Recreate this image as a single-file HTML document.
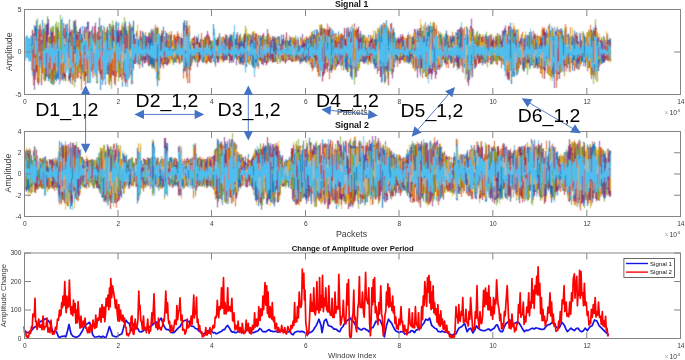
<!DOCTYPE html><html><head><meta charset="utf-8"><style>html,body{margin:0;padding:0;background:#fff;width:685px;height:360px;overflow:hidden}svg{display:block}text{font-family:"Liberation Sans",sans-serif}</style></head><body>
<svg width="685" height="360" viewBox="0 0 685 360">
<defs><filter id="bl" filterUnits="userSpaceOnUse" x="0" y="0" width="685" height="360"><feConvolveMatrix order="3 3" kernelMatrix="0.02 0.06 0.02 0.16 0.48 0.16 0.02 0.06 0.02" edgeMode="none"/></filter></defs>
<defs><clipPath id="c1"><rect x="24.5" y="9.5" width="656" height="85"/></clipPath><clipPath id="c2"><rect x="24.5" y="131.5" width="656" height="85"/></clipPath></defs>
<g fill="none" stroke-width="1" filter="url(#bl)">
<g clip-path="url(#c1)">
<path d="M30.5 51.6V59.4M44.5 34.8V45.3M57.5 51.6V65.0M61.5 28.3V70.3M64.5 43.3V58.0M72.5 40.2V78.4M83.5 37.0V67.1M84.5 32.6V47.9M89.5 46.5V61.3M100.5 32.6V49.0M101.5 25.1V67.4M110.5 36.8V56.0M114.5 48.4V84.4M128.5 26.4V47.3M136.5 54.4V56.4M156.5 32.4V47.7M164.5 42.8V57.7M172.5 45.0V52.7M192.5 46.1V60.2M197.5 37.8V50.7M210.5 43.2V61.2M213.5 24.0V57.4M222.5 49.6V60.9M225.5 38.8V56.9M231.5 49.1V55.8M233.5 32.5V51.4M251.5 45.2V51.4M266.5 44.1V56.9M269.5 40.2V54.8M275.5 52.1V58.9M285.5 38.1V61.8M287.5 44.3V54.7M288.5 42.5V59.7M292.5 43.9V52.3M293.5 39.9V58.4M315.5 49.3V59.8M319.5 54.5V71.0M332.5 30.3V60.7M333.5 57.5V61.2M344.5 47.3V62.1M352.5 53.7V60.6M356.5 30.4V62.7M357.5 30.0V58.8M366.5 40.8V51.9M367.5 54.4V57.8M368.5 34.7V62.3M371.5 44.5V56.4M376.5 54.1V63.9M382.5 27.4V64.7M391.5 46.2V65.2M398.5 57.2V61.0M401.5 50.6V60.0M413.5 54.0V61.7M414.5 49.4V50.8M422.5 46.8V61.4M432.5 25.9V52.1M447.5 49.5V62.2M464.5 40.7V67.3M465.5 47.5V64.7M472.5 32.5V53.6M481.5 38.5V52.6M482.5 58.8V60.7M490.5 44.8V57.7M493.5 48.2V49.1M502.5 39.8V55.3M503.5 43.8V64.9M508.5 27.0V57.5M517.5 29.6V53.7M521.5 43.8V48.5M525.5 46.0V60.2M528.5 55.8V59.0M532.5 47.1V59.8M537.5 40.8V50.6M545.5 36.1V61.3M556.5 35.9V61.1M557.5 45.7V64.8M558.5 52.7V74.4M566.5 41.8V53.3M575.5 41.3V59.7M586.5 47.2V56.8M594.5 44.4V62.6M598.5 58.5V63.3M608.5 47.4V60.6" stroke="#0072BD" stroke-opacity="0.85"/>
<path d="M25.5 49.1V55.9M31.5 55.0V66.6M56.5 50.0V61.2M73.5 34.8V62.6M75.5 26.7V55.2M78.5 32.7V77.6M81.5 53.6V90.0M82.5 41.0V56.1M91.5 50.4V55.5M107.5 32.4V67.1M111.5 41.5V64.3M115.5 37.4V49.9M119.5 38.6V50.8M122.5 43.0V56.7M130.5 24.1V56.4M133.5 61.4V70.6M140.5 31.6V57.8M147.5 46.1V62.1M149.5 40.6V55.9M158.5 45.6V71.0M165.5 46.3V60.9M166.5 50.1V58.2M181.5 52.9V61.8M187.5 56.7V83.2M188.5 37.4V44.9M200.5 47.0V55.8M201.5 36.8V58.1M211.5 48.8V60.0M215.5 40.3V52.2M219.5 49.9V59.1M221.5 41.0V50.8M238.5 37.3V60.1M245.5 39.2V67.9M247.5 44.6V53.4M249.5 49.7V65.0M256.5 34.9V61.9M260.5 41.0V55.0M264.5 45.3V59.3M267.5 39.2V57.5M277.5 46.6V59.7M279.5 37.1V59.2M283.5 37.1V54.4M286.5 34.7V57.6M290.5 50.6V60.3M298.5 40.5V60.6M299.5 53.4V59.9M302.5 42.9V53.8M304.5 37.6V53.7M307.5 37.7V51.1M309.5 44.0V59.6M314.5 52.1V56.5M325.5 50.5V61.9M335.5 42.5V61.3M338.5 45.0V58.5M351.5 33.9V71.6M359.5 41.9V64.1M363.5 42.3V46.8M369.5 45.8V60.8M370.5 39.9V48.5M372.5 52.5V57.2M379.5 27.2V56.2M381.5 40.6V49.4M387.5 40.2V57.1M388.5 31.3V44.1M400.5 51.0V63.2M407.5 40.2V63.1M412.5 50.6V59.4M415.5 49.8V58.9M419.5 49.2V62.3M424.5 31.9V48.8M426.5 26.7V68.0M430.5 52.0V73.6M439.5 34.1V58.8M477.5 38.0V58.7M478.5 45.1V62.6M480.5 36.9V63.2M484.5 48.6V52.7M489.5 38.4V52.7M509.5 25.7V48.3M510.5 35.2V47.5M515.5 57.4V60.7M520.5 50.6V60.8M530.5 40.3V56.1M536.5 44.5V51.8M538.5 57.6V64.7M539.5 36.2V66.8M540.5 47.8V73.4M541.5 40.8V72.6M542.5 43.5V78.0M552.5 33.0V54.0M554.5 39.0V58.5M565.5 24.0V54.1M567.5 44.4V55.2M576.5 40.6V55.0M588.5 55.4V68.3M589.5 43.0V66.0M600.5 55.4V56.2M609.5 46.6V49.5" stroke="#D95319" stroke-opacity="0.85"/>
<path d="M27.5 44.7V55.1M28.5 51.9V55.9M40.5 44.2V59.5M41.5 33.2V64.0M45.5 43.9V78.2M47.5 23.8V63.3M49.5 46.0V53.1M51.5 54.0V68.9M54.5 56.7V57.5M58.5 42.2V55.3M65.5 39.7V63.3M68.5 54.4V78.1M77.5 37.7V54.6M95.5 46.5V76.4M98.5 40.8V56.3M99.5 39.8V42.9M102.5 34.8V59.7M126.5 42.5V61.4M131.5 33.0V50.8M132.5 49.9V67.5M134.5 51.2V59.8M135.5 41.1V63.3M142.5 42.0V49.4M143.5 50.2V60.8M144.5 43.4V59.8M145.5 42.6V55.9M146.5 39.6V53.7M157.5 32.2V79.7M171.5 43.4V56.5M174.5 39.1V53.8M182.5 38.4V60.2M184.5 33.9V72.1M186.5 44.3V78.9M195.5 41.9V59.3M196.5 46.4V54.7M199.5 49.8V54.6M223.5 36.1V62.8M229.5 38.9V51.8M232.5 38.0V52.5M239.5 44.4V59.2M252.5 38.7V65.0M253.5 48.4V65.4M255.5 36.5V58.4M257.5 42.2V62.8M262.5 53.1V62.4M268.5 53.0V59.1M272.5 41.5V54.3M273.5 41.4V58.7M280.5 50.7V61.2M281.5 40.0V53.3M294.5 38.8V52.7M303.5 51.4V60.1M308.5 43.9V50.1M311.5 36.9V66.3M312.5 44.8V59.9M316.5 46.8V64.1M323.5 54.3V64.5M327.5 33.1V61.2M340.5 55.1V62.6M342.5 44.4V59.8M360.5 37.5V59.7M383.5 28.6V58.2M392.5 60.5V73.4M395.5 45.2V54.1M397.5 39.8V61.7M402.5 51.6V60.1M405.5 39.2V55.0M409.5 48.1V50.2M417.5 47.0V60.0M425.5 21.7V69.9M428.5 60.2V68.3M438.5 51.4V64.6M441.5 35.5V53.4M442.5 33.8V50.2M457.5 34.6V49.3M458.5 38.3V52.0M459.5 41.0V64.8M463.5 40.0V63.1M473.5 44.5V56.8M486.5 36.5V50.6M487.5 49.7V57.3M488.5 46.0V60.7M491.5 40.0V56.6M492.5 47.2V64.6M495.5 51.3V63.7M501.5 53.1V60.5M505.5 40.7V60.7M511.5 58.6V82.3M529.5 40.2V46.4M544.5 28.5V54.8M553.5 28.6V56.4M555.5 52.4V71.3M561.5 45.4V67.4M568.5 43.9V50.8M569.5 38.3V59.0M574.5 45.6V59.9M590.5 55.0V64.9M591.5 32.2V74.1M592.5 61.4V66.9M595.5 53.0V75.9M599.5 33.4V51.0M603.5 35.7V51.2M607.5 43.4V54.0M610.5 42.8V62.7" stroke="#EDB120" stroke-opacity="0.85"/>
<path d="M26.5 51.7V54.6M33.5 41.4V70.8M55.5 40.0V51.1M59.5 47.9V62.9M70.5 50.6V83.4M79.5 28.9V46.1M80.5 49.2V79.1M85.5 56.4V84.9M86.5 45.8V73.5M90.5 35.8V47.4M97.5 49.4V83.3M108.5 42.7V51.8M109.5 42.0V53.6M112.5 49.3V68.7M116.5 36.9V63.7M118.5 23.6V51.9M120.5 50.5V77.0M125.5 27.9V70.0M139.5 36.4V63.6M152.5 29.8V62.1M154.5 35.4V68.3M159.5 49.5V76.3M161.5 50.0V62.6M162.5 32.8V52.2M173.5 49.7V61.9M176.5 56.0V57.7M177.5 34.9V56.9M180.5 52.2V62.6M183.5 29.2V56.8M202.5 45.4V59.0M203.5 48.3V61.6M206.5 34.8V54.6M214.5 36.4V56.7M220.5 41.1V53.7M226.5 45.1V55.6M230.5 47.4V56.2M234.5 31.4V54.1M236.5 52.2V58.1M241.5 51.6V55.0M261.5 45.6V64.2M263.5 32.9V59.7M274.5 36.5V52.9M282.5 51.0V60.8M291.5 37.8V58.4M306.5 52.3V57.0M310.5 53.7V64.2M313.5 41.3V54.6M320.5 47.2V55.3M322.5 29.7V63.6M330.5 55.4V70.3M334.5 49.8V54.6M343.5 46.2V55.6M345.5 47.6V49.2M347.5 31.6V55.8M348.5 32.6V65.2M361.5 55.1V60.5M364.5 56.7V63.3M399.5 56.9V61.5M418.5 49.0V61.8M421.5 43.3V64.0M423.5 46.5V61.0M434.5 51.9V72.2M436.5 32.8V74.5M440.5 39.4V56.5M443.5 37.6V49.4M446.5 47.4V61.6M448.5 50.3V56.5M449.5 47.5V57.8M456.5 32.7V44.9M470.5 26.0V63.0M471.5 18.7V63.0M479.5 44.0V63.3M496.5 39.4V64.3M498.5 41.1V56.1M504.5 38.4V64.6M514.5 26.9V55.0M518.5 58.2V59.0M522.5 41.2V53.7M531.5 44.5V63.8M533.5 52.5V62.9M534.5 38.7V52.6M550.5 37.9V62.4M551.5 38.5V62.8M559.5 49.6V75.8M572.5 47.3V67.3M581.5 40.7V63.7M583.5 45.5V66.1M587.5 52.2V62.0M596.5 45.1V66.7" stroke="#7E2F8E" stroke-opacity="0.85"/>
<path d="M29.5 49.3V56.5M32.5 29.6V64.8M37.5 35.4V78.2M38.5 54.5V61.7M52.5 33.1V40.4M60.5 40.8V50.8M62.5 49.8V65.4M63.5 42.8V60.0M66.5 57.4V58.2M69.5 52.7V76.5M71.5 29.8V60.7M76.5 26.3V70.5M88.5 34.9V68.4M96.5 50.1V83.5M103.5 40.3V66.4M105.5 39.4V76.6M106.5 42.6V62.3M113.5 49.0V72.6M121.5 26.1V63.2M127.5 41.8V57.3M137.5 32.0V63.0M138.5 45.4V63.9M148.5 50.8V57.6M153.5 35.5V66.9M163.5 29.8V59.6M175.5 45.8V54.1M189.5 54.3V75.9M190.5 41.0V61.1M193.5 44.5V52.9M194.5 48.3V59.2M198.5 36.2V52.8M204.5 46.0V52.9M209.5 47.4V51.0M216.5 50.6V54.5M217.5 46.6V55.3M218.5 36.3V59.1M224.5 38.5V51.4M227.5 48.0V54.6M240.5 52.4V55.1M242.5 47.7V50.5M243.5 49.2V53.1M244.5 56.8V57.7M250.5 50.2V59.4M259.5 41.1V59.1M270.5 38.2V58.1M271.5 43.2V54.0M276.5 44.2V58.3M278.5 53.4V59.0M305.5 41.2V62.3M321.5 45.6V47.2M329.5 61.5V64.1M337.5 45.0V52.8M350.5 39.8V49.7M355.5 42.6V52.9M358.5 28.4V52.6M362.5 35.3V52.0M365.5 39.3V51.4M373.5 42.9V60.0M380.5 47.9V74.0M386.5 21.6V71.8M390.5 43.0V56.1M396.5 52.7V57.0M404.5 40.5V50.9M406.5 42.7V61.0M411.5 45.8V61.8M427.5 32.8V57.4M429.5 36.2V65.3M433.5 22.6V55.1M437.5 37.5V49.9M450.5 40.0V49.3M451.5 46.7V49.7M455.5 50.0V62.1M460.5 30.7V58.9M462.5 40.8V52.5M466.5 33.8V67.9M467.5 37.6V80.2M468.5 39.7V57.6M485.5 47.5V54.3M500.5 48.0V60.5M507.5 36.3V51.7M516.5 41.9V50.3M519.5 42.8V60.6M523.5 49.0V61.6M524.5 42.5V67.8M526.5 40.8V63.9M527.5 42.5V53.4M535.5 51.4V61.2M546.5 37.2V54.7M548.5 43.6V75.1M549.5 41.5V62.5M563.5 51.5V63.6M570.5 43.6V56.9M571.5 45.2V54.5M578.5 45.1V56.4M579.5 54.4V63.1M602.5 43.8V58.3M605.5 42.2V60.9M606.5 42.5V56.4" stroke="#77AC30" stroke-opacity="0.85"/>
<path d="M34.5 60.4V75.9M35.5 51.7V73.1M36.5 43.7V66.8M39.5 30.4V58.2M46.5 56.2V78.5M50.5 48.1V52.5M53.5 29.0V52.2M87.5 43.5V79.4M93.5 54.0V78.5M104.5 51.4V63.7M117.5 34.7V59.5M129.5 33.6V59.2M150.5 30.6V54.1M151.5 39.9V46.5M155.5 36.7V56.4M167.5 43.5V55.6M168.5 37.8V61.4M170.5 39.8V51.0M178.5 35.6V59.1M185.5 53.5V71.7M208.5 38.0V53.8M228.5 47.7V50.7M237.5 40.9V54.5M254.5 51.2V64.8M265.5 41.4V52.7M300.5 36.2V61.5M301.5 46.4V56.2M324.5 43.4V63.5M326.5 42.3V67.7M328.5 36.2V49.7M331.5 28.3V52.9M346.5 47.2V51.7M349.5 29.7V66.0M353.5 44.9V57.3M378.5 49.5V59.0M384.5 46.1V79.4M389.5 47.9V57.9M403.5 42.0V61.3M410.5 48.7V55.0M445.5 45.8V54.7M452.5 40.9V53.2M453.5 40.4V54.0M461.5 22.2V49.4M475.5 38.0V52.3M476.5 31.9V52.1M506.5 36.4V57.6M543.5 34.0V66.5M547.5 47.4V56.6M577.5 44.4V59.5M580.5 35.4V63.9M582.5 50.9V58.9M585.5 53.3V64.7M604.5 37.6V62.6" stroke="#4DBEEE" stroke-opacity="0.85"/>
<path d="M42.5 45.8V73.6M43.5 43.0V55.6M48.5 44.9V68.5M74.5 37.9V61.8M92.5 43.7V69.2M94.5 48.2V60.6M123.5 43.9V64.3M124.5 43.7V58.2M141.5 51.8V59.7M160.5 40.7V50.9M179.5 43.9V64.0M207.5 48.7V54.7M212.5 50.8V58.4M246.5 52.9V66.6M248.5 52.0V61.9M258.5 34.6V47.3M284.5 52.4V58.3M289.5 43.1V57.9M297.5 38.5V52.3M317.5 40.8V50.4M318.5 32.5V50.6M336.5 47.9V59.6M339.5 51.1V64.5M341.5 45.6V60.5M374.5 47.6V53.1M375.5 32.6V68.0M377.5 32.7V66.6M385.5 30.3V82.1M393.5 57.6V63.3M394.5 37.5V54.8M408.5 43.6V59.5M416.5 43.2V66.7M420.5 56.9V63.6M431.5 42.9V63.5M435.5 29.1V78.8M444.5 53.5V63.0M454.5 38.4V62.3M469.5 37.8V57.6M483.5 45.1V46.9M494.5 43.2V52.2M497.5 33.2V63.5M512.5 42.5V71.8M513.5 51.2V68.5M560.5 36.4V53.4M562.5 54.7V71.9M564.5 58.5V62.1M573.5 38.9V48.5M584.5 43.7V61.3M593.5 39.3V51.6M597.5 45.3V66.7" stroke="#A2142F" stroke-opacity="0.85"/>
<path d="M28.5 41.6V52.1M42.5 19.9V58.4M44.5 31.9V56.0M45.5 25.0V73.5M50.5 29.1V53.9M56.5 44.5V81.2M68.5 51.3V58.2M72.5 54.8V76.6M73.5 23.4V45.6M78.5 31.8V62.7M79.5 58.1V72.9M91.5 34.3V60.6M94.5 54.8V55.8M107.5 26.6V51.6M108.5 37.0V51.6M112.5 55.1V72.6M113.5 25.6V76.1M117.5 31.7V51.3M118.5 22.6V53.8M119.5 30.7V50.9M124.5 22.8V63.6M127.5 45.9V85.7M131.5 56.5V76.6M132.5 29.3V71.9M135.5 53.2V58.5M148.5 53.8V65.6M156.5 37.5V52.2M166.5 52.8V59.9M168.5 45.2V62.9M175.5 39.3V54.1M185.5 40.7V50.6M194.5 45.0V51.4M204.5 50.2V57.4M214.5 44.0V51.9M215.5 45.9V52.7M223.5 49.0V60.2M228.5 38.1V52.5M230.5 36.8V58.6M235.5 41.8V56.4M243.5 39.7V53.6M251.5 38.1V50.9M263.5 36.1V58.3M271.5 42.3V48.6M280.5 47.1V50.1M296.5 52.9V55.3M310.5 57.4V62.0M312.5 41.6V68.7M324.5 33.6V72.9M326.5 47.0V64.5M338.5 42.6V54.1M352.5 50.7V59.2M353.5 29.8V66.6M358.5 39.8V51.8M361.5 57.6V61.2M383.5 22.6V51.1M394.5 37.4V64.4M400.5 51.3V52.6M405.5 42.6V48.9M420.5 37.4V56.4M423.5 49.4V56.8M425.5 55.2V64.3M431.5 53.7V63.2M438.5 36.7V63.1M440.5 55.5V59.6M442.5 52.0V62.3M443.5 36.5V59.5M458.5 36.3V52.6M463.5 29.7V61.0M466.5 27.0V73.4M470.5 49.4V65.8M489.5 38.6V53.7M495.5 36.8V53.5M500.5 49.8V58.7M508.5 40.5V75.5M509.5 52.7V80.5M513.5 43.9V75.7M523.5 49.2V71.4M534.5 47.5V50.1M539.5 46.4V63.8M540.5 46.9V69.4M544.5 29.5V73.9M550.5 30.5V49.9M555.5 32.6V43.2M559.5 36.2V54.9M570.5 34.0V50.2M577.5 42.7V60.9M581.5 44.5V49.8M589.5 31.1V60.2M599.5 38.7V53.5M603.5 39.9V52.6M605.5 52.4V55.5" stroke="#0072BD" stroke-opacity="0.85"/>
<path d="M36.5 27.2V48.5M43.5 30.7V79.5M70.5 31.6V66.7M71.5 52.4V71.9M82.5 44.3V66.0M85.5 39.6V46.7M92.5 46.3V56.3M95.5 45.0V62.0M100.5 27.8V51.5M101.5 41.1V63.1M105.5 46.7V53.4M106.5 51.6V63.2M129.5 40.3V76.4M136.5 48.3V57.9M141.5 40.4V52.2M144.5 42.2V59.2M146.5 42.5V59.2M152.5 35.8V68.8M160.5 44.6V60.3M164.5 55.9V59.4M174.5 46.3V54.0M178.5 42.4V57.5M180.5 42.4V45.8M181.5 43.7V59.5M187.5 56.3V73.0M192.5 54.2V56.1M193.5 40.3V57.6M195.5 42.9V57.4M202.5 39.5V58.8M218.5 45.8V55.3M234.5 40.7V57.7M237.5 45.8V58.0M246.5 39.7V60.6M248.5 39.2V56.9M264.5 39.5V62.0M276.5 42.7V59.6M285.5 40.2V54.2M291.5 51.5V56.5M299.5 50.1V58.9M301.5 38.3V56.0M309.5 45.5V61.7M315.5 46.4V58.6M329.5 29.5V79.2M330.5 48.0V68.7M331.5 53.4V72.9M333.5 30.8V59.0M340.5 41.7V50.9M350.5 52.1V61.4M355.5 45.4V77.7M369.5 40.7V61.7M372.5 36.8V59.5M375.5 55.2V68.9M381.5 30.0V61.4M386.5 25.9V68.4M389.5 45.2V67.6M390.5 52.6V59.6M393.5 28.2V58.7M413.5 33.1V58.7M417.5 43.1V62.5M445.5 41.1V53.3M447.5 34.9V51.3M449.5 46.6V53.4M457.5 47.0V55.5M468.5 44.2V83.0M471.5 54.0V66.3M475.5 46.3V67.6M476.5 46.9V58.4M485.5 53.4V63.1M492.5 44.7V59.9M497.5 46.0V65.4M499.5 52.4V57.8M504.5 30.7V65.0M514.5 42.8V63.4M518.5 50.5V63.2M522.5 53.6V69.2M526.5 43.8V57.7M545.5 58.3V72.3M552.5 42.4V47.4M563.5 58.1V62.9M564.5 29.5V75.7M568.5 41.7V64.0M575.5 53.6V67.2M578.5 53.6V65.1M583.5 41.1V56.4M586.5 40.3V56.4M587.5 50.3V59.7M595.5 30.9V69.7M596.5 35.9V42.6M600.5 41.1V62.5M610.5 41.8V56.9" stroke="#D95319" stroke-opacity="0.85"/>
<path d="M27.5 38.5V57.7M30.5 45.3V52.4M31.5 45.7V58.9M35.5 32.1V60.6M46.5 39.4V52.8M48.5 39.6V58.6M53.5 44.4V65.1M57.5 48.0V70.6M66.5 57.1V63.3M69.5 34.2V60.5M77.5 44.5V71.5M88.5 42.8V63.0M90.5 36.3V62.6M102.5 37.1V53.2M109.5 37.8V62.6M114.5 38.7V41.5M120.5 29.6V56.0M121.5 24.8V51.1M125.5 36.2V66.4M138.5 50.6V54.7M139.5 51.7V57.2M153.5 28.7V54.1M154.5 44.0V45.5M161.5 42.0V55.2M165.5 31.6V55.9M176.5 42.4V50.3M184.5 20.3V55.2M186.5 31.0V54.4M198.5 37.8V59.4M200.5 40.5V52.0M212.5 40.3V52.5M213.5 35.5V61.4M219.5 38.1V55.9M221.5 46.1V59.7M224.5 41.9V61.0M225.5 54.6V56.7M226.5 39.2V51.3M239.5 37.1V53.1M241.5 37.8V54.3M242.5 42.0V50.6M257.5 35.1V63.9M259.5 49.2V59.9M260.5 50.7V56.2M267.5 44.3V57.1M273.5 50.0V58.8M277.5 45.0V51.1M278.5 54.5V56.2M282.5 54.0V58.2M287.5 40.5V51.4M288.5 46.9V51.1M297.5 49.7V53.2M304.5 50.5V60.7M307.5 43.8V63.7M313.5 40.8V57.7M318.5 34.4V68.7M320.5 39.6V61.5M321.5 55.1V70.6M322.5 46.1V54.3M323.5 48.8V49.7M325.5 29.4V72.6M341.5 35.3V70.3M347.5 39.3V64.7M351.5 41.0V56.9M359.5 42.8V66.8M365.5 39.4V49.0M367.5 49.7V64.5M370.5 41.4V56.5M382.5 47.7V63.6M385.5 26.0V55.3M388.5 43.7V46.1M398.5 47.5V51.3M401.5 52.3V57.4M403.5 49.3V53.6M411.5 36.8V53.7M416.5 37.4V56.9M429.5 39.1V49.6M432.5 22.8V56.0M450.5 52.2V61.1M454.5 38.3V64.6M472.5 32.9V57.9M482.5 34.1V61.1M483.5 42.4V51.9M493.5 46.5V51.0M496.5 42.5V63.0M502.5 32.6V64.1M503.5 39.4V56.9M506.5 50.7V71.7M516.5 37.3V62.5M524.5 35.6V72.0M547.5 56.3V70.9M560.5 33.9V73.0M562.5 31.8V62.4M569.5 51.1V69.7M572.5 27.5V68.3M579.5 43.0V50.9M584.5 40.3V61.0M585.5 42.0V60.0M591.5 59.1V70.2M598.5 45.0V64.1M602.5 39.6V57.6M606.5 31.3V52.6M607.5 54.3V59.9M608.5 40.6V57.7" stroke="#EDB120" stroke-opacity="0.85"/>
<path d="M25.5 40.5V52.8M38.5 56.8V75.7M40.5 41.4V58.5M49.5 42.8V57.0M51.5 56.4V60.5M54.5 44.1V68.6M58.5 53.6V72.6M61.5 50.2V79.1M65.5 42.4V51.7M83.5 46.6V50.8M84.5 51.9V68.1M86.5 27.0V75.6M87.5 21.7V74.6M98.5 27.1V53.5M104.5 35.8V62.5M110.5 29.6V78.4M111.5 52.9V76.7M115.5 50.7V73.5M130.5 37.9V68.2M134.5 49.7V54.6M137.5 33.9V56.8M140.5 51.3V63.4M147.5 44.7V61.2M158.5 39.4V62.2M163.5 48.9V58.7M167.5 52.0V60.6M169.5 47.2V57.9M172.5 52.3V61.5M183.5 27.2V73.3M188.5 39.6V65.7M189.5 45.6V50.6M199.5 49.9V56.2M210.5 41.2V52.1M211.5 50.3V53.4M227.5 55.3V56.5M232.5 52.7V54.1M238.5 46.2V50.8M240.5 36.1V54.2M244.5 58.4V60.4M245.5 42.7V50.4M247.5 52.9V55.4M249.5 46.2V55.0M254.5 56.3V65.6M255.5 33.3V53.9M266.5 42.8V57.5M284.5 45.7V61.1M286.5 45.8V57.5M289.5 48.4V55.1M308.5 54.1V59.5M311.5 41.5V67.0M314.5 43.9V57.5M316.5 48.7V52.9M317.5 47.6V54.9M319.5 32.2V60.2M334.5 37.7V49.2M335.5 36.1V54.0M343.5 51.5V70.4M344.5 44.1V61.8M348.5 39.4V53.7M364.5 42.8V63.6M366.5 48.0V61.0M371.5 40.7V57.6M373.5 40.9V52.6M374.5 42.7V59.1M376.5 48.7V64.4M377.5 50.5V67.4M378.5 53.0V64.2M387.5 35.9V74.3M391.5 33.7V68.9M419.5 28.2V70.5M421.5 36.4V66.4M430.5 39.4V70.2M433.5 35.8V56.9M436.5 61.7V74.4M453.5 46.8V62.7M455.5 37.0V56.3M460.5 44.0V57.3M465.5 43.7V74.3M467.5 53.2V73.2M469.5 43.4V45.0M473.5 37.0V52.6M474.5 45.5V55.0M478.5 41.6V58.2M479.5 43.5V56.2M490.5 42.0V60.9M510.5 45.8V65.8M511.5 42.2V49.1M515.5 45.6V56.0M517.5 43.3V74.6M527.5 45.2V62.5M528.5 50.7V61.1M530.5 40.4V49.4M532.5 43.1V63.4M535.5 34.3V46.2M537.5 48.2V58.3M548.5 39.8V70.5M549.5 37.6V49.1M554.5 43.0V76.2M574.5 44.6V68.5M580.5 55.1V66.2M582.5 46.2V61.0M588.5 37.5V60.8M593.5 35.4V59.7M594.5 44.7V72.5M601.5 43.7V50.0M609.5 45.5V50.7" stroke="#7E2F8E" stroke-opacity="0.85"/>
<path d="M26.5 42.4V55.4M32.5 37.8V54.9M34.5 45.7V69.9M39.5 53.2V68.7M41.5 39.0V46.8M55.5 26.7V58.7M63.5 55.1V81.1M75.5 49.3V65.6M89.5 37.7V44.7M97.5 34.0V73.7M103.5 44.1V62.2M116.5 23.8V60.2M126.5 33.6V77.8M142.5 44.7V67.2M145.5 45.1V51.9M150.5 37.6V57.0M151.5 55.4V65.3M157.5 45.8V82.5M162.5 41.3V61.8M170.5 38.2V55.7M171.5 42.7V50.2M177.5 33.3V53.3M179.5 36.6V54.3M191.5 38.9V65.8M196.5 38.4V60.2M197.5 45.0V57.7M203.5 44.6V56.6M205.5 46.5V51.0M206.5 45.6V64.3M207.5 50.8V58.9M208.5 43.1V57.0M222.5 47.7V51.9M265.5 45.6V57.9M268.5 45.0V52.0M269.5 36.8V50.1M272.5 53.3V57.7M274.5 54.7V58.2M275.5 48.0V54.2M279.5 52.9V60.6M281.5 52.4V57.5M290.5 52.1V56.3M292.5 44.6V50.3M294.5 43.5V54.3M298.5 51.6V54.3M300.5 38.2V61.8M303.5 45.4V51.5M305.5 41.8V62.3M306.5 40.4V47.5M327.5 46.5V56.0M328.5 44.9V61.4M332.5 52.5V67.8M336.5 43.5V55.0M337.5 48.5V54.1M346.5 32.2V60.9M349.5 34.9V51.0M354.5 45.6V71.3M356.5 42.5V63.7M360.5 39.3V51.8M363.5 37.1V59.8M368.5 45.4V60.2M392.5 32.3V68.9M397.5 45.7V55.1M410.5 35.7V50.2M414.5 37.5V51.9M422.5 43.9V53.2M441.5 34.0V57.9M444.5 40.2V60.5M446.5 43.0V57.4M452.5 42.9V49.9M486.5 31.7V49.6M488.5 51.2V55.0M494.5 49.2V60.5M501.5 38.8V63.7M505.5 56.3V63.1M512.5 31.9V58.6M519.5 53.3V57.1M520.5 39.5V62.8M521.5 49.2V64.1M525.5 44.4V65.1M531.5 53.8V61.0M536.5 41.5V61.4M542.5 43.9V64.6M543.5 57.6V68.6M551.5 39.3V55.2M557.5 45.9V60.5M566.5 37.7V54.1M567.5 44.9V47.8M576.5 42.8V69.3M604.5 44.1V49.8" stroke="#77AC30" stroke-opacity="0.85"/>
<path d="M29.5 53.3V57.4M52.5 25.4V72.0M59.5 37.2V60.6M64.5 44.4V45.4M74.5 21.0V60.4M80.5 27.3V57.2M123.5 30.4V79.6M128.5 34.7V72.7M133.5 32.1V58.1M143.5 41.3V62.3M190.5 48.2V66.4M216.5 49.9V58.5M217.5 40.9V58.6M231.5 38.8V59.0M233.5 42.5V61.2M252.5 52.8V60.5M258.5 41.1V50.8M283.5 35.2V49.4M293.5 44.5V57.5M339.5 47.2V53.5M345.5 48.8V64.5M357.5 40.1V68.6M402.5 47.2V58.7M406.5 52.3V61.8M409.5 35.0V60.1M415.5 41.9V60.3M418.5 35.6V62.2M428.5 60.8V83.3M434.5 48.3V68.1M435.5 33.6V53.8M459.5 30.1V56.7M462.5 37.6V50.8M464.5 42.7V67.9M481.5 40.3V62.2M487.5 44.6V57.7M529.5 48.7V63.8M541.5 39.4V69.4M546.5 30.7V54.9M553.5 38.1V75.4M556.5 28.0V63.8M558.5 35.4V55.4M561.5 36.3V59.2M565.5 40.1V50.5M573.5 42.5V58.7M592.5 44.8V50.4M597.5 55.8V63.7" stroke="#4DBEEE" stroke-opacity="0.85"/>
<path d="M33.5 33.5V65.7M37.5 33.4V60.1M47.5 29.6V76.8M60.5 37.9V54.7M76.5 36.4V64.9M96.5 56.0V74.8M99.5 60.0V72.5M122.5 45.8V69.7M149.5 54.2V57.3M155.5 41.3V48.3M159.5 39.2V66.6M173.5 38.3V57.9M182.5 50.1V60.6M201.5 44.8V60.4M209.5 45.4V56.7M229.5 50.9V63.1M236.5 54.3V57.1M253.5 51.2V57.5M256.5 50.6V63.4M295.5 37.2V52.9M302.5 45.7V54.3M342.5 41.6V65.3M362.5 37.4V57.5M379.5 31.4V60.6M396.5 43.1V55.4M399.5 44.7V52.6M404.5 55.7V56.8M407.5 36.7V54.5M412.5 39.7V64.4M424.5 27.6V53.7M426.5 27.9V51.6M427.5 27.4V62.3M437.5 40.2V70.1M439.5 45.3V66.8M448.5 44.4V51.0M456.5 44.0V51.5M461.5 47.0V58.6M480.5 44.8V60.2M484.5 47.8V61.5M491.5 38.2V55.9M498.5 48.9V56.8M507.5 43.2V51.1M538.5 41.2V56.1M571.5 36.8V60.4M590.5 35.5V60.4" stroke="#A2142F" stroke-opacity="0.85"/>
<path d="M32.5 40.7V74.7M36.5 20.3V68.0M38.5 29.1V61.6M39.5 28.6V49.5M48.5 40.6V65.3M53.5 56.2V85.1M69.5 19.3V51.0M78.5 43.8V61.1M86.5 51.2V73.1M92.5 26.6V51.1M99.5 42.6V73.2M102.5 34.9V84.9M104.5 27.3V58.9M122.5 46.9V65.8M130.5 32.3V48.1M134.5 43.3V53.3M140.5 54.4V63.5M148.5 38.4V66.2M149.5 42.5V53.8M155.5 48.0V67.0M163.5 26.6V50.3M167.5 56.6V57.6M182.5 38.5V60.6M185.5 37.3V65.0M188.5 56.1V62.9M189.5 54.3V64.0M190.5 43.4V56.6M195.5 46.8V60.9M199.5 45.8V52.6M200.5 38.9V54.8M202.5 45.2V55.6M204.5 37.8V52.1M212.5 51.8V55.3M215.5 52.9V64.3M220.5 43.2V56.6M223.5 41.1V58.9M227.5 53.1V57.7M247.5 34.1V52.7M259.5 48.0V58.2M263.5 35.6V61.5M277.5 45.6V59.5M286.5 36.4V55.5M287.5 39.4V58.1M294.5 42.4V50.4M304.5 49.2V56.5M310.5 39.6V57.8M315.5 35.4V49.0M320.5 50.5V62.8M326.5 41.6V59.4M337.5 51.5V62.5M339.5 55.9V59.5M341.5 33.1V63.0M343.5 58.6V65.9M344.5 42.8V60.8M347.5 42.5V50.5M348.5 38.9V62.0M359.5 41.2V52.0M362.5 40.8V51.6M370.5 46.7V55.0M378.5 30.4V59.3M388.5 57.5V75.7M410.5 43.6V50.6M411.5 45.3V51.7M417.5 31.5V60.2M421.5 31.6V57.6M427.5 31.5V78.2M429.5 37.4V61.4M439.5 38.7V60.1M444.5 51.8V62.2M445.5 51.8V57.8M473.5 49.3V61.9M474.5 43.4V69.1M475.5 49.0V62.8M477.5 41.2V58.6M479.5 46.2V51.5M481.5 43.0V62.8M484.5 55.0V61.2M490.5 45.1V50.7M491.5 48.1V62.9M494.5 49.4V58.0M498.5 38.0V54.4M500.5 37.5V48.8M501.5 47.9V68.3M506.5 33.4V70.2M512.5 29.3V48.7M532.5 54.4V65.9M545.5 35.0V59.8M546.5 54.3V60.8M548.5 46.2V52.5M558.5 29.0V46.8M567.5 45.5V54.6M573.5 39.7V51.1M575.5 53.8V62.9M579.5 38.7V68.9M586.5 52.1V54.0M587.5 44.7V54.0M591.5 39.9V79.2M600.5 53.2V64.5M607.5 47.2V52.5M609.5 47.2V58.3" stroke="#0072BD" stroke-opacity="0.85"/>
<path d="M26.5 48.1V54.4M27.5 47.1V57.2M35.5 26.2V58.2M46.5 43.2V71.0M54.5 35.9V83.3M55.5 34.9V74.1M58.5 58.1V59.0M62.5 52.5V75.8M63.5 39.4V63.4M64.5 43.2V52.8M68.5 41.5V71.1M73.5 37.4V49.4M100.5 29.3V43.2M101.5 42.6V79.6M103.5 45.9V71.0M107.5 53.4V74.1M118.5 35.7V65.9M126.5 40.7V62.2M139.5 41.6V55.1M158.5 33.0V65.2M159.5 56.8V80.6M160.5 36.3V50.8M168.5 50.7V63.8M169.5 47.8V55.5M179.5 41.6V55.9M201.5 33.0V55.7M207.5 39.3V52.8M209.5 36.5V56.4M228.5 39.4V54.0M239.5 38.1V56.2M240.5 35.5V55.6M241.5 43.3V53.8M244.5 42.3V52.1M249.5 41.8V59.1M251.5 38.5V56.4M253.5 50.1V63.7M258.5 52.4V68.8M261.5 38.6V60.8M265.5 39.8V55.6M275.5 51.4V57.9M284.5 40.5V54.2M291.5 36.9V56.2M303.5 45.4V61.2M312.5 30.9V71.3M313.5 51.1V68.9M333.5 43.2V65.0M335.5 48.8V70.0M349.5 46.7V49.0M351.5 27.5V49.1M357.5 28.9V66.3M360.5 51.5V61.3M371.5 41.3V60.0M375.5 51.4V62.0M376.5 54.1V62.8M390.5 23.7V70.6M391.5 24.7V45.7M402.5 49.6V53.6M404.5 45.4V59.2M405.5 49.6V58.5M416.5 53.2V68.8M431.5 26.5V70.5M432.5 43.4V51.4M434.5 44.5V63.1M436.5 42.2V70.9M438.5 49.4V59.4M440.5 37.7V54.7M457.5 41.0V52.5M458.5 38.1V66.2M459.5 56.2V57.8M461.5 32.9V61.8M464.5 27.1V44.8M466.5 37.7V45.5M472.5 27.9V68.2M487.5 41.7V56.1M493.5 39.1V59.9M505.5 38.5V60.9M511.5 62.6V69.5M513.5 34.4V71.6M516.5 45.3V60.7M520.5 45.0V64.7M521.5 39.5V58.9M535.5 40.7V52.4M543.5 43.0V64.8M549.5 43.8V63.9M551.5 58.5V64.3M561.5 33.9V65.4M564.5 58.6V69.4M580.5 43.2V63.7M585.5 47.3V58.6M593.5 48.3V72.7M601.5 41.6V57.1M602.5 52.3V54.9M603.5 49.3V57.8M605.5 40.4V59.2" stroke="#D95319" stroke-opacity="0.85"/>
<path d="M31.5 35.0V50.5M33.5 37.7V63.6M34.5 32.2V44.6M40.5 56.4V64.0M42.5 41.4V52.5M44.5 52.7V68.2M47.5 42.3V61.4M59.5 39.4V48.8M66.5 26.5V65.3M67.5 60.3V63.4M80.5 34.9V48.7M88.5 47.9V74.4M90.5 35.0V51.0M93.5 44.6V57.5M96.5 42.5V59.5M105.5 37.1V50.2M113.5 31.9V68.8M124.5 57.6V60.2M125.5 29.3V46.7M128.5 40.7V60.6M132.5 42.6V75.1M133.5 42.5V57.7M141.5 36.8V57.6M161.5 29.8V55.2M173.5 37.5V50.2M197.5 50.2V62.7M203.5 44.8V51.2M210.5 39.3V48.9M211.5 42.8V54.8M216.5 39.8V58.2M218.5 41.4V56.7M222.5 38.5V51.7M225.5 44.9V51.6M234.5 30.4V52.0M243.5 49.4V62.0M254.5 36.5V47.6M260.5 47.1V56.0M267.5 45.2V52.0M271.5 48.0V52.7M289.5 47.4V58.8M295.5 47.3V60.6M298.5 54.2V58.5M305.5 43.5V50.1M314.5 36.9V65.1M317.5 40.0V50.0M334.5 47.7V64.1M336.5 49.5V56.5M340.5 40.0V59.6M350.5 46.4V75.5M352.5 25.0V78.8M355.5 30.1V60.0M363.5 46.4V64.2M364.5 42.9V56.2M369.5 45.1V61.2M374.5 52.5V66.3M385.5 56.5V75.3M386.5 60.0V72.0M387.5 36.8V70.3M394.5 33.4V55.2M412.5 42.4V61.0M418.5 34.8V59.9M426.5 41.9V77.6M437.5 39.6V49.2M454.5 56.0V57.0M456.5 44.9V60.6M463.5 29.7V73.6M468.5 59.9V79.3M478.5 50.2V56.1M486.5 50.4V59.7M489.5 53.9V56.7M496.5 41.7V54.8M510.5 40.5V50.9M523.5 40.8V48.5M524.5 35.5V66.9M526.5 41.1V51.2M527.5 41.6V63.1M528.5 45.8V64.4M531.5 54.2V64.9M534.5 42.8V49.6M539.5 38.0V54.6M553.5 31.7V66.3M563.5 55.6V70.1M568.5 50.5V60.4M572.5 40.4V54.1M576.5 40.7V61.5M578.5 47.8V68.2M589.5 46.4V68.3M592.5 41.6V52.3M594.5 46.3V77.2M604.5 47.1V54.5" stroke="#EDB120" stroke-opacity="0.85"/>
<path d="M28.5 43.8V56.8M30.5 48.3V55.0M45.5 54.7V69.3M50.5 53.7V70.1M51.5 54.3V76.9M60.5 26.4V63.3M71.5 38.7V56.1M76.5 53.7V64.7M82.5 32.5V53.3M89.5 35.2V50.3M106.5 39.0V62.7M109.5 23.7V85.2M114.5 38.1V61.8M120.5 32.0V66.8M123.5 26.7V58.0M129.5 28.9V62.7M131.5 47.2V81.0M143.5 34.1V58.6M145.5 39.7V52.0M151.5 28.9V52.9M156.5 36.2V48.1M157.5 28.5V62.1M164.5 36.4V53.3M165.5 30.9V58.1M170.5 46.6V58.4M171.5 48.9V59.0M172.5 43.3V53.0M174.5 34.4V60.9M178.5 61.1V62.4M181.5 36.2V56.4M184.5 39.6V45.6M186.5 50.1V73.2M193.5 45.2V57.4M196.5 40.8V56.8M198.5 44.1V58.4M219.5 46.9V57.9M221.5 40.3V58.6M224.5 41.8V54.1M248.5 41.9V59.4M250.5 41.8V53.9M256.5 53.0V62.8M269.5 46.2V59.9M272.5 47.2V60.3M273.5 49.3V57.4M276.5 43.2V59.8M278.5 52.4V55.3M279.5 47.5V58.7M281.5 42.2V56.5M283.5 34.6V50.9M288.5 48.4V57.8M290.5 37.3V51.6M292.5 38.9V61.8M297.5 41.4V54.4M299.5 48.1V62.3M307.5 45.2V51.8M323.5 28.8V44.3M325.5 54.9V57.5M330.5 31.5V59.0M331.5 35.7V64.3M342.5 35.3V60.7M346.5 28.3V63.0M354.5 23.5V58.8M356.5 56.4V66.1M358.5 27.6V60.2M367.5 46.2V50.3M368.5 53.5V64.5M373.5 34.4V64.2M382.5 28.7V57.6M383.5 29.3V57.5M384.5 24.9V60.3M389.5 47.2V70.6M395.5 39.6V55.7M403.5 36.6V53.3M406.5 47.9V55.0M408.5 39.8V51.7M422.5 42.8V70.7M430.5 31.6V56.8M433.5 45.3V53.5M447.5 38.4V55.6M452.5 38.3V54.7M469.5 29.6V60.2M470.5 33.0V56.6M480.5 42.4V50.9M482.5 52.7V65.5M483.5 40.8V59.2M488.5 38.1V53.8M492.5 53.8V64.0M503.5 32.1V52.3M507.5 48.6V79.3M518.5 36.6V60.4M530.5 51.3V66.3M536.5 41.7V54.5M540.5 53.9V68.7M552.5 35.4V44.2M557.5 27.2V67.6M571.5 38.6V61.2M577.5 47.1V49.8M590.5 30.3V61.9M595.5 25.7V77.9" stroke="#7E2F8E" stroke-opacity="0.85"/>
<path d="M29.5 49.9V58.0M37.5 18.2V56.0M57.5 33.4V53.9M61.5 35.9V74.9M65.5 58.9V61.0M74.5 36.0V66.1M75.5 44.6V74.9M79.5 37.6V65.1M84.5 31.9V51.5M85.5 47.8V81.1M87.5 55.3V62.3M91.5 51.3V66.2M94.5 42.6V56.9M95.5 31.2V67.5M97.5 32.0V55.5M98.5 43.7V63.2M108.5 29.8V83.4M110.5 24.0V71.6M112.5 20.3V53.7M115.5 26.9V62.2M116.5 28.7V65.5M117.5 34.1V72.7M136.5 30.8V54.4M144.5 39.0V53.0M162.5 52.6V65.6M176.5 39.4V61.0M180.5 52.3V53.6M183.5 40.0V46.7M187.5 46.3V62.3M192.5 44.1V58.8M208.5 35.3V57.4M214.5 48.2V55.4M217.5 52.4V59.9M233.5 38.9V53.8M237.5 45.0V57.7M238.5 41.5V55.3M245.5 53.9V59.0M246.5 45.5V61.0M255.5 46.1V66.8M282.5 41.1V54.7M285.5 40.3V51.1M293.5 53.7V61.2M301.5 50.6V60.6M302.5 44.6V62.6M306.5 41.7V50.9M309.5 36.9V53.6M311.5 52.0V63.6M316.5 38.2V64.9M319.5 50.5V74.8M321.5 31.7V51.7M322.5 31.6V57.7M329.5 37.9V65.9M338.5 44.5V63.4M345.5 47.4V59.6M353.5 35.3V44.7M365.5 42.2V61.2M377.5 56.2V62.6M379.5 29.5V60.9M380.5 50.4V60.1M393.5 39.2V53.3M396.5 39.0V49.7M409.5 40.6V52.6M414.5 35.4V61.2M415.5 43.9V64.0M419.5 44.0V54.5M420.5 43.4V55.7M423.5 42.6V53.4M428.5 27.9V67.3M435.5 54.1V58.7M442.5 40.9V59.6M443.5 48.5V58.2M448.5 42.4V50.7M460.5 35.1V64.2M465.5 42.9V79.3M471.5 31.3V57.0M476.5 32.7V57.3M497.5 35.8V54.8M514.5 34.6V61.4M515.5 45.2V69.1M522.5 32.6V69.5M529.5 39.0V69.8M533.5 36.6V51.9M538.5 44.2V58.1M544.5 48.9V52.5M550.5 52.6V64.1M555.5 54.0V64.8M556.5 34.1V57.3M559.5 34.7V49.9M560.5 37.6V55.2M574.5 40.1V53.2M581.5 46.7V51.2M583.5 56.4V60.2M596.5 38.3V45.1M597.5 56.7V81.5M608.5 41.5V50.1" stroke="#77AC30" stroke-opacity="0.85"/>
<path d="M41.5 49.8V64.2M70.5 35.5V49.3M72.5 41.5V67.9M77.5 33.7V76.9M81.5 34.2V59.9M111.5 32.8V73.1M119.5 49.7V73.6M135.5 42.8V63.6M137.5 40.3V62.9M142.5 53.3V60.1M153.5 40.1V54.1M175.5 45.9V60.8M191.5 50.4V61.2M194.5 44.5V59.9M205.5 43.3V51.3M226.5 44.9V52.2M229.5 44.3V59.9M230.5 41.8V50.6M236.5 41.1V55.5M264.5 41.9V55.8M266.5 39.0V49.5M268.5 42.2V49.3M280.5 53.8V63.0M296.5 49.2V58.5M308.5 48.4V57.2M332.5 29.5V55.0M366.5 49.9V63.8M372.5 50.0V61.7M381.5 53.7V55.9M392.5 47.2V62.1M397.5 53.7V61.6M398.5 42.3V51.0M399.5 47.3V60.1M400.5 38.6V57.4M407.5 40.6V59.5M413.5 50.8V55.5M424.5 38.2V65.4M441.5 54.2V57.2M446.5 39.0V55.5M451.5 37.1V58.9M502.5 40.2V59.7M509.5 38.9V80.6M519.5 48.0V67.1M537.5 47.2V60.7M542.5 35.8V64.8M562.5 42.6V62.9M566.5 32.4V50.2M569.5 53.3V64.0M584.5 41.6V50.9M588.5 54.3V66.4" stroke="#4DBEEE" stroke-opacity="0.85"/>
<path d="M25.5 49.1V57.1M52.5 43.0V80.3M56.5 42.3V68.5M83.5 43.9V59.0M127.5 37.2V51.4M138.5 44.1V55.0M146.5 42.6V49.2M147.5 47.1V62.5M150.5 39.0V64.4M152.5 40.2V68.2M166.5 32.7V56.7M177.5 34.1V53.7M206.5 46.9V63.6M231.5 41.5V50.5M235.5 46.2V52.5M242.5 43.1V52.4M252.5 57.6V58.3M257.5 50.8V66.3M262.5 34.9V51.4M300.5 52.8V56.0M327.5 47.9V51.3M361.5 42.6V54.0M425.5 27.7V71.3M450.5 49.8V53.7M453.5 46.6V58.2M455.5 42.4V60.9M462.5 31.8V67.5M467.5 46.5V61.7M485.5 52.6V64.2M499.5 41.6V59.0M504.5 28.4V69.6M508.5 26.1V79.7M517.5 39.5V64.9M525.5 50.4V59.5M541.5 52.3V73.7M547.5 39.3V69.6M554.5 39.3V60.8M565.5 45.7V58.4M570.5 43.0V47.3M582.5 42.7V60.1M598.5 50.4V70.9M599.5 45.5V63.1M606.5 36.5V54.2M610.5 38.7V61.1" stroke="#A2142F" stroke-opacity="0.85"/>
<path d="M27.5 38.7V51.2M40.5 56.6V59.2M43.5 28.3V52.8M45.5 44.3V75.8M47.5 16.3V48.5M59.5 37.2V72.1M63.5 42.5V52.9M64.5 39.1V78.9M65.5 31.4V77.7M68.5 58.7V66.5M70.5 46.1V81.6M77.5 32.8V57.6M85.5 40.5V50.8M90.5 42.0V49.6M96.5 37.3V52.1M109.5 38.2V61.5M110.5 32.0V73.6M111.5 38.6V48.3M115.5 45.8V51.4M118.5 42.7V66.3M120.5 39.7V75.5M122.5 27.4V86.7M123.5 41.9V57.7M129.5 55.6V77.3M139.5 40.1V54.9M144.5 49.1V57.7M147.5 40.5V60.2M155.5 32.8V64.8M164.5 52.0V56.7M171.5 34.1V56.9M182.5 44.2V60.6M183.5 43.8V63.5M193.5 46.5V51.4M196.5 36.2V52.8M197.5 43.3V51.4M201.5 45.9V53.2M206.5 38.5V61.5M207.5 50.8V60.2M214.5 42.3V55.4M217.5 51.8V57.0M219.5 37.8V55.8M228.5 45.2V54.0M232.5 39.5V59.4M237.5 32.1V49.9M248.5 36.7V58.1M259.5 57.0V58.3M262.5 46.9V52.8M298.5 48.8V54.1M303.5 48.0V55.2M304.5 42.6V60.5M305.5 40.9V61.3M314.5 29.9V54.4M319.5 34.2V75.5M322.5 43.3V63.8M324.5 29.3V63.6M325.5 29.4V68.5M327.5 32.9V53.3M334.5 37.2V65.8M341.5 43.2V50.6M348.5 39.5V67.3M350.5 38.7V76.6M357.5 45.6V54.6M358.5 44.1V51.5M360.5 47.2V62.0M370.5 53.2V55.1M372.5 45.1V50.8M374.5 39.4V67.3M380.5 41.9V51.2M387.5 31.9V53.3M389.5 58.1V59.4M392.5 33.4V52.4M404.5 57.3V58.2M431.5 26.6V50.5M448.5 46.2V61.6M449.5 47.8V55.7M453.5 36.1V61.4M454.5 47.8V65.6M455.5 45.3V54.4M460.5 54.3V58.0M461.5 35.7V65.9M462.5 52.7V58.9M464.5 40.3V48.6M466.5 33.2V64.4M467.5 28.3V55.4M478.5 37.5V49.2M486.5 43.0V49.8M487.5 49.2V52.9M494.5 43.7V58.7M499.5 37.4V55.0M505.5 35.9V58.9M520.5 46.3V52.5M528.5 43.9V52.1M529.5 37.7V59.9M548.5 28.5V69.1M560.5 28.8V52.9M562.5 30.7V65.0M566.5 59.4V67.4M567.5 38.7V57.3M568.5 34.3V53.9M570.5 59.7V62.4M576.5 32.1V65.8M606.5 53.4V55.7M608.5 40.0V51.6" stroke="#0072BD" stroke-opacity="0.85"/>
<path d="M26.5 53.9V54.6M34.5 39.7V43.8M42.5 41.2V49.1M48.5 34.2V64.1M66.5 45.2V60.5M69.5 41.8V69.5M71.5 45.7V60.5M72.5 54.5V68.2M74.5 33.8V51.8M79.5 50.1V68.6M80.5 43.0V60.2M81.5 40.1V56.0M83.5 36.0V48.8M84.5 45.5V76.3M86.5 40.8V54.8M97.5 31.6V56.0M102.5 52.9V60.8M103.5 33.1V66.2M121.5 32.8V55.0M128.5 51.8V73.4M130.5 30.8V52.5M135.5 48.6V60.0M137.5 46.4V54.5M140.5 35.2V52.4M142.5 34.9V63.6M148.5 56.0V65.9M150.5 41.4V57.7M161.5 41.4V59.4M162.5 38.0V60.2M167.5 44.7V56.5M190.5 50.7V56.5M199.5 48.4V53.3M200.5 51.7V57.6M203.5 44.6V57.8M204.5 50.0V61.4M220.5 46.1V54.3M222.5 37.1V57.3M226.5 38.0V48.6M227.5 44.5V55.9M231.5 38.6V53.4M235.5 51.1V54.4M241.5 44.5V52.4M242.5 37.9V63.7M246.5 48.4V64.8M252.5 32.9V60.5M254.5 44.0V68.3M255.5 35.3V47.6M257.5 39.7V51.9M258.5 43.8V62.2M263.5 47.1V50.0M267.5 46.3V51.2M269.5 50.3V58.3M276.5 45.1V60.8M277.5 45.3V64.0M285.5 50.8V57.2M287.5 47.8V49.4M290.5 42.5V50.9M293.5 37.0V51.2M294.5 38.5V51.5M311.5 32.2V61.5M316.5 45.4V52.4M320.5 31.5V62.5M331.5 38.1V71.3M332.5 55.4V70.2M356.5 41.0V65.8M363.5 53.9V59.5M377.5 44.0V74.0M378.5 60.8V71.1M400.5 42.3V58.1M401.5 44.1V51.1M402.5 37.8V59.6M410.5 48.4V58.9M418.5 37.1V45.9M438.5 52.4V68.4M446.5 52.0V67.7M459.5 45.8V52.1M468.5 54.2V81.5M469.5 45.9V63.0M474.5 36.4V52.0M476.5 49.1V64.4M482.5 48.4V58.1M500.5 37.5V60.7M501.5 42.3V64.4M502.5 40.0V49.1M503.5 51.3V58.2M511.5 47.4V60.8M519.5 46.8V67.8M521.5 46.2V58.1M534.5 54.0V56.3M535.5 50.8V61.8M539.5 46.5V59.3M549.5 42.9V58.8M550.5 34.3V47.8M554.5 53.6V71.1M558.5 38.0V63.0M574.5 47.8V62.5M582.5 39.8V48.7M584.5 45.7V56.7M594.5 42.1V75.8M596.5 38.2V62.2M597.5 32.5V51.9M599.5 51.8V66.8M602.5 56.9V61.1M604.5 46.2V60.3" stroke="#D95319" stroke-opacity="0.85"/>
<path d="M32.5 44.5V46.9M39.5 44.2V61.8M44.5 51.9V66.2M51.5 27.7V69.5M75.5 48.7V71.3M87.5 41.5V49.0M116.5 37.0V48.9M119.5 44.5V68.8M124.5 41.6V55.4M145.5 33.8V51.8M146.5 53.8V56.1M170.5 42.6V55.6M175.5 44.9V47.5M176.5 47.8V51.7M177.5 38.1V50.9M188.5 27.0V56.2M189.5 37.2V66.7M194.5 38.1V52.3M198.5 35.7V50.7M202.5 51.5V53.9M208.5 37.0V50.5M209.5 39.0V61.6M223.5 44.8V50.2M230.5 47.1V54.0M233.5 50.5V55.6M240.5 36.6V62.2M244.5 44.4V49.1M261.5 36.2V56.3M265.5 46.6V51.2M266.5 58.5V64.3M278.5 38.0V51.3M291.5 39.5V49.8M297.5 42.6V50.7M302.5 41.4V56.1M309.5 55.5V64.6M312.5 56.6V60.2M317.5 57.4V68.3M330.5 43.9V55.4M342.5 37.0V62.1M344.5 47.7V61.2M347.5 49.7V72.1M349.5 46.3V55.7M361.5 49.4V58.8M365.5 35.9V48.9M375.5 33.4V52.3M376.5 40.5V54.8M383.5 24.3V49.4M384.5 29.4V81.4M399.5 47.3V54.1M406.5 39.0V53.5M413.5 33.4V56.0M420.5 19.2V50.4M422.5 38.2V63.2M427.5 47.8V64.5M428.5 44.9V47.7M435.5 47.5V67.0M439.5 47.7V53.4M447.5 36.8V57.9M450.5 51.9V60.7M457.5 39.4V46.4M458.5 38.9V54.2M465.5 47.2V74.6M475.5 34.7V57.2M485.5 34.8V55.5M488.5 46.7V61.0M490.5 35.3V58.2M491.5 37.6V52.6M508.5 40.6V68.6M510.5 57.7V62.0M514.5 26.2V55.6M516.5 45.3V65.2M525.5 31.4V50.5M530.5 54.2V61.0M532.5 47.4V52.0M536.5 52.6V66.1M537.5 50.1V61.4M538.5 52.8V55.4M542.5 35.4V56.1M543.5 41.2V46.8M545.5 50.8V63.9M564.5 40.2V77.0M571.5 42.9V61.4M577.5 33.3V43.6M579.5 43.5V69.3M580.5 43.2V64.9M581.5 48.4V63.8M583.5 51.3V56.6M587.5 37.3V52.6M605.5 47.0V60.5M609.5 41.2V50.2" stroke="#EDB120" stroke-opacity="0.85"/>
<path d="M29.5 52.7V54.0M31.5 47.3V67.7M36.5 29.1V72.5M37.5 42.5V58.2M41.5 57.8V60.8M55.5 42.1V79.9M60.5 41.3V67.1M88.5 44.5V82.7M93.5 46.2V54.2M94.5 53.0V60.7M98.5 38.9V44.0M100.5 32.1V72.1M101.5 34.6V60.4M105.5 46.9V84.7M106.5 45.8V74.4M108.5 47.0V69.5M114.5 43.6V78.2M136.5 37.8V52.6M138.5 56.5V60.1M141.5 39.6V57.9M143.5 52.8V59.4M149.5 47.0V66.0M151.5 47.0V53.0M154.5 33.7V59.0M158.5 37.1V44.9M165.5 37.5V48.0M169.5 52.8V62.0M179.5 36.5V64.2M187.5 26.1V64.5M191.5 47.5V53.6M192.5 49.9V53.9M195.5 57.1V59.1M212.5 45.7V49.1M213.5 38.1V56.9M218.5 53.9V61.5M239.5 34.8V59.0M245.5 52.6V70.9M260.5 35.3V60.6M264.5 56.7V58.0M280.5 44.5V59.1M281.5 47.1V58.6M286.5 50.4V61.8M296.5 51.6V60.9M300.5 45.8V56.4M326.5 38.9V49.1M328.5 44.9V54.9M333.5 47.8V58.2M335.5 33.0V61.4M336.5 60.2V67.3M353.5 31.5V53.4M355.5 54.3V68.7M359.5 49.5V59.1M379.5 35.9V48.9M388.5 61.5V72.1M391.5 22.9V59.0M393.5 30.3V59.2M394.5 51.4V67.3M396.5 41.1V59.2M397.5 53.0V58.1M405.5 54.3V59.9M414.5 29.0V55.1M415.5 31.4V58.7M416.5 41.8V63.2M425.5 33.5V76.8M429.5 46.8V73.9M442.5 51.2V65.7M445.5 52.5V63.0M471.5 52.2V70.4M472.5 35.3V59.2M484.5 39.7V54.5M495.5 52.8V56.6M496.5 45.4V53.0M497.5 45.7V51.6M498.5 52.1V55.3M513.5 59.1V59.9M526.5 40.0V55.9M527.5 44.5V56.2M531.5 43.3V52.4M544.5 56.5V74.1M553.5 36.3V63.4M555.5 40.3V63.7M563.5 35.3V65.8M565.5 33.1V59.0M575.5 36.9V57.2M578.5 41.5V70.0M585.5 36.9V54.8M589.5 47.7V60.1M591.5 29.6V44.5M598.5 55.3V65.4" stroke="#7E2F8E" stroke-opacity="0.85"/>
<path d="M33.5 40.4V79.0M35.5 36.1V48.6M46.5 36.0V71.1M49.5 40.8V59.1M50.5 26.9V47.3M52.5 27.0V84.7M53.5 26.1V50.1M56.5 53.0V64.4M82.5 29.1V56.9M104.5 35.3V76.8M107.5 41.6V44.9M113.5 31.7V50.8M117.5 37.1V56.0M125.5 36.3V72.7M132.5 25.7V41.3M133.5 26.3V59.3M134.5 43.4V47.4M163.5 43.7V63.7M168.5 49.8V58.1M173.5 45.4V59.1M174.5 35.3V53.4M178.5 46.6V54.9M181.5 37.6V55.8M184.5 34.7V55.6M185.5 30.5V61.7M186.5 43.2V66.2M205.5 46.1V56.1M215.5 39.5V54.1M216.5 54.0V56.9M224.5 49.9V59.2M225.5 39.3V48.5M229.5 44.5V51.2M236.5 45.7V59.8M249.5 41.0V61.1M250.5 42.1V60.0M253.5 32.1V68.1M256.5 55.5V66.2M272.5 39.7V62.7M275.5 46.1V61.3M283.5 53.6V60.6M284.5 43.8V59.0M288.5 46.4V59.7M289.5 50.5V56.7M299.5 47.8V56.9M301.5 51.6V57.0M307.5 44.0V59.6M310.5 36.0V56.9M318.5 59.4V75.2M339.5 52.5V61.2M340.5 37.4V46.3M345.5 50.7V69.7M346.5 50.1V70.6M351.5 36.8V79.1M352.5 28.6V72.7M366.5 50.8V57.5M367.5 43.3V59.2M371.5 40.0V59.4M381.5 32.9V58.0M382.5 26.1V69.8M385.5 23.3V57.3M386.5 21.4V47.7M398.5 48.7V56.6M403.5 54.0V61.6M407.5 37.8V52.9M408.5 46.5V63.0M409.5 44.1V63.9M412.5 43.3V53.4M419.5 28.4V53.4M421.5 24.8V68.7M424.5 34.0V70.6M426.5 51.2V76.7M430.5 48.6V60.2M432.5 41.1V66.8M436.5 41.2V57.0M452.5 52.0V58.1M456.5 49.0V66.2M470.5 30.3V63.7M473.5 39.6V60.7M477.5 30.8V54.5M479.5 47.2V55.5M480.5 43.5V58.5M481.5 38.5V60.4M483.5 46.8V57.4M506.5 33.4V54.3M507.5 41.2V69.9M509.5 39.0V62.1M515.5 32.5V56.8M517.5 56.9V72.8M522.5 49.6V63.8M524.5 54.9V67.5M540.5 35.6V69.0M541.5 49.4V58.3M547.5 33.8V68.7M569.5 35.8V49.5M572.5 39.7V61.9M573.5 45.0V58.7M590.5 38.7V66.1M593.5 63.2V72.2M595.5 27.3V44.9M601.5 55.5V56.5M607.5 42.8V53.6M610.5 49.9V59.2" stroke="#77AC30" stroke-opacity="0.85"/>
<path d="M25.5 40.6V55.1M28.5 38.7V51.7M38.5 37.3V60.9M54.5 61.2V81.0M58.5 44.5V73.0M76.5 46.1V60.3M78.5 54.8V60.2M89.5 54.5V62.9M92.5 53.4V60.2M95.5 45.9V56.5M99.5 50.9V73.4M112.5 40.2V71.5M127.5 43.2V63.2M156.5 40.5V79.1M159.5 43.3V55.3M166.5 40.1V53.6M211.5 42.0V60.7M221.5 44.5V54.0M243.5 48.6V65.7M271.5 40.8V61.2M273.5 49.7V62.4M274.5 43.1V53.2M279.5 43.6V50.1M295.5 43.7V59.5M313.5 33.8V56.8M321.5 39.4V61.7M323.5 42.6V60.6M329.5 33.1V56.5M362.5 40.6V52.7M368.5 38.6V59.6M373.5 35.5V62.2M417.5 46.8V57.7M433.5 28.6V67.2M437.5 43.1V54.1M463.5 48.7V72.7M504.5 33.4V67.0M512.5 32.1V48.2M518.5 32.0V72.7M551.5 25.8V64.5M557.5 28.8V57.3M559.5 32.0V51.4M586.5 41.2V55.9" stroke="#4DBEEE" stroke-opacity="0.85"/>
<path d="M30.5 44.5V58.3M61.5 56.1V59.6M62.5 51.3V58.6M67.5 37.2V53.4M73.5 53.0V61.1M126.5 37.1V78.1M131.5 30.4V82.7M153.5 50.0V65.3M157.5 30.3V37.3M180.5 43.6V51.6M210.5 41.4V63.0M234.5 49.6V56.7M238.5 39.5V53.6M251.5 37.3V64.3M268.5 37.9V55.2M270.5 44.2V54.8M282.5 51.1V56.1M306.5 36.2V56.8M308.5 46.3V56.5M315.5 50.1V57.8M337.5 41.1V65.7M338.5 51.5V64.3M343.5 44.1V51.7M354.5 36.2V61.9M390.5 45.9V64.0M395.5 42.5V49.4M411.5 42.9V52.7M423.5 60.5V61.9M434.5 27.6V66.8M440.5 48.2V67.7M441.5 40.1V51.9M493.5 43.1V57.3M523.5 39.4V70.2M546.5 40.9V61.4M552.5 27.6V65.7M556.5 30.4V48.8M561.5 49.1V60.5M588.5 32.6V65.8M592.5 52.4V68.7M600.5 40.0V59.6M603.5 46.4V62.1" stroke="#A2142F" stroke-opacity="0.85"/>
<path d="M26.5 51.3V56.3M29.5 46.1V55.6M37.5 50.4V71.1M41.5 32.2V46.0M43.5 41.2V71.6M49.5 37.2V78.8M54.5 46.3V57.9M55.5 37.3V56.1M56.5 45.3V67.8M67.5 40.3V65.8M70.5 55.4V77.5M75.5 25.1V61.3M76.5 34.7V77.5M82.5 26.0V65.0M88.5 32.6V51.8M96.5 42.9V49.3M98.5 32.7V65.8M100.5 48.1V90.0M103.5 33.4V66.3M117.5 33.1V40.5M119.5 49.3V66.3M121.5 34.4V44.7M132.5 27.6V83.8M144.5 36.0V56.3M150.5 33.4V56.3M151.5 43.2V57.4M157.5 54.3V86.2M161.5 33.1V55.8M165.5 37.5V64.1M170.5 36.6V56.1M171.5 37.2V59.3M181.5 37.1V54.1M184.5 52.0V66.3M198.5 46.5V60.0M206.5 38.7V56.6M210.5 42.4V53.4M212.5 48.4V56.2M219.5 39.1V52.1M221.5 47.9V54.9M222.5 40.7V56.0M226.5 51.4V57.3M238.5 47.9V58.0M242.5 44.7V50.2M245.5 54.5V61.9M246.5 38.3V51.3M248.5 42.4V58.8M253.5 48.4V63.3M261.5 37.3V60.8M268.5 54.8V59.7M275.5 46.9V52.2M279.5 42.7V54.6M282.5 43.9V52.1M283.5 42.1V50.0M284.5 47.1V55.5M295.5 51.7V61.8M296.5 46.3V55.5M302.5 41.8V61.4M308.5 46.3V57.1M309.5 40.7V52.6M313.5 50.8V66.3M314.5 34.2V46.5M316.5 29.1V63.8M322.5 34.9V53.9M330.5 34.3V69.9M334.5 40.8V55.9M336.5 53.5V65.0M355.5 43.2V59.1M359.5 54.3V60.3M364.5 50.3V62.9M366.5 46.9V50.8M368.5 37.8V61.3M381.5 24.5V68.9M389.5 40.0V55.7M395.5 46.8V49.5M396.5 52.0V60.4M409.5 51.3V62.2M410.5 48.1V61.8M414.5 34.8V51.7M415.5 36.1V51.3M430.5 39.2V66.8M437.5 35.8V61.2M441.5 37.4V50.6M449.5 38.7V53.8M450.5 35.8V62.5M462.5 51.0V63.7M471.5 47.7V63.5M473.5 32.3V49.6M474.5 38.9V54.8M480.5 44.2V62.4M489.5 50.8V53.2M499.5 45.5V54.1M506.5 33.5V58.1M507.5 36.8V65.9M513.5 33.6V62.0M515.5 31.6V50.4M516.5 38.8V75.4M531.5 50.5V65.3M538.5 45.5V62.3M556.5 29.7V52.1M559.5 34.6V50.1M565.5 43.8V53.4M577.5 48.0V60.2M592.5 39.7V58.4M593.5 32.5V78.3M595.5 24.8V59.4M600.5 43.1V51.5M610.5 39.2V52.3" stroke="#0072BD" stroke-opacity="0.85"/>
<path d="M27.5 53.6V57.5M31.5 36.2V61.9M35.5 41.5V52.2M45.5 34.0V69.3M50.5 41.5V68.7M51.5 29.8V77.3M60.5 54.9V69.5M61.5 35.7V76.3M63.5 29.1V50.5M77.5 31.9V61.9M87.5 50.2V70.2M104.5 42.5V63.5M108.5 39.5V70.9M123.5 30.5V62.0M125.5 37.0V62.4M131.5 39.3V84.7M135.5 47.5V59.8M145.5 32.2V52.9M154.5 30.0V53.8M163.5 45.2V68.5M166.5 47.6V60.0M174.5 34.3V45.9M175.5 39.2V58.0M182.5 42.0V55.7M194.5 40.7V55.0M205.5 54.7V61.0M218.5 41.5V55.5M224.5 38.0V58.6M236.5 33.6V55.0M240.5 52.6V56.7M255.5 37.9V69.1M272.5 47.4V51.0M297.5 40.0V55.6M300.5 37.7V55.3M301.5 42.4V59.7M305.5 41.8V59.8M317.5 48.3V71.1M326.5 29.4V69.0M327.5 23.5V72.2M328.5 58.2V64.8M337.5 37.1V55.4M341.5 54.4V58.7M343.5 40.2V54.2M344.5 30.1V51.1M354.5 40.3V53.5M358.5 50.9V65.3M365.5 52.9V62.7M383.5 40.7V70.1M384.5 39.5V58.1M385.5 34.2V59.8M387.5 54.5V67.2M394.5 43.3V64.8M397.5 47.1V67.0M417.5 32.0V64.7M419.5 49.9V62.4M420.5 48.5V74.4M421.5 46.5V67.2M433.5 44.3V67.0M442.5 38.7V48.8M448.5 42.9V50.6M452.5 31.7V58.1M453.5 40.1V50.6M458.5 43.4V54.1M464.5 43.0V50.6M467.5 38.9V82.4M470.5 28.3V61.4M479.5 48.2V52.5M494.5 47.6V60.4M496.5 45.1V54.5M510.5 30.9V51.5M512.5 41.3V73.3M517.5 29.6V63.5M529.5 56.0V67.3M530.5 42.2V62.2M543.5 53.7V69.7M548.5 28.9V58.3M557.5 41.7V57.2M560.5 37.1V55.4M572.5 39.8V55.3M573.5 50.1V65.3M579.5 49.4V61.2M607.5 55.0V60.5" stroke="#D95319" stroke-opacity="0.85"/>
<path d="M33.5 49.3V77.1M36.5 53.7V63.3M38.5 58.2V69.2M52.5 53.6V66.8M65.5 48.0V53.1M73.5 56.3V58.7M80.5 49.1V76.1M89.5 54.0V61.1M107.5 36.8V59.1M109.5 46.0V59.4M111.5 38.0V66.6M112.5 36.3V71.4M116.5 52.7V74.7M127.5 34.5V58.5M148.5 44.4V57.4M149.5 44.7V47.5M152.5 42.6V52.6M156.5 50.7V73.0M162.5 42.9V64.6M164.5 41.2V57.0M168.5 45.7V57.6M169.5 56.7V62.6M177.5 44.4V58.2M178.5 45.9V62.6M187.5 20.2V40.2M188.5 38.0V70.0M190.5 41.6V62.2M193.5 40.0V50.3M200.5 42.9V59.3M201.5 55.5V61.0M204.5 44.0V59.8M214.5 45.9V52.6M217.5 47.2V50.9M227.5 48.9V54.4M228.5 44.2V51.9M233.5 35.9V57.7M235.5 54.1V57.3M241.5 44.8V62.6M247.5 35.1V55.6M250.5 51.1V53.4M252.5 43.1V55.5M254.5 31.2V57.3M256.5 38.1V57.1M259.5 35.2V60.9M264.5 40.7V61.0M269.5 48.8V60.5M274.5 38.0V61.3M276.5 49.7V59.8M281.5 50.4V59.3M286.5 40.0V60.1M298.5 45.6V50.6M310.5 42.8V62.1M318.5 48.6V74.4M325.5 33.1V43.9M329.5 44.3V53.3M338.5 46.0V62.6M345.5 53.0V58.0M348.5 41.2V67.1M353.5 42.3V50.3M362.5 48.0V58.0M369.5 44.0V61.4M370.5 51.2V64.3M373.5 45.3V49.3M390.5 41.6V60.0M398.5 43.9V56.8M407.5 48.3V60.2M408.5 47.4V55.3M416.5 41.3V57.7M424.5 24.0V55.2M425.5 24.7V52.6M432.5 52.7V62.7M436.5 24.7V67.2M440.5 33.9V59.1M445.5 56.2V62.2M446.5 46.0V56.1M459.5 51.7V55.3M477.5 44.3V58.2M481.5 47.8V62.7M497.5 46.9V57.1M498.5 42.1V55.3M504.5 39.6V50.0M518.5 29.6V70.3M521.5 50.5V57.2M526.5 42.5V68.1M535.5 42.0V66.5M549.5 38.4V74.5M554.5 44.4V56.2M575.5 40.7V67.4M576.5 34.9V53.4M585.5 54.9V61.6M589.5 45.8V63.5M597.5 44.3V51.5M601.5 47.3V54.0" stroke="#EDB120" stroke-opacity="0.85"/>
<path d="M30.5 50.6V55.7M34.5 36.4V89.8M39.5 24.9V46.6M42.5 53.9V62.7M53.5 53.3V77.2M57.5 58.5V69.0M64.5 56.2V70.4M74.5 34.2V63.9M78.5 32.9V57.6M79.5 32.9V46.3M81.5 56.8V65.5M83.5 32.7V52.4M90.5 31.0V53.0M91.5 31.6V60.2M99.5 51.3V66.8M101.5 48.0V67.7M102.5 54.9V70.6M115.5 42.7V80.6M124.5 58.8V77.1M128.5 39.4V69.0M137.5 32.0V47.9M138.5 49.1V56.6M141.5 48.8V55.3M142.5 39.6V55.9M153.5 34.5V50.3M155.5 36.3V66.1M159.5 35.2V59.1M180.5 41.1V55.9M185.5 44.7V64.2M186.5 22.7V46.2M195.5 42.4V55.7M196.5 44.7V50.1M203.5 45.2V51.7M207.5 30.9V52.1M208.5 52.6V58.8M216.5 47.2V52.3M220.5 43.2V53.5M229.5 53.0V57.4M231.5 45.1V60.1M237.5 46.2V56.3M243.5 38.5V52.8M257.5 43.0V53.7M258.5 49.1V64.2M265.5 52.4V62.4M266.5 50.8V65.4M271.5 49.9V56.6M273.5 40.2V61.1M277.5 43.1V55.5M287.5 47.0V53.3M294.5 45.2V50.2M299.5 55.1V60.9M312.5 32.5V61.5M321.5 33.0V47.6M324.5 45.6V52.2M331.5 39.4V59.1M332.5 34.2V52.9M339.5 45.3V56.6M340.5 51.1V54.8M346.5 29.2V69.4M349.5 32.3V47.8M356.5 47.8V57.4M357.5 32.8V57.3M363.5 39.1V62.9M367.5 39.8V54.1M372.5 46.2V55.4M380.5 42.3V72.1M392.5 42.3V62.0M400.5 38.4V59.4M412.5 36.8V51.9M418.5 30.7V50.0M427.5 39.6V56.3M428.5 49.1V75.3M439.5 34.0V49.1M443.5 43.7V54.2M451.5 36.5V63.4M457.5 35.3V57.4M463.5 45.0V48.8M466.5 47.9V74.4M475.5 40.0V52.9M476.5 44.2V64.4M485.5 48.9V50.4M486.5 50.8V54.4M487.5 50.9V53.4M493.5 45.0V61.3M501.5 45.1V62.4M503.5 51.6V61.7M508.5 37.8V58.4M509.5 41.1V68.3M519.5 44.6V60.4M522.5 44.8V55.6M533.5 37.3V50.1M534.5 48.9V58.6M537.5 46.8V53.0M541.5 38.5V53.0M542.5 42.7V47.0M546.5 51.7V60.2M547.5 43.5V72.9M551.5 43.0V75.6M555.5 42.0V50.3M566.5 42.5V59.8M567.5 34.7V68.1M569.5 38.8V52.5M570.5 41.3V64.4M578.5 48.9V56.4M583.5 32.7V52.5M591.5 42.8V69.8M596.5 27.8V55.2M603.5 36.0V60.6" stroke="#7E2F8E" stroke-opacity="0.85"/>
<path d="M25.5 41.8V51.1M28.5 44.0V59.6M40.5 23.6V44.0M46.5 39.8V43.9M48.5 48.0V78.9M58.5 22.3V57.5M59.5 37.4V38.6M62.5 60.4V65.9M66.5 48.0V49.1M72.5 33.8V61.5M92.5 57.6V61.9M93.5 39.2V65.8M94.5 45.0V46.5M95.5 39.0V61.0M106.5 33.1V73.8M114.5 41.9V56.9M118.5 28.2V81.6M122.5 22.4V69.4M126.5 26.1V72.2M129.5 31.7V50.4M133.5 32.6V60.7M136.5 35.8V59.9M147.5 39.9V48.6M160.5 51.5V67.6M167.5 33.3V63.5M172.5 40.2V62.4M191.5 41.5V60.2M199.5 46.0V50.9M211.5 43.0V54.3M230.5 42.1V54.1M232.5 49.6V61.4M234.5 39.5V51.5M251.5 50.6V58.6M260.5 54.1V57.3M267.5 46.0V59.8M280.5 45.3V62.7M285.5 39.1V53.8M289.5 50.7V54.6M293.5 42.9V59.1M303.5 40.6V52.4M304.5 37.5V49.3M311.5 35.9V51.5M315.5 43.9V60.2M323.5 40.5V55.0M333.5 37.6V61.4M335.5 37.9V51.8M347.5 27.5V59.3M350.5 48.2V71.6M352.5 38.8V60.3M360.5 43.9V55.0M361.5 53.1V56.0M371.5 37.2V56.0M374.5 48.1V58.9M376.5 41.9V51.5M378.5 36.0V46.0M388.5 39.0V60.0M399.5 49.0V60.9M402.5 41.7V57.9M403.5 51.9V56.7M404.5 43.8V53.0M405.5 52.7V54.3M426.5 50.2V59.0M434.5 27.0V58.4M435.5 60.9V66.4M438.5 55.3V58.8M455.5 36.0V48.6M456.5 46.2V53.8M461.5 40.4V62.9M465.5 38.0V50.1M468.5 41.1V58.1M472.5 42.5V57.2M482.5 37.0V61.0M490.5 42.2V55.2M492.5 46.6V55.4M500.5 49.0V61.3M505.5 33.2V60.2M514.5 44.1V46.2M523.5 48.4V58.1M527.5 47.1V75.0M528.5 39.8V53.8M536.5 45.1V57.8M540.5 53.1V63.0M550.5 42.9V66.4M553.5 35.7V56.2M558.5 39.3V59.7M561.5 33.4V63.8M562.5 39.2V54.9M564.5 38.5V69.5M568.5 46.2V64.6M571.5 36.7V56.3M580.5 39.3V61.2M582.5 31.0V61.6M584.5 35.5V61.2M586.5 50.9V58.4M587.5 55.6V68.7M588.5 45.9V48.1M594.5 40.0V64.8M598.5 37.2V51.4M599.5 38.2V52.9M604.5 37.6V53.1M608.5 42.1V59.5" stroke="#77AC30" stroke-opacity="0.85"/>
<path d="M32.5 48.3V76.1M44.5 53.4V59.9M47.5 25.4V74.2M86.5 58.6V69.2M97.5 35.9V50.9M105.5 40.4V66.5M120.5 35.5V70.1M130.5 56.4V75.2M134.5 59.4V64.0M146.5 38.3V53.2M158.5 29.3V74.9M173.5 36.2V51.0M225.5 41.0V56.6M239.5 57.7V58.9M244.5 38.0V52.7M263.5 44.6V54.4M270.5 50.2V61.0M278.5 37.9V54.5M290.5 43.7V50.6M291.5 54.8V60.6M319.5 32.3V71.1M342.5 38.0V58.3M375.5 47.6V51.7M377.5 41.1V55.7M379.5 36.8V58.2M411.5 43.1V64.8M423.5 46.9V60.6M429.5 44.4V45.1M431.5 29.3V57.7M444.5 35.4V52.0M454.5 43.3V60.6M478.5 44.0V47.1M483.5 50.3V64.1M484.5 42.8V53.6M495.5 48.8V62.2M520.5 47.1V59.1M525.5 38.5V51.3M552.5 49.8V81.2M563.5 38.6V51.9M590.5 32.7V67.5M605.5 40.2V51.0" stroke="#4DBEEE" stroke-opacity="0.85"/>
<path d="M68.5 44.3V45.0M69.5 54.9V76.6M71.5 52.1V63.9M84.5 58.3V67.9M85.5 28.8V76.7M110.5 49.6V62.2M113.5 45.7V60.6M139.5 49.8V55.6M140.5 30.5V50.8M143.5 32.8V47.6M176.5 53.3V62.9M183.5 28.3V44.0M189.5 43.9V83.0M192.5 53.1V58.9M197.5 37.6V57.4M202.5 43.8V62.3M213.5 45.7V61.8M215.5 47.1V57.0M223.5 40.8V56.1M249.5 50.7V56.9M288.5 52.3V54.7M292.5 56.7V60.3M307.5 43.2V51.4M320.5 35.0V52.3M351.5 33.2V50.8M382.5 40.2V54.8M386.5 52.3V67.5M391.5 40.2V62.3M401.5 42.6V58.8M406.5 42.9V55.1M413.5 53.7V66.3M422.5 30.9V60.3M447.5 48.3V63.2M488.5 51.9V55.8M502.5 46.2V54.8M511.5 43.4V83.5M524.5 49.3V58.4M532.5 41.7V63.2M539.5 46.9V63.1M544.5 48.2V79.0M574.5 39.3V71.0M581.5 51.6V61.1M602.5 43.7V54.1M609.5 38.2V56.4" stroke="#A2142F" stroke-opacity="0.85"/>
<path d="M26.5 41.6V52.2M33.5 62.1V69.7M34.5 55.2V67.8M52.5 46.0V72.0M53.5 46.4V60.6M60.5 27.3V51.0M61.5 19.7V70.4M66.5 40.1V46.4M71.5 37.8V69.7M87.5 31.3V40.6M94.5 48.8V67.5M107.5 27.2V52.9M109.5 37.7V48.9M114.5 53.4V62.3M115.5 30.7V69.4M125.5 21.5V81.4M126.5 42.7V81.3M140.5 49.7V62.6M141.5 38.1V52.3M143.5 47.2V59.3M147.5 52.5V58.2M154.5 38.4V67.5M159.5 44.9V52.1M161.5 42.5V61.9M162.5 39.9V52.4M169.5 32.2V50.2M176.5 39.4V49.8M177.5 47.4V56.9M178.5 43.3V56.0M179.5 53.4V58.4M180.5 45.9V60.8M181.5 55.2V58.7M188.5 47.4V62.9M193.5 48.6V58.8M202.5 50.9V61.6M207.5 45.0V51.7M217.5 44.4V59.7M234.5 28.3V52.1M239.5 57.6V64.2M249.5 44.0V60.8M256.5 34.2V51.0M261.5 43.3V58.4M262.5 48.7V54.7M272.5 36.2V61.3M278.5 39.9V55.3M284.5 42.7V61.2M286.5 44.4V57.2M288.5 41.1V59.8M290.5 42.0V53.7M312.5 39.6V55.3M321.5 41.2V50.5M330.5 44.4V61.6M336.5 48.1V60.1M353.5 28.1V59.3M371.5 46.1V63.3M377.5 37.8V71.1M378.5 32.9V58.0M385.5 41.3V43.1M397.5 49.9V60.9M399.5 48.7V56.7M405.5 40.6V61.9M408.5 48.2V63.5M417.5 50.8V71.2M436.5 53.6V64.4M438.5 50.4V60.0M442.5 44.7V58.9M446.5 40.7V59.5M455.5 44.2V56.2M469.5 49.1V58.6M472.5 32.1V73.3M478.5 46.0V55.6M479.5 48.6V49.6M483.5 39.5V61.7M492.5 45.7V54.3M501.5 45.2V64.1M514.5 49.3V77.0M516.5 32.3V62.1M517.5 29.7V72.3M523.5 43.5V51.5M525.5 36.8V57.3M535.5 36.5V63.0M536.5 36.6V56.3M538.5 58.2V66.9M544.5 37.1V63.5M546.5 29.3V63.0M547.5 34.6V38.6M553.5 38.4V70.1M554.5 45.8V70.1M561.5 28.3V63.4M562.5 55.7V70.5M563.5 43.4V68.2M564.5 48.7V67.8M580.5 41.0V51.8M581.5 49.4V63.0M583.5 45.7V54.9M584.5 35.5V48.3M585.5 43.0V59.6M590.5 38.9V52.7M597.5 38.0V56.2M604.5 40.9V61.7" stroke="#0072BD" stroke-opacity="0.85"/>
<path d="M32.5 47.8V64.5M36.5 54.0V62.7M49.5 43.2V57.8M51.5 46.7V68.2M62.5 55.2V62.3M65.5 37.5V64.0M68.5 34.8V55.7M77.5 40.9V73.5M89.5 43.1V79.0M93.5 55.5V63.2M95.5 46.7V57.8M102.5 34.7V47.6M111.5 42.0V48.2M112.5 61.4V71.8M117.5 35.5V59.7M122.5 39.2V75.4M123.5 37.7V60.7M127.5 47.9V81.4M132.5 63.7V73.7M142.5 30.8V51.9M151.5 55.4V57.5M170.5 35.1V57.0M171.5 50.8V54.9M173.5 47.3V55.4M183.5 53.5V78.7M206.5 54.4V62.0M209.5 46.8V61.7M214.5 35.0V61.8M216.5 41.2V54.8M220.5 40.5V54.7M225.5 34.0V54.7M232.5 36.9V48.8M233.5 38.2V48.6M245.5 37.2V63.4M257.5 41.9V53.2M259.5 39.9V54.2M265.5 44.6V59.8M266.5 44.3V52.4M271.5 39.8V57.3M273.5 41.0V55.1M274.5 51.5V56.3M279.5 40.6V54.0M282.5 50.1V59.3M287.5 56.3V60.1M289.5 35.5V56.6M304.5 49.8V56.8M306.5 48.0V52.1M311.5 39.5V50.7M314.5 44.2V55.7M323.5 56.2V64.9M346.5 36.6V56.1M352.5 60.3V66.2M360.5 39.4V60.7M362.5 49.1V61.9M367.5 53.9V57.6M374.5 44.6V49.1M380.5 53.5V62.2M389.5 31.0V63.9M398.5 47.3V59.8M409.5 39.3V52.0M412.5 54.4V55.8M418.5 53.6V65.2M429.5 26.5V62.5M435.5 30.0V73.7M437.5 40.4V54.3M441.5 42.9V56.2M444.5 54.2V59.1M450.5 51.5V63.4M456.5 47.2V54.8M460.5 37.5V61.7M463.5 49.6V58.0M470.5 56.6V65.6M473.5 53.0V58.6M484.5 48.2V55.8M494.5 40.5V49.5M507.5 48.9V59.6M527.5 41.8V61.0M533.5 53.2V60.1M534.5 37.2V63.2M537.5 34.6V54.4M542.5 26.8V47.7M566.5 42.0V44.9M567.5 46.2V49.6M569.5 44.3V56.0M572.5 43.2V61.7M582.5 53.3V55.9M586.5 37.9V53.8M591.5 41.8V78.5M592.5 40.3V75.1M598.5 36.9V51.5" stroke="#D95319" stroke-opacity="0.85"/>
<path d="M29.5 44.4V57.5M30.5 52.4V57.3M35.5 36.0V47.6M38.5 40.5V59.6M43.5 34.4V52.1M46.5 29.9V61.5M54.5 38.0V52.4M64.5 35.2V52.9M67.5 45.9V70.3M69.5 47.8V78.5M76.5 34.3V47.6M78.5 33.1V52.7M82.5 41.4V65.2M83.5 33.1V70.6M86.5 32.6V61.3M97.5 45.6V71.9M104.5 58.0V69.3M108.5 45.7V55.4M110.5 40.3V72.5M113.5 45.1V54.6M119.5 45.7V64.3M120.5 41.2V73.8M121.5 43.5V70.0M133.5 20.4V58.0M136.5 43.9V51.8M137.5 40.7V47.8M148.5 40.9V60.7M149.5 37.4V59.5M155.5 31.5V57.7M156.5 27.7V50.5M157.5 33.2V52.3M160.5 47.5V57.7M167.5 54.3V63.1M192.5 39.5V51.1M211.5 42.3V61.2M212.5 45.8V52.1M221.5 43.0V51.7M224.5 50.2V53.3M231.5 41.5V55.5M242.5 39.7V57.1M244.5 48.4V64.8M250.5 48.7V58.5M270.5 50.4V57.0M275.5 39.3V52.7M303.5 43.6V50.8M305.5 45.8V53.0M310.5 35.4V55.3M315.5 36.7V53.1M324.5 33.6V56.4M327.5 34.9V42.4M328.5 43.2V60.9M339.5 52.1V61.5M344.5 40.9V51.9M354.5 49.0V60.2M355.5 52.2V56.4M358.5 30.4V55.1M366.5 44.6V57.3M375.5 32.5V56.2M381.5 43.9V64.2M388.5 48.5V66.4M395.5 47.4V57.1M396.5 52.0V55.7M400.5 47.2V58.2M403.5 47.0V55.3M411.5 37.9V57.9M413.5 40.4V55.2M415.5 43.3V52.0M419.5 49.0V63.7M433.5 49.5V67.4M434.5 59.9V70.6M440.5 57.0V62.0M443.5 42.7V49.7M445.5 37.9V55.1M461.5 34.9V62.1M468.5 55.8V75.1M471.5 56.9V71.1M474.5 35.1V47.5M477.5 55.3V59.5M493.5 35.9V59.1M497.5 40.1V57.0M528.5 39.2V54.5M529.5 36.6V52.2M539.5 50.1V67.3M541.5 29.8V67.3M549.5 23.5V50.6M552.5 47.1V56.4M557.5 39.0V45.9M559.5 35.4V51.0M575.5 34.8V50.1M577.5 59.6V62.7M587.5 44.5V46.5M600.5 48.8V50.9M601.5 52.7V55.9M610.5 47.9V53.1" stroke="#EDB120" stroke-opacity="0.85"/>
<path d="M27.5 41.6V52.0M37.5 42.9V82.2M40.5 35.6V64.2M42.5 34.9V48.9M44.5 44.0V50.5M48.5 24.0V72.2M56.5 39.2V64.3M58.5 29.9V58.0M63.5 33.7V55.9M72.5 61.0V63.3M73.5 30.0V61.6M85.5 46.2V70.4M91.5 32.5V71.5M92.5 50.4V62.5M96.5 33.8V53.5M139.5 50.9V61.8M144.5 51.5V61.7M150.5 34.7V60.2M166.5 52.9V65.2M168.5 36.2V60.2M182.5 48.3V54.2M185.5 25.7V61.4M189.5 31.8V69.7M190.5 54.6V67.2M199.5 52.6V60.5M204.5 51.8V55.9M215.5 39.6V66.5M218.5 42.5V62.5M222.5 53.2V58.3M227.5 48.4V54.0M236.5 34.9V65.2M243.5 42.1V63.2M251.5 37.9V48.4M252.5 51.5V63.6M253.5 44.8V57.6M254.5 42.3V45.2M260.5 36.9V52.8M263.5 41.9V65.4M268.5 49.3V62.1M292.5 46.1V61.5M293.5 50.1V56.7M301.5 48.0V54.7M318.5 48.9V70.1M319.5 43.9V65.7M325.5 31.6V61.4M326.5 38.5V48.4M329.5 31.2V63.1M332.5 55.8V68.9M338.5 35.4V50.9M340.5 38.5V57.9M345.5 42.5V46.1M349.5 31.8V44.6M350.5 41.4V71.3M357.5 30.9V68.2M379.5 40.5V66.8M382.5 30.7V77.6M383.5 55.5V72.2M384.5 43.0V50.9M386.5 48.4V61.3M392.5 63.1V78.4M393.5 48.4V66.9M401.5 51.3V54.4M402.5 46.6V51.3M404.5 46.2V62.3M410.5 46.6V59.2M423.5 40.0V58.4M426.5 39.0V56.0M449.5 45.3V55.1M451.5 54.7V60.2M452.5 37.6V62.7M453.5 52.8V68.0M458.5 46.1V60.1M462.5 44.2V64.1M464.5 37.1V55.1M465.5 49.8V59.1M475.5 39.8V68.0M476.5 47.3V66.3M485.5 39.0V51.8M488.5 36.2V52.9M489.5 45.0V51.6M505.5 25.5V68.2M506.5 42.1V53.0M510.5 55.2V59.9M511.5 45.2V58.2M512.5 55.0V73.8M524.5 44.3V51.2M532.5 41.7V61.0M540.5 56.7V65.9M543.5 29.5V58.8M548.5 46.0V55.0M558.5 34.5V66.1M560.5 31.7V52.0M570.5 38.6V56.1M571.5 58.6V62.2M573.5 46.4V55.0M579.5 44.4V56.9M588.5 53.5V62.8M605.5 48.3V59.0M607.5 33.5V51.7" stroke="#7E2F8E" stroke-opacity="0.85"/>
<path d="M25.5 43.0V57.1M45.5 40.8V55.3M47.5 32.3V52.4M59.5 36.5V61.5M74.5 57.8V87.1M80.5 44.6V52.7M84.5 36.1V73.5M90.5 53.6V82.7M99.5 40.6V49.6M100.5 29.8V75.4M124.5 36.6V51.2M128.5 28.1V66.0M129.5 50.4V74.6M131.5 27.0V71.1M135.5 50.6V57.6M138.5 41.6V53.9M145.5 36.5V54.0M152.5 54.9V61.0M153.5 34.2V66.0M158.5 42.5V65.6M164.5 55.2V61.9M184.5 24.3V52.3M186.5 41.6V50.5M194.5 48.6V60.8M197.5 55.7V62.4M213.5 53.0V59.9M219.5 36.6V53.9M223.5 41.7V55.7M226.5 49.7V53.9M228.5 52.0V56.7M229.5 47.0V56.0M230.5 51.0V55.9M235.5 38.5V57.8M237.5 43.2V58.2M258.5 39.4V51.3M264.5 36.2V51.6M280.5 43.7V55.6M283.5 48.7V54.4M291.5 52.9V58.2M294.5 38.1V52.3M295.5 35.5V56.9M300.5 41.1V56.0M302.5 43.9V52.9M308.5 42.6V54.5M313.5 47.1V51.1M317.5 51.1V69.6M320.5 24.7V59.0M333.5 42.7V66.5M342.5 53.5V61.3M343.5 34.8V68.8M348.5 46.8V68.2M351.5 50.8V70.7M359.5 50.7V59.5M361.5 47.7V58.9M363.5 42.4V51.2M364.5 35.2V49.0M369.5 52.4V54.2M370.5 41.4V50.4M372.5 56.4V58.4M391.5 62.3V74.6M394.5 32.0V58.6M406.5 38.2V57.0M407.5 42.4V60.0M416.5 38.0V55.3M424.5 42.3V72.5M425.5 35.1V54.3M427.5 48.4V71.3M430.5 22.2V57.9M431.5 26.4V65.0M432.5 27.6V57.3M447.5 45.1V54.8M454.5 48.6V52.0M457.5 39.9V49.4M459.5 49.5V61.0M467.5 27.8V48.6M486.5 41.6V60.4M491.5 41.7V50.9M495.5 35.6V57.9M496.5 54.5V60.2M502.5 38.0V57.6M504.5 39.3V64.0M508.5 40.6V61.3M509.5 29.1V59.6M520.5 45.7V65.0M530.5 52.1V68.2M551.5 41.1V59.1M556.5 55.3V59.5M565.5 36.6V50.1M568.5 36.5V58.2M589.5 34.9V67.2M593.5 36.6V83.8M602.5 42.1V54.3M603.5 37.3V57.0M606.5 51.8V58.6" stroke="#77AC30" stroke-opacity="0.85"/>
<path d="M55.5 37.4V72.7M57.5 33.5V56.1M75.5 42.7V65.9M103.5 25.3V65.4M106.5 47.2V73.3M165.5 31.7V60.8M172.5 47.4V59.8M196.5 48.9V62.0M200.5 39.2V58.4M201.5 41.1V60.0M203.5 52.2V63.2M210.5 41.4V55.4M238.5 42.5V62.2M246.5 39.9V64.0M247.5 37.9V52.7M248.5 43.4V54.6M255.5 36.0V62.0M267.5 41.1V48.9M276.5 45.1V57.9M281.5 46.5V52.2M297.5 36.4V55.6M298.5 37.7V56.3M316.5 50.2V68.2M322.5 55.7V67.7M335.5 40.7V64.8M341.5 34.9V52.0M376.5 38.1V60.5M387.5 52.9V56.8M390.5 27.5V49.3M414.5 42.0V62.7M420.5 40.8V76.8M422.5 42.0V59.7M439.5 41.6V54.2M480.5 54.4V58.1M482.5 52.0V55.5M490.5 44.7V56.0M498.5 38.1V54.0M499.5 43.7V50.4M513.5 43.4V49.0M521.5 36.8V55.4M522.5 55.4V66.0M531.5 51.6V63.6M545.5 52.9V59.4M576.5 44.2V62.0M578.5 54.6V66.3M595.5 47.9V62.4M596.5 37.5V51.6M599.5 47.5V51.4M609.5 52.4V53.9" stroke="#4DBEEE" stroke-opacity="0.85"/>
<path d="M31.5 44.3V65.4M41.5 53.3V85.1M50.5 54.1V60.7M70.5 31.8V76.3M79.5 38.5V62.4M81.5 48.6V64.5M88.5 41.7V79.2M98.5 33.6V49.9M101.5 31.8V73.4M105.5 43.5V57.2M116.5 27.1V46.0M118.5 40.2V63.7M134.5 35.1V51.4M163.5 44.6V64.1M174.5 38.9V61.6M175.5 39.2V55.6M187.5 40.5V48.1M191.5 40.9V46.8M195.5 44.7V62.4M198.5 46.9V56.8M205.5 37.3V59.9M208.5 35.8V56.5M240.5 34.5V64.5M241.5 45.1V57.2M277.5 44.0V51.0M285.5 50.1V63.7M299.5 52.4V57.5M309.5 59.1V60.2M334.5 44.7V55.5M347.5 41.8V56.0M356.5 50.8V68.7M373.5 36.5V56.9M466.5 29.2V48.8M481.5 41.6V59.6M487.5 40.6V55.3M500.5 46.7V59.4M515.5 29.6V46.1M518.5 48.0V64.1M519.5 41.5V52.7M526.5 47.6V52.2M550.5 39.2V53.9M555.5 49.6V70.2M594.5 38.0V71.6M608.5 53.8V55.6" stroke="#A2142F" stroke-opacity="0.85"/>
<path d="M30.5 52.6V54.8M35.5 41.0V52.6M41.5 29.6V70.0M47.5 49.6V72.9M48.5 22.7V81.4M60.5 57.1V61.3M74.5 46.1V67.8M76.5 48.8V59.3M77.5 38.4V43.8M80.5 30.5V54.9M90.5 58.0V65.0M92.5 36.8V69.7M93.5 44.6V59.0M97.5 35.3V58.6M101.5 30.2V59.3M104.5 42.8V78.2M105.5 41.4V54.5M127.5 47.2V72.9M133.5 39.1V60.8M135.5 54.9V58.6M139.5 43.1V64.0M146.5 40.4V57.4M153.5 45.0V67.2M154.5 35.9V69.3M166.5 36.8V50.5M168.5 34.6V53.7M173.5 36.7V52.0M186.5 20.7V56.6M187.5 26.3V44.5M191.5 55.3V60.9M196.5 38.5V59.5M200.5 47.7V52.0M203.5 39.7V62.9M211.5 43.2V50.6M216.5 40.2V55.5M218.5 37.5V57.0M224.5 39.9V61.1M236.5 35.9V52.1M243.5 51.6V56.5M245.5 33.3V65.3M257.5 48.1V57.7M272.5 36.9V53.8M297.5 46.7V58.1M301.5 55.3V62.1M311.5 56.9V58.7M316.5 35.9V60.1M321.5 52.4V65.0M323.5 42.7V46.3M328.5 38.2V53.1M335.5 49.9V59.5M340.5 44.2V54.3M345.5 54.3V66.1M354.5 29.7V61.0M365.5 46.8V55.8M372.5 53.1V55.3M379.5 37.2V59.3M382.5 32.2V46.9M385.5 52.6V69.3M386.5 20.2V71.0M390.5 36.7V58.2M401.5 36.8V53.3M406.5 41.0V61.7M412.5 38.3V52.1M416.5 45.7V64.1M419.5 35.6V62.1M422.5 60.8V67.4M424.5 41.9V67.9M428.5 49.1V61.2M439.5 34.2V50.4M441.5 59.4V67.3M444.5 45.6V48.3M452.5 38.2V57.4M456.5 33.3V59.6M458.5 29.5V66.3M469.5 56.8V79.8M476.5 48.5V58.1M483.5 44.3V53.5M492.5 40.2V53.8M493.5 40.2V58.5M496.5 46.1V53.2M497.5 49.3V59.5M503.5 30.4V55.3M509.5 40.9V52.7M511.5 27.4V83.9M518.5 51.5V67.8M522.5 55.4V66.1M526.5 37.1V62.0M534.5 33.1V68.1M541.5 38.1V67.5M542.5 36.3V64.4M549.5 36.7V50.5M551.5 43.1V52.2M571.5 38.5V49.4M572.5 37.7V70.9M576.5 54.0V67.4M578.5 41.9V61.1M582.5 37.4V61.4M588.5 32.3V65.0M590.5 42.1V47.7M593.5 40.4V53.1M596.5 32.5V56.6M601.5 54.2V64.2M602.5 40.9V63.5M603.5 43.7V62.6M605.5 52.1V60.5" stroke="#0072BD" stroke-opacity="0.85"/>
<path d="M28.5 50.1V52.6M29.5 50.1V57.7M37.5 28.4V37.9M49.5 53.8V77.6M52.5 45.7V81.1M56.5 28.1V64.8M59.5 47.3V59.5M70.5 45.9V67.9M75.5 52.5V57.1M85.5 44.0V52.5M88.5 40.7V75.8M94.5 45.8V57.4M108.5 33.1V50.7M109.5 43.7V71.5M112.5 32.9V44.6M114.5 54.9V70.3M115.5 32.3V61.2M116.5 33.0V66.0M120.5 48.4V68.0M125.5 56.0V62.2M132.5 32.2V70.9M149.5 42.1V59.2M152.5 40.9V61.8M156.5 42.6V60.4M157.5 28.2V56.5M159.5 39.3V80.1M167.5 41.0V65.7M169.5 41.5V62.3M177.5 31.3V55.4M192.5 37.8V59.3M205.5 47.9V62.9M208.5 51.0V59.0M214.5 45.0V49.2M215.5 45.7V60.0M223.5 36.5V57.5M227.5 43.3V57.1M234.5 31.3V52.7M242.5 53.3V62.7M250.5 49.3V59.7M251.5 42.3V63.1M260.5 57.2V61.0M263.5 52.7V61.0M278.5 39.3V55.3M283.5 48.1V62.1M293.5 47.7V61.5M296.5 39.4V52.1M300.5 42.4V60.0M302.5 54.3V59.3M303.5 39.6V57.2M308.5 37.7V61.3M313.5 55.2V60.5M322.5 27.9V48.1M324.5 38.2V62.6M342.5 34.6V48.4M348.5 36.1V54.0M352.5 28.5V75.8M356.5 27.4V58.2M361.5 45.5V61.4M366.5 37.2V57.9M371.5 55.9V57.6M373.5 41.0V62.9M377.5 32.2V55.7M378.5 50.9V65.9M383.5 49.3V74.4M395.5 39.0V48.8M403.5 36.6V60.0M408.5 44.0V52.7M410.5 42.9V53.3M411.5 45.1V52.1M414.5 47.0V63.3M421.5 34.4V67.3M425.5 59.0V76.3M427.5 55.0V79.0M430.5 35.7V71.7M436.5 26.4V59.4M461.5 31.7V55.4M465.5 35.9V54.2M466.5 41.4V57.9M481.5 46.8V55.2M485.5 43.0V55.5M495.5 55.2V56.1M498.5 39.3V59.7M504.5 52.7V54.6M519.5 44.9V48.7M528.5 41.0V62.9M529.5 41.9V49.4M531.5 44.7V54.7M532.5 46.8V63.1M536.5 36.2V57.2M538.5 36.3V67.7M540.5 40.3V68.9M546.5 45.6V46.8M555.5 56.6V64.1M559.5 30.0V67.2M570.5 27.3V56.2M584.5 43.9V62.5M591.5 34.6V44.4M592.5 55.4V72.0" stroke="#D95319" stroke-opacity="0.85"/>
<path d="M25.5 54.0V55.8M32.5 40.2V49.7M42.5 28.1V71.5M45.5 31.5V56.4M55.5 61.7V65.2M61.5 28.4V72.5M63.5 49.3V70.7M71.5 37.7V46.5M73.5 55.0V68.9M83.5 30.2V65.7M84.5 49.6V63.5M89.5 48.9V71.6M91.5 34.2V64.4M95.5 52.0V66.7M99.5 42.7V53.5M100.5 52.9V61.7M106.5 48.2V54.2M107.5 31.1V61.9M117.5 35.7V60.7M118.5 26.6V62.7M122.5 44.3V46.7M123.5 60.5V68.7M130.5 43.1V49.6M142.5 35.1V64.4M143.5 50.1V57.9M144.5 40.4V60.0M147.5 48.8V55.6M150.5 32.7V49.6M151.5 30.0V51.7M155.5 42.2V71.5M158.5 28.0V66.1M162.5 47.0V56.4M163.5 41.2V57.1M165.5 50.0V58.5M178.5 37.8V58.7M180.5 45.8V57.6M183.5 25.9V69.3M185.5 27.0V48.9M194.5 37.4V61.2M210.5 52.4V55.9M217.5 39.2V51.1M222.5 37.8V54.2M228.5 44.8V51.7M229.5 39.6V50.8M230.5 42.1V59.7M232.5 34.3V56.2M237.5 48.2V54.5M249.5 41.7V48.9M255.5 50.7V68.7M271.5 55.9V61.0M282.5 42.7V55.0M289.5 44.2V56.5M295.5 49.2V57.5M299.5 51.7V58.5M304.5 37.6V59.9M306.5 42.0V54.2M309.5 38.3V65.7M314.5 38.8V62.9M315.5 39.4V50.7M319.5 25.4V56.1M320.5 34.0V55.3M333.5 41.4V68.7M336.5 46.0V59.0M338.5 47.4V56.0M346.5 36.8V62.6M351.5 25.8V56.3M360.5 46.3V52.0M362.5 39.5V58.5M367.5 38.2V59.6M380.5 40.4V64.1M387.5 25.9V75.6M389.5 54.2V57.2M391.5 43.0V54.0M393.5 48.6V68.7M404.5 38.2V59.4M407.5 39.0V56.5M420.5 44.7V59.5M429.5 49.1V65.7M431.5 42.4V69.3M442.5 40.5V59.0M448.5 37.0V58.7M455.5 36.5V54.5M471.5 48.7V51.3M473.5 44.3V65.6M479.5 43.9V53.5M489.5 49.0V56.4M490.5 46.8V58.5M501.5 47.2V56.0M507.5 44.8V47.8M512.5 58.6V69.5M513.5 22.9V71.1M514.5 37.9V67.4M515.5 61.9V64.6M517.5 53.5V66.3M525.5 31.4V47.4M533.5 46.9V68.9M544.5 29.4V54.1M547.5 38.4V65.7M560.5 37.1V49.9M562.5 45.3V48.5M563.5 41.7V72.0M565.5 57.8V63.4M573.5 35.3V59.1M581.5 54.8V56.0M583.5 53.7V56.4M586.5 40.2V57.6M598.5 56.4V61.5M604.5 42.6V54.1M608.5 52.3V56.5" stroke="#EDB120" stroke-opacity="0.85"/>
<path d="M27.5 47.5V53.8M34.5 41.8V62.4M38.5 38.8V85.0M43.5 30.3V62.6M46.5 26.1V43.9M50.5 40.6V80.8M62.5 47.2V65.1M65.5 24.3V63.0M67.5 23.6V48.1M69.5 32.2V59.0M72.5 49.5V66.2M96.5 42.2V62.3M126.5 37.4V44.2M128.5 33.5V57.3M129.5 35.7V77.2M131.5 43.2V70.2M134.5 51.6V54.9M136.5 52.6V54.4M145.5 45.1V55.2M175.5 39.7V55.9M179.5 52.5V60.5M184.5 22.8V69.2M197.5 44.7V67.0M198.5 48.6V62.5M201.5 47.1V54.1M209.5 49.9V62.1M219.5 33.2V54.9M221.5 42.8V52.6M231.5 35.3V62.9M244.5 37.3V62.2M246.5 42.7V53.6M259.5 40.1V60.4M267.5 29.1V63.2M274.5 43.0V61.7M277.5 44.3V53.5M279.5 41.2V53.3M284.5 44.9V51.9M290.5 47.7V50.7M291.5 50.2V57.9M305.5 45.0V52.6M307.5 51.9V57.3M310.5 36.9V50.5M312.5 51.3V61.2M327.5 32.5V56.3M329.5 40.7V69.9M337.5 48.0V53.5M339.5 47.4V60.0M341.5 36.7V66.0M347.5 40.1V72.1M368.5 38.0V59.4M369.5 48.4V58.7M374.5 45.5V53.7M375.5 31.2V62.0M381.5 43.9V75.7M388.5 42.7V58.0M396.5 46.3V59.8M397.5 38.3V59.2M398.5 43.6V52.8M409.5 49.7V61.7M417.5 32.4V49.5M426.5 49.1V68.9M438.5 56.1V60.9M445.5 55.9V64.5M450.5 35.7V58.1M454.5 46.3V58.5M459.5 28.8V43.3M468.5 36.5V82.4M484.5 37.3V55.5M486.5 40.1V61.5M523.5 38.5V69.2M524.5 52.2V63.2M535.5 40.7V67.8M543.5 35.3V56.3M550.5 40.4V63.8M554.5 37.6V88.1M556.5 40.7V46.2M558.5 39.6V59.5M561.5 41.8V65.4M575.5 58.4V61.8M597.5 41.8V61.3M599.5 38.3V61.1M600.5 40.9V63.9M606.5 44.9V58.7" stroke="#7E2F8E" stroke-opacity="0.85"/>
<path d="M36.5 27.4V70.5M51.5 34.8V60.8M53.5 26.4V74.6M57.5 29.7V50.4M58.5 31.3V74.8M64.5 42.7V67.2M81.5 37.6V57.7M86.5 39.5V72.1M102.5 43.4V70.5M119.5 51.5V67.7M124.5 17.4V54.1M141.5 53.1V60.8M148.5 32.6V61.5M160.5 53.7V65.5M161.5 46.6V63.4M174.5 43.4V61.2M188.5 36.6V68.6M195.5 53.3V62.8M202.5 40.1V55.9M212.5 41.1V57.8M220.5 41.3V52.6M225.5 46.6V49.8M233.5 56.1V59.0M238.5 43.7V59.7M239.5 39.3V57.5M240.5 33.5V48.0M241.5 44.9V61.1M248.5 44.6V51.4M252.5 47.4V55.7M253.5 41.1V63.0M254.5 46.5V57.5M258.5 35.2V50.1M261.5 46.2V59.4M262.5 45.2V53.8M264.5 53.2V60.4M265.5 51.7V59.1M268.5 33.4V62.5M270.5 40.6V49.9M273.5 36.3V48.6M287.5 44.4V58.3M288.5 46.2V60.0M317.5 35.2V69.1M325.5 50.1V62.0M326.5 42.4V56.7M331.5 51.5V61.3M334.5 48.4V70.3M344.5 39.9V54.7M349.5 45.4V65.8M355.5 37.2V54.1M357.5 41.0V71.2M358.5 56.9V71.1M394.5 37.9V54.7M399.5 49.1V50.7M400.5 39.5V53.0M413.5 47.5V58.0M418.5 39.1V65.1M423.5 26.0V65.7M433.5 21.6V58.8M434.5 26.7V53.8M437.5 44.5V52.8M440.5 31.8V67.0M446.5 43.4V62.1M453.5 44.9V55.8M462.5 28.4V51.8M463.5 35.0V55.0M464.5 39.8V40.7M472.5 37.1V67.1M474.5 39.5V57.6M478.5 39.5V61.6M480.5 34.5V55.4M482.5 41.7V49.0M487.5 48.6V67.3M488.5 52.5V58.1M491.5 33.9V57.9M499.5 39.5V52.1M502.5 36.7V51.5M506.5 45.4V66.8M508.5 32.6V73.7M510.5 34.9V69.0M516.5 39.6V72.8M521.5 38.1V47.7M539.5 57.3V59.0M545.5 33.2V50.8M552.5 31.0V75.4M553.5 40.6V77.6M564.5 47.4V74.8M579.5 32.6V49.8M580.5 43.3V57.2M594.5 34.5V68.3M595.5 19.1V79.7M609.5 45.7V58.0" stroke="#77AC30" stroke-opacity="0.85"/>
<path d="M26.5 52.9V55.5M31.5 38.7V48.3M33.5 41.1V65.2M40.5 55.7V67.7M66.5 24.3V59.1M68.5 32.9V67.4M79.5 37.0V70.4M82.5 27.8V72.4M110.5 41.2V74.4M113.5 56.7V74.6M121.5 40.6V72.4M138.5 44.0V55.4M140.5 54.6V64.6M164.5 54.9V57.9M176.5 54.9V61.8M189.5 43.2V48.9M199.5 51.9V62.4M204.5 49.5V59.0M206.5 51.7V57.2M207.5 49.6V56.9M235.5 40.4V58.3M256.5 53.7V66.3M275.5 49.1V61.6M285.5 43.3V48.8M292.5 49.0V56.3M350.5 27.1V67.2M359.5 48.3V60.9M370.5 37.8V63.0M405.5 43.0V53.9M432.5 40.4V74.8M447.5 46.9V60.3M467.5 30.1V77.3M470.5 43.7V75.2M494.5 41.7V52.3M500.5 49.6V59.9M527.5 45.0V46.4M548.5 40.9V59.5M568.5 43.6V58.1M574.5 41.8V48.1M587.5 33.7V60.4M607.5 49.6V58.3M610.5 44.2V58.6" stroke="#4DBEEE" stroke-opacity="0.85"/>
<path d="M44.5 40.3V69.9M54.5 50.8V62.7M78.5 50.0V60.5M87.5 61.5V83.0M103.5 39.7V61.5M111.5 51.4V66.6M170.5 34.7V59.3M172.5 43.0V52.2M190.5 43.4V52.2M193.5 38.0V51.5M226.5 48.2V60.4M266.5 36.2V64.4M269.5 37.0V58.5M276.5 42.1V52.1M280.5 44.8V52.9M281.5 44.7V48.6M286.5 32.4V57.3M294.5 47.4V58.2M298.5 40.7V51.2M330.5 51.0V62.1M353.5 47.6V57.4M363.5 46.9V52.9M364.5 40.3V52.4M376.5 35.2V58.0M384.5 46.6V60.8M392.5 53.8V73.5M402.5 34.1V50.6M415.5 34.0V55.1M443.5 53.4V58.4M451.5 45.6V59.0M457.5 29.7V59.0M460.5 27.1V58.2M475.5 44.6V66.4M505.5 55.6V65.7M520.5 47.9V65.1M530.5 35.7V55.3M537.5 37.0V61.1M566.5 43.8V46.7M567.5 47.5V59.8M569.5 47.7V59.4M577.5 41.5V53.2M585.5 48.9V65.4M589.5 39.1V67.4" stroke="#A2142F" stroke-opacity="0.85"/>
<path d="M25.5 49.2V54.5M50.5 31.1V60.5M57.5 59.6V78.4M63.5 44.5V75.4M79.5 33.3V53.3M81.5 34.0V58.9M86.5 51.8V66.5M98.5 35.7V56.0M103.5 52.9V79.3M111.5 39.5V65.9M113.5 33.8V47.3M137.5 55.5V64.3M142.5 31.8V67.3M143.5 40.2V59.8M145.5 39.7V58.7M153.5 54.7V56.5M158.5 52.0V73.2M162.5 57.2V59.1M163.5 43.0V48.1M173.5 46.0V65.0M174.5 40.0V44.8M175.5 39.9V62.1M177.5 44.2V58.3M178.5 50.3V57.7M180.5 38.8V60.9M187.5 28.6V68.0M189.5 56.8V71.5M205.5 48.0V57.5M209.5 39.5V57.0M225.5 36.6V53.2M227.5 45.0V51.0M229.5 43.9V55.4M232.5 49.9V58.8M237.5 42.3V54.4M238.5 39.4V57.3M240.5 45.2V61.9M255.5 44.2V57.7M256.5 47.1V62.4M264.5 54.4V55.4M267.5 42.5V60.3M270.5 51.2V58.9M274.5 48.7V61.6M291.5 46.8V54.2M294.5 56.0V59.0M299.5 49.4V56.0M300.5 45.1V56.9M307.5 42.7V48.5M313.5 53.3V67.7M317.5 30.2V65.5M320.5 35.1V67.8M329.5 31.9V72.2M333.5 47.8V54.1M335.5 42.2V63.0M337.5 55.5V62.2M338.5 31.5V57.4M349.5 43.4V67.6M351.5 31.7V51.3M361.5 42.0V52.4M362.5 58.6V61.4M367.5 46.8V59.9M383.5 28.2V42.5M391.5 36.0V45.8M399.5 41.5V50.1M407.5 35.6V51.5M424.5 42.4V55.1M426.5 42.4V47.6M430.5 57.2V62.1M433.5 25.4V51.8M440.5 34.9V47.2M443.5 45.6V53.6M457.5 54.2V59.9M459.5 39.8V43.4M463.5 39.6V50.7M468.5 44.4V66.0M484.5 48.1V63.0M502.5 46.8V60.4M504.5 30.0V62.4M512.5 43.6V77.0M518.5 55.8V59.1M524.5 41.9V59.8M526.5 46.9V54.6M530.5 47.4V58.6M531.5 39.7V59.2M533.5 44.2V49.6M555.5 31.4V49.0M557.5 29.3V53.0M560.5 35.7V72.3M580.5 36.7V46.9M587.5 47.6V62.1M594.5 49.0V68.7M599.5 44.0V62.7M604.5 45.5V51.9" stroke="#0072BD" stroke-opacity="0.85"/>
<path d="M33.5 38.0V52.3M43.5 33.6V59.6M44.5 40.5V46.9M47.5 32.7V64.1M48.5 44.6V55.9M52.5 51.1V76.8M53.5 32.2V60.2M64.5 28.1V56.2M67.5 35.7V49.5M87.5 46.4V72.1M91.5 42.5V57.1M96.5 39.7V76.5M117.5 29.9V53.6M119.5 42.7V77.0M128.5 48.5V56.1M138.5 45.5V56.6M139.5 37.0V68.3M141.5 37.7V60.9M148.5 52.9V61.0M164.5 40.7V61.9M176.5 35.9V56.0M184.5 43.4V55.9M185.5 51.0V63.5M186.5 31.7V76.5M188.5 52.6V66.7M191.5 41.7V64.0M194.5 40.1V59.2M195.5 46.2V62.0M223.5 44.8V62.4M239.5 46.9V56.3M243.5 46.6V64.2M248.5 37.1V56.3M262.5 52.5V59.6M268.5 33.6V57.7M273.5 50.5V60.2M275.5 41.4V62.3M280.5 46.4V54.6M292.5 48.9V61.3M297.5 47.2V55.5M305.5 39.3V49.3M310.5 45.2V60.4M312.5 32.9V69.2M316.5 39.4V49.2M319.5 43.1V61.7M321.5 42.7V71.1M326.5 43.9V58.6M330.5 28.4V60.7M332.5 54.4V65.3M339.5 49.4V57.4M342.5 35.5V61.9M345.5 38.7V61.3M347.5 45.8V54.0M353.5 52.3V69.0M358.5 44.1V59.6M359.5 52.6V65.9M364.5 42.7V48.0M365.5 48.6V55.3M376.5 42.3V53.2M382.5 61.1V69.8M384.5 23.2V49.3M386.5 35.6V56.5M392.5 38.3V56.7M396.5 48.0V58.9M397.5 48.7V63.6M398.5 39.9V57.2M406.5 38.0V59.1M422.5 53.0V78.1M431.5 49.1V71.9M432.5 32.2V63.0M435.5 35.0V50.7M439.5 45.7V54.5M446.5 30.8V55.0M448.5 47.3V68.2M453.5 45.8V51.7M456.5 44.3V50.7M467.5 47.8V70.1M471.5 34.8V58.1M472.5 35.1V56.3M473.5 37.9V59.4M478.5 43.2V49.4M483.5 43.3V49.4M492.5 51.1V58.5M497.5 47.1V58.7M505.5 48.4V62.8M506.5 38.0V76.0M507.5 43.7V52.3M508.5 40.1V47.9M514.5 36.3V47.2M522.5 31.9V58.3M537.5 41.9V69.0M541.5 39.6V45.0M546.5 38.5V59.7M548.5 53.5V61.3M553.5 40.7V60.2M556.5 42.6V74.0M565.5 53.6V66.0M569.5 49.7V51.3M574.5 51.0V67.5M577.5 53.8V65.5M581.5 45.0V52.0M598.5 51.8V65.0M606.5 43.7V48.2M608.5 53.2V55.4" stroke="#D95319" stroke-opacity="0.85"/>
<path d="M26.5 49.5V53.9M37.5 53.8V71.0M55.5 43.1V49.6M56.5 51.2V71.4M58.5 54.3V70.7M60.5 31.5V54.3M61.5 29.8V50.3M76.5 33.3V60.0M82.5 55.8V75.3M84.5 43.9V69.9M85.5 43.8V71.4M92.5 42.7V50.3M94.5 57.0V75.1M101.5 54.1V68.4M110.5 37.6V65.4M115.5 30.3V79.1M118.5 54.6V70.0M129.5 40.6V60.7M131.5 32.8V42.0M151.5 39.8V52.3M159.5 34.1V44.8M160.5 39.9V64.5M166.5 42.1V54.2M171.5 39.2V60.2M172.5 40.6V60.6M181.5 33.0V60.6M183.5 37.0V55.6M190.5 44.8V51.8M203.5 43.8V53.3M206.5 56.3V60.4M208.5 38.7V61.0M215.5 42.5V56.5M220.5 47.1V57.2M236.5 49.8V59.1M245.5 54.5V70.3M247.5 41.1V62.2M253.5 31.0V62.1M258.5 38.2V56.2M261.5 55.1V59.8M263.5 39.3V50.5M266.5 43.7V61.3M269.5 34.7V54.6M272.5 53.5V62.8M283.5 45.0V59.9M285.5 45.8V58.4M286.5 39.0V53.3M287.5 54.5V59.9M288.5 45.7V50.8M296.5 47.2V61.5M308.5 51.7V54.9M322.5 45.4V74.3M328.5 47.6V65.1M331.5 51.4V64.2M341.5 40.1V62.9M343.5 55.4V58.4M346.5 41.1V60.2M350.5 38.0V70.9M357.5 29.9V63.9M372.5 35.0V55.9M373.5 29.9V52.9M379.5 32.0V61.2M412.5 46.4V67.9M415.5 41.9V68.5M418.5 35.2V57.2M421.5 43.5V61.5M423.5 46.8V60.5M436.5 54.6V71.2M447.5 41.8V56.5M449.5 37.0V52.8M452.5 42.7V57.7M460.5 55.2V67.3M461.5 43.1V64.6M462.5 51.4V61.3M464.5 35.3V59.9M469.5 51.5V65.5M474.5 53.1V54.1M476.5 43.9V64.7M480.5 38.3V53.2M500.5 35.9V54.9M509.5 47.1V48.3M513.5 46.4V61.3M519.5 44.7V66.5M527.5 53.0V57.2M532.5 45.9V57.8M551.5 32.7V75.1M558.5 49.4V61.9M561.5 48.5V72.1M566.5 31.0V54.8M570.5 43.0V56.0M582.5 54.2V56.2M588.5 39.3V66.8M593.5 29.7V70.8M600.5 54.2V64.3M605.5 52.7V57.9M609.5 41.1V49.8" stroke="#EDB120" stroke-opacity="0.85"/>
<path d="M31.5 44.3V62.8M36.5 48.6V56.5M62.5 50.9V77.9M66.5 38.8V46.2M74.5 21.3V67.1M75.5 19.8V75.3M77.5 37.3V72.8M78.5 51.6V66.7M80.5 27.2V68.7M97.5 35.3V48.4M99.5 39.0V67.7M122.5 34.0V59.8M127.5 52.9V68.8M132.5 62.0V66.6M133.5 22.4V63.0M146.5 51.0V55.0M147.5 42.7V59.9M152.5 31.6V60.7M155.5 41.6V60.2M167.5 41.8V47.9M170.5 47.3V55.5M182.5 38.0V59.7M192.5 41.6V61.2M202.5 52.3V53.4M207.5 43.6V62.2M214.5 32.1V60.9M217.5 44.7V62.4M224.5 50.9V59.6M226.5 35.0V59.0M230.5 49.1V60.7M235.5 39.1V56.8M249.5 45.0V57.7M257.5 42.3V53.8M278.5 36.6V56.2M293.5 41.5V60.7M301.5 44.5V54.7M304.5 43.3V50.2M306.5 42.4V57.7M314.5 45.6V66.5M318.5 53.7V70.6M336.5 48.6V59.4M352.5 37.5V64.0M360.5 48.3V57.0M363.5 34.5V49.6M377.5 35.3V58.8M385.5 47.0V61.2M389.5 36.6V67.4M395.5 42.9V61.8M409.5 50.4V59.4M411.5 42.7V60.7M414.5 41.2V49.0M420.5 28.0V74.6M425.5 54.2V62.2M427.5 40.2V77.4M434.5 30.4V53.7M437.5 40.0V62.2M441.5 55.0V59.2M442.5 41.7V59.5M444.5 38.1V61.7M450.5 46.5V49.4M455.5 38.5V59.8M482.5 48.3V58.5M489.5 58.0V59.3M490.5 49.2V64.6M491.5 43.5V57.8M516.5 49.2V63.5M520.5 38.1V63.6M521.5 44.0V60.9M523.5 48.8V66.3M525.5 53.1V66.8M528.5 36.5V62.8M529.5 37.7V54.1M536.5 54.1V65.7M547.5 44.8V73.6M552.5 57.9V70.6M562.5 46.4V58.1M563.5 37.2V64.5M564.5 29.6V61.9M584.5 48.4V60.6M586.5 49.7V59.1M589.5 37.0V65.4M590.5 59.7V73.9M592.5 56.3V64.6M595.5 33.0V75.0M597.5 39.5V64.2M610.5 41.2V53.2" stroke="#7E2F8E" stroke-opacity="0.85"/>
<path d="M27.5 48.3V52.6M28.5 49.6V57.6M35.5 25.7V61.0M41.5 42.2V61.3M45.5 31.5V57.9M54.5 55.3V68.1M68.5 51.8V81.6M71.5 48.1V77.3M73.5 29.9V74.6M83.5 42.5V81.1M88.5 39.3V81.7M90.5 59.6V69.1M102.5 31.4V71.4M105.5 38.1V59.2M109.5 36.6V79.5M112.5 50.8V74.0M121.5 57.8V60.1M123.5 30.2V70.1M125.5 51.9V64.7M130.5 35.0V62.1M134.5 38.8V52.2M135.5 42.3V54.4M140.5 55.7V65.1M149.5 42.8V49.6M150.5 54.6V58.0M154.5 45.7V49.1M156.5 41.3V51.9M161.5 35.3V64.2M165.5 42.9V58.5M169.5 45.1V51.3M179.5 38.4V53.4M193.5 52.1V57.6M196.5 53.8V60.0M198.5 38.3V57.0M199.5 43.7V51.0M200.5 42.0V52.7M210.5 53.1V61.9M213.5 47.0V59.3M221.5 46.8V53.0M222.5 49.9V60.6M231.5 40.9V55.8M241.5 51.6V62.6M242.5 49.5V64.9M244.5 46.3V59.8M246.5 29.9V45.3M252.5 31.8V64.3M254.5 37.1V58.0M260.5 50.4V61.6M276.5 43.6V61.3M277.5 42.4V57.0M281.5 42.9V51.8M282.5 50.2V54.1M284.5 48.9V54.7M295.5 35.5V55.7M298.5 50.0V54.1M315.5 52.9V62.9M323.5 45.6V65.2M325.5 30.8V44.1M327.5 46.6V53.7M340.5 53.3V62.0M348.5 45.9V71.8M354.5 51.0V84.5M366.5 40.6V50.2M369.5 56.3V61.9M374.5 53.9V61.8M375.5 31.6V50.4M378.5 28.7V54.5M381.5 46.4V82.2M387.5 50.9V79.2M390.5 42.8V71.5M401.5 37.2V55.1M410.5 45.3V54.2M413.5 43.3V44.7M416.5 49.3V60.4M417.5 45.1V64.8M428.5 34.7V65.2M429.5 31.5V55.0M451.5 49.0V60.8M454.5 35.8V58.3M458.5 46.0V58.2M475.5 46.2V60.8M477.5 37.4V57.1M481.5 43.6V58.2M485.5 57.1V58.6M487.5 52.6V60.8M493.5 46.4V58.6M494.5 47.1V55.5M498.5 55.9V59.7M499.5 33.8V60.0M503.5 34.4V55.4M511.5 39.8V79.8M534.5 34.6V51.0M535.5 52.6V66.1M539.5 43.3V67.9M542.5 53.5V68.0M543.5 43.5V47.1M545.5 35.1V54.4M554.5 29.0V42.5M576.5 43.9V55.6M578.5 48.4V63.1M585.5 47.1V58.9M591.5 36.2V67.0M603.5 57.2V60.5" stroke="#77AC30" stroke-opacity="0.85"/>
<path d="M30.5 49.1V59.0M42.5 31.9V46.7M49.5 38.9V73.6M65.5 37.3V62.5M69.5 56.1V72.2M100.5 45.2V72.8M116.5 23.1V51.3M124.5 25.5V62.6M126.5 45.7V59.7M157.5 38.9V54.7M197.5 42.8V60.4M212.5 46.4V56.9M218.5 45.8V51.4M219.5 47.3V59.5M250.5 40.1V49.5M251.5 35.3V51.3M259.5 37.6V51.2M289.5 44.4V52.5M302.5 54.3V59.0M311.5 55.4V67.4M334.5 53.3V56.1M344.5 51.2V66.7M356.5 38.7V60.5M371.5 53.6V57.5M393.5 36.6V57.3M404.5 39.3V52.0M408.5 32.1V58.5M419.5 32.8V53.4M465.5 53.9V68.7M466.5 39.6V63.5M479.5 38.8V49.9M488.5 43.4V54.1M496.5 42.5V49.7M501.5 44.3V53.9M515.5 57.8V61.1M517.5 37.7V48.1M538.5 48.3V63.3M540.5 44.2V62.3M544.5 52.9V65.7M549.5 30.4V68.1M550.5 57.6V65.0M567.5 49.7V63.2M572.5 49.8V57.6M601.5 44.8V54.3" stroke="#4DBEEE" stroke-opacity="0.85"/>
<path d="M29.5 48.9V55.4M32.5 30.2V60.8M34.5 46.7V67.2M38.5 31.4V64.6M39.5 52.6V73.3M40.5 38.0V59.4M46.5 40.3V50.8M51.5 32.3V53.3M59.5 41.8V59.1M89.5 31.8V73.9M93.5 47.0V62.8M95.5 34.8V55.8M104.5 31.8V60.8M106.5 42.0V51.3M107.5 36.2V66.2M108.5 33.4V73.5M114.5 56.5V69.6M120.5 30.4V46.5M144.5 56.0V60.8M168.5 57.1V59.9M211.5 40.5V62.2M216.5 40.1V48.8M228.5 46.8V53.7M265.5 51.4V57.7M271.5 45.4V58.1M279.5 49.4V56.7M290.5 49.2V53.7M324.5 33.3V43.6M355.5 30.4V65.9M368.5 50.5V59.3M370.5 35.0V59.9M380.5 48.8V77.0M388.5 28.3V85.3M400.5 38.0V56.8M405.5 41.7V52.9M438.5 31.3V51.7M445.5 33.4V60.7M470.5 38.7V50.1M486.5 42.6V55.7M495.5 48.0V54.1M510.5 40.9V49.0M559.5 40.2V63.3M568.5 46.9V56.1M575.5 47.3V58.3M579.5 46.5V64.0M596.5 53.1V72.5M607.5 39.5V56.5" stroke="#A2142F" stroke-opacity="0.85"/>
<path d="M25.5 54.1V55.9M31.5 47.5V57.2M37.5 37.2V54.8M51.5 52.7V84.1M55.5 39.6V79.1M58.5 49.2V79.7M62.5 31.2V80.2M80.5 36.3V53.6M83.5 56.1V62.2M84.5 47.5V79.0M88.5 61.1V75.7M97.5 32.1V55.2M99.5 17.7V52.0M106.5 37.0V59.7M120.5 33.6V67.5M138.5 40.0V64.2M159.5 40.5V62.0M160.5 35.7V66.8M167.5 49.6V55.0M201.5 46.1V55.5M208.5 37.0V50.1M209.5 54.2V56.8M216.5 40.5V58.7M221.5 44.5V51.9M229.5 38.0V52.7M230.5 33.7V54.4M234.5 39.6V54.9M241.5 51.9V63.1M244.5 33.1V49.0M252.5 49.0V66.7M265.5 49.3V56.3M266.5 35.7V54.3M267.5 52.5V59.4M273.5 52.5V56.9M276.5 38.3V49.6M277.5 36.3V54.5M280.5 48.5V60.6M289.5 40.4V59.2M303.5 43.7V50.1M305.5 44.7V61.0M318.5 43.5V48.5M329.5 36.4V72.3M342.5 36.8V54.0M345.5 53.4V68.7M346.5 51.4V62.5M347.5 32.1V60.6M349.5 45.3V60.2M354.5 62.4V64.4M355.5 54.3V59.6M363.5 52.6V55.2M373.5 53.2V54.5M375.5 57.5V65.9M393.5 27.8V72.2M404.5 58.0V59.2M408.5 51.4V62.7M416.5 56.6V68.6M421.5 49.3V66.9M429.5 26.2V70.7M433.5 35.6V59.6M435.5 31.5V63.0M448.5 35.6V61.5M485.5 47.5V55.9M486.5 36.0V55.0M488.5 36.0V53.8M496.5 40.7V46.2M497.5 53.4V57.7M507.5 45.8V53.8M510.5 37.3V70.4M514.5 36.4V54.4M520.5 46.1V54.2M521.5 52.3V55.4M522.5 43.2V55.6M527.5 34.9V52.7M530.5 37.0V47.8M541.5 54.3V67.5M543.5 57.3V60.0M550.5 37.6V75.8M551.5 36.9V53.0M552.5 49.8V65.1M554.5 48.4V67.7M563.5 41.7V59.4M569.5 48.3V54.4M578.5 51.2V63.4M585.5 50.9V56.3M588.5 38.2V50.2M591.5 35.0V64.6M595.5 29.7V69.5M598.5 40.6V70.9" stroke="#0072BD" stroke-opacity="0.85"/>
<path d="M32.5 53.5V71.4M38.5 51.4V73.8M39.5 29.0V48.3M40.5 34.3V58.2M41.5 52.8V71.7M44.5 32.8V50.9M46.5 26.5V48.7M59.5 34.1V46.3M74.5 44.2V63.9M76.5 34.7V54.9M90.5 50.9V71.5M96.5 55.6V64.4M98.5 29.3V62.6M105.5 52.5V69.1M110.5 54.2V69.1M113.5 46.4V53.6M118.5 52.5V67.8M143.5 37.8V50.5M144.5 48.2V63.3M145.5 55.4V62.3M155.5 45.3V56.0M156.5 43.1V62.6M161.5 44.1V62.5M162.5 46.7V65.6M165.5 55.6V61.3M170.5 51.5V55.9M172.5 43.8V60.0M184.5 23.3V51.0M189.5 45.2V81.1M197.5 51.3V62.5M198.5 44.1V60.4M206.5 37.3V50.2M211.5 45.0V54.5M212.5 48.9V55.0M231.5 34.8V53.5M250.5 45.4V49.3M254.5 36.9V76.9M259.5 45.3V57.8M269.5 41.5V57.8M270.5 36.8V49.7M271.5 47.2V53.9M272.5 49.0V52.5M278.5 41.2V54.7M281.5 47.6V52.4M284.5 50.6V56.8M286.5 48.1V51.3M288.5 48.7V53.0M295.5 39.6V52.5M306.5 48.5V54.3M319.5 33.3V70.5M324.5 27.9V56.4M327.5 28.4V56.0M334.5 49.2V63.9M340.5 34.0V51.9M344.5 34.7V43.9M350.5 41.6V53.1M361.5 44.9V51.8M364.5 51.0V57.8M366.5 51.5V57.0M367.5 47.1V54.2M370.5 43.9V61.9M374.5 41.8V50.6M388.5 47.2V49.2M391.5 48.6V69.7M395.5 40.1V62.9M399.5 47.0V54.6M405.5 53.9V62.1M406.5 43.9V55.8M409.5 42.8V51.8M411.5 46.7V59.7M420.5 37.1V52.6M423.5 39.7V70.5M425.5 41.6V52.8M427.5 34.8V43.9M447.5 47.0V58.9M450.5 47.6V50.0M460.5 42.0V55.3M463.5 42.9V57.4M481.5 40.3V55.2M489.5 45.7V52.1M491.5 57.0V63.6M493.5 50.6V61.1M498.5 46.1V50.6M503.5 44.0V52.5M508.5 33.5V65.9M513.5 28.3V57.3M515.5 44.2V51.6M524.5 54.1V67.6M525.5 35.1V57.3M544.5 42.8V68.1M547.5 32.7V73.0M562.5 49.7V67.7M587.5 49.9V57.7M603.5 51.9V56.6" stroke="#D95319" stroke-opacity="0.85"/>
<path d="M28.5 44.4V53.7M29.5 41.1V50.9M49.5 51.3V67.7M50.5 62.5V73.0M52.5 42.8V55.4M56.5 52.4V69.8M60.5 53.0V71.7M70.5 39.8V57.7M71.5 51.7V66.5M72.5 35.3V78.7M79.5 61.1V64.5M85.5 33.5V53.5M86.5 37.0V74.2M91.5 49.8V64.8M92.5 51.3V73.8M108.5 32.5V80.5M112.5 34.8V45.2M117.5 45.8V70.3M123.5 40.5V48.5M126.5 34.5V59.9M127.5 36.1V59.1M134.5 42.4V61.8M135.5 38.0V50.7M139.5 40.5V49.5M140.5 44.8V50.2M141.5 49.5V55.3M158.5 53.0V70.9M164.5 43.7V53.3M179.5 59.4V62.8M193.5 39.9V51.7M199.5 54.6V62.4M205.5 52.6V59.1M207.5 44.6V63.1M214.5 45.2V58.5M236.5 49.2V53.3M238.5 45.2V62.6M243.5 35.8V60.3M246.5 42.1V58.1M248.5 32.9V48.2M251.5 53.1V61.1M275.5 38.7V51.4M279.5 40.9V56.1M290.5 50.6V58.0M292.5 44.9V56.7M293.5 51.6V53.5M296.5 46.9V55.2M301.5 37.3V50.0M307.5 41.4V53.1M332.5 39.5V60.9M333.5 54.2V67.7M339.5 34.9V53.2M343.5 43.3V65.2M352.5 24.1V54.6M356.5 42.8V58.9M358.5 58.9V69.7M359.5 52.4V63.7M376.5 33.3V57.6M377.5 27.7V62.4M379.5 42.1V50.0M384.5 31.3V68.5M386.5 33.9V65.8M390.5 56.1V67.6M392.5 52.9V69.2M394.5 59.3V60.2M397.5 42.3V61.6M402.5 47.0V51.5M414.5 39.8V54.7M419.5 41.5V72.3M422.5 34.3V46.0M426.5 31.2V52.1M434.5 45.2V66.1M443.5 52.8V55.4M444.5 49.7V53.9M446.5 51.1V54.7M451.5 37.5V54.5M452.5 53.1V56.1M462.5 46.3V59.6M465.5 34.3V43.2M467.5 30.7V56.4M470.5 46.0V75.8M472.5 51.1V58.0M475.5 43.2V62.8M484.5 42.7V58.8M487.5 51.4V55.7M495.5 55.3V61.2M505.5 50.3V64.6M509.5 36.9V68.9M511.5 43.8V51.1M517.5 31.5V62.2M519.5 52.7V56.1M533.5 46.2V62.6M540.5 41.0V66.4M545.5 46.2V73.6M546.5 37.7V61.6M556.5 37.2V64.1M559.5 32.8V78.7M571.5 46.1V47.8M584.5 50.7V55.7M593.5 54.1V69.2M597.5 49.1V57.7M602.5 45.3V54.0" stroke="#EDB120" stroke-opacity="0.85"/>
<path d="M26.5 46.9V54.0M33.5 54.0V67.8M35.5 27.2V43.9M53.5 50.9V72.5M66.5 53.3V66.2M67.5 29.3V67.1M68.5 50.3V68.2M75.5 26.4V51.7M93.5 36.3V66.9M94.5 26.2V62.4M95.5 22.6V58.3M102.5 31.5V50.4M103.5 40.1V75.4M104.5 27.3V67.6M111.5 26.7V61.7M116.5 44.4V62.4M119.5 47.7V71.2M121.5 30.3V61.8M122.5 53.4V81.0M124.5 24.1V72.1M130.5 59.7V60.8M132.5 32.8V80.1M149.5 32.7V63.5M150.5 41.2V51.9M153.5 39.1V50.3M163.5 48.0V56.5M168.5 39.4V61.2M174.5 54.4V57.8M176.5 53.4V60.2M187.5 28.5V51.3M190.5 49.3V70.2M191.5 46.3V58.4M194.5 42.1V55.0M210.5 40.9V53.5M213.5 33.6V54.0M215.5 50.7V60.2M223.5 48.8V59.2M233.5 53.8V62.9M235.5 52.9V55.1M242.5 40.7V64.7M253.5 50.8V66.1M256.5 46.5V60.0M258.5 39.8V66.4M262.5 51.8V64.1M283.5 35.6V55.4M285.5 49.1V55.3M297.5 46.2V51.8M298.5 45.6V59.4M300.5 41.2V64.1M302.5 33.9V54.2M311.5 35.6V60.3M313.5 37.7V56.2M315.5 42.0V50.9M317.5 41.8V69.8M322.5 52.0V70.3M323.5 34.5V65.9M351.5 57.6V61.6M362.5 38.2V57.9M369.5 41.5V51.3M371.5 47.5V55.9M380.5 47.5V73.9M381.5 31.6V82.6M387.5 44.2V68.1M398.5 37.0V55.0M400.5 34.4V58.3M403.5 54.2V54.9M407.5 51.9V61.5M413.5 36.1V68.6M415.5 42.7V55.0M424.5 45.3V62.6M431.5 30.3V65.8M437.5 56.5V58.3M439.5 42.6V70.1M440.5 53.8V64.7M441.5 44.2V56.3M454.5 55.2V61.3M459.5 47.8V48.6M461.5 46.6V53.5M478.5 35.6V54.1M492.5 41.8V61.1M494.5 44.0V56.5M499.5 51.3V57.2M500.5 36.6V53.2M502.5 30.5V53.0M506.5 42.3V46.6M512.5 42.5V66.1M529.5 35.0V67.0M538.5 39.3V54.0M539.5 46.1V50.8M553.5 51.1V74.7M557.5 37.4V64.3M560.5 59.6V66.9M566.5 29.1V58.6M567.5 44.5V49.0M568.5 44.3V49.4M579.5 44.2V48.9M604.5 40.3V62.5M606.5 38.5V53.1M607.5 47.9V49.0M608.5 53.7V55.2M609.5 41.9V50.5M610.5 50.3V56.1" stroke="#7E2F8E" stroke-opacity="0.85"/>
<path d="M30.5 49.6V54.3M34.5 32.9V54.7M42.5 43.0V60.7M47.5 16.2V72.5M54.5 40.2V78.7M64.5 41.2V79.1M65.5 26.2V56.4M69.5 22.1V50.0M73.5 20.5V68.3M77.5 31.3V74.4M78.5 59.2V72.6M81.5 49.8V80.4M82.5 42.0V69.4M87.5 61.1V82.8M89.5 38.0V79.0M101.5 38.1V54.2M114.5 38.6V53.3M128.5 46.4V60.1M131.5 35.3V80.1M142.5 50.5V63.1M146.5 42.4V52.1M152.5 46.2V68.9M157.5 39.7V62.7M166.5 39.5V58.2M171.5 45.3V53.8M173.5 54.7V64.5M175.5 57.2V59.8M177.5 55.9V56.7M178.5 53.0V58.1M182.5 46.7V54.7M183.5 34.0V51.2M185.5 53.0V69.8M202.5 40.4V53.3M203.5 42.9V56.4M220.5 51.9V58.0M228.5 51.8V56.0M232.5 35.3V55.4M239.5 47.0V60.0M245.5 25.7V60.6M255.5 60.8V67.2M257.5 48.7V59.8M299.5 46.2V61.8M308.5 48.1V49.0M310.5 44.3V54.5M312.5 31.5V50.7M314.5 45.6V52.2M316.5 35.5V58.8M320.5 28.6V56.0M335.5 48.0V55.6M338.5 37.0V55.7M341.5 54.6V56.3M353.5 33.9V62.9M357.5 30.0V57.2M368.5 43.9V52.3M372.5 41.3V54.9M385.5 40.3V71.6M389.5 48.1V57.5M418.5 54.3V58.7M438.5 44.3V49.6M442.5 44.9V64.6M445.5 53.0V56.5M453.5 35.2V58.3M457.5 45.2V70.2M466.5 25.8V71.8M469.5 39.7V69.3M483.5 45.3V58.7M504.5 40.9V69.7M518.5 34.8V57.9M531.5 42.1V61.4M532.5 44.2V62.1M537.5 48.6V63.3M558.5 37.1V49.9M561.5 32.5V45.3M565.5 37.2V51.5M570.5 46.1V49.8M572.5 53.1V60.6M575.5 33.9V65.0M577.5 45.0V46.9M581.5 45.0V54.7M582.5 44.0V50.7M586.5 50.1V57.1M590.5 47.3V69.9M592.5 33.6V75.0M596.5 29.7V68.7M599.5 54.0V59.0M601.5 44.0V56.3M605.5 48.7V61.0" stroke="#77AC30" stroke-opacity="0.85"/>
<path d="M43.5 43.9V54.9M45.5 25.2V60.6M48.5 40.6V66.6M61.5 25.4V78.1M107.5 33.6V68.8M115.5 45.7V64.5M125.5 26.3V53.6M147.5 36.3V59.1M169.5 40.9V47.7M186.5 34.1V63.0M192.5 45.2V58.0M195.5 39.2V57.9M227.5 47.1V52.9M240.5 46.0V52.6M249.5 45.2V59.8M261.5 40.8V51.0M287.5 48.5V59.7M294.5 53.1V60.1M304.5 44.1V51.5M309.5 53.1V54.9M325.5 33.6V66.1M330.5 31.5V62.8M336.5 44.5V54.8M337.5 51.9V57.4M348.5 39.8V68.3M365.5 51.0V55.0M382.5 53.6V75.2M383.5 25.6V47.3M401.5 49.6V54.2M412.5 45.2V51.7M430.5 24.2V70.8M455.5 32.0V59.5M456.5 34.9V61.2M468.5 34.1V67.5M471.5 52.0V78.0M473.5 50.9V59.8M474.5 46.4V65.3M477.5 43.0V59.9M526.5 34.6V59.0M528.5 39.2V50.5M535.5 53.6V62.1M555.5 34.0V56.8M564.5 45.4V72.7M589.5 42.6V50.7M594.5 35.9V59.2M600.5 42.7V60.9" stroke="#4DBEEE" stroke-opacity="0.85"/>
<path d="M27.5 46.6V53.9M36.5 52.2V70.1M57.5 34.3V49.7M100.5 42.5V61.2M109.5 46.7V83.0M129.5 43.6V70.7M133.5 35.6V60.0M136.5 32.9V48.1M137.5 57.1V61.5M151.5 36.3V60.5M154.5 33.5V54.5M181.5 52.9V54.0M188.5 42.1V54.1M196.5 37.9V48.2M200.5 39.7V59.6M204.5 50.0V58.7M217.5 41.1V62.7M219.5 44.2V54.9M222.5 46.1V58.9M224.5 40.8V56.7M237.5 49.6V59.8M247.5 35.9V53.9M260.5 39.1V59.2M263.5 35.3V62.2M274.5 40.5V56.9M291.5 40.7V61.7M321.5 24.3V66.4M326.5 48.4V58.5M331.5 48.3V71.6M360.5 40.7V53.1M378.5 39.9V57.2M410.5 39.0V59.1M417.5 39.1V50.2M428.5 43.1V48.7M432.5 41.4V55.6M436.5 30.3V57.0M449.5 45.8V56.0M458.5 51.5V68.3M464.5 38.1V46.6M476.5 57.0V64.5M479.5 33.4V61.4M482.5 39.7V52.3M490.5 53.1V62.1M501.5 41.2V59.1M516.5 55.9V66.1M534.5 35.4V56.1M536.5 44.4V61.2M542.5 45.9V68.9M548.5 26.1V60.2M549.5 25.6V70.2M576.5 43.1V47.2M580.5 43.5V49.7M583.5 48.6V58.5" stroke="#A2142F" stroke-opacity="0.85"/>
<path d="M29.5 42.4V54.8M31.5 54.0V65.6M34.5 25.1V46.4M46.5 28.2V63.5M51.5 60.1V61.7M54.5 39.9V40.7M65.5 24.8V79.6M66.5 32.0V64.3M81.5 50.0V63.9M85.5 40.3V55.8M93.5 33.8V48.7M95.5 36.9V65.9M105.5 32.1V73.1M116.5 30.7V62.5M123.5 35.9V46.3M124.5 33.6V49.4M126.5 29.9V56.4M131.5 49.6V74.6M134.5 34.0V63.5M142.5 39.2V57.0M145.5 35.8V53.6M174.5 49.6V62.7M176.5 48.9V60.3M179.5 45.4V63.7M184.5 20.2V57.4M198.5 52.3V55.8M218.5 46.0V59.8M231.5 35.3V50.2M235.5 41.7V52.9M240.5 42.5V51.7M241.5 40.7V53.9M244.5 50.9V61.6M247.5 46.4V60.8M254.5 43.4V65.1M258.5 43.6V58.7M260.5 42.5V53.4M273.5 42.6V51.9M279.5 36.3V61.3M281.5 34.5V56.9M283.5 47.4V54.4M300.5 44.6V52.1M306.5 52.7V62.9M307.5 47.0V49.8M323.5 36.2V63.4M327.5 42.5V54.8M331.5 40.4V65.4M343.5 42.0V62.5M350.5 46.5V69.7M364.5 48.8V54.4M369.5 49.1V58.2M376.5 39.0V59.2M386.5 41.2V57.2M387.5 46.7V56.1M390.5 32.8V51.7M392.5 38.5V47.4M395.5 37.3V56.3M400.5 49.3V56.1M406.5 55.6V56.9M411.5 43.0V53.3M418.5 49.9V55.4M423.5 36.4V73.0M432.5 30.1V69.0M434.5 36.5V61.0M436.5 53.2V71.1M445.5 46.5V60.9M450.5 54.8V61.5M451.5 38.9V56.8M452.5 45.6V49.6M453.5 35.7V65.2M457.5 42.2V65.2M470.5 57.9V67.7M475.5 52.4V56.2M476.5 43.6V49.0M477.5 43.6V57.8M485.5 34.4V61.1M488.5 36.2V52.6M495.5 50.6V57.7M504.5 56.9V63.9M511.5 59.4V76.2M519.5 41.2V62.7M533.5 40.7V63.3M564.5 45.6V66.0M569.5 43.0V55.3M574.5 36.3V53.8M592.5 33.3V72.1M596.5 30.9V59.0M606.5 44.7V54.6M610.5 50.7V55.7" stroke="#0072BD" stroke-opacity="0.85"/>
<path d="M25.5 39.9V51.9M28.5 48.3V58.4M30.5 51.2V59.0M42.5 29.1V51.0M47.5 50.1V59.7M50.5 55.6V56.8M53.5 40.1V47.5M55.5 35.3V74.7M57.5 50.3V71.3M60.5 48.1V57.2M61.5 36.6V48.8M69.5 41.7V78.6M80.5 45.2V60.3M84.5 27.7V76.9M90.5 33.6V59.8M92.5 40.6V53.5M99.5 37.5V48.9M104.5 28.8V58.8M106.5 29.1V63.4M113.5 38.3V72.3M129.5 42.8V77.6M136.5 36.9V48.7M137.5 30.4V50.1M150.5 34.1V52.7M151.5 50.8V64.6M157.5 35.1V60.7M172.5 41.5V54.6M177.5 47.0V54.2M185.5 25.7V56.3M186.5 37.4V64.9M189.5 25.0V71.6M190.5 54.6V69.6M197.5 53.8V55.4M199.5 49.7V57.4M202.5 40.9V57.2M204.5 36.6V58.7M217.5 38.0V52.1M219.5 41.0V48.6M224.5 52.0V54.4M225.5 43.1V51.8M229.5 48.2V55.0M232.5 49.2V60.2M233.5 33.9V58.6M237.5 39.6V52.3M243.5 40.4V61.6M252.5 46.2V62.2M253.5 32.9V58.1M274.5 44.4V50.2M280.5 45.7V49.1M294.5 50.2V57.1M298.5 43.4V55.4M308.5 46.7V50.2M321.5 39.9V50.5M322.5 41.3V65.0M325.5 50.0V69.7M328.5 50.6V66.3M336.5 37.0V55.1M338.5 34.9V54.9M347.5 43.5V50.1M348.5 53.7V64.9M354.5 32.4V41.0M362.5 37.4V56.6M379.5 46.3V54.5M394.5 42.7V60.8M396.5 45.2V52.8M404.5 53.2V61.1M415.5 29.4V71.4M422.5 35.7V52.4M424.5 41.2V48.5M428.5 40.7V62.6M454.5 44.1V66.1M455.5 42.4V53.8M465.5 53.7V62.0M480.5 50.2V61.5M482.5 36.8V55.8M483.5 35.3V46.8M486.5 49.1V62.2M490.5 51.4V61.9M499.5 58.8V61.1M500.5 50.6V59.3M509.5 53.4V79.3M527.5 48.2V58.1M544.5 27.3V61.6M547.5 58.9V69.9M550.5 57.6V73.4M551.5 46.0V77.9M553.5 45.8V59.7M560.5 31.0V55.5M561.5 48.7V70.7M562.5 44.2V45.7M568.5 46.9V55.6M571.5 50.7V63.0M575.5 33.6V64.2M579.5 43.4V49.0M580.5 40.3V58.0M589.5 51.8V61.7M590.5 24.8V57.0M595.5 32.6V58.9M597.5 36.2V67.8M601.5 45.7V53.9M604.5 40.3V57.1M605.5 46.5V57.1M607.5 44.3V51.5" stroke="#D95319" stroke-opacity="0.85"/>
<path d="M26.5 43.4V51.2M36.5 49.3V65.1M37.5 31.5V51.6M39.5 45.8V55.7M62.5 51.2V62.1M70.5 50.4V68.1M72.5 46.3V75.6M74.5 62.5V73.4M78.5 46.3V66.4M79.5 51.4V71.6M96.5 33.4V46.9M97.5 40.7V49.1M101.5 48.6V55.8M103.5 29.6V69.3M114.5 42.5V60.4M115.5 50.2V56.3M138.5 48.0V58.7M140.5 45.4V56.7M153.5 31.7V48.4M163.5 49.1V63.2M167.5 52.2V59.8M168.5 38.9V59.1M169.5 31.6V49.9M170.5 41.9V64.5M181.5 38.5V53.1M191.5 39.8V63.2M196.5 44.3V58.4M213.5 35.6V48.8M220.5 50.0V62.5M238.5 36.6V58.0M245.5 48.3V62.0M246.5 28.6V56.9M256.5 40.0V54.2M263.5 51.0V59.2M268.5 36.9V53.1M270.5 41.5V48.9M276.5 38.4V59.5M290.5 38.6V50.2M292.5 37.5V55.2M326.5 49.6V63.1M334.5 47.5V49.6M335.5 48.7V64.2M337.5 37.2V52.0M345.5 53.2V55.6M356.5 44.8V49.6M357.5 48.2V55.4M361.5 43.7V52.3M363.5 49.1V55.9M366.5 41.2V48.1M368.5 37.6V59.8M371.5 51.7V61.8M374.5 49.3V55.8M377.5 29.3V47.6M381.5 46.8V60.2M382.5 30.1V48.3M391.5 30.0V68.4M408.5 43.9V55.7M414.5 32.6V70.5M427.5 24.8V78.2M430.5 43.1V61.0M435.5 30.0V56.7M437.5 37.6V64.9M448.5 35.1V63.2M449.5 47.4V55.8M466.5 51.1V61.1M479.5 51.6V56.9M498.5 44.7V56.4M507.5 55.7V65.5M512.5 37.3V52.1M520.5 51.7V60.9M521.5 48.9V63.3M531.5 36.4V55.0M536.5 36.1V56.5M537.5 40.0V55.4M540.5 45.1V65.0M541.5 53.6V72.7M546.5 50.4V65.7M552.5 43.7V69.5M555.5 45.2V66.9M556.5 35.5V44.0M557.5 25.8V48.5M558.5 31.7V58.2M578.5 44.2V58.9M603.5 48.2V50.9" stroke="#EDB120" stroke-opacity="0.85"/>
<path d="M32.5 32.3V55.0M35.5 38.6V75.6M41.5 39.7V65.2M48.5 19.0V51.3M52.5 50.7V70.1M59.5 43.6V63.6M63.5 36.9V76.8M71.5 45.4V65.9M87.5 40.1V64.7M89.5 46.8V58.6M107.5 32.8V73.6M110.5 36.1V53.7M133.5 35.2V57.9M135.5 41.8V60.6M148.5 36.1V59.0M156.5 59.1V61.6M160.5 55.1V68.3M161.5 58.4V60.8M162.5 44.6V57.4M173.5 35.4V50.0M175.5 38.2V59.4M194.5 35.7V53.8M205.5 54.7V57.9M206.5 48.4V54.6M208.5 38.9V60.1M209.5 37.3V55.6M216.5 45.3V56.4M222.5 42.3V58.6M228.5 41.3V53.7M239.5 39.4V52.5M242.5 46.8V59.1M248.5 43.3V56.0M250.5 34.3V57.0M255.5 34.0V54.2M259.5 45.1V50.7M262.5 47.5V54.4M265.5 39.4V60.3M269.5 43.7V56.6M271.5 42.1V58.9M282.5 39.1V49.3M285.5 40.6V53.9M289.5 40.2V60.0M295.5 52.3V56.5M302.5 43.4V55.4M303.5 51.3V61.0M304.5 56.8V59.6M309.5 44.0V49.2M316.5 37.8V67.9M333.5 49.1V52.8M342.5 37.4V58.0M353.5 35.3V49.3M355.5 37.5V73.2M370.5 48.8V54.9M375.5 34.2V63.5M378.5 43.7V48.6M385.5 28.1V68.2M399.5 38.6V64.0M401.5 52.3V55.4M407.5 47.4V55.9M410.5 36.5V50.4M412.5 41.6V57.4M413.5 36.4V55.4M416.5 42.0V46.9M446.5 41.5V53.0M447.5 46.0V64.2M456.5 38.4V62.6M458.5 46.4V62.9M460.5 37.2V52.5M461.5 31.5V54.1M462.5 39.6V58.7M463.5 37.4V59.8M464.5 47.3V65.5M467.5 28.5V61.4M472.5 29.3V45.3M481.5 36.7V59.3M487.5 39.7V51.3M494.5 42.3V56.2M501.5 47.5V56.0M502.5 35.5V55.6M505.5 29.7V58.5M508.5 39.4V76.1M514.5 54.1V58.2M515.5 51.0V63.1M517.5 52.7V65.1M542.5 41.3V57.0M545.5 38.6V70.5M549.5 24.0V48.4M565.5 38.7V60.0M576.5 53.0V67.5M582.5 53.2V59.6M584.5 45.8V50.1M587.5 32.2V59.4M594.5 28.6V58.6M599.5 45.1V56.0M600.5 48.5V59.5M602.5 45.4V60.1M608.5 49.7V57.8" stroke="#7E2F8E" stroke-opacity="0.85"/>
<path d="M33.5 40.9V63.6M38.5 33.7V68.2M40.5 52.4V58.3M43.5 55.1V73.8M44.5 23.0V80.4M67.5 33.8V65.7M68.5 44.1V52.9M76.5 37.5V74.8M83.5 60.0V71.9M86.5 49.3V61.2M91.5 30.3V66.5M100.5 26.1V60.6M108.5 31.0V47.5M109.5 27.5V85.3M111.5 26.1V88.8M120.5 35.8V70.5M127.5 30.6V68.9M130.5 25.7V58.5M132.5 46.5V68.3M139.5 48.8V56.8M141.5 51.4V56.5M143.5 32.6V55.5M146.5 44.8V53.0M147.5 38.0V52.4M149.5 52.7V61.3M154.5 39.2V58.1M155.5 39.4V53.9M159.5 37.7V77.9M165.5 47.4V56.7M166.5 53.4V62.5M187.5 42.8V54.7M192.5 50.5V62.9M200.5 44.5V50.8M201.5 49.5V56.3M207.5 38.3V59.1M210.5 43.8V62.5M211.5 41.1V63.1M212.5 45.3V52.5M215.5 37.7V59.4M223.5 42.7V49.7M226.5 47.3V56.8M236.5 45.4V57.2M249.5 34.3V57.6M251.5 35.9V64.7M257.5 40.0V52.3M261.5 40.0V50.9M266.5 46.3V57.0M277.5 45.1V61.0M278.5 37.9V55.4M291.5 36.9V59.7M297.5 45.8V60.9M313.5 46.1V61.8M318.5 34.6V72.3M319.5 34.5V56.6M324.5 35.4V59.8M330.5 42.6V66.2M339.5 36.4V50.8M341.5 43.9V50.0M344.5 52.5V56.6M359.5 33.7V68.6M373.5 38.3V58.1M383.5 50.9V66.1M384.5 35.4V84.0M388.5 51.4V71.5M393.5 41.7V52.5M398.5 45.5V60.1M402.5 47.6V58.4M417.5 56.2V63.3M420.5 50.9V56.8M431.5 59.9V62.8M439.5 39.7V54.6M440.5 37.3V58.4M441.5 45.5V50.0M444.5 47.8V59.6M459.5 31.5V48.2M469.5 47.0V71.0M471.5 39.5V47.2M474.5 54.6V59.9M478.5 40.5V61.0M484.5 38.5V61.4M496.5 53.8V62.2M513.5 33.4V54.7M518.5 55.0V60.3M525.5 40.6V68.3M529.5 40.5V61.2M530.5 55.5V64.0M538.5 45.8V48.4M548.5 33.9V64.5M554.5 42.4V54.8M559.5 37.2V46.7M566.5 41.0V48.0M567.5 51.1V65.9M573.5 39.3V62.2M577.5 55.3V68.5M583.5 36.7V56.4M585.5 43.0V53.7M588.5 29.3V60.0M598.5 41.8V60.3M609.5 37.8V60.6" stroke="#77AC30" stroke-opacity="0.85"/>
<path d="M27.5 43.6V52.5M56.5 48.4V61.9M73.5 50.4V60.1M88.5 56.3V61.2M94.5 46.3V66.2M98.5 40.8V48.8M102.5 56.1V61.3M118.5 26.1V57.4M122.5 35.2V49.1M144.5 34.8V53.7M152.5 33.9V51.9M171.5 47.3V52.3M180.5 47.1V60.6M182.5 53.2V61.5M183.5 26.9V67.9M188.5 33.2V67.8M193.5 51.8V55.6M214.5 28.9V63.5M284.5 42.7V53.9M286.5 49.5V55.0M288.5 54.7V58.3M299.5 47.3V50.5M314.5 48.7V66.6M315.5 36.3V67.4M317.5 46.0V67.3M320.5 43.3V77.2M351.5 42.1V52.5M360.5 45.2V57.9M367.5 44.2V60.6M380.5 25.3V66.7M421.5 40.2V62.3M425.5 45.8V73.0M426.5 29.6V68.9M438.5 53.9V57.0M443.5 42.3V53.6M491.5 39.9V61.1M493.5 42.9V50.0M497.5 55.6V59.0M510.5 44.8V48.8M516.5 30.1V65.8M523.5 41.5V58.6M524.5 60.1V71.2M534.5 46.6V58.9M539.5 47.7V48.8M570.5 41.6V69.1M581.5 40.9V55.7M593.5 27.1V59.8" stroke="#4DBEEE" stroke-opacity="0.85"/>
<path d="M45.5 48.7V80.9M49.5 36.8V55.7M58.5 41.1V51.7M64.5 35.9V76.7M75.5 53.7V69.0M77.5 47.6V69.9M82.5 54.1V66.3M112.5 28.4V66.5M119.5 35.9V52.5M121.5 38.1V69.4M125.5 38.0V51.9M128.5 36.9V73.3M158.5 39.5V50.2M164.5 44.2V64.2M178.5 48.6V55.4M203.5 39.9V52.3M221.5 42.7V50.3M227.5 43.1V59.4M230.5 43.6V50.3M267.5 40.9V57.1M272.5 36.7V62.6M275.5 49.2V54.8M287.5 49.5V55.6M293.5 44.0V53.9M296.5 49.0V59.0M301.5 45.5V51.8M305.5 39.9V52.6M311.5 55.4V67.5M312.5 48.2V60.3M329.5 26.6V58.4M332.5 54.1V62.9M346.5 45.1V57.8M352.5 52.1V76.5M358.5 36.0V52.6M365.5 40.6V50.1M389.5 48.4V64.8M397.5 56.9V60.1M403.5 43.0V60.1M409.5 42.5V50.5M419.5 44.3V60.6M433.5 36.5V70.2M442.5 52.7V59.9M468.5 48.5V57.6M473.5 39.8V53.4M492.5 39.5V64.0M503.5 40.9V51.9M506.5 30.9V53.7M522.5 44.6V57.6M535.5 43.8V52.9M543.5 28.8V44.2M563.5 51.6V59.3M572.5 35.0V64.8M586.5 40.6V57.7M591.5 35.5V54.8" stroke="#A2142F" stroke-opacity="0.85"/>
<path d="M27.5 45.4V57.1M33.5 57.9V79.4M35.5 28.3V50.3M36.5 25.4V58.1M38.5 43.3V74.9M39.5 39.5V75.3M46.5 34.3V53.2M58.5 38.3V55.4M59.5 38.6V59.8M73.5 37.2V61.4M82.5 50.9V73.0M87.5 21.9V82.0M95.5 47.4V66.7M102.5 30.2V58.7M112.5 39.8V62.6M128.5 28.1V52.2M133.5 20.8V68.2M146.5 56.7V60.0M186.5 31.9V67.5M192.5 54.9V61.6M194.5 45.0V60.3M199.5 42.6V58.5M203.5 53.2V57.4M205.5 44.3V54.6M239.5 48.3V61.3M246.5 59.7V67.1M249.5 43.2V59.6M254.5 45.3V49.2M258.5 36.4V54.4M265.5 51.7V60.2M274.5 38.5V57.6M278.5 44.5V50.9M285.5 43.4V53.8M289.5 51.7V58.2M293.5 50.9V58.4M297.5 45.7V51.6M298.5 48.0V53.9M302.5 50.1V55.1M311.5 51.3V65.8M339.5 45.3V61.9M346.5 33.0V66.8M360.5 34.1V49.4M363.5 44.6V50.2M375.5 34.0V61.2M377.5 40.2V56.3M388.5 33.9V72.5M393.5 49.8V67.6M394.5 32.8V51.3M396.5 48.4V59.7M409.5 37.2V59.8M412.5 48.8V57.9M413.5 53.8V61.3M420.5 49.4V71.5M426.5 39.3V57.2M427.5 32.2V55.2M428.5 24.8V58.0M435.5 55.7V58.7M437.5 49.1V60.6M447.5 34.9V59.9M451.5 47.8V63.7M456.5 41.0V49.5M459.5 43.0V68.9M487.5 54.8V61.6M491.5 35.1V63.5M515.5 35.4V53.8M519.5 56.2V61.7M535.5 49.9V65.0M540.5 45.3V54.3M542.5 48.6V67.4M543.5 38.0V69.3M547.5 46.5V63.0M565.5 28.9V64.5M572.5 35.8V66.2M573.5 54.0V59.9M579.5 44.6V57.7M589.5 52.4V55.3M601.5 49.9V57.7" stroke="#0072BD" stroke-opacity="0.85"/>
<path d="M34.5 31.1V68.7M37.5 37.4V79.7M54.5 35.9V57.6M66.5 36.4V64.5M78.5 34.5V47.3M83.5 48.6V61.6M86.5 48.0V69.4M89.5 55.9V69.4M94.5 27.2V68.1M110.5 35.2V56.0M116.5 49.3V76.8M124.5 43.7V51.0M127.5 53.2V58.1M131.5 29.1V49.6M134.5 46.6V57.2M138.5 45.7V62.5M153.5 32.8V55.6M155.5 24.7V53.7M173.5 46.2V52.4M176.5 42.4V58.2M178.5 33.7V61.0M179.5 52.7V64.3M183.5 26.1V45.6M193.5 44.5V49.8M196.5 47.3V57.5M208.5 34.1V60.4M210.5 53.2V58.2M212.5 47.4V53.1M216.5 46.2V58.1M217.5 48.1V52.7M228.5 44.5V51.3M229.5 54.3V57.1M236.5 51.6V59.6M238.5 53.5V57.3M281.5 53.9V55.0M292.5 52.4V54.2M295.5 43.0V61.8M317.5 34.5V71.9M318.5 46.7V77.1M320.5 51.6V66.4M323.5 30.7V61.3M334.5 33.9V55.1M373.5 43.7V50.0M382.5 24.9V76.4M385.5 30.9V48.9M392.5 30.0V57.3M401.5 36.6V60.4M403.5 36.7V49.8M407.5 35.2V61.7M414.5 39.4V52.9M434.5 22.8V65.4M443.5 54.0V55.8M444.5 50.8V57.0M445.5 50.4V59.7M452.5 49.8V62.6M454.5 39.5V65.1M455.5 43.0V61.7M462.5 40.0V72.2M469.5 48.3V53.5M474.5 53.0V55.5M488.5 50.5V57.0M496.5 44.5V56.5M501.5 47.0V66.2M502.5 52.2V56.8M506.5 44.2V46.5M512.5 39.2V54.5M516.5 39.8V64.9M517.5 49.9V63.3M523.5 52.4V61.4M524.5 47.0V63.3M528.5 46.1V56.2M531.5 41.1V60.3M533.5 30.6V53.5M558.5 40.1V69.2M570.5 49.5V68.9M576.5 43.2V48.6M588.5 42.3V49.5M590.5 44.2V69.7M593.5 39.4V44.1M594.5 30.3V60.6M609.5 53.1V55.0M610.5 46.4V52.1" stroke="#D95319" stroke-opacity="0.85"/>
<path d="M25.5 44.8V53.5M41.5 44.7V74.1M48.5 34.8V51.2M50.5 55.6V71.4M57.5 26.3V63.0M64.5 38.4V72.5M74.5 47.0V57.3M75.5 46.7V47.8M81.5 42.6V72.1M98.5 46.5V60.7M100.5 32.2V58.7M104.5 40.0V55.3M105.5 34.3V50.6M106.5 43.4V70.7M111.5 42.2V65.1M129.5 28.2V62.5M130.5 26.7V57.6M147.5 51.4V57.0M150.5 45.8V47.8M152.5 47.5V63.3M159.5 47.0V79.4M166.5 52.0V60.9M172.5 45.5V58.1M175.5 51.4V56.7M180.5 43.9V62.3M187.5 38.0V53.9M191.5 40.3V51.7M206.5 57.0V59.1M207.5 40.1V57.9M215.5 54.1V55.7M219.5 37.1V51.0M226.5 51.8V56.2M231.5 55.4V56.1M235.5 45.5V54.1M237.5 48.0V53.0M240.5 50.0V56.9M251.5 39.6V61.0M279.5 50.6V63.7M280.5 48.5V60.3M283.5 50.3V59.5M284.5 49.4V55.7M291.5 42.3V55.3M294.5 43.6V60.7M299.5 45.4V51.9M300.5 40.7V57.3M301.5 47.3V57.8M313.5 57.3V65.3M316.5 53.4V67.7M319.5 24.5V74.2M321.5 35.3V64.6M329.5 37.4V66.8M330.5 35.4V49.4M331.5 46.9V54.8M332.5 36.1V56.8M335.5 34.6V58.9M348.5 45.8V62.9M353.5 48.9V66.2M368.5 48.9V64.3M372.5 43.9V56.6M378.5 53.1V68.4M380.5 33.1V49.6M389.5 42.0V69.9M399.5 44.6V57.9M400.5 42.3V51.5M405.5 37.1V61.7M410.5 34.3V53.5M423.5 52.7V72.2M433.5 30.8V69.3M441.5 45.8V66.9M453.5 44.7V65.0M460.5 36.4V63.3M467.5 45.6V53.2M478.5 45.8V56.5M480.5 48.8V57.6M482.5 42.5V55.3M483.5 42.1V49.7M484.5 38.3V53.3M485.5 54.7V56.9M494.5 45.7V58.6M508.5 41.6V72.3M518.5 45.7V61.7M522.5 49.8V54.4M530.5 35.1V53.7M538.5 36.8V55.4M548.5 28.8V74.3M550.5 41.2V80.7M551.5 42.0V68.6M564.5 27.8V53.4M566.5 26.5V59.2M567.5 37.4V47.1M574.5 47.8V64.7M582.5 35.5V51.7M596.5 36.7V82.1M599.5 37.6V59.0M606.5 36.4V55.2" stroke="#EDB120" stroke-opacity="0.85"/>
<path d="M29.5 42.2V53.0M32.5 36.6V54.5M45.5 55.1V79.9M47.5 23.1V75.3M49.5 49.2V61.0M52.5 32.0V63.6M68.5 39.3V78.3M69.5 27.4V80.5M76.5 34.5V60.3M77.5 31.6V58.5M84.5 26.6V77.5M88.5 21.8V54.6M113.5 24.9V50.6M117.5 31.5V64.6M121.5 50.7V69.8M125.5 45.4V63.3M126.5 51.6V62.7M140.5 49.5V61.0M157.5 26.8V54.3M160.5 50.8V59.4M177.5 53.6V59.4M188.5 35.5V50.3M197.5 38.5V51.8M204.5 44.6V50.7M211.5 46.9V57.7M223.5 45.3V52.7M225.5 48.4V56.5M241.5 46.1V50.9M252.5 38.3V58.4M261.5 50.5V61.1M264.5 47.4V62.7M267.5 40.2V56.4M268.5 41.0V53.2M270.5 40.5V61.4M272.5 38.9V49.7M275.5 54.0V60.1M276.5 48.3V53.8M287.5 47.3V55.4M288.5 50.3V57.9M308.5 43.2V61.3M315.5 54.7V64.4M337.5 42.3V61.3M338.5 47.5V63.8M341.5 48.4V57.6M351.5 45.9V77.1M359.5 38.7V48.5M365.5 50.5V56.3M376.5 48.9V68.0M386.5 29.8V60.1M390.5 36.7V48.4M402.5 40.0V59.6M404.5 46.3V60.4M406.5 54.5V56.7M408.5 43.8V46.0M417.5 28.8V77.7M419.5 33.9V43.7M422.5 37.7V48.6M424.5 35.8V71.0M431.5 40.7V79.4M432.5 47.3V74.2M438.5 33.1V58.8M457.5 50.0V67.1M466.5 56.7V58.7M468.5 49.0V85.8M477.5 46.0V57.1M481.5 48.3V52.2M497.5 40.2V51.8M499.5 55.3V56.4M500.5 35.2V58.6M509.5 39.5V45.7M520.5 42.4V57.3M525.5 37.9V58.8M539.5 44.9V63.4M544.5 31.4V72.5M556.5 31.1V57.4M559.5 48.1V79.0M561.5 53.5V66.5M562.5 50.2V60.2M568.5 52.3V63.4M569.5 45.5V71.9M577.5 36.0V63.4M581.5 40.5V57.9M585.5 52.4V66.8M586.5 49.4V61.7M592.5 44.5V59.5M603.5 41.7V61.1" stroke="#7E2F8E" stroke-opacity="0.85"/>
<path d="M26.5 45.6V51.2M30.5 47.5V56.8M31.5 46.0V52.9M42.5 44.3V60.5M43.5 43.1V56.5M56.5 21.5V43.8M61.5 24.5V66.6M67.5 46.9V62.8M70.5 35.7V59.3M72.5 57.2V70.1M79.5 60.8V66.2M92.5 34.6V45.3M93.5 33.7V49.2M96.5 40.6V44.3M99.5 40.6V54.2M101.5 46.2V59.9M107.5 47.9V72.7M118.5 33.3V69.4M119.5 45.7V59.6M120.5 56.2V67.6M122.5 49.0V66.2M123.5 55.1V59.3M137.5 49.6V56.7M139.5 42.3V58.7M143.5 41.4V52.4M144.5 41.2V48.5M151.5 43.7V67.7M158.5 48.5V80.2M164.5 46.2V51.2M168.5 46.0V51.6M169.5 38.3V62.0M170.5 39.3V49.8M181.5 46.4V62.8M182.5 44.7V49.8M189.5 36.4V66.5M190.5 41.5V60.2M195.5 42.3V62.5M221.5 37.1V50.3M227.5 35.0V60.1M243.5 35.4V53.9M248.5 34.1V63.4M256.5 42.3V49.8M263.5 37.1V57.7M266.5 36.7V49.9M271.5 57.4V58.1M273.5 52.7V55.1M286.5 40.1V60.1M290.5 44.8V51.4M296.5 43.1V56.5M304.5 47.1V49.2M307.5 44.5V53.9M309.5 35.3V50.0M314.5 56.1V59.6M322.5 27.2V72.8M324.5 51.2V62.6M326.5 37.1V58.6M336.5 33.7V64.0M342.5 44.6V51.4M343.5 35.0V56.9M347.5 38.6V46.1M356.5 54.2V68.6M362.5 35.1V51.5M370.5 46.4V53.0M379.5 46.8V70.5M383.5 56.5V66.3M384.5 42.9V72.0M387.5 25.7V68.8M391.5 31.5V59.7M395.5 43.9V53.1M397.5 51.9V59.5M411.5 36.7V63.2M415.5 36.6V48.2M425.5 26.2V60.2M436.5 51.1V67.5M439.5 36.8V62.6M450.5 44.1V49.3M458.5 45.6V56.4M461.5 40.2V44.7M463.5 48.5V67.8M464.5 60.1V63.8M470.5 31.1V58.7M473.5 29.0V52.9M475.5 38.5V54.3M476.5 45.9V48.4M479.5 52.7V56.4M490.5 55.8V56.8M493.5 46.6V52.0M495.5 54.7V61.2M498.5 35.6V53.4M510.5 54.7V67.6M511.5 33.8V74.6M513.5 37.0V56.3M526.5 48.4V64.0M534.5 42.2V65.7M537.5 37.3V53.6M541.5 54.6V69.1M546.5 40.7V65.9M549.5 24.4V76.0M552.5 47.9V76.1M555.5 56.1V65.7M560.5 40.7V72.8M584.5 52.7V63.1M597.5 44.7V48.5M600.5 55.7V61.2M607.5 43.9V54.4" stroke="#77AC30" stroke-opacity="0.85"/>
<path d="M51.5 45.6V61.8M60.5 47.8V60.9M62.5 17.4V62.0M71.5 35.1V42.8M85.5 26.3V64.3M90.5 35.2V69.0M91.5 29.4V55.0M108.5 32.6V43.2M109.5 41.7V64.1M114.5 61.6V77.8M136.5 51.9V61.4M141.5 40.2V58.5M145.5 53.7V60.2M149.5 49.0V61.5M154.5 27.8V46.0M163.5 34.0V50.1M174.5 52.6V55.6M198.5 33.8V51.7M202.5 46.4V59.8M209.5 45.3V49.0M213.5 51.4V54.7M220.5 36.2V53.9M222.5 42.8V57.0M224.5 43.4V57.4M232.5 48.5V55.8M234.5 42.7V49.0M242.5 38.8V61.9M245.5 40.3V66.0M253.5 46.4V65.8M257.5 52.4V65.8M260.5 47.7V56.5M262.5 44.1V50.2M269.5 39.5V49.8M277.5 52.5V60.4M305.5 41.6V53.4M306.5 40.1V51.0M310.5 43.7V53.8M312.5 37.9V52.2M327.5 60.9V66.5M333.5 31.2V55.7M340.5 54.9V66.6M352.5 43.5V80.1M354.5 52.8V65.4M355.5 44.8V65.4M358.5 54.0V64.3M361.5 33.5V59.7M364.5 44.2V55.7M374.5 52.8V69.3M416.5 31.4V69.8M440.5 45.2V64.8M442.5 46.2V65.6M448.5 55.5V56.8M449.5 54.6V60.0M486.5 45.1V60.3M492.5 50.3V62.6M503.5 47.5V51.0M507.5 42.1V59.4M532.5 35.9V64.1M536.5 39.8V54.4M554.5 45.5V75.8M571.5 38.7V60.9M575.5 51.0V64.6M583.5 39.1V64.4M591.5 47.5V66.8M598.5 45.0V49.3M608.5 51.0V54.1" stroke="#4DBEEE" stroke-opacity="0.85"/>
<path d="M28.5 44.2V49.6M53.5 45.0V67.2M55.5 48.5V70.3M63.5 23.2V68.0M65.5 45.0V81.1M80.5 37.7V50.9M97.5 41.8V56.0M115.5 53.5V70.6M132.5 54.1V59.9M135.5 48.6V57.8M142.5 41.8V56.8M148.5 37.5V58.2M156.5 28.2V50.9M161.5 35.1V54.2M162.5 30.8V55.7M165.5 48.7V52.1M167.5 40.7V64.2M171.5 46.1V48.0M184.5 40.7V71.1M185.5 32.2V65.2M214.5 43.7V55.7M218.5 39.2V51.5M233.5 44.4V54.6M244.5 34.3V54.0M250.5 46.4V55.6M255.5 38.2V61.5M259.5 41.2V59.3M303.5 47.7V54.1M325.5 57.5V62.5M328.5 29.6V60.5M344.5 27.8V52.9M345.5 39.8V53.7M349.5 32.2V49.1M350.5 38.1V57.7M357.5 29.7V55.5M366.5 49.9V59.6M367.5 45.0V57.9M369.5 54.7V60.4M371.5 39.4V54.6M381.5 28.7V60.8M398.5 41.0V49.6M418.5 41.4V67.9M429.5 41.4V59.8M430.5 64.2V73.1M446.5 40.0V50.9M465.5 37.1V48.5M471.5 38.1V46.4M472.5 60.2V77.2M489.5 39.3V51.0M514.5 33.6V53.5M521.5 34.5V53.4M527.5 44.8V62.7M529.5 51.7V65.5M545.5 32.2V58.5M553.5 44.4V68.3M557.5 50.0V63.5M578.5 53.2V60.4M587.5 42.0V71.2M595.5 25.1V64.9M604.5 45.3V55.6M605.5 53.9V58.3" stroke="#A2142F" stroke-opacity="0.85"/>
<path d="M28.5 52.8V55.6M32.5 33.4V53.6M42.5 40.2V50.8M52.5 45.1V64.8M69.5 54.1V71.7M71.5 29.5V61.4M74.5 24.1V81.4M75.5 30.0V81.9M91.5 48.0V62.4M106.5 33.9V58.6M108.5 54.5V75.0M116.5 21.1V62.5M125.5 28.0V86.4M129.5 21.8V55.0M130.5 26.9V49.1M138.5 38.9V52.0M141.5 50.6V58.7M149.5 39.9V61.4M150.5 38.4V64.1M151.5 31.6V65.8M152.5 33.6V64.4M157.5 47.9V73.0M158.5 43.0V74.6M165.5 41.8V63.6M169.5 46.5V55.9M170.5 38.8V54.8M172.5 49.3V58.9M183.5 22.6V72.4M190.5 44.3V66.8M208.5 45.0V51.9M211.5 50.6V61.4M213.5 50.1V57.9M224.5 52.5V60.0M226.5 44.3V57.2M236.5 54.2V58.0M242.5 42.8V64.0M250.5 55.5V61.0M252.5 33.8V61.7M253.5 42.7V67.7M255.5 36.3V62.7M257.5 41.5V59.1M260.5 36.9V56.9M264.5 41.5V50.2M270.5 45.7V51.0M271.5 51.4V57.5M276.5 43.6V51.3M281.5 43.7V60.6M290.5 38.8V56.2M291.5 45.6V52.7M299.5 45.4V56.5M301.5 46.8V57.3M306.5 39.5V61.7M308.5 38.0V50.1M309.5 46.0V59.5M317.5 47.1V56.7M325.5 30.4V51.3M331.5 36.5V59.8M332.5 39.0V63.3M340.5 38.4V60.7M342.5 40.2V55.7M351.5 37.2V58.3M356.5 44.6V77.0M365.5 54.1V61.8M369.5 41.7V55.8M373.5 52.6V62.6M374.5 50.4V66.9M379.5 31.8V66.7M380.5 45.5V64.2M381.5 37.0V50.0M384.5 58.6V82.0M397.5 52.6V59.6M398.5 45.4V50.9M402.5 41.3V59.1M403.5 39.9V49.8M407.5 40.3V57.0M415.5 49.0V67.5M418.5 37.4V66.0M419.5 46.2V64.5M425.5 38.1V62.8M434.5 47.7V67.8M446.5 30.7V53.0M454.5 36.6V64.3M460.5 32.9V54.2M461.5 26.9V63.9M465.5 41.4V57.5M467.5 37.9V62.6M468.5 45.9V63.1M471.5 50.0V64.9M480.5 47.3V57.7M482.5 45.8V50.9M498.5 54.2V56.6M510.5 22.8V68.1M524.5 39.3V69.2M527.5 42.2V51.8M529.5 32.0V64.8M536.5 42.6V64.1M537.5 52.3V68.4M539.5 54.5V63.3M549.5 49.5V67.8M552.5 49.1V73.5M553.5 59.8V61.6M561.5 52.7V65.4M568.5 33.3V54.8M571.5 41.3V55.2M574.5 30.7V60.5M582.5 48.9V61.1M584.5 43.2V62.3M597.5 38.8V57.2M607.5 46.4V60.4M609.5 40.1V49.3" stroke="#0072BD" stroke-opacity="0.85"/>
<path d="M29.5 43.4V51.0M30.5 47.4V54.9M33.5 49.2V85.1M38.5 30.5V82.6M40.5 26.6V59.9M41.5 41.8V72.8M45.5 31.2V65.4M58.5 40.6V51.3M65.5 53.6V67.2M72.5 29.9V54.0M76.5 39.3V73.7M79.5 40.3V59.3M88.5 39.3V62.3M93.5 43.5V55.1M97.5 44.7V55.2M99.5 45.1V61.8M109.5 48.0V50.4M114.5 30.7V41.3M120.5 43.1V60.4M121.5 44.8V57.3M124.5 35.0V54.5M126.5 34.7V49.9M133.5 46.4V60.1M134.5 39.2V64.0M143.5 50.7V59.7M147.5 37.2V57.7M153.5 41.4V59.3M163.5 41.9V55.8M168.5 41.0V51.0M171.5 31.1V58.4M175.5 36.3V61.4M180.5 37.7V50.2M182.5 49.0V59.3M191.5 55.2V65.9M196.5 51.3V56.3M198.5 41.7V50.1M203.5 43.2V51.1M207.5 49.1V62.0M210.5 49.5V61.5M221.5 41.3V54.5M222.5 49.3V60.9M230.5 41.5V59.1M235.5 46.4V51.4M244.5 53.7V60.8M247.5 50.5V63.0M256.5 33.3V53.1M261.5 40.7V63.3M262.5 42.0V50.9M266.5 54.9V56.8M268.5 37.9V56.1M282.5 46.1V53.4M288.5 46.8V60.4M289.5 47.1V52.4M315.5 35.1V55.5M329.5 37.1V61.2M336.5 37.1V56.5M337.5 50.6V59.1M339.5 40.7V64.7M341.5 33.0V66.1M345.5 51.4V58.2M346.5 36.3V56.8M353.5 30.5V61.8M355.5 35.0V74.9M357.5 32.0V62.9M368.5 43.8V61.1M393.5 44.9V53.5M399.5 46.2V54.1M408.5 34.2V52.8M413.5 45.8V56.6M416.5 40.2V67.1M423.5 59.4V67.1M426.5 52.6V62.8M429.5 36.5V57.9M433.5 47.0V67.6M440.5 44.3V58.9M441.5 44.5V58.6M442.5 41.6V61.3M443.5 47.6V52.1M449.5 55.2V57.7M451.5 46.1V50.8M462.5 28.6V64.2M475.5 37.2V65.8M479.5 38.8V58.9M486.5 40.0V47.9M487.5 36.5V59.3M488.5 58.5V62.5M490.5 34.6V50.2M495.5 38.3V50.1M518.5 36.2V70.0M523.5 38.4V62.5M525.5 40.6V67.1M526.5 51.4V58.6M555.5 38.6V41.1M556.5 46.5V87.9M557.5 42.1V80.4M559.5 45.2V72.5M563.5 55.8V65.7M566.5 55.1V71.5M573.5 38.0V51.5M577.5 43.2V55.1M578.5 53.3V59.2M581.5 44.1V45.3M585.5 46.9V59.7M599.5 52.1V57.0M606.5 42.0V60.1M608.5 42.1V61.4" stroke="#D95319" stroke-opacity="0.85"/>
<path d="M34.5 57.6V67.7M43.5 54.9V78.6M53.5 41.8V52.7M59.5 31.5V56.7M62.5 40.5V73.6M68.5 57.8V70.3M87.5 29.0V68.0M94.5 42.4V55.6M103.5 42.1V71.2M122.5 48.9V72.3M128.5 25.2V75.0M136.5 56.3V60.6M137.5 24.4V65.1M154.5 51.6V56.2M173.5 36.1V58.0M174.5 50.7V58.0M185.5 26.9V50.2M189.5 36.3V51.2M192.5 45.9V55.8M197.5 52.1V59.8M202.5 39.5V51.9M205.5 51.7V60.6M216.5 45.4V50.5M227.5 46.4V55.2M248.5 40.6V60.4M249.5 52.4V60.8M258.5 38.8V63.1M265.5 40.9V54.9M277.5 39.9V47.9M284.5 44.3V61.1M285.5 48.8V49.9M293.5 43.5V59.7M300.5 44.8V54.3M302.5 49.8V55.3M311.5 52.9V62.9M326.5 35.1V47.7M349.5 49.8V56.1M354.5 27.0V65.9M364.5 39.1V51.9M371.5 42.9V54.3M378.5 40.3V64.1M401.5 53.7V56.4M404.5 56.8V63.3M406.5 49.3V50.7M409.5 37.7V50.9M410.5 37.5V49.1M417.5 37.9V66.9M424.5 53.6V64.4M430.5 56.7V67.8M431.5 32.5V67.3M438.5 33.5V61.7M439.5 54.5V64.7M453.5 41.4V50.0M455.5 35.4V58.6M456.5 38.7V50.8M464.5 46.2V63.6M466.5 29.6V69.0M469.5 32.5V69.1M470.5 29.0V65.2M476.5 43.7V48.9M481.5 41.7V48.3M494.5 42.6V52.8M499.5 50.9V54.9M500.5 45.6V57.8M502.5 46.9V58.8M504.5 43.7V50.6M506.5 31.6V68.8M515.5 48.2V70.5M520.5 43.3V50.8M522.5 34.6V58.5M534.5 38.7V64.0M535.5 49.7V56.3M542.5 45.7V73.8M543.5 49.2V61.3M548.5 48.9V66.6M550.5 49.1V68.3M554.5 43.3V47.9M565.5 49.2V64.0M567.5 36.7V52.8M570.5 33.3V72.5M586.5 32.7V62.0M588.5 30.3V44.1M590.5 31.8V74.9M594.5 40.6V64.3M595.5 46.9V77.0M596.5 29.2V75.0" stroke="#EDB120" stroke-opacity="0.85"/>
<path d="M25.5 48.4V56.2M46.5 23.9V76.1M47.5 25.4V41.3M54.5 59.1V67.8M56.5 46.5V64.7M57.5 27.7V51.9M61.5 56.0V61.2M64.5 44.5V47.1M73.5 52.4V69.5M81.5 56.8V59.2M82.5 38.2V59.0M92.5 26.6V48.2M95.5 53.7V65.4M100.5 36.3V75.3M105.5 42.0V70.8M107.5 31.0V71.0M112.5 58.3V74.1M113.5 30.4V75.1M118.5 27.1V61.6M119.5 35.0V71.4M123.5 51.3V75.7M127.5 33.9V63.9M135.5 39.1V63.8M142.5 47.9V65.8M144.5 53.1V63.5M146.5 36.0V53.7M148.5 36.8V56.6M164.5 47.5V56.9M166.5 33.0V59.4M178.5 37.0V54.0M181.5 37.8V61.3M193.5 43.1V51.8M200.5 43.4V56.8M212.5 47.3V58.4M217.5 37.5V54.8M228.5 48.6V56.0M229.5 36.0V60.5M233.5 56.3V60.4M234.5 54.2V55.0M238.5 42.8V51.2M240.5 44.9V56.1M246.5 39.6V63.9M251.5 39.6V50.9M275.5 37.4V62.0M280.5 48.2V52.1M294.5 42.3V50.5M295.5 46.3V57.8M296.5 54.1V60.3M298.5 40.1V55.4M303.5 44.0V56.2M305.5 43.6V51.9M320.5 28.2V52.7M321.5 40.5V62.8M324.5 42.6V73.8M327.5 51.5V70.6M328.5 40.5V53.6M344.5 33.7V54.1M350.5 41.6V46.6M352.5 39.0V46.7M358.5 26.5V61.6M360.5 30.9V54.6M361.5 37.6V51.8M366.5 48.3V52.2M370.5 44.0V50.2M372.5 38.6V56.8M390.5 44.8V54.0M411.5 49.7V55.8M420.5 46.9V69.1M428.5 45.0V64.3M432.5 39.7V61.5M435.5 43.1V62.1M444.5 40.6V53.7M448.5 41.3V59.6M473.5 36.8V42.2M483.5 45.9V53.3M491.5 42.0V57.7M493.5 37.8V61.5M507.5 33.7V44.8M513.5 29.8V73.8M516.5 41.7V70.6M519.5 49.2V59.3M521.5 40.6V49.8M538.5 49.0V52.4M541.5 43.0V68.6M545.5 52.9V55.0M546.5 45.2V58.9M564.5 55.3V71.2M572.5 45.2V59.5M576.5 35.6V68.3M580.5 33.3V51.5M593.5 31.0V66.1M598.5 37.7V55.5M602.5 44.2V58.3M604.5 44.6V53.6M605.5 50.5V54.9" stroke="#7E2F8E" stroke-opacity="0.85"/>
<path d="M27.5 48.9V52.5M31.5 46.4V51.4M36.5 47.3V58.1M39.5 60.1V82.6M44.5 49.3V81.6M48.5 51.9V69.2M49.5 43.3V50.4M50.5 38.1V83.1M51.5 44.6V82.4M55.5 23.7V57.4M60.5 15.0V76.2M70.5 38.1V52.8M77.5 40.0V73.6M78.5 55.7V67.5M80.5 37.2V70.1M85.5 52.1V61.0M98.5 44.1V53.8M104.5 27.0V53.6M110.5 37.9V81.0M111.5 37.9V81.2M115.5 22.6V50.8M140.5 41.9V60.1M155.5 29.1V60.0M156.5 28.4V53.2M159.5 33.6V65.8M167.5 42.1V58.7M176.5 47.0V61.7M188.5 34.6V52.1M201.5 46.2V54.6M204.5 38.4V61.1M206.5 44.3V50.5M209.5 45.3V56.3M214.5 42.9V54.1M218.5 52.8V56.0M219.5 47.5V59.5M231.5 46.5V55.4M259.5 55.1V58.1M263.5 36.5V63.4M267.5 43.7V50.5M269.5 41.4V56.3M274.5 51.6V61.6M279.5 49.3V53.6M286.5 43.3V48.5M287.5 42.9V52.0M292.5 49.3V57.2M297.5 43.3V50.6M312.5 41.5V59.3M330.5 33.4V68.9M334.5 44.8V56.7M367.5 42.4V51.7M375.5 51.2V63.4M376.5 50.3V62.6M377.5 33.4V62.2M382.5 28.3V68.0M389.5 34.8V52.8M392.5 38.2V56.1M395.5 36.5V48.9M400.5 50.6V56.5M405.5 46.5V62.7M412.5 44.1V55.1M422.5 31.6V74.7M445.5 33.6V55.6M447.5 39.8V62.3M484.5 42.7V61.5M489.5 34.8V54.7M492.5 48.2V64.3M497.5 36.8V60.7M501.5 47.7V52.6M503.5 49.9V54.7M512.5 32.3V54.6M517.5 48.6V73.6M528.5 34.8V60.0M532.5 39.4V62.1M544.5 50.1V59.6M547.5 45.4V53.8M562.5 37.5V57.2M569.5 39.8V62.8M575.5 38.1V55.2M587.5 32.1V70.0M589.5 30.8V50.8M591.5 47.0V61.8M592.5 30.4V58.5M600.5 58.4V61.3M610.5 47.7V58.5" stroke="#77AC30" stroke-opacity="0.85"/>
<path d="M37.5 41.2V52.6M63.5 35.9V40.8M67.5 31.8V48.0M83.5 41.1V56.0M84.5 56.0V58.6M96.5 53.5V64.7M101.5 30.1V46.7M131.5 51.3V70.2M132.5 51.4V65.7M139.5 37.2V64.9M160.5 52.2V55.1M161.5 49.8V53.4M162.5 47.7V51.8M177.5 41.6V54.1M179.5 38.4V56.8M184.5 30.4V51.2M187.5 38.8V73.6M215.5 43.9V54.9M223.5 40.3V53.4M241.5 49.0V55.7M272.5 41.0V51.0M307.5 39.9V58.8M318.5 50.0V64.0M338.5 53.4V61.1M343.5 39.5V62.7M347.5 27.3V48.3M363.5 42.8V49.8M385.5 28.3V66.6M386.5 22.5V44.2M388.5 46.2V48.1M394.5 35.3V64.9M396.5 53.7V54.4M427.5 43.5V64.1M436.5 42.6V71.3M450.5 46.4V55.7M457.5 45.4V55.8M458.5 39.5V51.4M472.5 44.8V47.1M485.5 44.6V61.7M505.5 32.8V76.6M508.5 52.6V61.8M511.5 28.3V46.7M514.5 41.2V60.7M530.5 28.7V67.5M533.5 56.1V59.8M560.5 35.0V64.1M579.5 33.5V54.8M603.5 40.4V52.0" stroke="#4DBEEE" stroke-opacity="0.85"/>
<path d="M26.5 46.2V52.0M35.5 41.7V50.7M66.5 38.3V56.7M86.5 46.4V54.8M90.5 52.4V72.8M102.5 41.8V55.2M117.5 37.6V57.4M145.5 49.2V62.9M186.5 29.6V56.6M194.5 36.8V59.4M199.5 42.5V61.1M220.5 50.3V52.9M225.5 53.0V59.8M232.5 41.5V60.1M239.5 46.2V58.3M243.5 41.1V59.0M245.5 34.9V63.7M254.5 41.0V73.5M273.5 38.8V62.0M278.5 48.1V55.9M283.5 48.4V61.2M304.5 42.2V52.0M310.5 45.6V55.4M313.5 34.1V46.1M314.5 53.9V57.5M316.5 49.6V60.5M319.5 36.9V47.1M322.5 47.3V81.5M323.5 36.1V76.1M333.5 45.9V49.6M335.5 40.2V57.9M348.5 27.4V48.4M359.5 46.7V56.9M383.5 49.5V68.6M387.5 39.2V69.8M414.5 47.9V52.7M421.5 58.9V67.5M452.5 46.5V51.9M459.5 42.6V52.2M463.5 54.8V64.3M474.5 42.4V64.5M477.5 41.2V57.0M478.5 47.8V63.9M496.5 36.0V54.7M509.5 45.4V58.0M531.5 31.5V50.0M540.5 37.0V50.7M551.5 47.5V64.0M558.5 34.6V73.9M601.5 37.5V55.2" stroke="#A2142F" stroke-opacity="0.85"/>
<path d="M32.5 54.1V66.1M33.5 52.8V72.0M35.5 49.2V79.9M37.5 50.7V83.1M42.5 53.5V73.4M44.5 53.0V69.4M45.5 53.9V73.4M47.5 53.4V74.6M48.5 46.6V75.0M49.5 52.2V69.1M50.5 49.0V68.2M51.5 53.6V73.4M53.5 52.1V80.4M54.5 50.2V69.3M55.5 50.2V69.2M57.5 52.6V65.0M60.5 51.1V81.9M61.5 52.4V73.7M63.5 48.8V77.8M72.5 50.4V84.8M73.5 47.3V80.4M77.5 54.2V78.5M79.5 53.8V67.6M80.5 49.9V68.5M81.5 54.7V79.1M84.5 54.3V81.2M87.5 55.1V73.4M89.5 54.0V70.8M90.5 47.1V74.2M91.5 50.6V70.7M92.5 47.2V76.9M93.5 53.1V69.0M96.5 48.4V71.6M97.5 52.1V71.6M98.5 51.7V70.8M99.5 52.4V73.5M100.5 47.6V71.6M101.5 54.6V74.7M102.5 51.0V79.7M106.5 49.9V70.0M107.5 54.7V65.4M109.5 55.1V84.8M110.5 49.2V77.2M111.5 49.3V83.3M112.5 47.7V75.4M114.5 51.8V82.2M115.5 50.4V85.5M119.5 49.2V77.7M121.5 49.3V79.7M124.5 53.9V81.8M126.5 54.3V83.3M127.5 50.1V86.2" stroke="#D95319" stroke-opacity="0.85"/>
<path d="M38.5 52.6V78.0M52.5 52.1V68.7M67.5 50.4V70.4M69.5 54.7V73.0M74.5 54.0V80.9M76.5 52.4V78.8M88.5 54.9V81.5M105.5 52.9V81.4M113.5 53.5V70.7M116.5 48.8V67.7M117.5 50.2V69.1M122.5 52.2V81.9M125.5 53.2V69.6" stroke="#EDB120" stroke-opacity="0.85"/>
<path d="M25.5 36.9V60.6M26.5 35.5V57.7M27.5 35.6V58.0M28.5 38.1V60.8M29.5 38.3V61.5M30.5 36.2V61.2M31.5 49.6V70.5M32.5 44.7V49.3M33.5 36.0V45.4M34.5 57.5V69.3M35.5 36.0V55.4M36.5 40.4V53.3M37.5 28.5V39.2M38.5 53.3V65.4M39.5 51.6V56.1M40.5 67.2V68.1M41.5 36.5V40.4M42.5 29.5V34.6M43.5 51.7V64.5M44.5 49.8V68.0M45.5 48.9V68.8M46.5 47.9V53.0M47.5 42.2V75.5M48.5 49.0V62.6M49.5 43.1V53.8M50.5 47.0V56.7M51.5 43.9V70.0M52.5 47.9V66.3M53.5 44.1V62.7M54.5 50.1V63.4M55.5 44.6V54.9M56.5 42.3V67.3M57.5 49.0V72.9M58.5 39.0V50.8M59.5 46.5V84.9M60.5 49.9V62.3M61.5 59.2V64.1M62.5 40.1V54.7M63.5 39.4V62.2M64.5 46.3V64.0M65.5 38.6V74.0M66.5 41.6V72.5M67.5 35.9V52.7M68.5 66.5V76.3M69.5 42.5V73.6M70.5 49.5V65.8M71.5 45.9V66.1M72.5 62.7V74.0M73.5 67.3V71.2M74.5 33.6V46.3M75.5 52.5V63.0M76.5 47.0V65.0M77.5 51.1V65.8M78.5 51.3V63.4M79.5 55.9V58.9M80.5 34.0V39.5M81.5 43.3V50.7M82.5 41.5V64.3M83.5 48.3V58.5M84.5 38.4V45.4M85.5 54.6V71.2M86.5 40.5V59.4M87.5 42.5V49.4M88.5 50.4V61.3M89.5 46.8V83.2M90.5 46.2V82.8M91.5 64.5V66.7M92.5 39.0V64.3M93.5 42.1V53.0M94.5 53.0V72.3M95.5 45.1V74.6M96.5 44.2V74.3M97.5 40.1V81.3M98.5 48.9V59.9M99.5 49.4V57.3M100.5 39.0V50.1M101.5 45.7V69.4M102.5 56.5V61.7M103.5 48.5V81.0M104.5 42.5V79.3M105.5 40.6V81.5M106.5 40.7V70.8M107.5 51.7V65.3M108.5 41.6V62.4M109.5 28.5V41.6M110.5 50.0V63.4M111.5 42.7V60.0M112.5 48.0V58.7M113.5 41.2V53.5M114.5 30.0V36.1M115.5 30.9V45.0M116.5 45.0V71.3M117.5 42.9V59.4M118.5 42.2V59.8M119.5 46.6V62.6M120.5 40.4V54.3M121.5 50.8V68.7M122.5 37.9V49.3M123.5 44.0V61.3M124.5 52.2V72.4M125.5 59.4V74.2M126.5 48.0V79.6M127.5 48.9V87.2M128.5 52.5V79.7M129.5 50.7V63.1M131.5 44.9V64.6M132.5 31.1V81.7M133.5 44.0V60.0M134.5 47.6V56.9M135.5 43.8V53.9M136.5 36.3V62.9M137.5 39.7V62.6M138.5 46.4V55.0M139.5 50.7V55.7M140.5 47.8V54.0M141.5 49.5V54.4M142.5 49.5V56.4M143.5 43.8V54.4M144.5 44.8V56.6M145.5 49.1V56.0M146.5 46.4V53.1M147.5 49.5V54.2M148.5 43.1V54.4M149.5 49.3V56.0M150.5 45.4V55.7M151.5 42.8V58.2M152.5 45.8V57.0M153.5 44.3V58.2M154.5 45.2V58.9M155.5 42.0V59.2M156.5 42.2V57.7M157.5 33.9V44.1M158.5 33.3V71.1M159.5 36.9V66.2M160.5 51.3V56.0M161.5 49.5V58.2M162.5 41.7V57.2M163.5 48.7V53.1M164.5 43.0V50.8M165.5 47.0V57.0M166.5 47.3V57.7M167.5 47.8V55.0M168.5 48.2V55.9M169.5 50.6V56.5M170.5 48.2V56.1M171.5 47.0V56.1M172.5 51.1V55.4M173.5 47.6V53.9M174.5 51.0V52.2M175.5 49.2V56.3M176.5 50.9V53.8M177.5 48.3V53.6M178.5 44.1V55.8M179.5 46.0V56.5M180.5 47.5V54.8M181.5 47.8V55.1M182.5 49.0V55.4M183.5 37.2V68.7M184.5 32.8V65.8M185.5 53.9V57.7M186.5 36.1V62.8M187.5 34.1V60.2M188.5 39.8V63.3M189.5 36.4V57.8M190.5 48.7V54.2M191.5 47.5V55.1M192.5 49.9V55.0M193.5 48.1V53.7M194.5 48.6V55.7M195.5 45.4V55.3M196.5 47.1V52.8M197.5 44.6V52.7M198.5 49.5V52.1M199.5 47.3V52.3M200.5 47.5V54.9M201.5 47.8V55.5M202.5 46.8V55.3M203.5 51.5V56.8M204.5 48.0V54.9M205.5 47.3V54.8M206.5 44.5V53.9M207.5 48.7V55.5M208.5 47.6V54.0M209.5 45.2V55.0M210.5 48.9V56.5M211.5 51.1V55.1M212.5 48.0V52.4M213.5 35.2V59.7M214.5 34.3V60.4M215.5 49.6V52.7M216.5 51.4V52.7M217.5 46.8V56.1M218.5 45.1V53.6M219.5 44.8V56.3M220.5 49.8V53.9M221.5 45.5V56.0M222.5 51.0V52.9M223.5 48.6V52.9M224.5 51.3V55.7M225.5 49.1V54.1M226.5 46.2V54.9M227.5 46.9V56.2M228.5 49.0V52.4M229.5 51.2V53.6M230.5 50.3V54.0M231.5 48.3V55.2M232.5 46.6V55.1M233.5 32.2V60.3M234.5 24.8V59.8M235.5 48.4V54.3M236.5 48.3V55.2M237.5 44.8V56.8M238.5 50.7V55.1M239.5 48.7V55.9M240.5 47.0V52.8M241.5 45.8V53.5M242.5 46.5V54.5M243.5 47.5V54.6M244.5 48.6V52.5M245.5 42.0V72.6M246.5 36.8V64.0M247.5 45.9V51.4M248.5 51.8V56.4M249.5 44.6V56.1M250.5 46.7V54.8M251.5 43.7V55.6M252.5 43.1V54.5M253.5 48.4V55.9M254.5 40.6V75.6M255.5 48.9V59.1M256.5 55.5V59.7M257.5 45.4V56.6M258.5 49.5V58.4M259.5 39.6V45.7M260.5 45.9V57.6M261.5 46.3V53.2M262.5 50.6V58.2M263.5 45.8V55.0M264.5 44.6V54.5M265.5 50.9V56.2M266.5 47.7V54.3M267.5 44.3V52.8M268.5 48.1V52.4M269.5 46.7V53.7M270.5 57.6V58.4M271.5 48.3V53.8M272.5 49.4V54.1M274.5 51.6V57.7M276.5 50.3V52.1M277.5 51.5V56.8M278.5 44.5V54.6M279.5 45.4V55.0M280.5 51.0V56.6M281.5 49.6V55.6M282.5 49.8V52.6M283.5 44.8V54.9M284.5 48.7V53.6M285.5 48.0V53.5M286.5 46.3V54.3M287.5 50.7V55.5M288.5 47.1V53.9M289.5 45.7V55.1M290.5 46.3V54.7M291.5 45.3V55.4M292.5 44.9V54.7M293.5 55.0V58.9M294.5 48.4V56.3M295.5 45.4V55.9M296.5 48.4V54.5M297.5 43.9V50.2M298.5 50.2V55.4M299.5 50.8V55.9M300.5 45.4V54.1M301.5 47.8V54.3M302.5 47.4V54.7M303.5 47.4V52.4M304.5 50.6V55.2M305.5 46.1V56.1M306.5 49.4V54.0M307.5 47.6V56.7M308.5 43.8V48.3M309.5 47.9V56.2M310.5 46.1V56.6M311.5 46.4V58.6M312.5 47.3V59.0M313.5 48.7V54.1M314.5 43.9V55.6M315.5 43.2V52.5M316.5 49.5V55.4M317.5 36.3V56.6M318.5 46.7V58.5M319.5 41.1V69.0M320.5 35.9V71.5M321.5 39.4V67.4M322.5 61.6V71.8M323.5 33.6V64.7M325.5 41.9V56.3M326.5 36.2V54.3M327.5 49.4V62.8M328.5 36.1V58.9M329.5 36.6V68.7M330.5 44.7V54.7M331.5 55.5V64.3M332.5 43.1V57.8M333.5 55.7V65.1M334.5 46.6V55.8M335.5 47.6V53.4M336.5 48.2V56.7M337.5 47.3V54.4M338.5 43.9V53.7M339.5 51.1V53.6M340.5 48.3V54.4M341.5 48.9V56.2M342.5 48.4V54.7M343.5 51.1V55.8M344.5 45.3V56.0M345.5 46.1V52.9M346.5 46.1V53.2M347.5 48.5V54.5M348.5 37.0V58.8M349.5 37.1V65.2M350.5 43.0V57.9M351.5 41.9V65.3M352.5 26.3V46.1M354.5 59.7V68.1M355.5 37.2V48.2M356.5 40.8V67.2M357.5 41.2V62.4M358.5 50.9V60.8M359.5 48.4V60.0M360.5 42.4V56.0M361.5 49.5V55.3M362.5 47.7V54.9M363.5 44.5V54.3M364.5 44.5V56.9M365.5 51.3V55.7M366.5 48.8V56.6M367.5 42.8V49.0M368.5 47.6V56.1M369.5 46.7V54.1M370.5 49.9V51.7M371.5 46.8V53.5M372.5 49.1V54.0M373.5 48.4V58.3M374.5 49.6V58.9M375.5 50.6V55.4M376.5 45.7V54.7M377.5 42.2V67.1M378.5 32.2V42.3M379.5 49.7V70.7M380.5 34.8V60.5M381.5 42.5V65.9M382.5 33.5V81.6M383.5 29.6V62.3M384.5 27.9V66.5M385.5 33.3V43.7M386.5 36.2V66.4M387.5 39.6V62.3M388.5 50.0V59.2M389.5 39.1V54.1M390.5 42.4V70.8M391.5 37.8V50.2M392.5 47.2V55.9M393.5 42.9V58.0M394.5 47.5V52.9M395.5 49.3V54.8M396.5 49.0V54.7M397.5 49.6V56.1M398.5 49.5V56.2M399.5 48.9V52.3M400.5 49.4V52.7M401.5 49.4V54.2M402.5 47.0V55.5M403.5 46.1V53.5M404.5 50.9V55.2M405.5 49.4V56.3M406.5 46.5V56.1M407.5 48.7V55.1M408.5 49.6V56.6M409.5 38.6V49.4M410.5 48.7V52.6M411.5 50.7V54.0M412.5 49.3V52.8M413.5 44.4V56.3M414.5 50.9V54.3M415.5 49.6V57.5M416.5 41.9V56.5M417.5 47.5V58.7M418.5 41.9V58.7M419.5 35.9V66.1M420.5 37.3V55.0M421.5 45.0V55.0M422.5 37.5V58.7M423.5 42.7V68.5M424.5 41.9V70.0M425.5 22.0V61.8M426.5 46.7V52.6M427.5 41.1V66.8M428.5 35.7V68.2M429.5 48.4V65.3M430.5 65.3V66.9M431.5 42.9V69.4M432.5 49.9V63.1M433.5 43.7V61.2M434.5 38.1V46.2M435.5 36.0V65.2M436.5 34.8V58.1M437.5 37.7V58.8M438.5 48.7V55.7M439.5 48.8V57.0M440.5 44.8V58.8M441.5 49.1V57.4M442.5 51.0V55.6M443.5 37.4V48.9M444.5 46.4V57.8M445.5 47.1V53.1M446.5 45.0V56.0M447.5 52.3V57.6M448.5 47.7V54.8M449.5 50.4V54.5M450.5 48.5V52.7M451.5 47.3V56.1M452.5 47.4V56.5M453.5 47.9V57.3M454.5 44.9V57.5M455.5 46.3V56.0M456.5 45.6V55.1M457.5 45.8V53.1M458.5 51.2V57.6M459.5 48.3V55.1M460.5 47.6V58.9M461.5 47.2V58.4M462.5 50.9V57.4M463.5 36.2V68.9M464.5 39.5V58.6M465.5 34.9V60.7M466.5 29.2V45.1M467.5 45.0V55.0M468.5 42.0V70.4M469.5 46.1V66.6M470.5 44.1V70.3M471.5 41.0V54.8M472.5 36.3V64.1M473.5 40.7V45.7M474.5 43.5V55.7M475.5 45.4V59.2M476.5 45.6V54.8M477.5 47.1V53.2M478.5 46.1V55.6M479.5 45.4V55.8M480.5 47.0V55.5M481.5 47.1V54.4M482.5 45.8V55.1M483.5 44.7V57.2M484.5 48.9V54.2M485.5 43.8V57.0M486.5 50.0V56.0M487.5 48.5V52.4M488.5 51.0V56.0M489.5 46.8V55.5M490.5 47.7V56.0M491.5 46.1V55.8M492.5 46.9V51.1M493.5 48.3V54.9M494.5 49.3V53.1M495.5 47.4V55.4M496.5 46.6V56.3M497.5 44.6V53.2M498.5 50.5V56.0M499.5 47.5V55.5M500.5 44.2V56.3M501.5 47.6V57.7M502.5 47.7V56.1M503.5 41.1V60.5M504.5 35.8V71.0M505.5 48.8V57.3M506.5 43.8V60.2M507.5 44.3V65.2M508.5 35.2V58.5M509.5 43.2V61.8M510.5 58.4V69.5M511.5 49.5V54.0M512.5 42.6V76.0M513.5 42.9V68.8M514.5 36.2V71.9M515.5 44.6V51.7M516.5 48.2V62.8M517.5 43.2V55.3M518.5 43.2V57.9M519.5 47.4V57.4M520.5 50.9V58.6M521.5 45.8V56.6M522.5 37.7V42.7M523.5 54.6V57.5M524.5 50.3V57.1M525.5 47.1V55.0M526.5 48.4V59.1M527.5 46.1V54.9M528.5 46.1V54.1M529.5 49.2V58.2M530.5 46.8V54.6M531.5 44.2V54.3M532.5 48.2V57.2M533.5 50.8V58.6M534.5 46.8V53.6M535.5 53.7V55.9M536.5 49.2V57.7M537.5 48.5V58.5M538.5 45.7V57.0M539.5 48.9V56.1M540.5 45.5V54.8M541.5 48.4V58.3M542.5 45.8V51.5M543.5 35.6V66.6M544.5 46.8V60.9M545.5 44.9V67.4M546.5 45.0V56.6M547.5 37.3V65.6M548.5 44.3V58.6M549.5 61.7V66.2M550.5 36.4V41.1M551.5 36.2V69.8M552.5 37.4V66.7M553.5 56.9V62.7M554.5 26.7V64.1M555.5 35.5V74.1M556.5 35.9V70.1M557.5 37.4V48.8M558.5 61.5V72.4M559.5 40.9V65.5M560.5 37.9V54.7M561.5 39.1V69.3M562.5 43.8V72.2M563.5 55.7V60.2M564.5 43.2V59.5M565.5 44.7V58.4M566.5 44.9V56.1M567.5 46.9V54.6M568.5 44.4V53.7M569.5 49.7V57.4M570.5 51.0V56.1M571.5 44.8V54.7M572.5 45.4V58.1M573.5 43.4V55.1M574.5 49.1V55.4M575.5 46.2V56.0M576.5 43.6V58.9M577.5 46.3V54.7M578.5 47.1V57.1M579.5 47.0V54.8M580.5 49.4V53.0M581.5 46.7V56.4M582.5 45.9V53.3M583.5 45.3V52.6M584.5 56.6V61.2M585.5 42.5V57.6M586.5 45.5V56.6M587.5 45.0V53.1M588.5 46.6V60.7M589.5 37.0V61.2M590.5 39.1V58.8M591.5 46.5V54.2M592.5 41.1V67.4M593.5 62.3V67.7M594.5 35.6V40.4M595.5 36.9V79.0M596.5 37.4V72.0M597.5 45.9V66.1M598.5 41.7V47.0M599.5 45.0V54.6M600.5 46.6V57.5M601.5 48.5V53.0M602.5 50.3V55.2M603.5 48.4V53.6M604.5 48.9V53.5M605.5 50.0V56.0M606.5 51.0V53.9M607.5 51.1V55.1M608.5 45.3V53.7M609.5 46.1V56.3M610.5 55.3V56.6" stroke="#4DBEEE"/>
</g><g clip-path="url(#c2)">
<path d="M27.5 152.0V188.1M32.5 167.5V185.2M33.5 155.9V184.7M35.5 160.6V173.3M52.5 165.0V187.4M64.5 169.1V194.4M65.5 158.5V199.5M72.5 173.8V195.3M73.5 153.0V177.4M74.5 173.8V191.7M75.5 170.0V192.8M78.5 177.1V188.1M84.5 161.2V186.5M85.5 164.5V187.7M89.5 176.3V182.9M101.5 169.7V191.0M112.5 150.9V182.2M114.5 155.0V197.7M117.5 162.7V187.9M122.5 176.5V188.7M127.5 163.9V183.0M128.5 165.8V172.9M135.5 171.6V186.3M138.5 155.4V171.3M147.5 159.8V181.1M149.5 170.0V185.0M150.5 163.7V185.5M154.5 146.5V174.2M157.5 173.9V185.6M162.5 169.8V184.3M167.5 143.1V196.3M173.5 172.3V178.4M178.5 176.2V189.1M179.5 177.0V191.2M194.5 149.1V188.2M199.5 156.7V185.6M203.5 159.6V183.6M204.5 162.8V168.4M207.5 161.9V178.6M212.5 175.4V182.3M215.5 173.0V194.9M216.5 169.7V194.6M219.5 151.3V198.7M236.5 152.6V194.6M240.5 159.2V188.7M244.5 164.8V171.1M246.5 169.0V179.1M247.5 170.6V178.3M251.5 159.3V178.2M254.5 159.8V174.0M257.5 150.3V186.9M259.5 154.0V174.3M268.5 149.6V188.2M270.5 148.9V182.7M271.5 162.5V179.3M273.5 160.1V201.6M276.5 158.9V183.9M287.5 160.4V178.2M298.5 146.2V186.6M299.5 173.4V194.3M304.5 164.1V195.5M305.5 152.5V192.6M311.5 150.0V179.5M316.5 149.6V198.4M328.5 147.8V183.0M329.5 168.9V204.5M333.5 180.6V191.1M341.5 151.9V174.5M354.5 160.9V201.3M374.5 152.8V184.3M376.5 144.5V196.4M387.5 154.6V200.1M388.5 183.6V189.2M389.5 179.2V190.3M396.5 154.0V191.0M412.5 157.8V163.2M418.5 181.7V194.8M419.5 179.2V187.0M428.5 151.4V160.8M430.5 140.6V175.8M443.5 180.4V182.5M450.5 165.9V178.2M463.5 163.7V169.7M474.5 150.7V193.7M476.5 151.6V188.7M478.5 166.5V180.7M485.5 157.8V179.2M496.5 158.7V183.0M503.5 171.3V187.4M514.5 151.7V190.0M516.5 153.2V200.4M517.5 173.4V189.3M518.5 178.4V193.5M527.5 176.3V197.4M528.5 149.8V174.1M531.5 165.9V192.8M547.5 157.1V185.7M559.5 169.4V185.4M568.5 154.8V188.7M571.5 156.2V189.7M577.5 182.2V184.8M580.5 144.8V181.1M597.5 160.9V182.7" stroke="#0072BD" stroke-opacity="0.85"/>
<path d="M34.5 157.6V170.6M37.5 169.5V187.3M38.5 161.3V188.9M44.5 177.6V191.1M45.5 168.5V188.6M46.5 172.7V185.8M47.5 173.0V186.9M67.5 155.1V199.3M80.5 176.7V186.2M93.5 172.8V184.8M95.5 167.5V184.2M99.5 156.9V186.2M103.5 158.5V174.1M107.5 148.8V177.6M109.5 150.6V193.8M113.5 144.1V173.7M119.5 154.4V176.3M126.5 160.7V167.5M132.5 162.9V185.4M134.5 174.4V179.0M137.5 154.0V185.4M139.5 163.0V184.2M160.5 168.7V182.2M161.5 174.2V185.1M166.5 153.8V189.9M176.5 159.4V170.1M177.5 164.2V175.7M180.5 154.4V167.1M181.5 173.7V190.8M183.5 163.4V187.1M185.5 164.8V182.6M188.5 169.4V179.8M193.5 153.9V189.1M205.5 168.1V174.9M211.5 161.2V184.8M222.5 152.9V173.2M223.5 147.6V189.4M227.5 174.9V187.3M234.5 156.0V169.7M237.5 180.3V188.3M241.5 177.2V186.7M242.5 157.4V185.4M253.5 156.3V176.1M258.5 154.5V201.3M261.5 155.4V182.6M264.5 171.8V194.4M265.5 154.6V186.8M272.5 171.9V202.9M274.5 152.5V169.9M282.5 172.8V183.5M284.5 169.3V174.3M290.5 172.0V184.3M303.5 168.2V185.4M306.5 143.4V200.9M313.5 148.2V194.6M314.5 162.5V194.7M318.5 147.7V200.4M322.5 154.1V187.3M325.5 170.0V189.4M331.5 147.0V170.9M332.5 141.1V184.3M339.5 148.7V180.0M342.5 152.1V175.5M346.5 175.3V196.1M356.5 147.9V194.5M358.5 173.8V192.7M365.5 163.6V191.3M373.5 148.1V163.5M375.5 170.0V195.4M379.5 154.2V199.7M383.5 148.1V168.4M397.5 172.4V185.6M401.5 161.1V192.8M405.5 159.7V175.9M408.5 177.1V183.8M429.5 173.9V205.0M437.5 152.5V179.0M440.5 162.0V195.5M444.5 151.1V185.2M453.5 159.2V183.9M454.5 163.1V186.8M457.5 140.1V164.4M459.5 163.0V176.7M465.5 163.2V176.9M472.5 177.0V184.8M475.5 163.4V190.1M482.5 167.9V189.6M483.5 158.2V195.2M499.5 150.6V171.2M500.5 164.4V190.3M530.5 174.1V185.2M535.5 158.3V168.9M536.5 152.8V184.9M537.5 149.4V192.3M538.5 147.8V180.2M541.5 145.4V187.3M546.5 140.5V192.9M548.5 150.7V188.4M555.5 147.0V195.6M556.5 153.4V190.0M560.5 161.9V183.7M565.5 162.2V172.0M570.5 151.4V166.3M586.5 157.4V191.4M589.5 162.7V172.1M591.5 169.8V201.1M596.5 158.3V198.3M599.5 148.7V189.7M603.5 157.5V195.6M605.5 153.1V187.5M608.5 177.2V191.5" stroke="#D95319" stroke-opacity="0.85"/>
<path d="M25.5 172.3V183.5M36.5 159.0V173.0M42.5 177.9V186.9M57.5 157.0V176.1M59.5 174.9V194.3M61.5 171.4V204.7M68.5 146.7V197.0M76.5 178.9V192.8M82.5 159.5V173.0M88.5 162.2V172.6M91.5 159.4V181.7M96.5 168.3V176.8M97.5 159.9V180.6M108.5 153.1V193.0M111.5 178.9V194.0M130.5 161.5V183.8M144.5 163.2V185.8M146.5 173.6V185.9M151.5 163.4V182.0M159.5 165.3V190.5M169.5 157.2V178.4M170.5 180.8V187.4M172.5 167.2V180.5M186.5 159.6V175.5M192.5 165.4V185.2M198.5 158.6V186.9M200.5 156.2V180.3M208.5 157.9V172.4M214.5 149.7V189.7M224.5 148.0V172.6M226.5 148.0V184.2M250.5 161.0V179.4M252.5 165.5V170.8M260.5 162.5V192.6M262.5 145.7V182.2M281.5 176.4V179.6M288.5 170.5V176.9M292.5 182.8V184.4M296.5 168.5V187.5M301.5 154.9V183.6M307.5 153.1V178.7M310.5 142.5V176.0M330.5 146.5V169.6M340.5 158.6V179.7M362.5 187.7V201.4M370.5 154.4V205.4M371.5 176.4V199.5M380.5 148.2V199.3M384.5 146.7V186.8M395.5 162.1V191.5M399.5 166.6V189.5M411.5 165.9V185.9M420.5 146.8V170.6M423.5 151.4V201.9M438.5 154.4V195.6M439.5 159.6V183.0M445.5 173.6V191.6M456.5 145.1V194.4M462.5 164.5V169.5M466.5 160.5V187.0M471.5 148.5V184.2M488.5 161.0V179.0M489.5 158.5V179.0M492.5 177.6V199.3M507.5 156.6V165.8M512.5 169.9V188.2M520.5 150.8V167.6M523.5 151.5V195.6M543.5 159.9V186.2M544.5 168.2V195.4M569.5 159.8V194.4M572.5 149.8V176.8M573.5 178.8V195.3M584.5 176.3V196.2M588.5 161.5V174.3M590.5 161.5V167.8M592.5 178.8V194.9M594.5 152.9V169.4M601.5 150.2V166.1M609.5 172.2V192.7M610.5 159.9V170.5" stroke="#EDB120" stroke-opacity="0.85"/>
<path d="M26.5 151.9V182.3M28.5 176.5V189.2M30.5 157.4V192.7M49.5 164.1V183.4M50.5 175.9V183.9M55.5 168.1V183.7M63.5 169.7V199.6M77.5 149.5V183.5M81.5 177.7V184.2M87.5 163.1V184.5M94.5 166.7V184.7M100.5 162.9V193.9M105.5 180.0V200.5M106.5 166.0V202.7M118.5 169.4V194.4M123.5 161.4V187.3M131.5 163.9V177.8M140.5 152.1V178.0M143.5 158.0V173.9M148.5 173.0V182.4M153.5 164.7V191.2M155.5 156.9V183.4M171.5 160.1V185.3M184.5 169.4V179.1M187.5 176.9V183.2M191.5 164.2V182.8M195.5 154.3V191.5M202.5 162.3V185.0M206.5 166.4V173.5M210.5 179.3V183.1M220.5 153.2V187.8M225.5 148.5V200.2M230.5 155.4V183.5M231.5 154.8V191.2M266.5 166.0V185.2M269.5 158.6V168.0M277.5 163.6V200.2M279.5 163.0V176.6M285.5 161.1V180.4M291.5 156.6V183.7M295.5 151.9V177.5M315.5 154.5V185.8M320.5 150.5V175.7M326.5 160.6V177.1M337.5 165.7V203.7M348.5 143.2V160.1M366.5 152.1V183.0M369.5 174.5V192.1M381.5 159.0V169.3M382.5 149.8V207.1M390.5 154.9V177.7M392.5 160.6V196.1M393.5 160.7V190.4M400.5 165.1V191.2M404.5 161.5V174.4M406.5 165.1V191.7M407.5 149.4V172.7M409.5 163.4V197.9M422.5 153.4V185.9M425.5 153.9V196.4M426.5 142.7V190.7M434.5 166.0V195.6M436.5 150.4V199.8M441.5 175.0V188.9M447.5 164.7V178.2M449.5 164.1V175.1M458.5 168.0V192.2M460.5 162.5V175.7M464.5 167.6V184.2M473.5 148.8V179.7M479.5 172.6V194.9M481.5 161.3V178.9M487.5 155.4V182.5M491.5 152.8V178.4M494.5 149.2V195.9M504.5 148.8V175.1M510.5 167.0V201.7M513.5 152.8V193.4M515.5 174.2V193.3M521.5 148.9V178.9M540.5 172.1V186.0M545.5 154.7V187.3M551.5 174.9V196.0M552.5 170.7V196.7M557.5 174.8V187.2M561.5 156.1V173.8M576.5 150.7V188.7M587.5 158.1V199.4M593.5 160.0V198.5M595.5 157.8V165.3M602.5 158.1V180.4" stroke="#7E2F8E" stroke-opacity="0.85"/>
<path d="M41.5 160.7V178.6M51.5 173.0V183.1M54.5 166.6V176.1M58.5 151.5V189.6M66.5 155.3V202.6M69.5 162.2V194.7M70.5 180.4V200.3M71.5 148.1V189.2M102.5 157.8V195.1M104.5 162.4V195.0M120.5 156.6V172.2M124.5 164.5V189.5M129.5 162.0V172.3M136.5 161.8V185.8M141.5 159.6V170.4M142.5 163.6V182.8M156.5 163.0V176.9M163.5 175.9V186.1M164.5 140.4V199.4M165.5 163.1V194.6M189.5 174.0V184.7M197.5 158.7V182.4M209.5 160.8V178.1M221.5 162.5V186.9M232.5 168.4V203.5M233.5 179.1V194.9M243.5 156.8V179.5M245.5 160.8V176.7M248.5 170.6V178.0M249.5 176.6V179.5M255.5 148.5V180.8M263.5 184.5V199.5M283.5 169.4V186.5M297.5 159.7V195.4M309.5 150.6V173.1M317.5 149.2V170.5M319.5 176.7V188.8M323.5 143.2V190.7M336.5 179.4V198.5M343.5 140.9V201.3M344.5 176.0V200.9M345.5 145.1V199.5M347.5 164.1V201.0M349.5 144.6V203.0M352.5 143.4V165.9M357.5 152.6V192.9M359.5 149.7V185.7M360.5 141.1V191.0M363.5 145.9V192.1M367.5 145.3V170.2M372.5 146.7V193.7M378.5 143.4V204.4M385.5 140.8V197.2M394.5 167.8V191.1M403.5 171.1V181.9M410.5 168.6V199.3M415.5 169.2V184.0M416.5 151.9V188.4M424.5 147.8V188.9M431.5 158.6V167.1M435.5 156.4V174.0M446.5 156.1V177.9M448.5 161.6V191.2M451.5 167.2V175.3M455.5 165.0V186.9M467.5 164.2V188.7M468.5 162.4V179.3M469.5 182.5V187.9M470.5 176.5V180.8M480.5 153.1V198.6M484.5 161.8V176.8M490.5 177.7V195.7M493.5 146.5V191.4M498.5 149.0V192.5M501.5 157.0V170.6M505.5 159.3V191.2M506.5 159.3V196.6M522.5 177.2V198.3M529.5 162.5V168.7M533.5 163.7V184.1M539.5 152.9V168.3M542.5 177.0V185.1M550.5 148.3V178.9M553.5 168.4V200.2M558.5 156.5V185.8M566.5 171.2V183.2M574.5 140.1V173.1M598.5 174.5V191.1M600.5 151.5V195.5M604.5 176.2V192.9M607.5 176.7V192.2" stroke="#77AC30" stroke-opacity="0.85"/>
<path d="M29.5 177.0V189.9M43.5 162.6V174.5M53.5 173.0V187.8M62.5 150.1V199.3M86.5 164.0V172.2M98.5 153.0V189.7M110.5 154.1V171.6M115.5 159.6V174.0M116.5 176.4V195.3M133.5 170.5V182.2M158.5 158.4V191.2M168.5 168.5V178.6M174.5 161.7V175.3M182.5 175.5V186.1M213.5 161.6V182.1M229.5 156.0V172.3M239.5 173.7V186.4M275.5 146.0V169.9M293.5 154.4V195.1M294.5 148.5V170.4M302.5 154.5V195.5M312.5 178.2V179.2M321.5 165.4V196.5M334.5 183.9V193.1M335.5 153.2V195.2M338.5 165.2V207.0M350.5 142.0V160.4M351.5 149.1V192.0M353.5 140.2V182.5M355.5 148.5V168.0M361.5 142.4V167.4M364.5 156.9V172.8M368.5 147.0V174.6M386.5 150.0V177.6M402.5 160.5V191.6M417.5 165.3V175.1M421.5 151.1V180.5M433.5 149.6V177.9M442.5 152.0V177.6M486.5 149.3V198.2M495.5 147.9V182.7M497.5 164.2V184.2M508.5 152.3V194.8M509.5 149.9V175.8M511.5 155.8V185.6M524.5 157.4V190.9M532.5 172.5V198.7M534.5 177.4V193.2M549.5 154.3V182.8M563.5 166.7V184.9M567.5 175.3V192.0M578.5 150.1V191.3M579.5 170.2V183.2M581.5 151.8V178.1" stroke="#4DBEEE" stroke-opacity="0.85"/>
<path d="M31.5 165.9V174.3M39.5 174.6V181.2M40.5 158.0V183.3M48.5 170.9V187.2M56.5 165.8V177.5M60.5 158.0V182.6M79.5 161.1V195.1M83.5 159.2V171.8M92.5 162.5V181.2M121.5 159.0V171.8M125.5 161.4V187.5M145.5 173.7V187.4M152.5 150.1V171.3M175.5 170.8V181.1M190.5 163.3V182.1M196.5 155.6V190.5M201.5 159.5V185.5M217.5 154.6V202.3M218.5 179.9V201.2M228.5 176.8V187.4M235.5 154.0V179.9M238.5 171.2V188.6M256.5 171.8V193.7M267.5 137.2V197.3M278.5 174.3V187.9M286.5 170.6V178.8M289.5 173.0V184.4M300.5 145.5V201.8M308.5 154.2V186.8M324.5 143.8V193.2M327.5 159.6V190.2M377.5 158.7V172.1M391.5 163.7V199.4M398.5 159.9V168.6M413.5 150.3V164.5M414.5 146.7V174.0M427.5 149.8V199.8M452.5 164.6V177.5M461.5 171.6V190.0M477.5 161.5V186.0M502.5 154.1V194.8M519.5 153.4V190.3M526.5 155.1V166.9M554.5 181.5V193.5M562.5 160.5V186.3M564.5 166.8V194.9M575.5 148.1V195.3M582.5 172.8V193.7M583.5 160.2V165.5M585.5 176.1V197.3M606.5 160.5V177.1" stroke="#A2142F" stroke-opacity="0.85"/>
<path d="M32.5 160.1V189.4M34.5 147.9V184.3M36.5 160.7V181.5M42.5 160.0V175.8M49.5 159.1V189.2M51.5 159.8V175.9M60.5 150.1V198.6M62.5 145.2V193.8M66.5 161.4V181.6M92.5 164.4V173.8M94.5 161.6V175.6M98.5 164.7V182.3M99.5 175.1V191.0M102.5 177.0V194.0M108.5 154.9V201.9M115.5 156.3V203.4M117.5 184.3V201.8M119.5 176.2V195.7M124.5 162.3V184.5M131.5 173.1V186.3M134.5 171.6V176.8M136.5 171.1V181.4M142.5 169.2V173.8M164.5 167.4V190.8M173.5 162.4V187.0M185.5 162.5V184.3M189.5 165.7V181.0M190.5 161.6V179.6M196.5 162.6V178.0M198.5 167.0V185.6M200.5 170.9V182.4M202.5 158.9V175.5M205.5 162.7V174.1M210.5 163.2V173.4M215.5 151.3V179.6M226.5 147.7V203.8M233.5 147.7V169.8M237.5 171.2V190.3M242.5 169.5V183.4M243.5 164.7V179.5M248.5 154.0V171.9M251.5 161.1V172.4M260.5 144.4V189.0M262.5 153.0V192.9M271.5 156.4V202.7M276.5 155.6V177.4M281.5 177.0V183.5M290.5 171.3V180.7M295.5 164.8V193.4M299.5 162.6V178.1M309.5 137.7V166.6M310.5 155.4V166.3M314.5 170.8V187.4M315.5 148.1V183.1M319.5 144.8V185.9M320.5 144.1V199.7M322.5 139.3V187.3M338.5 157.3V162.7M340.5 153.9V185.2M345.5 145.2V188.1M357.5 151.6V180.7M360.5 144.6V196.6M372.5 150.8V195.0M376.5 176.5V194.6M385.5 156.7V169.4M386.5 153.3V195.7M404.5 161.3V185.0M413.5 143.1V197.4M417.5 141.4V172.8M421.5 170.0V181.0M425.5 151.5V182.9M429.5 169.5V189.9M430.5 141.1V168.7M431.5 143.4V167.7M465.5 157.3V173.1M475.5 177.1V186.2M477.5 157.5V188.9M483.5 159.2V195.1M484.5 160.2V169.5M494.5 155.5V192.6M511.5 159.0V183.6M515.5 152.5V168.7M517.5 150.5V174.8M520.5 176.9V186.5M535.5 162.4V186.4M539.5 152.2V193.5M541.5 150.0V165.1M551.5 151.8V178.9M553.5 155.0V165.9M560.5 156.8V181.0M564.5 151.9V187.6M566.5 149.5V170.7M570.5 144.2V189.7M572.5 178.0V187.4M576.5 154.0V182.6M581.5 149.5V195.2M585.5 155.7V183.8M594.5 143.8V177.5M595.5 146.3V176.0M603.5 157.3V190.0M605.5 152.4V193.7M608.5 148.8V177.3" stroke="#0072BD" stroke-opacity="0.85"/>
<path d="M28.5 165.1V180.2M37.5 170.7V181.3M43.5 162.6V172.2M53.5 159.0V176.6M54.5 165.3V169.8M57.5 168.3V185.3M64.5 147.9V164.4M69.5 163.5V182.0M80.5 178.3V185.9M83.5 164.1V186.4M86.5 160.6V188.9M96.5 175.2V179.4M100.5 157.5V169.7M101.5 162.6V182.3M104.5 153.9V200.9M111.5 159.0V180.9M113.5 162.8V198.7M118.5 145.6V198.3M132.5 175.8V181.5M133.5 172.2V180.1M139.5 159.2V178.0M140.5 153.3V184.2M143.5 166.5V178.8M144.5 161.2V176.3M155.5 159.6V186.1M156.5 158.8V174.2M160.5 161.6V182.8M169.5 159.3V181.9M177.5 171.2V183.8M179.5 176.8V192.5M180.5 176.7V186.7M182.5 166.5V172.7M218.5 148.6V163.4M219.5 161.0V188.3M225.5 165.1V197.9M236.5 176.2V179.0M250.5 172.2V179.4M257.5 150.4V187.8M277.5 156.4V182.0M283.5 173.6V184.5M286.5 170.1V185.7M288.5 160.1V174.1M293.5 154.9V195.1M294.5 177.1V181.8M296.5 162.7V188.0M298.5 176.7V184.9M308.5 155.8V201.3M321.5 154.5V202.4M327.5 145.6V193.5M329.5 143.6V190.3M331.5 170.3V192.6M332.5 150.1V172.5M337.5 171.9V186.5M342.5 153.8V190.7M350.5 138.5V201.8M351.5 145.5V202.8M364.5 157.8V168.1M368.5 151.5V179.3M369.5 149.3V184.6M375.5 150.6V170.8M382.5 152.7V192.7M383.5 144.5V190.7M384.5 153.6V201.5M387.5 151.1V178.9M392.5 176.7V192.6M400.5 157.5V189.3M408.5 154.1V166.0M422.5 151.3V196.3M424.5 158.9V188.0M426.5 154.0V176.1M433.5 157.3V181.3M439.5 148.6V198.1M440.5 145.1V164.8M441.5 176.1V184.1M446.5 163.7V180.2M458.5 162.5V184.4M461.5 154.9V184.3M463.5 158.3V193.0M466.5 181.3V190.5M470.5 152.5V165.8M472.5 175.5V187.6M473.5 148.2V178.0M488.5 171.1V194.1M490.5 172.2V198.3M495.5 154.6V182.1M497.5 154.0V199.1M499.5 163.8V182.3M501.5 153.3V187.8M503.5 171.5V186.7M514.5 152.6V185.1M518.5 146.9V173.2M522.5 148.0V200.3M523.5 146.0V175.8M525.5 157.6V196.2M550.5 168.3V193.2M557.5 165.4V190.4M567.5 153.2V188.4M575.5 142.6V185.9M577.5 157.2V186.8M578.5 159.6V181.4M580.5 141.7V201.9M584.5 143.4V184.6M597.5 170.9V199.9M604.5 159.2V196.1" stroke="#D95319" stroke-opacity="0.85"/>
<path d="M26.5 155.4V184.9M29.5 166.5V167.8M31.5 156.9V174.2M39.5 163.3V178.3M45.5 176.3V182.4M48.5 175.6V188.7M55.5 161.0V188.0M70.5 170.8V199.9M72.5 151.0V182.7M77.5 153.2V194.5M84.5 159.5V188.7M87.5 157.8V180.2M88.5 159.9V183.6M93.5 165.1V185.8M112.5 160.1V194.2M123.5 160.0V190.1M135.5 157.9V171.3M141.5 160.8V183.7M145.5 162.9V176.7M147.5 176.7V186.7M151.5 163.0V185.9M152.5 145.1V184.1M153.5 140.6V191.1M168.5 163.5V182.6M171.5 170.6V185.1M229.5 172.2V193.3M231.5 158.1V196.9M234.5 164.0V183.0M240.5 164.7V185.9M241.5 170.0V171.2M244.5 172.5V181.4M245.5 165.3V184.4M247.5 159.4V183.6M253.5 153.1V194.8M254.5 179.1V194.9M255.5 153.1V199.4M256.5 156.3V204.9M258.5 160.4V176.8M270.5 174.4V206.0M272.5 161.3V201.6M274.5 143.4V186.4M275.5 151.2V198.9M278.5 164.1V202.2M279.5 162.6V200.0M280.5 171.2V192.7M284.5 176.0V182.2M289.5 167.8V172.8M292.5 151.7V188.7M300.5 167.9V190.1M302.5 148.5V181.6M311.5 147.1V190.4M313.5 158.9V175.0M325.5 175.4V192.1M343.5 146.2V193.4M347.5 173.5V187.6M348.5 143.4V201.8M353.5 149.2V188.3M363.5 176.8V196.1M381.5 163.0V170.2M389.5 160.6V188.9M390.5 154.7V173.6M394.5 154.5V185.3M397.5 178.0V184.4M398.5 177.6V184.5M407.5 164.4V172.7M416.5 185.4V186.4M419.5 149.8V205.9M423.5 173.6V200.7M442.5 178.2V192.7M447.5 170.3V188.8M449.5 156.2V188.1M459.5 158.1V183.9M460.5 156.7V190.0M469.5 149.9V188.1M481.5 151.2V188.8M486.5 155.2V168.6M492.5 163.3V181.1M502.5 176.7V183.9M513.5 154.4V170.1M527.5 153.5V193.5M529.5 144.9V171.3M533.5 151.8V163.0M537.5 155.1V165.9M540.5 147.8V190.2M542.5 153.4V194.1M545.5 162.4V196.9M556.5 156.0V166.3M568.5 153.6V169.9M571.5 183.0V195.4M582.5 145.8V173.1M583.5 156.0V197.2M588.5 181.4V196.0M599.5 154.1V178.5M609.5 179.9V194.5" stroke="#EDB120" stroke-opacity="0.85"/>
<path d="M25.5 151.4V178.4M27.5 171.3V189.4M30.5 161.6V191.7M40.5 171.1V182.0M44.5 164.7V172.6M56.5 161.1V174.3M63.5 144.5V187.5M65.5 172.9V184.5M71.5 157.1V197.2M73.5 152.7V177.8M76.5 146.3V173.7M82.5 160.2V169.4M89.5 164.8V181.1M90.5 161.5V178.6M95.5 160.8V170.6M107.5 172.9V199.1M110.5 176.4V199.6M127.5 163.9V174.5M146.5 161.5V175.1M150.5 164.3V188.6M158.5 161.5V182.6M159.5 168.9V183.8M162.5 162.0V180.9M163.5 158.8V183.0M172.5 164.7V188.0M174.5 175.5V184.5M175.5 171.9V185.9M178.5 152.9V184.8M181.5 175.4V186.0M183.5 164.0V175.9M186.5 159.0V175.2M188.5 159.3V173.0M192.5 158.5V182.3M193.5 151.2V181.6M194.5 166.0V182.6M197.5 163.8V174.0M206.5 168.4V185.7M208.5 165.8V172.6M209.5 164.5V174.0M217.5 143.8V207.3M222.5 155.9V172.7M232.5 149.0V181.3M238.5 162.6V186.6M264.5 164.1V187.7M265.5 146.2V178.6M268.5 185.8V194.4M285.5 162.2V185.0M287.5 160.5V182.3M307.5 164.8V180.1M312.5 160.5V190.8M330.5 140.9V193.9M335.5 154.4V203.9M339.5 143.7V197.0M344.5 183.3V190.7M346.5 150.5V186.0M352.5 142.2V203.7M354.5 167.2V198.0M355.5 159.4V173.6M356.5 149.5V183.4M365.5 171.7V185.5M367.5 161.3V170.7M374.5 158.3V184.9M377.5 160.9V192.2M399.5 159.9V182.9M401.5 159.0V175.8M411.5 146.2V193.5M414.5 176.1V200.8M418.5 143.8V189.5M432.5 163.5V206.3M435.5 166.7V185.7M438.5 166.5V191.3M443.5 153.6V175.8M455.5 164.8V177.1M456.5 157.0V177.9M464.5 158.0V190.6M471.5 180.8V188.7M476.5 152.7V196.9M480.5 150.3V191.1M482.5 152.0V168.6M505.5 154.6V181.3M506.5 162.6V193.2M519.5 159.5V185.1M524.5 181.6V201.6M532.5 141.3V192.3M536.5 152.1V193.2M538.5 149.6V176.2M544.5 166.1V192.2M547.5 179.5V188.4M558.5 158.8V175.3M559.5 159.4V174.2M562.5 159.5V174.2M569.5 150.4V180.9M587.5 156.5V164.0M589.5 155.7V190.6M596.5 174.0V197.5M598.5 157.0V164.0M600.5 150.7V179.1M607.5 175.3V187.0M610.5 179.2V194.7" stroke="#7E2F8E" stroke-opacity="0.85"/>
<path d="M33.5 151.4V173.9M35.5 179.9V184.3M38.5 165.8V184.7M41.5 175.6V180.8M50.5 166.8V182.4M58.5 162.0V170.7M59.5 163.2V184.7M67.5 164.4V204.9M74.5 150.8V197.8M78.5 148.3V180.5M79.5 154.4V185.1M97.5 161.2V184.7M103.5 175.4V201.4M109.5 164.1V200.6M116.5 167.4V203.4M120.5 145.4V184.3M121.5 163.8V183.9M122.5 161.5V174.5M125.5 177.4V187.7M130.5 160.5V172.9M138.5 161.4V192.9M154.5 153.8V180.3M167.5 178.5V182.4M176.5 176.6V181.8M184.5 162.8V180.1M191.5 157.9V180.7M199.5 170.3V178.5M201.5 161.5V183.5M207.5 156.9V188.2M211.5 178.2V184.6M212.5 173.7V184.8M213.5 180.7V189.8M214.5 149.9V193.1M216.5 175.8V190.9M223.5 157.2V167.8M228.5 178.3V194.5M235.5 150.7V189.4M246.5 175.1V186.1M259.5 170.0V199.9M261.5 165.5V189.4M266.5 155.4V192.1M269.5 173.0V199.1M273.5 147.1V200.9M282.5 170.7V186.7M303.5 154.7V165.9M305.5 148.7V164.6M306.5 151.6V173.6M328.5 139.1V190.9M333.5 157.3V175.9M334.5 174.5V203.1M341.5 174.5V197.5M358.5 150.7V208.8M366.5 151.4V181.8M371.5 175.1V193.8M373.5 165.9V198.1M379.5 169.2V194.1M380.5 177.4V186.9M388.5 164.0V186.3M406.5 172.4V193.7M409.5 169.0V196.7M412.5 141.1V161.2M415.5 161.4V184.7M420.5 154.4V194.5M427.5 157.4V184.9M436.5 153.6V194.5M444.5 162.1V188.2M451.5 165.5V175.4M452.5 167.0V186.5M457.5 174.3V181.9M478.5 172.8V182.8M487.5 157.2V187.3M496.5 182.9V205.7M498.5 155.6V189.2M504.5 161.4V188.8M507.5 164.5V198.1M508.5 159.4V190.8M509.5 157.2V188.9M512.5 164.9V171.8M516.5 176.5V193.4M531.5 145.4V178.4M534.5 148.7V192.4M543.5 160.2V192.4M549.5 160.5V189.1M555.5 171.2V186.0M563.5 155.7V179.1M565.5 152.1V192.1M573.5 169.2V198.4M574.5 144.3V174.7M579.5 176.6V200.0M586.5 150.0V178.8M590.5 173.6V201.8M591.5 170.5V205.8M593.5 152.3V193.6M602.5 157.6V172.5M606.5 158.5V191.5" stroke="#77AC30" stroke-opacity="0.85"/>
<path d="M46.5 161.4V185.0M47.5 159.6V167.9M52.5 164.3V178.3M91.5 159.5V182.6M114.5 156.6V196.1M126.5 175.1V184.9M128.5 163.1V171.8M129.5 168.7V186.3M149.5 161.7V185.6M157.5 160.6V177.2M161.5 178.5V181.0M165.5 181.2V185.9M195.5 160.3V188.8M220.5 167.1V185.3M221.5 159.3V178.0M252.5 164.7V175.1M263.5 149.2V185.8M267.5 152.1V194.3M291.5 154.5V172.4M297.5 176.2V183.1M304.5 149.7V196.9M316.5 145.2V197.1M317.5 146.1V195.6M323.5 171.6V189.9M324.5 160.6V171.6M349.5 144.2V197.3M359.5 149.2V176.5M378.5 157.6V172.3M391.5 155.4V190.7M393.5 180.8V196.2M395.5 172.2V191.9M396.5 165.7V192.0M403.5 156.9V173.6M405.5 161.2V186.6M410.5 151.1V182.1M448.5 159.9V173.1M453.5 161.3V182.0M467.5 171.4V184.0M468.5 164.6V183.6M479.5 150.8V203.2M521.5 146.7V167.4M554.5 159.9V202.4M561.5 156.6V182.9M592.5 160.8V171.2" stroke="#4DBEEE" stroke-opacity="0.85"/>
<path d="M61.5 155.0V187.4M68.5 160.0V184.7M75.5 144.8V198.5M81.5 156.9V175.1M85.5 165.9V173.0M106.5 156.6V180.0M137.5 162.3V197.1M148.5 164.5V186.2M166.5 166.4V188.3M170.5 174.5V184.2M187.5 157.4V177.9M203.5 166.9V178.2M204.5 170.0V184.8M224.5 182.8V200.5M227.5 173.4V195.9M230.5 157.9V171.7M239.5 175.4V181.7M249.5 163.4V176.7M301.5 158.6V195.2M318.5 180.0V194.3M326.5 161.3V196.6M336.5 157.6V190.8M361.5 177.6V198.1M362.5 145.8V183.6M370.5 144.4V199.0M402.5 178.0V187.8M428.5 154.6V167.8M434.5 161.6V195.6M437.5 147.1V189.5M445.5 158.0V189.9M450.5 165.3V181.5M454.5 159.0V172.1M462.5 163.1V187.5M485.5 159.4V187.7M489.5 149.2V194.8M491.5 178.9V186.4M493.5 159.6V168.1M500.5 163.1V172.2M528.5 156.4V172.5M530.5 148.5V169.1M546.5 173.6V193.4M548.5 157.8V189.9M552.5 155.0V181.8M601.5 163.4V180.7" stroke="#A2142F" stroke-opacity="0.85"/>
<path d="M31.5 161.3V189.3M38.5 176.8V188.5M45.5 158.5V188.6M47.5 174.0V186.4M50.5 160.9V176.7M53.5 163.1V169.0M59.5 140.9V169.8M71.5 187.8V203.3M84.5 173.0V187.0M87.5 166.1V171.5M95.5 160.3V174.1M116.5 143.2V177.0M125.5 163.5V172.0M132.5 159.8V186.2M143.5 161.6V181.6M156.5 161.3V182.1M161.5 174.0V179.8M168.5 162.7V179.6M174.5 170.5V178.0M178.5 161.3V187.3M180.5 150.5V191.7M181.5 151.8V182.4M187.5 159.8V180.4M191.5 163.8V184.8M193.5 149.1V166.4M203.5 163.6V185.1M205.5 174.4V180.3M214.5 165.2V192.1M228.5 181.0V190.7M235.5 150.0V171.4M247.5 171.1V183.6M253.5 166.5V186.9M257.5 158.0V165.8M266.5 167.8V203.9M280.5 155.0V183.4M282.5 155.6V186.4M292.5 160.0V169.8M293.5 151.2V176.0M309.5 140.9V187.6M331.5 176.2V197.3M332.5 149.3V195.6M337.5 169.1V176.8M341.5 172.2V199.1M351.5 148.1V180.5M353.5 141.0V195.5M355.5 174.7V200.7M358.5 150.4V202.1M359.5 143.6V195.7M366.5 147.9V174.9M371.5 180.2V183.8M372.5 144.0V199.0M373.5 141.6V189.1M378.5 157.2V181.1M391.5 160.3V193.3M397.5 162.6V181.8M398.5 169.7V180.6M402.5 161.2V180.3M405.5 157.1V181.5M414.5 168.0V195.0M415.5 151.1V175.4M419.5 175.6V198.1M422.5 151.0V175.2M423.5 174.3V200.9M426.5 171.6V201.5M437.5 173.3V193.1M441.5 172.8V189.5M442.5 164.5V192.0M445.5 158.3V188.8M447.5 158.5V187.5M455.5 157.8V171.7M456.5 171.8V200.1M457.5 186.5V200.4M464.5 154.5V184.8M473.5 159.4V183.2M474.5 153.4V166.3M481.5 184.3V196.5M488.5 152.5V178.9M492.5 157.2V183.8M500.5 149.0V191.6M502.5 156.3V192.8M507.5 151.1V180.4M508.5 151.3V184.0M520.5 147.4V185.3M521.5 146.1V185.0M522.5 149.9V171.6M530.5 176.3V191.1M534.5 159.2V187.8M538.5 169.9V186.5M543.5 158.7V191.8M562.5 163.9V191.0M564.5 161.5V175.7M576.5 179.5V195.8M582.5 153.1V187.6M589.5 154.7V174.6M596.5 162.0V170.5M599.5 159.6V183.2" stroke="#0072BD" stroke-opacity="0.85"/>
<path d="M26.5 179.1V187.0M52.5 161.0V184.8M58.5 154.9V192.7M66.5 159.1V162.4M67.5 151.2V203.7M69.5 165.7V199.0M74.5 153.9V193.0M81.5 157.0V185.0M98.5 164.1V174.3M101.5 151.1V177.0M103.5 161.3V179.9M106.5 155.8V195.1M108.5 169.6V190.2M117.5 147.8V197.1M124.5 171.3V182.9M134.5 176.8V182.0M136.5 162.3V186.4M138.5 143.5V198.6M148.5 172.5V184.6M150.5 158.4V175.2M158.5 172.8V180.8M162.5 167.5V170.0M171.5 157.4V180.7M172.5 163.4V184.6M179.5 173.8V196.4M182.5 159.5V178.9M188.5 161.1V184.4M195.5 152.1V173.4M197.5 166.1V179.7M199.5 158.5V175.7M226.5 183.1V202.3M232.5 146.5V186.9M239.5 180.4V186.9M251.5 164.4V185.0M252.5 162.8V189.5M255.5 152.5V188.2M263.5 152.9V188.9M267.5 144.8V204.9M274.5 149.0V200.0M275.5 145.1V200.8M279.5 175.3V181.2M297.5 162.5V164.6M303.5 155.3V174.7M313.5 153.4V183.3M314.5 160.9V200.9M316.5 160.7V206.6M318.5 177.7V190.7M321.5 173.5V186.8M328.5 182.6V197.1M330.5 178.5V203.9M345.5 180.5V191.8M346.5 141.7V164.3M347.5 155.2V197.8M348.5 149.0V193.4M357.5 176.3V199.8M370.5 153.1V171.9M384.5 164.9V200.8M390.5 155.4V182.2M393.5 163.9V196.6M394.5 156.5V171.5M395.5 157.5V194.2M396.5 165.2V175.7M399.5 162.9V176.2M401.5 168.0V192.2M403.5 163.1V178.3M404.5 160.8V190.1M406.5 161.0V174.2M427.5 146.3V198.0M428.5 154.6V169.1M430.5 148.4V182.2M443.5 159.6V189.4M446.5 168.5V186.7M452.5 167.0V179.0M459.5 158.9V173.0M460.5 154.2V192.4M477.5 145.3V192.8M485.5 180.3V199.5M493.5 146.0V185.8M505.5 172.3V197.4M509.5 150.7V185.2M510.5 148.7V164.7M523.5 179.3V187.2M524.5 147.9V175.0M525.5 144.1V194.7M526.5 163.2V175.7M527.5 149.8V199.8M528.5 169.4V200.1M531.5 182.8V190.3M542.5 152.0V178.7M548.5 176.2V190.1M551.5 158.2V199.6M552.5 143.6V188.7M553.5 146.0V180.2M563.5 170.8V190.8M569.5 155.3V174.3M572.5 173.9V191.2M573.5 149.7V166.9M581.5 149.8V198.2M591.5 182.8V196.5M592.5 141.3V167.8M602.5 152.5V190.3M606.5 160.8V194.8M610.5 150.2V177.8" stroke="#D95319" stroke-opacity="0.85"/>
<path d="M32.5 159.9V182.4M35.5 147.0V176.3M36.5 151.4V178.3M49.5 175.9V185.9M51.5 159.8V185.2M55.5 163.8V187.6M56.5 163.7V174.0M65.5 150.1V201.9M76.5 148.6V171.7M78.5 154.4V182.9M79.5 164.8V185.8M80.5 165.8V187.5M83.5 158.7V186.1M93.5 176.0V187.5M94.5 170.1V183.9M99.5 152.2V178.6M104.5 149.8V171.9M105.5 150.6V193.8M111.5 156.5V179.7M115.5 151.7V168.1M118.5 176.0V190.1M119.5 148.3V174.8M120.5 148.2V167.6M154.5 187.8V192.6M155.5 159.8V182.4M163.5 166.5V175.6M165.5 150.8V171.4M166.5 157.5V175.0M167.5 169.3V195.5M177.5 176.7V185.5M190.5 163.3V185.3M206.5 164.8V181.9M210.5 158.1V168.8M213.5 166.6V186.6M218.5 150.8V170.4M220.5 155.0V188.5M230.5 155.9V164.0M233.5 161.7V173.2M240.5 162.1V186.6M241.5 163.7V180.2M258.5 149.6V182.5M259.5 152.8V178.6M273.5 181.3V190.6M285.5 158.7V184.0M290.5 163.2V182.7M291.5 156.7V169.9M301.5 171.3V196.2M304.5 179.7V188.3M305.5 170.9V194.7M320.5 174.0V200.2M323.5 162.6V198.7M327.5 144.6V180.9M339.5 150.9V195.0M350.5 149.8V196.9M352.5 142.0V200.1M364.5 160.4V198.2M367.5 182.5V193.6M368.5 147.3V183.4M369.5 151.2V170.0M374.5 140.2V198.9M377.5 172.1V183.2M385.5 146.2V193.7M386.5 154.5V189.9M400.5 177.2V181.9M416.5 148.2V181.3M421.5 161.8V180.5M429.5 149.2V165.4M432.5 152.1V171.6M439.5 148.2V193.4M458.5 153.6V189.0M470.5 161.1V191.2M478.5 145.5V188.3M479.5 171.5V201.6M482.5 175.4V191.2M487.5 171.8V189.2M489.5 180.2V182.7M490.5 160.3V180.6M496.5 154.4V195.4M497.5 170.3V198.2M499.5 163.1V203.9M503.5 157.5V171.1M504.5 180.6V185.1M506.5 170.3V184.6M511.5 155.8V188.8M514.5 162.1V173.2M517.5 155.7V174.4M533.5 153.4V182.8M536.5 164.9V183.8M545.5 155.6V177.5M547.5 173.4V181.3M549.5 178.1V189.2M550.5 172.5V197.8M555.5 156.7V186.2M561.5 157.3V177.4M567.5 175.4V193.1M570.5 175.7V189.9M577.5 159.2V203.6M584.5 150.1V189.3M585.5 153.5V168.3M595.5 179.3V193.4" stroke="#EDB120" stroke-opacity="0.85"/>
<path d="M29.5 177.6V180.4M37.5 155.9V177.9M41.5 174.2V185.6M44.5 162.8V179.7M61.5 159.2V199.9M62.5 152.4V165.9M68.5 144.0V195.4M70.5 142.2V190.7M73.5 185.0V186.4M75.5 151.4V183.6M77.5 149.6V170.8M85.5 162.4V176.5M92.5 172.2V185.6M109.5 148.9V170.0M113.5 146.5V197.7M114.5 167.7V189.1M121.5 166.8V181.0M126.5 169.7V180.9M129.5 177.0V182.1M131.5 157.8V182.3M133.5 174.6V181.6M137.5 148.5V182.9M144.5 164.8V178.1M147.5 158.4V183.5M149.5 158.7V172.3M152.5 175.5V192.1M170.5 160.0V171.4M186.5 171.0V179.5M194.5 160.9V182.4M198.5 161.3V184.1M201.5 161.1V173.6M204.5 174.8V186.8M208.5 177.8V182.4M209.5 160.8V171.6M219.5 158.8V166.2M223.5 188.4V192.0M224.5 137.1V166.9M234.5 170.5V190.9M243.5 177.0V179.1M245.5 160.3V177.5M246.5 165.8V173.6M249.5 162.9V174.4M250.5 173.4V181.7M260.5 156.7V173.3M271.5 179.3V197.3M276.5 147.0V176.9M283.5 165.9V173.7M289.5 173.3V184.2M294.5 161.5V197.0M295.5 165.0V168.3M296.5 175.1V205.3M317.5 155.7V169.0M319.5 162.2V164.6M333.5 157.2V192.6M338.5 140.9V165.3M340.5 151.7V177.5M343.5 155.1V181.5M344.5 147.0V194.0M349.5 163.1V191.8M360.5 146.1V175.0M362.5 174.2V194.0M375.5 156.1V175.3M379.5 172.3V195.7M388.5 178.1V184.8M407.5 161.1V187.6M410.5 154.7V163.7M424.5 163.5V171.0M433.5 148.4V183.6M436.5 141.7V171.6M450.5 162.2V185.1M451.5 174.7V181.9M462.5 166.7V185.8M468.5 179.9V188.6M469.5 172.5V183.9M476.5 168.1V199.2M480.5 149.5V170.1M483.5 158.9V188.1M491.5 169.8V184.9M495.5 154.1V175.1M498.5 159.4V197.4M512.5 162.1V173.4M518.5 183.4V185.3M540.5 160.2V196.2M541.5 143.0V165.2M546.5 151.4V194.2M558.5 160.3V181.4M565.5 161.8V173.9M574.5 161.5V187.7M580.5 150.7V172.6M583.5 150.2V167.7M586.5 167.9V194.4M590.5 161.1V200.9M604.5 168.6V191.3" stroke="#7E2F8E" stroke-opacity="0.85"/>
<path d="M25.5 163.7V177.6M28.5 157.1V180.6M39.5 158.3V186.1M40.5 178.3V180.6M42.5 157.9V174.6M43.5 157.5V186.0M46.5 159.8V174.0M57.5 160.6V181.9M60.5 150.1V176.1M86.5 167.4V178.4M89.5 168.9V185.0M90.5 162.7V181.3M91.5 169.2V170.7M96.5 157.3V186.2M97.5 161.8V172.0M100.5 152.2V184.8M110.5 173.7V196.7M127.5 165.5V179.6M128.5 169.0V181.3M130.5 160.5V174.5M139.5 157.1V168.8M141.5 169.9V171.4M142.5 173.3V178.9M145.5 161.2V176.0M146.5 160.7V176.7M151.5 177.6V185.7M153.5 185.1V190.1M157.5 157.9V171.9M159.5 170.3V185.1M175.5 176.6V182.0M200.5 166.6V178.1M215.5 148.6V199.7M222.5 144.1V202.4M227.5 151.0V186.1M237.5 172.4V187.2M244.5 166.6V177.1M248.5 174.3V180.3M254.5 168.3V194.5M256.5 151.7V163.6M261.5 177.1V198.6M264.5 179.2V198.8M268.5 158.6V176.5M270.5 153.9V171.7M272.5 154.2V177.2M277.5 145.8V178.7M278.5 144.4V178.0M284.5 163.2V182.6M288.5 160.0V177.5M299.5 157.4V195.0M300.5 174.5V190.3M302.5 149.4V173.1M307.5 155.7V181.2M310.5 143.2V199.3M311.5 142.3V175.2M312.5 148.7V187.1M315.5 176.7V207.3M322.5 167.0V202.3M324.5 163.9V195.8M325.5 153.0V166.3M326.5 148.4V168.4M329.5 167.4V198.6M334.5 152.4V192.0M335.5 161.1V198.8M354.5 155.5V201.4M356.5 178.5V194.9M361.5 177.7V202.7M365.5 150.6V194.7M376.5 156.8V188.1M380.5 152.7V188.0M382.5 166.1V180.5M383.5 170.2V198.8M409.5 153.9V196.9M413.5 180.5V202.6M418.5 167.1V197.0M420.5 145.7V200.5M438.5 147.2V182.6M440.5 155.7V181.3M448.5 156.8V187.2M449.5 156.3V188.7M453.5 156.5V169.0M466.5 157.1V176.7M467.5 172.1V182.3M475.5 171.8V196.1M486.5 157.9V181.8M501.5 176.8V187.6M519.5 154.7V179.7M535.5 171.7V191.2M554.5 178.7V185.2M556.5 157.3V186.4M557.5 162.4V183.0M560.5 159.6V186.6M568.5 155.4V192.7M571.5 148.4V197.4M575.5 185.4V187.7M578.5 181.5V193.9M579.5 161.6V193.2M588.5 159.1V202.4M603.5 171.2V198.3M607.5 174.6V187.4M608.5 151.4V181.8" stroke="#77AC30" stroke-opacity="0.85"/>
<path d="M30.5 158.4V178.6M48.5 168.1V182.4M63.5 157.3V186.5M64.5 150.5V201.3M72.5 180.5V209.8M107.5 156.8V206.1M123.5 153.4V188.9M160.5 161.8V175.7M164.5 159.4V187.4M169.5 159.0V182.2M176.5 162.8V181.1M183.5 163.2V179.4M185.5 167.4V185.0M192.5 170.8V185.2M202.5 163.3V187.0M216.5 150.3V192.3M217.5 172.8V190.7M236.5 176.6V194.7M238.5 154.1V185.8M242.5 161.6V183.9M281.5 157.7V173.7M286.5 159.4V169.5M298.5 147.0V203.4M308.5 160.1V196.3M336.5 166.5V182.9M342.5 151.3V179.7M363.5 136.0V191.7M387.5 171.8V182.3M389.5 153.0V172.1M392.5 162.1V196.4M408.5 152.1V188.9M411.5 167.7V183.0M434.5 148.1V199.4M444.5 181.4V188.2M454.5 155.5V166.1M461.5 154.1V187.2M463.5 154.1V185.3M472.5 164.6V184.1M494.5 153.9V181.9M515.5 150.1V185.1M539.5 145.0V193.8M544.5 158.4V195.3M601.5 148.0V173.7M609.5 151.1V194.2" stroke="#4DBEEE" stroke-opacity="0.85"/>
<path d="M27.5 152.7V173.3M34.5 147.2V172.7M54.5 173.4V185.1M82.5 156.8V179.8M88.5 163.8V184.4M102.5 152.0V185.4M112.5 149.5V166.3M122.5 153.4V181.5M135.5 159.4V168.4M140.5 153.1V175.4M184.5 159.2V181.6M189.5 176.2V183.8M207.5 159.6V185.1M211.5 156.6V187.8M212.5 156.8V168.9M221.5 141.4V194.6M225.5 149.6V163.6M229.5 149.0V173.8M231.5 140.3V191.4M262.5 169.8V195.7M265.5 153.5V191.3M269.5 168.0V187.3M287.5 170.1V178.9M306.5 161.4V180.5M381.5 154.4V184.7M412.5 167.8V196.4M417.5 162.4V188.0M425.5 154.9V172.8M431.5 145.0V197.4M435.5 177.5V190.3M465.5 155.8V171.8M471.5 164.4V189.2M484.5 155.8V190.1M513.5 179.8V196.7M516.5 179.5V182.9M529.5 147.5V179.0M537.5 150.2V192.5M559.5 155.7V185.2M566.5 159.1V185.2M587.5 145.5V201.8M593.5 160.7V177.4M594.5 169.1V188.2M597.5 154.6V195.4M598.5 180.9V183.3M600.5 152.1V189.4M605.5 160.1V191.7" stroke="#A2142F" stroke-opacity="0.85"/>
<path d="M26.5 178.4V192.1M34.5 146.1V191.7M36.5 157.4V177.4M38.5 179.4V185.8M41.5 161.1V172.8M46.5 171.1V187.6M50.5 162.6V185.7M52.5 159.5V184.4M57.5 168.4V170.5M61.5 150.0V202.2M69.5 172.5V193.7M77.5 177.1V192.7M79.5 160.4V171.9M88.5 173.1V185.4M90.5 165.1V174.1M105.5 154.1V174.1M106.5 153.8V199.0M111.5 175.1V192.8M112.5 152.6V184.6M116.5 162.4V169.5M124.5 169.2V189.4M125.5 158.4V184.9M145.5 173.8V179.6M151.5 162.4V183.4M155.5 171.0V182.0M161.5 173.7V184.0M166.5 148.0V190.6M169.5 157.7V168.7M170.5 158.8V171.7M171.5 156.9V182.1M185.5 161.1V179.5M196.5 155.5V187.2M214.5 155.3V179.0M227.5 156.8V189.4M230.5 172.1V198.0M236.5 149.5V197.8M244.5 164.6V171.9M246.5 162.7V185.8M249.5 164.7V169.4M256.5 156.2V186.2M258.5 177.4V206.3M262.5 154.3V177.2M279.5 158.8V176.8M285.5 164.9V179.7M292.5 153.3V190.0M294.5 165.5V202.1M303.5 173.8V192.5M312.5 169.7V187.9M315.5 156.4V202.0M316.5 151.8V194.7M320.5 178.6V185.2M321.5 166.3V168.7M323.5 144.7V190.7M327.5 179.8V186.1M329.5 150.7V173.0M333.5 154.6V169.7M337.5 180.1V194.2M339.5 156.6V196.3M342.5 165.1V191.2M343.5 145.8V180.4M348.5 156.4V198.4M349.5 156.1V204.9M351.5 148.4V204.5M352.5 167.9V207.3M353.5 142.6V203.5M358.5 176.5V203.9M367.5 149.0V202.0M377.5 159.6V178.9M383.5 155.4V194.9M393.5 152.6V166.6M406.5 153.8V190.7M434.5 146.0V181.9M435.5 180.4V185.8M445.5 157.9V183.8M449.5 160.2V174.6M451.5 167.7V188.1M452.5 162.7V188.9M459.5 161.0V189.5M471.5 145.1V179.8M472.5 148.6V193.3M482.5 147.1V191.1M493.5 165.9V167.4M507.5 174.9V188.9M508.5 161.0V195.6M509.5 160.0V171.1M512.5 153.0V170.8M519.5 161.6V199.2M521.5 148.1V183.1M525.5 172.8V189.8M529.5 164.0V194.8M532.5 180.0V201.2M540.5 163.7V196.1M554.5 147.5V181.6M562.5 166.5V182.4M563.5 166.0V188.4M565.5 157.9V174.0M602.5 176.6V187.8" stroke="#0072BD" stroke-opacity="0.85"/>
<path d="M28.5 154.2V190.6M31.5 158.5V167.6M33.5 150.3V183.4M42.5 159.4V176.3M54.5 179.7V190.9M71.5 165.0V192.7M75.5 154.2V175.5M76.5 160.5V186.0M83.5 159.0V186.5M89.5 166.9V187.0M93.5 160.1V180.9M94.5 168.5V182.3M121.5 163.6V191.9M122.5 168.2V176.8M126.5 158.3V185.3M128.5 163.0V188.5M130.5 170.0V183.0M135.5 171.3V182.9M136.5 158.2V186.3M138.5 161.0V197.8M144.5 179.5V184.0M146.5 170.3V180.0M149.5 161.8V183.0M152.5 173.8V184.4M164.5 145.6V191.2M168.5 167.1V182.3M181.5 157.6V192.2M194.5 147.9V186.0M209.5 175.7V183.8M210.5 179.6V185.5M212.5 158.1V175.9M216.5 174.7V183.3M220.5 172.5V198.9M224.5 181.5V197.8M232.5 177.4V202.1M235.5 152.7V166.7M238.5 154.2V180.8M255.5 174.0V191.9M260.5 152.3V201.1M266.5 174.5V193.6M276.5 151.4V189.9M284.5 161.2V184.1M289.5 160.8V182.9M291.5 152.0V167.2M297.5 145.7V204.1M298.5 153.8V204.7M300.5 151.3V202.1M301.5 163.4V191.1M305.5 149.7V189.7M306.5 142.8V194.7M317.5 163.2V176.9M328.5 152.4V172.0M341.5 148.5V202.5M344.5 183.1V198.3M345.5 183.2V204.3M354.5 136.9V192.2M356.5 152.3V166.0M357.5 149.1V178.2M366.5 155.8V169.2M370.5 175.4V194.1M372.5 141.8V171.2M373.5 177.2V182.9M379.5 183.2V196.7M382.5 174.7V193.2M385.5 157.6V179.4M387.5 149.4V160.9M402.5 182.7V185.0M413.5 164.3V167.4M417.5 154.6V199.4M436.5 145.1V171.9M442.5 163.4V191.0M467.5 152.0V182.8M469.5 151.6V173.2M474.5 150.5V194.6M480.5 180.6V186.7M485.5 150.2V169.6M488.5 146.5V186.8M496.5 157.2V173.9M511.5 154.6V187.6M518.5 190.2V191.2M533.5 148.8V199.8M534.5 148.6V181.0M536.5 168.4V192.9M538.5 172.1V187.9M539.5 153.1V190.2M541.5 175.5V192.1M543.5 155.7V183.0M549.5 149.2V181.5M550.5 152.1V173.6M552.5 165.9V188.2M556.5 173.4V185.5M557.5 168.8V179.6M559.5 172.1V185.5M561.5 160.9V182.3M568.5 170.6V194.6M575.5 155.6V176.5M578.5 141.0V189.8M579.5 152.8V195.0M581.5 170.5V202.9M582.5 173.4V188.1M590.5 159.8V189.2M593.5 164.6V193.0M595.5 162.3V167.3M601.5 149.8V178.4M607.5 148.6V186.1M609.5 177.7V193.7" stroke="#D95319" stroke-opacity="0.85"/>
<path d="M40.5 174.6V187.8M44.5 167.0V174.3M47.5 159.5V185.8M53.5 164.6V169.2M58.5 162.7V187.4M62.5 149.0V197.2M66.5 175.7V204.0M74.5 166.3V208.6M81.5 159.4V181.2M91.5 165.9V178.5M92.5 165.6V170.6M97.5 158.3V174.8M98.5 175.6V186.8M103.5 179.5V196.0M107.5 145.9V165.2M109.5 164.2V198.1M118.5 144.9V186.3M127.5 164.8V167.4M140.5 143.4V185.2M141.5 159.7V174.0M142.5 166.1V184.5M148.5 161.2V184.2M150.5 177.3V182.9M156.5 165.9V176.8M163.5 163.5V183.5M167.5 166.5V191.2M173.5 162.9V185.7M174.5 167.1V184.4M176.5 161.7V184.7M193.5 184.5V194.3M199.5 164.3V184.0M202.5 175.0V181.2M213.5 162.9V173.7M217.5 175.3V195.7M218.5 174.8V196.4M221.5 178.9V196.2M222.5 145.7V200.2M257.5 155.1V199.4M272.5 153.1V168.9M273.5 172.5V201.2M282.5 161.9V182.3M295.5 180.1V204.0M299.5 174.4V205.6M307.5 144.9V186.6M308.5 151.3V191.7M310.5 157.7V165.3M324.5 178.1V191.3M334.5 160.8V189.6M336.5 178.0V193.8M355.5 136.0V174.0M360.5 168.7V185.3M361.5 143.4V175.7M363.5 185.8V191.5M375.5 180.9V186.1M376.5 153.7V180.4M378.5 148.3V185.2M390.5 154.1V191.8M395.5 158.8V186.8M396.5 161.5V187.1M398.5 154.0V192.3M400.5 162.1V188.0M409.5 144.4V164.8M415.5 160.2V188.5M427.5 177.5V206.5M433.5 144.0V183.2M437.5 180.9V188.6M446.5 165.2V187.4M448.5 156.8V167.8M453.5 178.1V190.7M454.5 156.9V188.7M455.5 168.2V187.2M464.5 159.0V189.4M465.5 160.3V185.3M468.5 181.3V186.3M473.5 153.4V185.7M475.5 149.5V184.4M476.5 156.9V194.0M477.5 172.1V192.1M483.5 162.5V196.1M494.5 155.4V173.4M495.5 148.1V193.7M498.5 170.0V179.3M502.5 146.7V199.9M506.5 156.5V193.6M513.5 170.0V193.6M516.5 157.7V199.5M520.5 165.4V181.2M531.5 171.9V192.2M555.5 147.7V192.9M558.5 169.1V179.9M560.5 159.9V172.8M569.5 149.7V189.5M580.5 156.8V182.3M598.5 157.1V192.0M599.5 153.1V168.7M606.5 160.1V165.7" stroke="#EDB120" stroke-opacity="0.85"/>
<path d="M32.5 174.0V180.7M35.5 161.0V187.7M43.5 163.6V177.2M48.5 176.1V183.1M51.5 177.3V182.0M55.5 169.0V186.3M56.5 165.6V171.5M64.5 173.2V197.6M72.5 143.5V203.2M95.5 174.4V182.2M100.5 158.2V185.0M101.5 153.2V196.0M104.5 161.7V173.1M108.5 162.7V173.9M110.5 162.2V193.4M117.5 170.2V188.1M119.5 154.0V171.9M129.5 172.9V186.0M154.5 176.4V189.6M157.5 175.7V186.7M160.5 162.7V186.9M165.5 169.3V183.9M189.5 173.8V185.0M198.5 159.6V177.4M204.5 162.9V174.6M211.5 169.0V185.0M223.5 150.9V180.4M228.5 160.1V196.7M229.5 138.9V191.0M231.5 177.5V196.6M234.5 141.7V171.8M243.5 158.4V185.3M254.5 160.7V194.1M259.5 152.0V202.4M265.5 151.2V184.8M267.5 152.9V184.8M269.5 149.2V168.0M270.5 146.3V170.1M271.5 148.0V183.4M278.5 158.2V202.1M280.5 156.9V176.2M281.5 157.5V182.5M288.5 178.7V186.6M290.5 159.4V184.3M293.5 150.4V194.5M302.5 176.7V196.7M318.5 173.3V196.4M319.5 157.0V172.3M326.5 150.6V197.7M335.5 152.5V188.5M350.5 160.6V201.4M359.5 140.4V196.9M364.5 164.4V196.5M371.5 166.3V196.6M381.5 168.2V187.4M386.5 161.2V201.4M392.5 180.1V188.4M394.5 154.6V180.9M405.5 159.1V188.4M410.5 166.2V202.3M419.5 161.2V194.1M420.5 147.2V207.7M426.5 146.9V189.6M431.5 176.3V184.1M441.5 146.4V195.9M447.5 171.0V184.0M456.5 156.8V166.2M458.5 174.3V186.8M461.5 156.2V187.5M463.5 157.8V190.2M484.5 164.9V187.7M486.5 166.2V197.0M500.5 163.5V173.6M501.5 177.2V196.8M505.5 147.3V168.1M526.5 163.9V189.2M530.5 171.4V182.1M535.5 146.7V184.4M542.5 166.4V184.1M548.5 151.4V176.7M553.5 168.3V190.2M567.5 154.1V174.5M574.5 148.5V201.8M586.5 151.8V177.9M588.5 150.4V170.1M597.5 150.3V170.0" stroke="#7E2F8E" stroke-opacity="0.85"/>
<path d="M27.5 154.6V173.2M30.5 151.5V182.2M49.5 165.8V180.1M59.5 151.7V170.7M60.5 147.5V194.5M63.5 149.3V169.6M65.5 156.8V198.5M68.5 157.8V206.9M70.5 181.7V190.1M82.5 160.7V187.5M84.5 160.4V180.7M86.5 162.2V185.2M87.5 163.2V179.5M102.5 152.6V197.7M113.5 149.0V189.6M115.5 176.5V199.7M134.5 172.7V180.5M139.5 152.7V195.2M147.5 167.3V183.5M162.5 173.4V181.0M172.5 158.2V175.4M175.5 161.9V181.5M177.5 176.6V183.3M178.5 149.4V186.5M180.5 162.7V195.0M184.5 164.9V174.7M188.5 168.1V174.1M190.5 166.5V186.1M191.5 166.2V180.2M197.5 166.4V185.9M201.5 171.8V183.7M203.5 160.3V169.4M205.5 175.5V180.3M206.5 166.7V176.9M225.5 168.6V202.8M226.5 186.7V201.9M233.5 142.3V188.1M237.5 156.0V195.7M240.5 154.2V177.1M245.5 158.1V173.2M247.5 160.2V167.9M250.5 164.9V175.0M251.5 160.3V187.1M252.5 156.4V183.4M253.5 158.8V187.3M274.5 152.6V204.1M275.5 151.3V176.9M277.5 161.2V199.6M286.5 165.8V184.2M287.5 165.6V181.3M296.5 151.4V205.2M304.5 154.3V195.9M314.5 162.8V193.3M322.5 148.5V165.0M330.5 152.6V171.6M332.5 152.4V178.5M338.5 160.5V188.1M340.5 136.2V172.2M362.5 147.9V174.6M368.5 163.5V196.4M369.5 170.7V195.5M374.5 180.9V183.1M384.5 155.5V181.1M389.5 178.5V182.2M391.5 150.4V181.7M397.5 162.6V183.3M404.5 159.9V174.8M408.5 164.6V193.1M421.5 148.3V197.3M429.5 142.3V169.8M439.5 154.8V180.9M440.5 146.8V187.0M450.5 173.6V193.0M479.5 163.1V181.5M481.5 147.5V170.1M491.5 158.1V179.9M492.5 156.8V174.4M497.5 146.1V173.7M499.5 173.0V190.3M503.5 149.2V178.4M510.5 167.2V195.2M515.5 158.4V171.0M517.5 159.5V179.4M524.5 151.2V197.2M527.5 142.2V186.4M544.5 166.4V173.1M545.5 173.5V193.2M564.5 172.6V190.7M570.5 173.7V200.3M576.5 156.0V200.2M577.5 180.4V191.4M583.5 160.8V195.4M584.5 151.2V177.0M585.5 155.9V193.7M587.5 181.1V192.6M592.5 163.4V194.2M594.5 156.0V180.9M596.5 156.5V191.5M600.5 176.2V190.1M603.5 172.8V189.8M605.5 151.1V168.2M610.5 155.2V190.8" stroke="#77AC30" stroke-opacity="0.85"/>
<path d="M25.5 150.6V181.5M39.5 167.7V187.1M73.5 156.1V184.2M85.5 172.7V178.0M96.5 163.7V176.2M120.5 176.1V191.9M131.5 158.6V186.1M132.5 157.9V169.0M137.5 176.8V192.7M153.5 158.3V172.1M186.5 165.5V170.0M187.5 179.2V186.3M207.5 170.0V177.1M208.5 168.2V186.6M219.5 150.0V164.9M248.5 160.5V181.4M309.5 145.2V164.0M311.5 148.1V170.2M325.5 178.3V185.6M365.5 158.3V205.0M380.5 147.4V180.4M401.5 158.1V168.0M407.5 157.0V194.3M412.5 163.0V183.1M414.5 155.2V184.1M416.5 151.1V187.1M423.5 139.1V168.5M425.5 150.7V197.5M428.5 154.6V193.0M430.5 145.6V185.7M432.5 144.4V196.6M443.5 172.4V194.5M457.5 147.3V191.0M462.5 164.0V186.4M478.5 145.4V173.6M489.5 147.1V191.6M490.5 151.8V195.6M522.5 145.7V164.9M528.5 168.1V187.0M537.5 149.1V182.6M546.5 158.8V190.3M566.5 172.2V188.9M572.5 151.9V177.9M573.5 160.6V166.9M589.5 149.9V200.0M604.5 179.0V191.0" stroke="#4DBEEE" stroke-opacity="0.85"/>
<path d="M29.5 150.9V176.5M37.5 180.8V187.3M45.5 160.3V189.8M67.5 155.3V205.9M78.5 150.9V175.1M80.5 167.1V174.6M99.5 157.3V191.1M114.5 159.0V202.9M123.5 158.3V193.9M133.5 163.5V176.2M143.5 159.4V188.2M158.5 181.0V186.3M159.5 179.8V186.2M179.5 153.6V170.5M182.5 169.6V185.7M183.5 163.5V188.1M192.5 164.9V182.2M195.5 143.3V179.1M200.5 163.6V183.2M215.5 157.9V179.0M241.5 156.8V170.5M242.5 159.9V179.2M261.5 168.9V198.7M263.5 175.9V196.6M264.5 181.4V195.8M268.5 147.4V172.1M283.5 165.6V180.6M313.5 152.4V201.4M331.5 182.2V192.5M346.5 159.6V188.8M388.5 154.1V181.8M399.5 154.6V187.3M403.5 162.0V188.3M411.5 145.5V196.6M418.5 162.6V202.6M422.5 172.4V194.4M424.5 146.3V181.8M438.5 155.8V199.9M444.5 156.3V185.5M460.5 172.8V186.0M466.5 161.8V186.8M470.5 149.4V179.5M487.5 155.9V177.2M504.5 165.5V195.4M514.5 146.5V184.1M523.5 155.0V191.0M547.5 159.8V167.6M551.5 149.4V179.8M571.5 170.6V199.5M591.5 178.0V196.5M608.5 158.1V168.1" stroke="#A2142F" stroke-opacity="0.85"/>
<path d="M30.5 171.3V192.7M45.5 163.3V195.2M49.5 161.9V182.0M51.5 161.9V180.7M58.5 171.1V196.2M60.5 172.6V199.2M62.5 149.7V191.7M67.5 151.2V192.0M68.5 157.5V179.9M70.5 148.8V176.8M97.5 173.2V183.6M104.5 155.5V170.4M118.5 162.1V188.8M119.5 167.0V197.6M133.5 166.9V170.5M142.5 175.8V185.4M148.5 169.0V169.8M152.5 148.2V194.4M153.5 148.2V167.9M165.5 146.6V180.1M168.5 164.2V173.3M179.5 156.3V181.2M180.5 164.8V188.8M187.5 170.7V179.0M192.5 169.3V178.7M195.5 155.3V187.0M198.5 160.5V185.5M202.5 161.2V171.7M208.5 172.1V185.6M222.5 152.4V182.0M228.5 182.5V197.2M231.5 139.3V192.5M235.5 172.1V197.8M241.5 166.5V175.1M252.5 157.9V179.5M254.5 154.2V191.3M255.5 149.4V177.9M274.5 175.4V201.1M277.5 182.8V201.4M280.5 161.8V185.3M282.5 176.8V180.2M284.5 176.9V185.3M285.5 174.4V179.2M298.5 147.6V168.1M300.5 179.6V188.0M301.5 150.9V181.4M310.5 176.2V194.4M314.5 149.9V181.7M317.5 171.8V191.7M322.5 153.8V191.8M332.5 163.9V201.6M345.5 145.2V179.5M349.5 158.3V206.4M363.5 147.2V175.1M365.5 146.9V192.8M369.5 154.9V183.3M391.5 152.8V194.7M394.5 168.0V189.5M399.5 159.9V171.2M401.5 163.2V171.9M405.5 177.7V191.2M407.5 161.4V165.5M408.5 154.0V172.0M433.5 143.2V180.9M448.5 176.8V182.0M455.5 174.4V183.8M456.5 144.0V179.7M469.5 174.5V195.3M473.5 169.4V188.8M486.5 154.6V201.7M494.5 181.3V185.2M495.5 170.9V191.0M497.5 171.1V202.7M503.5 175.0V189.4M504.5 143.9V189.7M522.5 150.0V198.7M526.5 165.7V189.1M527.5 177.5V195.6M538.5 145.5V170.1M544.5 157.4V183.7M550.5 164.3V167.4M553.5 146.7V181.8M574.5 157.9V202.6M578.5 149.5V182.1M586.5 175.9V198.8M588.5 155.9V180.2M600.5 158.8V190.1M601.5 151.2V169.3" stroke="#0072BD" stroke-opacity="0.85"/>
<path d="M26.5 157.9V183.7M31.5 179.4V193.4M33.5 171.6V183.5M41.5 164.8V172.6M47.5 162.3V192.0M48.5 167.4V180.2M55.5 157.5V184.3M61.5 153.6V184.1M64.5 164.7V194.9M78.5 156.3V200.7M84.5 161.0V173.6M85.5 172.6V185.7M89.5 177.1V178.8M98.5 167.2V188.3M120.5 163.9V185.4M122.5 176.9V181.1M123.5 160.6V189.7M124.5 160.5V188.8M141.5 160.3V187.8M149.5 178.1V179.0M150.5 163.5V180.0M151.5 164.2V171.4M154.5 163.1V169.2M155.5 162.4V175.1M162.5 158.7V170.2M163.5 160.0V183.4M167.5 146.8V175.3M172.5 176.3V182.4M174.5 157.4V169.0M175.5 165.2V171.4M184.5 165.3V188.1M185.5 167.3V182.6M186.5 166.8V180.8M200.5 161.1V175.3M201.5 166.6V177.7M204.5 165.7V181.5M210.5 162.9V174.0M213.5 179.9V187.5M214.5 158.4V190.6M217.5 147.0V188.3M227.5 145.2V175.8M230.5 152.8V175.0M240.5 162.3V179.7M259.5 154.2V187.4M263.5 146.1V191.2M264.5 146.5V167.8M276.5 149.2V187.6M281.5 172.3V185.1M294.5 161.2V169.3M307.5 156.5V172.2M309.5 160.8V191.6M319.5 148.6V199.0M323.5 177.6V195.5M325.5 177.5V203.8M333.5 155.2V200.6M334.5 161.5V189.1M338.5 146.7V195.3M340.5 163.5V198.6M343.5 153.8V190.4M352.5 166.6V205.9M353.5 154.2V161.1M359.5 155.9V172.0M367.5 142.0V201.3M371.5 141.8V182.8M380.5 142.7V184.1M402.5 158.0V186.4M411.5 152.3V187.1M415.5 170.5V186.0M418.5 173.6V185.4M421.5 147.9V195.2M431.5 178.9V200.6M432.5 149.7V176.9M442.5 160.4V171.5M445.5 156.2V190.0M460.5 155.0V179.8M467.5 158.8V194.8M477.5 154.0V188.8M508.5 158.6V186.3M510.5 154.2V197.1M511.5 173.6V198.3M521.5 149.6V196.7M524.5 148.4V174.9M532.5 142.6V188.6M540.5 174.8V200.5M554.5 149.5V199.3M567.5 181.2V194.0M569.5 161.3V201.9M587.5 144.9V196.5M594.5 155.8V173.8M598.5 154.3V180.3M610.5 178.7V192.3" stroke="#D95319" stroke-opacity="0.85"/>
<path d="M25.5 161.9V191.1M27.5 160.3V170.3M28.5 177.0V184.3M29.5 171.5V191.0M34.5 180.4V183.9M46.5 170.2V186.3M52.5 177.3V185.3M59.5 173.9V195.8M63.5 161.5V190.6M71.5 184.9V187.9M73.5 167.4V195.5M83.5 170.9V183.6M87.5 169.3V182.5M90.5 171.9V179.4M92.5 162.3V187.0M102.5 178.8V195.0M110.5 145.8V176.3M113.5 158.3V200.2M114.5 160.8V185.6M128.5 160.1V169.0M129.5 172.6V183.3M140.5 144.1V170.9M143.5 163.1V173.5M161.5 174.1V189.2M178.5 177.7V192.4M182.5 159.2V187.7M188.5 165.9V182.5M194.5 150.5V179.7M207.5 168.3V174.4M209.5 163.3V182.5M211.5 161.3V171.6M224.5 155.9V181.6M225.5 158.6V190.9M226.5 178.5V198.1M237.5 164.2V169.3M249.5 161.7V186.0M251.5 162.3V175.1M267.5 146.7V193.1M269.5 154.3V182.4M278.5 141.0V190.6M279.5 170.3V193.4M286.5 162.3V178.8M303.5 153.3V173.9M306.5 177.6V192.2M308.5 176.7V195.5M315.5 178.5V205.1M316.5 149.5V197.0M326.5 152.7V201.6M328.5 143.1V205.9M331.5 174.3V200.0M337.5 171.9V182.5M342.5 155.1V182.7M344.5 163.1V172.6M350.5 143.9V195.9M354.5 142.9V191.6M355.5 151.3V175.4M377.5 166.0V182.4M381.5 159.3V183.4M384.5 168.8V192.9M406.5 165.9V166.7M414.5 146.4V196.1M420.5 152.9V191.0M426.5 153.8V172.4M427.5 182.6V198.9M438.5 154.4V194.0M440.5 148.3V198.0M441.5 154.3V191.9M443.5 166.0V198.4M444.5 158.7V186.0M449.5 164.6V168.5M452.5 167.1V196.5M472.5 166.2V189.7M487.5 172.1V188.7M490.5 153.8V188.9M491.5 159.3V188.0M493.5 177.9V191.9M501.5 174.2V192.7M509.5 155.6V168.5M514.5 144.7V173.6M546.5 157.8V174.7M547.5 171.8V184.5M548.5 148.7V188.3M552.5 184.9V186.2M557.5 156.4V169.3M562.5 155.6V181.1M564.5 163.1V189.3M575.5 152.1V200.2M576.5 146.6V206.1M579.5 187.6V207.4M581.5 148.2V200.3M590.5 149.0V208.1M591.5 153.1V177.1M593.5 180.3V184.1M605.5 169.4V189.5" stroke="#EDB120" stroke-opacity="0.85"/>
<path d="M32.5 163.5V174.5M35.5 155.9V183.4M36.5 162.4V175.7M39.5 178.3V182.6M42.5 163.8V176.8M54.5 161.2V186.3M57.5 157.8V169.1M72.5 149.6V160.4M76.5 162.3V198.1M79.5 150.1V193.6M91.5 160.4V181.0M93.5 176.3V188.5M96.5 163.8V188.1M99.5 176.8V189.9M105.5 181.4V188.0M126.5 159.1V179.8M132.5 165.7V175.6M134.5 163.0V175.4M135.5 167.0V180.2M138.5 152.3V189.0M139.5 158.8V194.2M156.5 163.5V181.9M158.5 166.9V184.9M160.5 162.1V188.4M166.5 154.1V194.4M169.5 163.9V183.8M170.5 176.7V180.3M173.5 159.2V181.7M176.5 173.1V183.6M177.5 171.4V185.5M181.5 175.5V192.2M189.5 159.7V174.0M190.5 175.3V176.6M191.5 175.5V181.5M199.5 169.5V184.0M203.5 160.5V183.4M205.5 162.3V177.9M212.5 176.5V184.9M216.5 148.2V170.9M218.5 180.0V194.0M219.5 177.6V183.6M220.5 151.2V190.9M221.5 155.3V188.0M233.5 155.6V192.9M236.5 151.1V198.8M248.5 160.8V179.3M257.5 168.7V199.7M258.5 148.5V203.4M261.5 162.4V201.0M275.5 165.7V186.6M289.5 168.7V185.3M292.5 161.0V180.5M293.5 159.8V195.4M296.5 152.9V204.0M297.5 160.6V202.8M302.5 161.5V190.6M304.5 149.1V192.5M305.5 154.2V189.9M312.5 174.0V189.7M318.5 173.0V185.6M321.5 158.6V187.4M327.5 153.9V201.7M341.5 149.6V195.3M347.5 160.9V191.1M361.5 157.7V185.7M362.5 150.6V169.2M364.5 154.6V195.8M370.5 166.2V196.8M372.5 136.0V200.2M373.5 144.1V185.0M374.5 145.8V170.8M378.5 142.4V166.1M383.5 159.8V185.0M388.5 158.8V191.1M390.5 151.5V171.5M395.5 167.8V193.4M396.5 163.5V186.6M397.5 169.9V184.7M412.5 152.1V175.7M413.5 154.9V201.2M417.5 160.3V179.4M423.5 181.0V187.2M424.5 155.0V191.3M429.5 162.1V201.5M434.5 141.7V171.3M437.5 161.9V186.5M446.5 154.9V187.8M450.5 176.7V189.0M457.5 158.9V197.4M459.5 157.8V177.9M461.5 165.7V183.1M465.5 168.6V184.0M470.5 178.5V195.6M474.5 152.4V185.5M489.5 174.5V180.3M492.5 147.8V190.8M496.5 158.0V181.4M500.5 155.3V173.5M502.5 172.9V192.2M516.5 151.6V186.5M517.5 149.2V182.7M520.5 171.6V195.0M529.5 180.6V196.1M530.5 147.5V185.4M531.5 139.1V195.3M534.5 168.5V195.7M536.5 147.2V172.9M555.5 171.5V187.9M563.5 161.7V172.2M568.5 145.8V196.4M571.5 149.7V192.6M572.5 171.9V189.7M573.5 172.9V201.4M582.5 168.5V195.6M585.5 154.9V194.0M599.5 150.1V192.5M603.5 165.2V183.4M606.5 157.8V191.5" stroke="#7E2F8E" stroke-opacity="0.85"/>
<path d="M37.5 159.3V172.6M40.5 163.6V173.9M44.5 161.6V169.6M53.5 158.2V172.9M65.5 149.5V169.9M66.5 188.1V197.5M69.5 158.0V201.1M77.5 178.7V201.4M80.5 176.1V187.2M82.5 172.0V185.3M88.5 165.5V184.3M94.5 173.6V188.5M101.5 154.4V190.9M106.5 153.1V182.7M111.5 147.0V177.3M112.5 160.4V176.0M115.5 178.2V190.8M117.5 151.3V190.2M125.5 175.0V186.1M127.5 161.1V167.8M137.5 161.7V175.8M159.5 167.6V187.1M171.5 170.5V180.2M183.5 171.6V189.3M196.5 167.0V187.6M215.5 148.8V188.9M223.5 175.2V180.5M229.5 156.6V195.2M238.5 175.2V187.3M239.5 164.6V187.2M242.5 170.6V181.5M244.5 166.7V177.4M247.5 163.3V178.6M253.5 155.7V185.8M262.5 151.6V186.0M265.5 178.1V191.3M268.5 172.6V192.3M271.5 151.5V161.9M283.5 169.6V180.3M287.5 159.9V179.9M291.5 166.7V182.6M295.5 163.5V195.9M313.5 170.9V200.3M320.5 160.6V203.1M324.5 160.5V199.8M329.5 153.4V205.0M336.5 175.6V188.1M346.5 160.1V167.6M348.5 173.4V200.8M375.5 151.3V190.2M386.5 149.1V168.0M387.5 177.9V199.6M392.5 156.5V190.2M393.5 158.7V173.5M400.5 165.9V180.2M403.5 173.1V184.2M410.5 184.7V193.8M419.5 161.3V180.8M425.5 158.1V168.8M428.5 177.5V194.9M430.5 149.2V202.4M447.5 156.8V180.2M453.5 174.9V189.5M454.5 178.6V189.7M458.5 167.4V190.7M462.5 161.5V177.0M463.5 155.8V180.7M466.5 176.2V193.9M468.5 156.5V196.4M471.5 166.6V187.0M476.5 155.0V170.7M478.5 150.8V185.1M480.5 150.9V176.0M482.5 163.6V178.2M483.5 170.2V193.6M488.5 146.2V176.7M499.5 172.0V200.1M505.5 149.5V183.2M506.5 156.6V186.9M513.5 155.6V179.9M518.5 169.0V199.7M519.5 147.7V171.3M525.5 165.6V199.7M528.5 180.2V193.7M537.5 147.3V176.6M549.5 153.7V187.1M559.5 161.7V168.0M565.5 155.9V168.6M566.5 149.7V190.2M584.5 170.4V208.1M592.5 184.8V190.0M595.5 147.6V170.4M597.5 175.5V189.1M604.5 176.2V201.6M608.5 157.9V177.5M609.5 153.9V185.5" stroke="#77AC30" stroke-opacity="0.85"/>
<path d="M38.5 172.1V187.8M56.5 176.2V189.7M74.5 176.2V202.2M75.5 166.6V197.7M81.5 158.3V178.7M95.5 166.6V184.7M103.5 161.7V168.9M109.5 151.7V170.5M121.5 160.1V179.2M136.5 163.5V176.3M144.5 159.9V186.2M145.5 166.3V176.2M146.5 163.0V170.4M197.5 162.5V185.8M206.5 166.0V172.7M232.5 143.7V169.4M234.5 175.5V194.5M243.5 166.8V173.5M256.5 158.5V194.6M270.5 142.5V190.9M272.5 166.9V203.3M330.5 162.9V183.8M339.5 155.6V176.6M379.5 140.7V171.1M382.5 169.2V199.8M398.5 162.3V173.8M422.5 156.9V195.5M435.5 144.7V191.0M451.5 161.7V182.1M464.5 175.2V184.8M475.5 152.0V183.4M484.5 182.5V197.7M485.5 162.6V202.3M498.5 152.5V197.0M512.5 166.8V186.5M523.5 152.6V198.9M541.5 150.7V193.4M545.5 159.9V189.1M551.5 151.6V193.8M556.5 178.7V179.5M558.5 165.9V184.5M580.5 143.4V193.1M583.5 162.1V176.6M596.5 152.8V194.7M607.5 162.1V196.1" stroke="#4DBEEE" stroke-opacity="0.85"/>
<path d="M43.5 166.3V183.6M50.5 160.3V176.8M86.5 166.8V183.1M100.5 155.9V185.5M107.5 157.8V188.5M108.5 172.8V185.0M116.5 154.8V189.1M130.5 164.3V181.7M131.5 165.2V183.0M147.5 166.2V175.6M157.5 169.1V186.1M164.5 145.2V196.8M193.5 157.5V184.9M245.5 158.4V186.4M246.5 164.7V187.5M250.5 164.2V176.3M260.5 144.2V201.5M266.5 167.4V199.2M273.5 155.6V180.1M288.5 167.2V186.6M290.5 174.9V183.4M299.5 164.6V188.4M311.5 168.8V197.0M335.5 150.6V200.7M356.5 169.2V187.1M357.5 146.7V189.3M358.5 161.5V185.4M360.5 172.8V193.2M366.5 145.1V176.2M368.5 160.2V162.7M376.5 143.0V194.3M385.5 145.6V191.0M389.5 166.0V192.5M404.5 163.4V166.6M409.5 173.2V188.9M416.5 163.9V201.7M436.5 155.4V195.4M439.5 143.7V190.7M479.5 172.2V198.7M481.5 145.1V182.3M507.5 150.5V191.5M533.5 150.2V165.9M535.5 159.0V182.0M539.5 176.5V196.7M542.5 166.9V197.9M543.5 148.3V168.2M560.5 160.2V187.4M561.5 157.6V186.8M570.5 144.5V180.2M577.5 144.0V184.0M589.5 153.1V200.1M602.5 174.2V191.1" stroke="#A2142F" stroke-opacity="0.85"/>
<path d="M26.5 155.7V190.9M42.5 161.0V178.9M47.5 161.0V172.0M55.5 159.3V172.0M76.5 146.4V198.1M86.5 159.3V173.1M96.5 161.4V186.0M102.5 161.4V197.7M107.5 158.5V191.8M113.5 151.9V180.5M120.5 179.0V195.2M121.5 165.8V186.2M122.5 153.7V186.0M123.5 161.4V178.8M131.5 159.6V177.1M132.5 157.9V170.9M134.5 166.0V177.4M136.5 160.7V183.4M137.5 162.4V197.6M139.5 161.5V176.5M163.5 163.0V183.8M169.5 160.6V175.3M172.5 172.9V182.7M175.5 168.5V186.3M182.5 172.2V179.1M184.5 170.0V183.6M188.5 165.1V184.4M200.5 164.6V174.9M209.5 176.2V181.4M213.5 164.2V186.3M220.5 142.2V169.6M223.5 177.0V190.0M227.5 186.8V188.9M231.5 166.7V203.6M237.5 151.6V182.1M241.5 169.8V185.7M261.5 174.6V195.4M266.5 145.8V180.5M274.5 150.5V206.6M281.5 161.8V177.7M289.5 156.6V183.8M296.5 144.3V197.3M307.5 143.0V176.0M308.5 158.1V193.0M330.5 145.8V178.5M334.5 149.4V183.1M357.5 183.0V191.0M359.5 150.3V181.4M370.5 164.8V193.8M373.5 169.5V197.2M374.5 145.3V167.2M382.5 148.9V208.1M388.5 176.2V181.8M390.5 164.9V198.6M392.5 154.9V181.7M400.5 171.1V188.8M403.5 175.6V182.3M411.5 145.6V191.4M427.5 143.6V199.9M431.5 148.9V199.0M433.5 178.2V196.0M434.5 142.8V167.8M436.5 179.0V192.6M438.5 173.9V183.0M439.5 146.2V170.2M443.5 157.9V190.2M446.5 159.7V187.7M452.5 169.6V189.4M453.5 158.2V187.7M458.5 177.2V193.8M461.5 157.0V172.1M470.5 154.1V192.2M471.5 174.7V187.5M485.5 179.9V201.0M496.5 153.5V193.0M497.5 176.7V185.0M498.5 166.0V194.5M499.5 164.5V173.0M502.5 151.1V198.7M510.5 164.0V200.5M529.5 177.8V191.7M536.5 160.3V180.1M540.5 145.5V199.1M545.5 160.7V163.6M546.5 156.3V172.0M552.5 156.1V160.6M555.5 165.5V173.3M557.5 167.2V185.1M571.5 147.9V175.5M572.5 154.5V186.8M573.5 153.4V175.4M577.5 151.2V170.7M583.5 150.7V175.6M585.5 184.0V195.2M587.5 144.7V197.3M595.5 153.0V174.6M609.5 160.0V181.4" stroke="#0072BD" stroke-opacity="0.85"/>
<path d="M25.5 160.0V169.7M27.5 149.5V180.6M35.5 160.8V185.2M40.5 159.1V173.9M51.5 165.7V170.3M56.5 176.3V188.2M59.5 181.1V204.6M60.5 154.2V202.5M62.5 152.1V190.3M63.5 161.3V200.6M70.5 176.0V189.6M72.5 143.0V186.4M87.5 159.0V181.7M88.5 166.9V172.7M90.5 163.3V182.7M94.5 174.8V176.9M111.5 171.9V192.4M115.5 151.9V166.7M143.5 167.5V191.7M148.5 175.5V181.5M153.5 141.2V184.5M154.5 168.7V192.4M159.5 162.1V169.2M170.5 161.5V173.2M189.5 174.0V183.6M199.5 158.5V174.2M203.5 163.9V177.8M205.5 159.0V172.4M207.5 159.4V183.1M214.5 160.4V174.8M217.5 173.0V196.7M226.5 146.0V165.3M234.5 149.1V182.9M235.5 143.4V206.5M243.5 163.0V184.8M247.5 158.4V186.1M249.5 178.4V184.9M253.5 159.5V187.3M254.5 154.8V191.1M267.5 146.0V169.4M275.5 184.5V198.0M277.5 151.6V197.6M282.5 165.9V184.6M285.5 161.4V175.4M286.5 160.9V180.0M287.5 164.6V182.4M292.5 151.6V189.1M309.5 144.5V195.8M312.5 150.7V194.0M315.5 162.2V203.2M320.5 170.8V190.4M326.5 146.4V198.3M327.5 144.0V209.0M336.5 181.4V198.7M340.5 161.0V164.7M352.5 150.8V201.8M355.5 169.9V196.9M360.5 155.1V196.2M377.5 141.1V167.7M378.5 189.6V193.4M381.5 147.9V191.5M386.5 153.4V193.0M393.5 161.8V174.3M394.5 156.4V173.6M397.5 159.0V181.3M409.5 165.9V180.8M413.5 148.5V195.1M418.5 172.2V203.0M420.5 147.5V173.3M424.5 147.3V166.9M428.5 152.4V204.4M445.5 160.0V181.1M450.5 166.5V173.5M457.5 153.5V196.1M478.5 144.9V178.7M479.5 149.3V195.3M486.5 175.2V192.4M489.5 144.8V191.2M490.5 175.3V193.2M491.5 168.8V191.2M492.5 177.4V192.4M504.5 153.2V167.1M505.5 148.8V195.6M506.5 173.2V195.0M507.5 168.3V196.7M509.5 151.5V196.7M519.5 153.3V173.7M530.5 152.5V178.2M531.5 180.3V183.7M537.5 151.1V194.4M558.5 173.9V186.8M560.5 161.0V192.2M561.5 165.9V185.8M582.5 181.1V199.1M586.5 171.3V200.2M607.5 150.8V167.5" stroke="#D95319" stroke-opacity="0.85"/>
<path d="M30.5 166.5V188.2M33.5 162.7V174.5M43.5 162.9V188.0M48.5 169.3V182.7M74.5 167.2V180.2M77.5 147.8V187.0M82.5 158.5V176.4M101.5 149.4V191.6M105.5 173.0V182.9M106.5 160.1V177.6M116.5 149.4V188.8M119.5 156.9V176.0M124.5 159.0V193.2M129.5 168.8V181.5M130.5 160.9V176.3M133.5 166.7V171.9M138.5 143.9V174.6M142.5 166.1V189.1M144.5 159.0V187.6M146.5 160.1V183.1M149.5 172.1V180.8M157.5 166.3V180.0M160.5 177.5V187.5M186.5 165.8V186.1M191.5 175.8V183.6M194.5 150.5V174.4M195.5 161.6V186.2M196.5 176.9V188.0M197.5 161.4V180.1M201.5 162.5V171.3M202.5 157.6V182.6M204.5 161.1V179.1M211.5 158.6V187.1M216.5 170.6V185.4M221.5 147.9V203.4M225.5 174.1V189.0M228.5 151.0V174.0M232.5 151.5V203.3M238.5 166.8V177.6M239.5 175.6V183.4M245.5 157.0V185.0M248.5 157.7V180.7M251.5 165.8V182.1M263.5 171.1V190.8M265.5 152.1V189.7M268.5 143.5V183.6M293.5 144.1V175.4M294.5 177.1V191.7M297.5 149.9V199.7M298.5 181.4V199.0M299.5 159.2V193.4M302.5 145.2V180.8M311.5 145.5V201.1M316.5 173.4V196.3M318.5 165.8V192.2M319.5 176.5V197.3M322.5 146.1V174.9M333.5 160.3V176.7M337.5 144.1V168.7M341.5 158.4V209.0M343.5 166.2V194.8M353.5 148.1V194.2M356.5 168.2V193.5M358.5 144.2V183.0M365.5 141.3V166.1M369.5 156.2V172.6M372.5 153.6V163.3M389.5 159.0V192.0M391.5 170.0V200.2M396.5 175.9V183.9M402.5 157.7V179.7M404.5 159.7V180.7M405.5 159.1V182.0M408.5 173.5V187.4M410.5 174.7V192.5M412.5 152.9V195.3M419.5 180.5V195.0M425.5 155.3V185.2M426.5 148.2V191.0M429.5 166.7V190.3M430.5 181.3V196.4M435.5 157.1V178.7M440.5 143.3V191.9M462.5 173.0V180.0M469.5 156.0V195.8M474.5 165.0V170.8M476.5 141.6V183.5M480.5 141.3V175.3M482.5 169.1V188.6M484.5 156.9V197.8M508.5 177.1V193.4M522.5 155.4V185.7M525.5 160.4V174.9M538.5 178.3V187.4M541.5 178.5V197.6M543.5 153.5V192.0M549.5 145.0V185.2M550.5 151.5V195.9M554.5 150.4V179.8M559.5 168.6V190.6M563.5 161.4V173.8M565.5 154.0V191.0M567.5 173.0V197.6M581.5 149.3V198.0M589.5 144.1V168.1M596.5 183.6V199.7M597.5 151.0V179.5M604.5 158.3V171.0M608.5 163.4V191.6" stroke="#EDB120" stroke-opacity="0.85"/>
<path d="M28.5 154.3V189.7M34.5 154.3V173.1M36.5 149.5V186.4M39.5 176.5V186.0M41.5 174.8V187.2M45.5 168.1V186.2M49.5 162.3V172.8M50.5 167.4V186.3M53.5 161.8V174.2M54.5 163.9V183.4M64.5 162.5V203.1M66.5 155.2V172.0M67.5 151.0V168.0M68.5 150.8V194.2M71.5 148.7V179.2M79.5 157.0V170.7M80.5 164.5V186.4M81.5 158.9V183.4M97.5 158.2V185.4M103.5 152.8V183.6M104.5 158.5V194.6M109.5 153.9V183.3M112.5 153.8V199.7M125.5 174.8V184.0M127.5 165.4V179.1M141.5 164.5V187.7M145.5 165.4V183.1M167.5 175.4V188.0M168.5 177.7V184.5M176.5 177.5V184.1M177.5 164.6V175.3M185.5 178.8V182.8M187.5 169.1V186.4M215.5 150.3V193.9M229.5 148.0V182.5M230.5 160.5V196.6M236.5 144.6V195.4M240.5 160.6V178.4M244.5 162.5V180.0M255.5 163.4V199.8M256.5 184.0V201.8M272.5 160.3V198.7M273.5 156.9V202.3M278.5 166.7V200.9M280.5 166.2V187.2M283.5 167.2V181.5M284.5 165.0V184.8M288.5 168.6V186.8M303.5 169.4V189.2M310.5 142.1V193.5M314.5 154.8V164.0M324.5 155.4V203.5M346.5 157.7V203.8M347.5 165.2V197.1M349.5 148.2V174.0M361.5 159.3V181.7M363.5 174.4V194.2M368.5 176.9V192.4M375.5 136.0V176.5M376.5 146.8V175.5M385.5 142.5V202.4M387.5 164.1V170.8M398.5 167.1V188.6M399.5 165.8V172.8M406.5 170.1V181.6M416.5 182.1V190.6M417.5 161.7V200.8M421.5 141.7V193.3M422.5 157.2V195.4M423.5 156.9V193.2M432.5 170.9V195.3M444.5 153.2V193.0M451.5 157.7V173.9M454.5 156.8V183.5M463.5 170.4V188.3M472.5 151.5V187.2M475.5 157.5V165.2M477.5 145.3V185.2M493.5 171.3V188.0M501.5 156.3V188.2M513.5 166.1V194.4M516.5 157.9V174.2M523.5 155.4V196.2M524.5 166.9V193.5M528.5 164.4V172.1M532.5 145.2V181.2M535.5 175.9V191.9M547.5 156.9V175.3M556.5 166.2V183.7M564.5 158.8V187.7M566.5 160.6V176.3M570.5 160.7V193.4M575.5 166.2V202.1M576.5 146.1V173.8M579.5 161.1V184.3M584.5 147.2V184.6M588.5 147.5V184.1M591.5 155.0V195.1M592.5 169.6V190.2M593.5 153.1V191.5M594.5 184.5V193.2M598.5 147.5V169.5M601.5 172.5V192.7M602.5 155.6V192.3M605.5 156.5V164.5" stroke="#7E2F8E" stroke-opacity="0.85"/>
<path d="M29.5 178.7V190.6M31.5 175.1V187.6M37.5 170.6V187.2M52.5 162.8V179.2M73.5 162.1V183.8M75.5 148.6V184.7M78.5 161.2V192.3M83.5 159.4V184.0M85.5 161.2V184.0M91.5 176.3V181.9M93.5 169.2V180.4M98.5 169.4V188.7M99.5 180.5V192.6M108.5 183.7V197.2M110.5 146.1V194.9M114.5 174.8V198.6M117.5 145.0V198.1M126.5 166.7V184.1M135.5 168.5V179.6M140.5 151.4V170.6M147.5 159.0V172.4M151.5 156.7V184.2M152.5 139.6V196.2M158.5 161.5V188.4M164.5 143.5V195.5M166.5 153.1V193.9M171.5 171.3V182.9M179.5 161.4V175.6M181.5 150.2V180.0M183.5 162.1V184.2M192.5 162.1V174.4M193.5 143.8V179.8M206.5 165.6V185.8M208.5 162.1V181.4M210.5 162.2V182.7M218.5 163.5V201.5M219.5 143.9V186.8M224.5 152.5V202.1M242.5 158.6V180.7M257.5 153.0V173.4M258.5 148.8V194.4M259.5 149.1V167.2M260.5 143.3V182.0M291.5 155.2V185.6M300.5 151.7V193.5M301.5 157.0V186.9M304.5 156.0V167.7M305.5 182.1V196.8M321.5 177.0V180.9M328.5 161.0V207.2M332.5 149.5V202.1M335.5 143.8V184.3M339.5 154.2V176.2M345.5 158.2V199.9M350.5 159.2V165.2M351.5 153.6V170.5M354.5 139.3V197.9M362.5 170.9V190.7M366.5 181.7V198.6M367.5 142.0V200.8M379.5 171.0V187.9M383.5 147.5V188.0M395.5 160.7V183.5M407.5 150.7V178.2M414.5 144.7V194.1M437.5 172.0V194.5M442.5 167.5V197.0M449.5 165.2V173.6M455.5 177.3V185.0M459.5 162.7V175.6M460.5 178.1V186.6M465.5 176.1V183.5M473.5 155.3V182.7M481.5 155.8V177.9M494.5 147.3V188.2M495.5 147.4V181.5M500.5 154.0V173.8M514.5 160.0V178.9M515.5 163.1V193.2M517.5 167.0V195.5M521.5 165.0V190.4M526.5 158.5V173.6M539.5 166.6V189.9M548.5 169.6V185.7M551.5 159.0V200.0M562.5 163.9V180.5M569.5 158.9V168.7M578.5 148.4V191.9M590.5 144.4V171.9M610.5 155.9V195.7" stroke="#77AC30" stroke-opacity="0.85"/>
<path d="M57.5 157.7V175.0M61.5 155.5V201.1M65.5 141.2V204.8M92.5 160.3V172.0M100.5 151.2V174.8M150.5 159.1V186.1M155.5 157.3V170.1M178.5 165.3V181.3M180.5 182.1V185.6M212.5 157.7V187.6M233.5 157.6V160.7M246.5 164.7V185.2M250.5 170.2V185.4M262.5 174.5V182.9M264.5 147.8V189.5M269.5 156.2V195.7M276.5 181.7V190.1M279.5 169.0V195.5M290.5 157.0V180.3M306.5 169.2V183.9M313.5 154.2V196.4M329.5 146.7V175.7M331.5 147.9V180.0M348.5 143.0V193.9M371.5 179.3V196.2M384.5 179.5V197.5M415.5 143.5V185.7M447.5 161.6V177.5M466.5 158.7V184.0M487.5 153.9V175.1M527.5 165.5V191.8M533.5 160.7V180.9M542.5 164.4V194.2M553.5 151.2V178.9M574.5 144.1V180.8M599.5 170.1V182.5M600.5 178.8V186.0M603.5 164.4V191.7M606.5 161.0V162.7" stroke="#4DBEEE" stroke-opacity="0.85"/>
<path d="M32.5 166.3V179.5M38.5 165.1V172.2M44.5 164.9V172.6M46.5 162.7V172.0M58.5 167.1V190.3M69.5 164.7V188.8M84.5 166.2V175.0M89.5 159.8V181.9M95.5 175.2V179.1M118.5 169.7V198.8M128.5 160.0V185.4M156.5 178.7V187.6M161.5 166.2V177.5M162.5 174.6V188.4M165.5 138.0V189.1M173.5 161.2V170.3M174.5 174.2V183.3M222.5 157.7V196.7M252.5 164.7V188.4M270.5 162.0V189.9M271.5 159.2V195.5M295.5 173.4V189.4M317.5 150.6V166.2M323.5 155.0V177.0M325.5 170.4V190.2M338.5 152.3V199.5M342.5 156.8V167.7M344.5 175.2V202.0M364.5 180.0V183.7M380.5 146.9V166.5M401.5 170.5V185.3M441.5 154.7V196.9M448.5 160.7V187.0M456.5 138.8V187.9M464.5 164.8V185.8M467.5 154.4V188.5M468.5 158.2V167.3M483.5 171.3V194.6M488.5 144.5V186.7M503.5 143.1V179.5M512.5 167.7V174.7M518.5 165.1V177.5M520.5 147.7V179.3M534.5 163.6V193.2M544.5 173.3V203.9M568.5 153.6V201.0M580.5 162.1V199.9" stroke="#A2142F" stroke-opacity="0.85"/>
<path d="M30.5 150.0V179.9M33.5 153.4V169.4M41.5 174.7V184.9M43.5 161.5V179.5M63.5 157.1V174.6M65.5 145.8V181.0M67.5 150.9V180.2M68.5 151.1V172.6M79.5 166.2V181.0M80.5 149.4V175.7M81.5 162.6V172.0M82.5 159.2V175.2M85.5 162.6V171.9M86.5 160.3V187.0M87.5 167.2V183.5M89.5 176.4V182.9M93.5 161.5V176.4M100.5 148.9V191.8M108.5 149.6V174.0M109.5 149.4V177.6M110.5 156.9V170.1M120.5 181.5V193.2M129.5 175.4V184.1M141.5 163.2V184.5M144.5 178.7V180.3M163.5 162.1V187.0M165.5 151.7V180.9M170.5 157.5V181.8M183.5 161.1V175.2M184.5 170.4V185.0M191.5 162.6V170.1M194.5 145.0V183.4M201.5 164.7V170.8M209.5 160.9V173.6M216.5 153.1V174.0M218.5 140.2V175.0M220.5 158.6V170.5M223.5 168.5V177.3M226.5 144.0V173.5M239.5 174.0V185.1M250.5 161.5V168.4M264.5 179.9V184.8M279.5 150.6V168.4M283.5 173.8V186.5M295.5 188.0V196.5M303.5 140.6V197.8M308.5 156.1V166.3M331.5 177.9V196.5M335.5 151.7V183.0M336.5 161.2V209.0M346.5 168.1V192.6M355.5 147.3V197.6M361.5 154.0V186.9M363.5 170.0V185.9M377.5 151.2V196.9M379.5 152.5V194.9M381.5 148.1V189.2M384.5 164.1V177.0M385.5 159.7V174.1M386.5 172.8V189.4M397.5 161.8V183.9M400.5 156.7V185.8M402.5 162.7V168.5M410.5 176.4V195.6M413.5 158.4V180.7M420.5 146.2V183.9M442.5 165.4V171.1M448.5 182.1V184.8M459.5 167.1V184.4M461.5 154.6V189.4M479.5 147.2V191.5M482.5 155.7V194.8M483.5 165.2V166.9M486.5 150.5V196.5M487.5 180.0V181.1M488.5 174.6V194.3M489.5 175.8V194.2M490.5 157.3V176.1M505.5 164.0V197.9M506.5 158.8V198.5M509.5 180.6V186.4M523.5 163.0V191.7M525.5 165.4V196.6M549.5 157.7V186.8M555.5 166.9V193.3M556.5 180.2V187.1M561.5 158.2V177.8M575.5 159.3V181.8M582.5 147.9V186.0M583.5 141.8V173.7M589.5 163.5V199.6M590.5 150.6V187.3M591.5 156.3V189.2M593.5 152.1V194.5M598.5 157.8V177.2M603.5 167.3V179.1M606.5 162.1V183.8M607.5 161.2V175.5M610.5 151.1V189.1" stroke="#0072BD" stroke-opacity="0.85"/>
<path d="M35.5 175.2V187.8M39.5 174.3V185.3M42.5 167.4V183.7M44.5 174.5V195.3M46.5 162.6V181.5M50.5 161.5V185.3M61.5 180.8V203.6M75.5 149.0V192.7M77.5 155.4V176.9M78.5 148.3V170.8M84.5 161.6V182.2M90.5 172.6V181.7M105.5 159.2V193.4M112.5 160.3V192.5M114.5 158.3V180.0M116.5 168.5V207.7M119.5 151.6V191.1M127.5 171.2V182.0M128.5 165.8V182.6M140.5 147.5V189.3M142.5 170.4V179.6M146.5 173.0V181.2M166.5 146.0V185.7M167.5 160.2V176.7M176.5 164.8V183.1M178.5 148.4V190.4M193.5 159.7V198.4M198.5 166.1V168.8M202.5 162.3V177.3M203.5 173.3V182.9M208.5 166.0V174.2M211.5 159.6V185.4M221.5 174.4V198.4M229.5 153.2V197.5M245.5 164.8V183.6M262.5 147.4V189.7M265.5 186.2V189.6M269.5 176.9V187.2M285.5 173.6V184.4M288.5 159.4V175.8M291.5 152.7V189.1M300.5 151.4V196.2M301.5 155.4V196.1M302.5 184.8V191.5M311.5 149.9V177.7M317.5 156.2V190.7M324.5 174.0V197.9M333.5 170.2V191.5M337.5 154.1V192.0M339.5 159.2V168.3M347.5 162.2V163.9M348.5 150.0V172.0M354.5 177.3V202.3M360.5 160.2V180.2M362.5 164.0V190.0M368.5 156.3V186.8M374.5 173.4V181.7M376.5 145.5V184.0M391.5 172.6V195.4M396.5 158.0V165.1M398.5 159.5V186.6M404.5 171.5V185.7M407.5 165.9V179.8M412.5 183.1V203.1M419.5 143.5V185.3M421.5 141.8V194.6M439.5 164.0V193.6M444.5 170.0V184.4M456.5 179.9V197.3M458.5 160.9V187.5M465.5 163.9V184.6M466.5 161.4V173.6M468.5 161.6V182.1M471.5 151.4V177.4M473.5 154.7V175.2M476.5 149.3V173.9M481.5 165.6V191.3M494.5 154.1V189.8M496.5 153.2V192.7M500.5 150.5V167.7M529.5 166.1V185.0M535.5 152.9V181.9M540.5 154.2V171.3M544.5 163.1V173.3M545.5 155.3V190.0M546.5 147.4V173.1M564.5 164.3V184.0M566.5 165.4V179.1M571.5 146.7V171.8M576.5 173.1V191.4M597.5 156.9V199.6M604.5 178.3V193.4" stroke="#D95319" stroke-opacity="0.85"/>
<path d="M28.5 155.4V196.4M69.5 165.6V182.7M70.5 165.8V198.9M71.5 184.6V196.4M106.5 171.8V187.7M117.5 157.6V176.8M124.5 152.3V186.2M125.5 169.1V185.5M131.5 168.4V169.5M132.5 162.3V186.5M136.5 168.2V174.5M138.5 148.1V199.5M139.5 158.7V177.1M145.5 167.1V177.6M152.5 149.2V173.7M171.5 160.1V182.0M174.5 162.3V171.9M179.5 151.7V173.0M189.5 164.8V185.6M206.5 159.6V182.6M212.5 159.3V175.6M215.5 153.8V181.9M219.5 172.0V195.2M232.5 144.9V170.0M237.5 178.0V190.2M243.5 160.3V173.1M252.5 167.5V171.7M255.5 153.8V172.6M256.5 158.5V173.9M261.5 168.9V204.3M263.5 152.7V178.0M266.5 158.7V190.6M268.5 156.0V195.4M270.5 150.4V198.3M271.5 175.0V200.3M274.5 173.0V196.7M276.5 152.0V171.4M277.5 179.7V202.8M286.5 166.5V174.4M287.5 169.7V181.7M293.5 141.7V201.0M304.5 165.1V193.0M312.5 166.7V187.4M314.5 183.9V200.7M315.5 173.5V187.5M338.5 151.2V194.2M352.5 142.8V194.4M366.5 172.2V196.0M380.5 152.0V190.8M383.5 158.4V173.9M394.5 160.4V177.8M403.5 160.7V174.6M408.5 169.9V172.3M411.5 153.9V194.1M414.5 150.0V180.0M418.5 150.2V188.2M425.5 144.9V178.5M432.5 145.1V200.6M434.5 146.4V183.1M441.5 157.1V197.4M446.5 160.9V177.6M450.5 163.1V174.5M457.5 139.8V198.9M460.5 166.8V193.9M463.5 177.8V187.3M464.5 176.0V190.5M484.5 153.8V192.1M485.5 147.4V175.9M497.5 151.7V198.5M501.5 167.7V198.0M507.5 177.6V186.8M515.5 149.7V186.0M518.5 158.6V191.5M521.5 176.3V195.2M528.5 167.1V188.2M531.5 143.4V176.5M532.5 156.8V173.1M534.5 171.5V189.9M554.5 153.5V181.7M574.5 177.8V190.5M586.5 152.4V174.1M592.5 180.7V197.1M595.5 186.5V196.8M608.5 166.7V177.5" stroke="#EDB120" stroke-opacity="0.85"/>
<path d="M29.5 153.5V184.7M37.5 163.4V189.6M38.5 165.8V173.5M40.5 177.2V182.3M53.5 177.7V188.3M57.5 172.8V188.0M60.5 155.2V170.1M74.5 145.4V187.9M83.5 159.8V179.8M88.5 172.1V185.3M97.5 158.7V169.4M102.5 149.8V184.8M103.5 169.6V195.7M107.5 144.2V179.9M111.5 157.3V189.7M121.5 166.1V167.6M123.5 162.0V192.0M135.5 165.0V172.7M137.5 153.0V193.9M147.5 174.6V183.5M148.5 158.1V170.6M149.5 160.4V175.1M151.5 168.6V185.6M154.5 161.7V192.7M155.5 165.9V184.5M156.5 162.5V173.4M157.5 176.9V184.5M161.5 162.6V184.5M164.5 145.3V187.7M172.5 163.7V178.1M180.5 157.6V188.2M182.5 173.8V185.7M190.5 165.3V175.7M195.5 158.3V195.6M196.5 170.3V188.9M197.5 173.0V187.2M199.5 170.0V185.8M205.5 174.6V181.7M207.5 159.0V181.5M213.5 155.4V167.8M222.5 169.4V205.1M227.5 141.0V174.2M228.5 148.3V184.1M238.5 175.1V191.4M242.5 164.3V181.2M246.5 166.6V176.5M248.5 164.7V181.5M251.5 161.1V186.2M254.5 167.9V186.9M259.5 164.0V196.0M272.5 144.1V197.3M273.5 155.4V191.0M284.5 161.6V173.0M290.5 160.0V179.8M294.5 181.4V195.5M299.5 149.4V185.5M306.5 158.0V203.8M310.5 163.6V193.6M313.5 166.0V194.5M316.5 145.3V181.6M322.5 146.3V178.2M323.5 179.6V180.4M325.5 159.1V186.2M328.5 161.8V208.8M329.5 146.0V204.6M334.5 168.2V199.9M342.5 176.6V199.5M357.5 149.9V192.5M367.5 143.1V185.3M372.5 159.4V169.0M389.5 147.8V187.2M395.5 169.4V185.6M401.5 159.1V186.1M409.5 169.5V189.4M415.5 153.0V169.4M416.5 152.5V194.4M428.5 182.2V197.9M430.5 154.0V202.4M431.5 153.9V192.4M435.5 156.1V192.2M440.5 180.3V197.9M443.5 174.4V199.7M453.5 174.3V180.1M454.5 173.5V187.4M462.5 165.4V169.4M467.5 162.5V189.4M469.5 171.7V195.1M472.5 170.1V184.7M475.5 160.2V198.6M477.5 141.5V163.8M478.5 145.9V185.2M498.5 163.7V197.9M502.5 162.5V186.5M511.5 157.0V189.3M520.5 179.1V181.6M522.5 157.6V202.1M526.5 167.2V188.0M537.5 152.6V173.0M539.5 165.2V184.4M541.5 146.6V183.6M542.5 148.8V191.2M550.5 154.4V170.4M552.5 168.0V189.8M553.5 165.2V171.0M557.5 160.4V189.6M562.5 174.7V181.3M563.5 159.4V176.9M565.5 161.7V177.1M567.5 167.2V185.9M572.5 143.8V181.5M578.5 158.5V171.8M580.5 174.3V193.4M581.5 157.7V204.1M585.5 166.7V196.2M594.5 146.8V170.7M600.5 151.1V186.3" stroke="#7E2F8E" stroke-opacity="0.85"/>
<path d="M27.5 156.8V186.0M34.5 155.7V184.4M36.5 156.8V188.5M47.5 167.6V170.4M48.5 165.9V172.9M51.5 170.3V186.1M54.5 163.0V177.8M56.5 159.8V190.5M62.5 154.3V188.7M64.5 146.2V186.7M72.5 153.7V184.3M73.5 144.6V183.9M76.5 141.7V184.0M92.5 163.1V181.7M95.5 163.4V184.2M96.5 159.9V168.0M99.5 153.1V186.3M113.5 179.2V190.4M118.5 152.3V197.2M122.5 166.2V185.1M133.5 161.9V170.4M143.5 159.4V185.5M158.5 160.8V186.6M162.5 163.4V187.8M168.5 160.7V175.2M169.5 167.9V179.6M173.5 164.7V172.9M185.5 161.9V186.6M187.5 164.9V175.5M188.5 161.2V173.2M192.5 169.7V185.2M210.5 173.4V184.7M217.5 144.5V171.7M224.5 166.1V192.3M231.5 149.6V195.8M234.5 142.7V192.2M235.5 145.9V184.8M240.5 163.0V187.5M241.5 163.9V180.2M249.5 169.9V180.0M258.5 173.1V203.5M260.5 173.4V205.1M267.5 144.8V164.7M275.5 148.3V202.2M278.5 164.4V199.8M280.5 157.3V168.7M289.5 170.2V186.1M296.5 140.9V182.6M298.5 138.9V184.2M318.5 145.4V164.6M320.5 167.1V182.7M327.5 160.9V171.5M330.5 156.8V169.2M341.5 186.0V201.8M344.5 172.5V202.2M350.5 141.3V175.4M351.5 183.8V201.9M356.5 153.4V184.2M358.5 147.2V175.1M364.5 170.7V181.7M370.5 149.5V171.4M371.5 164.8V194.7M373.5 171.2V186.4M378.5 141.4V191.2M382.5 145.3V192.5M390.5 150.6V173.5M399.5 178.7V180.8M405.5 166.1V185.8M422.5 145.3V178.1M429.5 155.7V185.9M433.5 148.0V180.0M436.5 171.8V200.9M437.5 183.3V191.7M445.5 159.0V175.9M474.5 152.3V182.6M492.5 155.9V192.7M493.5 168.4V194.1M503.5 170.2V186.1M504.5 177.6V190.6M510.5 151.9V176.4M512.5 155.5V173.9M513.5 156.9V191.5M514.5 170.2V184.5M524.5 163.6V192.8M530.5 156.9V181.3M533.5 170.9V189.5M538.5 168.9V186.7M543.5 148.1V165.2M547.5 156.4V181.0M548.5 160.7V172.3M551.5 155.6V197.6M559.5 164.2V169.3M560.5 158.4V174.7M577.5 164.5V183.5M588.5 162.4V168.2M596.5 154.5V199.1M601.5 180.8V195.6M609.5 156.0V186.0" stroke="#77AC30" stroke-opacity="0.85"/>
<path d="M31.5 166.5V172.4M32.5 161.3V178.0M45.5 175.2V188.9M58.5 158.2V202.0M59.5 177.0V192.9M66.5 149.1V194.2M101.5 161.9V170.2M130.5 173.0V183.8M159.5 174.4V182.2M175.5 169.6V172.0M177.5 162.1V172.2M200.5 162.8V169.1M204.5 179.4V184.4M225.5 142.9V200.6M247.5 158.2V182.5M282.5 172.4V181.2M292.5 170.2V198.1M307.5 180.8V201.2M319.5 164.8V183.0M326.5 177.9V182.9M332.5 149.9V179.7M343.5 152.9V191.7M345.5 158.5V197.6M369.5 147.7V187.7M388.5 156.5V189.4M424.5 181.4V191.8M427.5 142.8V194.8M438.5 154.6V177.0M452.5 168.5V182.0M470.5 159.1V195.6M491.5 146.7V171.6M516.5 165.1V194.5M517.5 165.9V170.7M519.5 152.8V191.1M568.5 175.1V197.4M569.5 148.3V200.9M570.5 182.5V199.7M584.5 148.7V204.9M587.5 164.1V166.5M602.5 177.7V191.2M605.5 165.1V185.3" stroke="#4DBEEE" stroke-opacity="0.85"/>
<path d="M25.5 155.3V177.8M26.5 154.7V178.3M49.5 159.0V184.0M52.5 163.1V184.7M55.5 162.1V167.8M91.5 168.5V180.3M94.5 160.6V182.0M98.5 160.0V178.3M104.5 150.9V202.2M115.5 177.8V194.6M126.5 161.4V175.6M134.5 171.5V180.3M150.5 177.3V182.2M153.5 156.0V176.8M181.5 151.3V196.5M186.5 165.2V183.8M214.5 155.3V181.1M233.5 147.1V177.6M236.5 182.2V196.2M244.5 165.5V180.2M253.5 155.7V189.5M257.5 152.4V186.0M281.5 158.8V183.6M297.5 188.1V192.7M305.5 158.9V197.9M309.5 168.6V188.9M321.5 155.8V176.4M340.5 162.2V187.0M349.5 164.7V197.6M353.5 161.0V167.2M359.5 151.1V175.3M365.5 158.1V192.4M375.5 141.1V191.4M387.5 178.2V199.9M392.5 174.3V196.3M393.5 163.9V170.3M406.5 171.4V180.4M426.5 146.8V195.7M447.5 157.0V190.8M449.5 156.7V179.1M451.5 157.8V189.7M455.5 176.6V187.9M480.5 184.1V198.3M495.5 154.5V195.7M499.5 161.4V196.0M508.5 153.5V194.5M527.5 174.9V195.3M536.5 145.6V180.3M558.5 165.1V182.9M573.5 175.0V180.8M579.5 181.9V199.6M599.5 149.8V172.7" stroke="#A2142F" stroke-opacity="0.85"/>
<path d="M25.5 174.1V186.6M40.5 169.2V180.4M55.5 167.2V187.0M56.5 178.1V185.2M66.5 146.0V187.7M76.5 148.8V189.0M81.5 173.0V178.4M82.5 157.6V171.1M96.5 173.8V187.6M103.5 149.4V170.9M104.5 146.0V201.0M106.5 181.7V191.5M107.5 155.0V178.2M113.5 174.0V191.5M133.5 168.4V175.4M157.5 157.6V181.7M158.5 157.7V184.9M159.5 169.6V182.4M167.5 146.6V185.1M172.5 180.1V184.3M174.5 175.0V184.5M182.5 168.8V186.1M183.5 172.6V188.0M195.5 181.5V186.7M197.5 165.3V179.0M210.5 175.1V178.9M211.5 162.4V182.6M212.5 174.6V178.0M218.5 147.3V198.3M221.5 150.0V183.0M222.5 151.2V200.9M224.5 169.2V186.1M225.5 182.3V192.6M232.5 172.4V185.3M234.5 153.4V165.6M256.5 151.8V200.1M258.5 162.2V205.4M263.5 177.2V198.9M269.5 147.7V198.7M277.5 168.4V202.5M278.5 151.5V184.3M287.5 170.5V177.0M290.5 161.4V188.8M296.5 174.0V202.7M301.5 156.3V173.1M304.5 172.2V197.0M313.5 175.6V196.4M318.5 156.7V168.4M323.5 158.6V175.9M324.5 178.1V196.1M325.5 161.6V189.9M330.5 148.3V184.7M336.5 153.3V196.9M338.5 149.7V171.0M339.5 160.5V192.9M350.5 156.9V201.6M352.5 146.4V168.1M378.5 149.9V197.2M380.5 163.9V165.9M381.5 156.5V185.4M387.5 164.1V190.7M393.5 158.8V169.6M410.5 146.9V174.9M411.5 144.3V188.8M416.5 158.8V172.9M423.5 158.4V186.4M424.5 146.0V192.3M425.5 145.4V168.2M432.5 152.6V177.9M444.5 180.1V192.7M446.5 179.0V184.8M451.5 175.2V188.0M453.5 157.3V170.3M462.5 154.3V175.9M467.5 150.0V182.4M477.5 153.0V183.9M478.5 145.0V174.8M479.5 149.6V173.4M480.5 177.9V186.7M490.5 153.9V199.1M495.5 149.2V199.6M505.5 151.9V181.3M506.5 154.0V197.5M519.5 152.4V199.0M530.5 176.9V185.2M536.5 152.2V175.0M541.5 157.9V198.1M542.5 153.0V174.1M544.5 166.9V181.9M545.5 168.5V191.7M552.5 157.8V197.5M557.5 151.3V195.5M568.5 175.2V187.0M569.5 156.1V174.9M573.5 166.6V198.2M575.5 182.4V197.2M584.5 142.6V174.4M596.5 179.2V194.3M600.5 163.5V196.8M607.5 160.1V172.8M608.5 163.4V186.3" stroke="#0072BD" stroke-opacity="0.85"/>
<path d="M29.5 155.0V174.5M30.5 151.6V187.3M51.5 170.9V188.0M53.5 162.7V187.6M58.5 166.7V188.8M65.5 150.5V186.7M68.5 177.4V181.2M72.5 159.8V187.7M85.5 177.5V178.3M102.5 165.5V194.8M105.5 173.0V187.0M108.5 158.9V178.0M110.5 176.9V201.3M112.5 153.7V168.7M118.5 171.6V200.9M123.5 154.4V187.8M131.5 163.1V182.3M137.5 166.3V197.1M145.5 176.5V178.9M147.5 169.2V183.7M151.5 164.2V182.1M152.5 163.1V193.8M156.5 160.5V187.6M164.5 149.7V194.2M165.5 148.5V168.5M187.5 162.8V171.9M191.5 169.1V180.1M196.5 159.9V171.5M206.5 174.9V187.9M207.5 162.2V184.1M208.5 166.3V182.1M216.5 175.0V180.0M228.5 161.7V177.2M237.5 171.7V182.2M239.5 153.9V180.1M244.5 161.2V177.3M245.5 156.0V170.8M248.5 166.9V178.6M250.5 160.6V170.7M251.5 158.9V175.2M261.5 148.9V199.5M268.5 142.8V171.5M270.5 163.4V174.3M281.5 158.1V176.4M283.5 172.3V185.1M289.5 161.9V172.2M292.5 159.1V192.8M308.5 176.1V197.5M315.5 170.2V192.8M322.5 173.0V185.2M329.5 170.7V190.9M335.5 166.6V182.2M349.5 140.5V172.1M359.5 158.7V190.3M361.5 177.1V197.6M363.5 150.9V176.2M365.5 156.0V198.8M374.5 148.4V189.5M377.5 150.3V174.9M388.5 175.7V185.9M389.5 157.1V193.4M390.5 155.5V174.6M399.5 160.0V191.7M403.5 163.0V182.0M407.5 159.1V172.5M412.5 154.7V175.7M415.5 148.9V176.2M417.5 152.4V194.5M419.5 156.5V200.1M427.5 181.1V202.6M430.5 179.2V186.2M433.5 161.7V199.0M434.5 137.2V195.2M436.5 154.5V197.3M438.5 164.3V205.1M448.5 164.3V180.9M449.5 161.4V174.8M454.5 155.7V182.7M455.5 161.8V189.7M456.5 152.6V171.3M471.5 148.6V199.2M482.5 167.2V185.3M483.5 158.3V193.3M489.5 173.1V197.4M501.5 162.0V187.6M507.5 150.2V188.6M508.5 155.5V196.4M513.5 166.1V184.5M521.5 170.4V183.3M527.5 146.4V199.5M532.5 167.3V198.6M534.5 149.3V165.5M539.5 144.6V170.0M549.5 174.2V188.7M562.5 158.3V187.5M579.5 151.1V181.8M580.5 161.9V210.6M585.5 185.3V196.2M587.5 180.8V200.7M588.5 170.5V203.9M589.5 147.6V164.5M590.5 152.5V202.6M592.5 156.2V200.1M598.5 162.8V200.2M602.5 161.0V192.1" stroke="#D95319" stroke-opacity="0.85"/>
<path d="M26.5 147.5V173.6M27.5 172.6V190.2M31.5 168.4V190.8M32.5 166.1V190.6M37.5 166.5V169.4M38.5 164.0V181.8M39.5 160.7V184.5M41.5 177.0V178.8M43.5 160.5V181.5M45.5 169.0V185.9M54.5 174.2V185.7M63.5 162.4V200.7M64.5 158.3V165.7M67.5 167.7V186.4M75.5 177.0V178.4M78.5 151.9V189.2M79.5 161.8V179.4M86.5 155.3V184.0M89.5 162.6V181.9M90.5 159.4V179.7M94.5 159.9V174.6M98.5 161.7V170.0M99.5 155.5V187.5M100.5 181.7V184.4M114.5 160.4V171.6M115.5 150.2V185.1M120.5 150.9V195.5M121.5 160.4V197.1M125.5 157.3V178.9M126.5 155.4V173.3M134.5 169.8V178.4M136.5 175.7V181.0M148.5 164.8V177.8M153.5 174.0V192.9M155.5 164.2V177.0M160.5 172.5V183.0M161.5 180.5V185.8M162.5 165.9V177.2M168.5 166.0V182.7M169.5 164.7V172.9M175.5 174.8V183.4M179.5 145.5V189.0M185.5 164.9V182.0M188.5 162.8V175.2M201.5 163.3V179.0M204.5 173.8V183.4M217.5 173.5V185.0M219.5 151.6V177.8M230.5 163.7V192.0M236.5 149.0V167.4M238.5 152.1V177.1M242.5 160.4V185.9M253.5 170.1V183.7M254.5 150.4V181.1M260.5 160.3V193.9M264.5 173.1V194.5M267.5 171.5V193.3M271.5 162.7V186.2M275.5 174.8V197.9M280.5 175.6V186.8M284.5 162.3V185.1M291.5 154.8V171.7M305.5 181.4V191.9M306.5 139.5V172.8M312.5 169.4V190.8M319.5 187.5V197.8M321.5 162.5V204.5M326.5 147.2V200.7M328.5 168.9V197.7M332.5 150.5V197.6M334.5 154.3V174.5M340.5 148.6V195.5M344.5 182.3V186.0M346.5 154.5V203.6M347.5 158.8V201.3M351.5 149.1V177.9M360.5 180.4V194.3M362.5 148.3V189.3M370.5 167.1V191.0M371.5 145.2V192.5M373.5 152.1V172.9M376.5 179.5V198.4M379.5 157.1V193.2M382.5 180.7V194.4M391.5 150.8V187.9M392.5 158.6V171.7M428.5 162.7V197.8M431.5 142.1V165.6M461.5 154.4V169.9M466.5 155.3V193.5M491.5 150.6V185.1M498.5 176.3V194.5M504.5 157.0V183.2M512.5 164.8V189.1M515.5 174.1V191.2M517.5 148.9V166.5M522.5 154.6V192.5M523.5 152.6V166.3M525.5 166.5V195.6M538.5 170.1V188.8M553.5 158.9V175.2M556.5 164.5V191.0M559.5 165.9V190.6M570.5 147.1V195.2M571.5 141.1V196.8M574.5 140.8V205.1M576.5 144.8V196.3M583.5 143.3V204.1M593.5 182.1V190.6M594.5 148.1V185.1M603.5 155.0V167.8M606.5 174.4V192.5" stroke="#EDB120" stroke-opacity="0.85"/>
<path d="M42.5 165.9V174.8M46.5 167.4V182.5M48.5 168.3V179.4M52.5 159.9V188.7M60.5 160.8V189.7M69.5 179.7V183.4M70.5 162.3V163.1M74.5 155.9V181.6M83.5 165.6V183.0M88.5 162.7V183.6M91.5 162.8V178.6M116.5 147.8V161.0M119.5 171.9V200.3M122.5 181.3V188.1M130.5 159.2V184.3M138.5 157.1V200.7M142.5 165.5V178.2M146.5 171.3V179.5M171.5 161.5V178.3M173.5 173.3V185.8M180.5 147.2V177.4M184.5 159.7V184.1M192.5 158.9V174.5M193.5 168.2V186.7M227.5 152.9V200.2M235.5 172.9V190.0M240.5 160.5V179.4M262.5 153.1V189.8M266.5 153.3V188.0M274.5 147.3V176.6M282.5 155.4V178.5M286.5 162.2V172.2M297.5 149.8V192.3M298.5 149.5V167.2M299.5 154.4V195.3M303.5 149.1V189.7M311.5 178.3V204.2M314.5 146.1V200.4M331.5 170.4V186.8M333.5 181.6V197.6M341.5 144.5V200.2M345.5 177.2V201.8M353.5 155.0V187.4M354.5 154.6V190.9M356.5 146.5V178.8M357.5 147.7V173.8M368.5 165.0V179.7M369.5 162.0V166.7M384.5 150.0V200.7M385.5 164.5V194.4M396.5 162.1V187.7M400.5 163.3V172.3M404.5 159.0V186.0M408.5 160.2V185.0M429.5 154.5V163.3M439.5 162.5V185.0M442.5 157.5V190.9M445.5 159.0V178.7M452.5 174.0V191.0M460.5 170.9V190.1M468.5 160.2V186.9M470.5 152.9V175.5M484.5 156.5V181.5M485.5 183.3V192.7M487.5 156.7V184.8M493.5 147.6V198.8M497.5 149.7V186.5M499.5 158.0V189.2M514.5 154.5V184.3M528.5 166.3V199.9M533.5 171.5V197.5M537.5 159.1V168.0M543.5 154.0V176.0M551.5 160.7V202.7M554.5 158.0V171.9M560.5 166.3V188.9M561.5 168.1V175.2M566.5 159.9V184.4M577.5 169.5V202.4M597.5 164.5V195.4M601.5 162.2V167.4M605.5 161.3V162.4M610.5 177.8V181.1" stroke="#7E2F8E" stroke-opacity="0.85"/>
<path d="M33.5 175.3V184.7M34.5 174.6V192.6M44.5 163.0V177.2M50.5 167.5V187.2M57.5 165.8V187.8M61.5 177.8V187.7M62.5 152.2V184.5M71.5 147.9V170.3M77.5 158.6V179.8M84.5 163.0V173.6M92.5 165.3V185.5M128.5 159.4V173.3M132.5 166.3V177.7M135.5 158.6V186.2M140.5 147.6V194.4M150.5 160.6V181.9M166.5 178.8V187.2M170.5 167.8V184.7M176.5 178.4V183.9M181.5 177.0V190.6M186.5 164.1V173.5M189.5 161.6V177.7M190.5 158.9V173.6M200.5 165.6V186.1M202.5 161.8V169.6M203.5 160.7V173.3M205.5 161.2V183.7M209.5 168.5V184.9M213.5 161.0V181.5M214.5 172.1V192.3M220.5 158.3V185.8M226.5 171.9V189.7M229.5 149.6V177.8M241.5 157.5V184.3M243.5 170.9V181.6M246.5 177.7V185.5M252.5 164.9V170.8M255.5 175.9V187.1M257.5 184.1V197.4M265.5 175.0V193.0M272.5 164.7V200.5M276.5 176.3V189.1M279.5 162.7V175.0M293.5 180.8V185.4M309.5 143.3V166.3M316.5 141.0V204.0M317.5 151.0V173.0M337.5 151.3V177.7M342.5 157.5V187.5M343.5 148.4V189.3M355.5 172.7V188.4M364.5 161.2V205.6M375.5 151.0V198.9M386.5 154.0V180.6M397.5 177.2V181.4M398.5 178.6V187.6M401.5 165.8V180.5M402.5 177.1V186.0M405.5 180.0V188.9M414.5 147.7V191.6M418.5 157.0V200.9M421.5 151.2V171.0M422.5 174.1V199.0M426.5 169.7V203.7M435.5 145.1V172.3M441.5 148.3V184.1M447.5 161.7V168.0M457.5 180.5V188.6M458.5 178.1V184.6M464.5 162.1V186.3M475.5 150.2V177.1M476.5 152.5V195.4M488.5 157.2V182.9M500.5 176.1V186.0M502.5 159.5V175.0M509.5 178.7V195.2M511.5 152.3V171.9M516.5 152.9V163.1M518.5 155.8V184.2M520.5 164.1V169.8M526.5 151.1V195.5M529.5 150.1V198.1M535.5 166.8V182.3M546.5 157.8V170.0M555.5 152.7V186.9M558.5 180.8V187.9M564.5 156.8V186.2M572.5 142.0V166.9M581.5 163.7V194.5M582.5 169.1V192.6M591.5 169.4V200.1M599.5 169.3V170.6" stroke="#77AC30" stroke-opacity="0.85"/>
<path d="M28.5 157.2V189.4M35.5 179.1V186.1M36.5 162.3V180.6M49.5 166.4V183.1M80.5 159.4V178.0M97.5 157.5V171.2M111.5 163.0V190.3M117.5 147.4V163.1M124.5 155.3V173.1M139.5 165.6V197.1M143.5 161.7V170.5M163.5 161.7V178.1M194.5 167.8V187.7M198.5 167.0V172.6M215.5 170.7V190.1M231.5 179.1V183.4M249.5 166.0V180.8M273.5 156.0V191.9M288.5 173.9V185.2M295.5 148.3V193.6M300.5 148.0V188.6M310.5 163.1V201.6M320.5 187.8V199.3M327.5 177.9V200.8M358.5 145.9V169.1M366.5 170.6V202.4M367.5 158.8V199.0M383.5 156.6V199.2M394.5 154.4V182.6M406.5 165.0V174.2M413.5 148.8V189.2M420.5 163.7V196.9M437.5 164.1V201.9M450.5 165.4V176.9M465.5 161.3V174.0M469.5 179.9V195.3M473.5 148.4V188.4M474.5 158.9V198.1M492.5 151.2V177.8M496.5 167.8V185.4M503.5 150.8V169.6M531.5 180.2V195.0M540.5 160.9V173.6M547.5 178.6V185.7M548.5 147.9V169.9" stroke="#4DBEEE" stroke-opacity="0.85"/>
<path d="M47.5 164.2V179.2M59.5 167.8V197.7M73.5 180.6V181.8M87.5 161.5V179.0M93.5 161.4V176.7M101.5 150.0V167.6M109.5 165.2V198.2M127.5 171.2V182.0M129.5 158.5V176.7M141.5 165.1V180.3M144.5 162.0V184.6M149.5 161.6V170.1M154.5 154.2V184.8M177.5 161.7V174.0M178.5 147.0V191.6M199.5 161.7V176.1M223.5 153.9V173.7M247.5 177.5V187.1M259.5 153.7V179.7M285.5 167.2V175.6M294.5 172.4V188.3M302.5 159.8V191.1M307.5 166.8V188.9M348.5 179.1V209.0M372.5 148.3V204.9M395.5 169.5V193.6M440.5 150.2V191.2M443.5 173.5V193.0M459.5 157.3V175.2M463.5 157.5V183.7M472.5 153.7V199.0M486.5 144.7V180.4M494.5 160.2V203.7M510.5 175.4V186.6M524.5 146.3V188.8M550.5 156.3V193.0M563.5 170.6V183.4M565.5 160.5V168.7M567.5 159.8V180.0M578.5 175.8V188.5M586.5 173.1V186.4M595.5 153.2V183.1M604.5 162.8V198.2M609.5 159.0V186.4" stroke="#A2142F" stroke-opacity="0.85"/>
<path d="M25.5 150.7V180.7M28.5 165.0V186.6M37.5 165.5V186.0M44.5 157.1V172.1M48.5 168.1V173.3M57.5 171.0V187.2M59.5 148.2V167.2M61.5 142.5V196.4M64.5 147.0V199.5M69.5 157.9V199.0M73.5 182.1V191.5M74.5 167.1V188.2M78.5 155.6V197.2M83.5 166.4V183.3M88.5 160.5V169.7M90.5 167.2V176.2M91.5 169.8V173.8M97.5 162.2V181.6M101.5 161.0V168.5M114.5 167.1V194.7M115.5 177.1V184.7M127.5 165.9V170.1M135.5 163.5V186.2M138.5 171.6V198.3M139.5 173.4V196.4M144.5 162.0V183.1M146.5 165.1V182.6M147.5 162.9V172.0M148.5 160.1V169.9M153.5 142.6V185.4M154.5 152.0V192.3M176.5 161.6V177.5M189.5 160.3V176.8M193.5 183.3V191.5M206.5 164.5V186.6M207.5 178.0V185.8M224.5 150.4V183.2M238.5 158.3V190.5M243.5 163.5V184.3M248.5 160.8V174.5M260.5 158.3V176.3M265.5 156.0V168.7M267.5 150.8V197.6M275.5 156.4V185.0M278.5 165.3V174.8M284.5 161.9V178.0M291.5 152.8V184.9M297.5 149.8V181.3M313.5 144.4V184.1M318.5 171.5V196.1M334.5 152.6V191.6M344.5 157.3V181.3M361.5 161.8V177.8M362.5 155.4V202.9M367.5 173.0V193.2M368.5 180.6V193.5M369.5 151.2V187.3M370.5 144.0V168.8M395.5 168.9V195.8M398.5 162.1V193.3M401.5 159.8V173.6M417.5 147.2V165.8M418.5 143.6V194.9M422.5 179.3V196.6M432.5 146.7V173.5M439.5 152.7V201.4M447.5 165.9V171.1M454.5 152.4V194.2M457.5 146.2V184.9M460.5 179.9V185.2M463.5 161.8V166.3M468.5 167.1V195.6M489.5 149.4V176.1M504.5 174.6V187.8M510.5 159.7V169.9M511.5 159.9V190.4M515.5 155.5V185.8M524.5 175.6V198.4M526.5 170.3V189.1M531.5 164.3V195.4M532.5 152.1V183.2M535.5 185.2V191.2M547.5 162.4V170.1M550.5 182.2V194.2M551.5 180.0V191.4M554.5 166.3V187.9M558.5 172.4V190.4M581.5 167.1V183.4M586.5 152.4V168.1M591.5 176.7V198.5M593.5 143.8V167.4M594.5 141.9V187.6M599.5 169.6V189.0M604.5 153.2V199.6M609.5 161.3V191.8" stroke="#0072BD" stroke-opacity="0.85"/>
<path d="M27.5 156.0V188.3M29.5 148.1V185.6M30.5 159.4V179.5M32.5 162.2V188.9M41.5 159.3V188.6M49.5 169.8V182.6M52.5 164.9V170.3M62.5 174.0V192.7M63.5 152.2V199.7M70.5 177.0V194.3M71.5 159.7V204.5M79.5 155.3V195.8M92.5 167.4V177.1M96.5 179.0V186.4M100.5 149.4V176.1M104.5 176.9V197.6M110.5 171.8V189.3M120.5 180.4V187.7M121.5 160.0V185.3M125.5 172.8V179.7M129.5 162.4V186.2M130.5 172.9V185.3M141.5 162.8V186.0M157.5 168.2V183.4M158.5 158.7V173.6M163.5 160.5V182.5M168.5 167.4V181.3M169.5 162.1V180.0M173.5 160.9V182.2M175.5 158.0V173.8M178.5 148.3V195.2M190.5 159.1V172.1M191.5 175.1V185.3M192.5 156.9V174.3M196.5 157.4V185.6M198.5 171.9V184.5M200.5 171.9V185.5M201.5 159.4V175.2M202.5 164.9V177.9M213.5 167.9V186.4M218.5 146.0V173.3M219.5 153.3V193.1M225.5 151.0V192.5M246.5 169.9V185.6M249.5 167.3V183.1M252.5 165.6V188.7M254.5 162.6V184.3M256.5 174.6V185.7M257.5 174.8V190.8M259.5 163.2V189.6M268.5 149.1V200.7M270.5 162.8V178.2M271.5 176.0V198.7M280.5 157.8V185.5M287.5 171.1V182.8M299.5 146.1V195.6M302.5 166.0V195.8M304.5 151.0V193.0M305.5 169.8V189.1M307.5 148.8V188.5M326.5 144.4V181.0M343.5 173.5V192.8M358.5 174.2V191.7M363.5 155.4V179.6M364.5 166.8V191.2M371.5 142.7V193.8M372.5 175.2V193.4M391.5 150.7V191.2M392.5 178.7V189.7M409.5 158.5V196.1M411.5 153.0V174.3M416.5 174.9V194.8M425.5 147.4V188.1M449.5 175.5V181.5M462.5 165.9V181.0M464.5 162.6V190.6M475.5 159.1V192.3M476.5 153.9V174.6M479.5 147.8V169.9M481.5 145.6V182.4M484.5 154.3V194.1M487.5 176.2V183.1M491.5 146.8V178.9M492.5 179.9V194.8M493.5 165.4V174.3M494.5 140.8V192.2M497.5 152.3V197.9M498.5 154.5V172.9M503.5 150.4V177.6M506.5 166.4V190.5M512.5 155.3V177.5M513.5 178.6V183.6M516.5 156.6V179.8M542.5 157.9V187.7M543.5 148.7V172.9M559.5 172.5V188.0M563.5 178.8V189.0M565.5 172.3V189.0M568.5 170.6V200.5M574.5 140.9V204.9M583.5 147.3V200.6M588.5 183.3V197.2M600.5 177.4V195.0M603.5 150.5V192.7" stroke="#D95319" stroke-opacity="0.85"/>
<path d="M35.5 155.5V185.8M38.5 171.0V188.7M42.5 176.4V183.3M50.5 173.9V185.2M53.5 172.5V183.4M54.5 159.4V173.6M56.5 163.8V187.1M66.5 165.0V185.2M75.5 178.4V186.1M107.5 159.3V180.5M108.5 163.9V187.2M123.5 154.5V186.0M126.5 164.2V179.7M133.5 169.1V186.4M134.5 162.1V171.6M164.5 164.0V187.9M177.5 162.2V179.0M181.5 152.4V199.0M182.5 168.1V175.5M183.5 171.6V179.1M184.5 177.2V185.2M187.5 160.1V171.6M195.5 167.2V187.2M197.5 160.9V185.8M203.5 163.9V174.0M222.5 150.9V198.8M228.5 180.2V200.3M229.5 163.6V184.4M235.5 152.6V187.1M239.5 156.8V186.5M247.5 163.8V179.1M261.5 164.1V201.9M262.5 159.4V193.8M266.5 182.5V198.3M269.5 176.7V184.4M276.5 160.6V171.4M277.5 154.9V180.1M281.5 164.0V168.6M283.5 165.6V181.4M296.5 168.6V192.0M303.5 157.9V190.3M309.5 154.4V189.3M314.5 154.9V186.4M320.5 144.6V202.9M323.5 149.4V200.2M329.5 143.7V185.8M335.5 151.6V187.6M336.5 148.6V205.4M338.5 146.4V204.5M339.5 181.1V205.0M348.5 167.9V202.2M357.5 169.0V190.8M366.5 153.4V196.7M375.5 141.4V182.5M382.5 150.6V166.9M385.5 144.8V193.7M386.5 145.5V190.4M387.5 146.7V170.7M388.5 150.2V182.1M393.5 169.6V175.0M402.5 161.2V184.6M403.5 171.3V184.3M404.5 158.0V175.5M405.5 160.1V186.5M406.5 176.6V186.9M407.5 158.5V187.8M413.5 167.8V196.1M415.5 146.7V188.0M421.5 156.2V198.4M424.5 157.3V174.3M428.5 150.5V169.4M435.5 158.9V174.6M436.5 145.2V197.6M450.5 172.0V186.6M451.5 176.1V191.6M452.5 174.2V194.2M453.5 178.8V194.4M467.5 178.5V188.5M470.5 151.3V175.5M473.5 146.6V187.8M478.5 148.2V180.1M480.5 150.8V184.3M496.5 152.6V192.8M499.5 170.9V196.2M500.5 148.0V185.1M519.5 177.3V199.3M527.5 157.8V174.3M528.5 148.0V196.4M530.5 160.1V184.9M536.5 149.4V195.7M539.5 146.3V186.5M541.5 183.4V190.5M548.5 175.6V186.1M553.5 155.7V193.1M560.5 153.6V180.6M566.5 157.5V186.3M573.5 143.9V195.8M575.5 169.4V205.7M578.5 161.9V199.0M579.5 144.9V192.8M582.5 181.9V190.5M587.5 150.9V194.3M597.5 150.1V174.5M602.5 159.4V185.7" stroke="#EDB120" stroke-opacity="0.85"/>
<path d="M31.5 159.2V186.8M34.5 181.8V183.4M45.5 156.3V182.0M58.5 158.6V194.6M65.5 154.2V203.9M67.5 155.7V194.2M85.5 163.6V186.7M86.5 173.3V181.9M87.5 164.4V182.5M89.5 164.8V180.0M93.5 161.8V183.7M94.5 173.4V184.0M98.5 160.1V188.1M99.5 157.5V185.8M102.5 177.2V188.1M112.5 171.8V186.2M116.5 169.6V199.4M117.5 171.0V201.9M118.5 149.6V168.8M122.5 158.1V187.8M124.5 180.9V185.2M128.5 160.0V185.8M136.5 174.7V186.7M145.5 167.8V186.8M159.5 164.6V174.3M166.5 151.9V187.6M179.5 153.1V168.6M188.5 174.0V179.6M212.5 174.4V178.6M214.5 157.1V166.6M215.5 173.0V192.2M216.5 171.4V186.1M217.5 138.7V166.3M226.5 170.2V195.6M232.5 141.6V177.9M233.5 163.3V190.0M237.5 158.3V186.4M241.5 166.8V181.3M242.5 161.5V169.7M245.5 175.5V179.8M250.5 167.2V174.9M253.5 163.5V170.4M258.5 184.3V197.6M263.5 165.8V174.6M282.5 167.5V182.4M286.5 160.7V185.4M300.5 172.4V193.5M308.5 154.5V184.7M311.5 165.8V194.5M317.5 160.7V190.9M324.5 182.4V204.6M332.5 173.2V198.0M342.5 155.3V178.4M350.5 153.4V206.9M351.5 145.3V194.5M376.5 158.5V181.7M378.5 156.3V199.3M380.5 159.7V195.8M384.5 163.6V194.5M414.5 175.0V193.2M420.5 152.2V172.9M430.5 163.6V178.0M437.5 140.0V195.0M438.5 156.2V183.0M440.5 156.2V176.8M444.5 152.2V192.6M446.5 157.8V170.9M448.5 164.9V181.8M455.5 159.9V187.9M466.5 165.7V192.1M474.5 145.0V193.6M482.5 146.7V165.3M485.5 153.1V178.3M488.5 158.6V193.7M490.5 177.1V199.2M507.5 169.8V191.2M508.5 175.6V196.4M509.5 156.0V195.0M522.5 162.1V182.1M525.5 164.1V197.9M533.5 160.5V196.8M534.5 151.4V190.0M544.5 178.5V194.5M545.5 177.8V184.9M564.5 160.9V169.0M571.5 147.8V178.0M577.5 143.6V196.3M592.5 145.6V202.8M595.5 184.9V198.9M607.5 161.7V173.3M608.5 153.4V194.2" stroke="#7E2F8E" stroke-opacity="0.85"/>
<path d="M26.5 152.6V178.0M36.5 159.4V188.2M39.5 158.4V187.1M43.5 160.2V175.4M46.5 164.7V174.9M47.5 177.7V184.0M76.5 149.4V197.3M80.5 155.1V192.3M81.5 158.7V184.3M95.5 160.9V175.4M103.5 145.2V180.7M105.5 154.5V195.2M106.5 150.0V192.5M109.5 163.6V179.7M111.5 180.4V189.5M131.5 174.2V178.4M137.5 150.9V199.5M143.5 174.5V184.9M149.5 161.1V171.7M150.5 158.7V177.2M155.5 165.0V181.7M161.5 157.2V172.9M165.5 174.9V187.1M170.5 164.4V183.9M174.5 159.6V183.0M186.5 163.6V175.6M199.5 173.7V183.8M204.5 172.0V186.1M208.5 170.3V185.7M221.5 147.8V173.4M230.5 179.2V193.3M234.5 170.2V180.6M236.5 161.1V190.8M264.5 159.9V169.6M273.5 171.1V189.6M274.5 163.5V197.2M279.5 160.1V177.7M285.5 173.8V188.2M288.5 167.2V186.6M290.5 173.5V186.2M294.5 165.3V195.0M295.5 155.7V201.6M298.5 152.0V192.9M301.5 170.6V201.3M306.5 152.7V197.5M310.5 154.0V175.8M315.5 162.5V194.9M319.5 158.5V200.7M321.5 160.0V179.5M325.5 175.4V199.9M327.5 150.5V191.6M331.5 153.1V185.9M349.5 141.1V205.2M353.5 178.6V203.2M355.5 145.0V180.1M359.5 145.7V177.9M365.5 166.0V186.7M381.5 167.9V188.2M389.5 153.4V169.6M396.5 160.5V193.0M408.5 169.6V189.2M412.5 150.4V190.1M423.5 159.4V193.4M427.5 156.7V191.6M431.5 153.8V184.9M434.5 178.8V191.2M442.5 152.4V190.8M443.5 153.5V195.0M461.5 158.6V190.9M465.5 165.2V172.0M471.5 152.6V165.8M472.5 149.2V177.2M483.5 169.0V190.0M486.5 160.0V167.0M495.5 152.2V187.1M520.5 155.5V191.0M537.5 170.7V182.9M540.5 148.1V176.2M546.5 161.7V175.8M552.5 161.2V186.2M561.5 169.1V179.7M562.5 172.6V187.5M567.5 163.1V193.3M569.5 175.0V189.4M570.5 154.7V181.0M572.5 170.0V184.3M580.5 161.0V192.8M589.5 148.1V162.8M601.5 163.5V164.8M605.5 151.0V192.6M606.5 170.3V193.1" stroke="#77AC30" stroke-opacity="0.85"/>
<path d="M40.5 161.7V171.2M51.5 161.6V186.8M55.5 158.4V176.7M60.5 149.8V201.3M68.5 161.4V199.0M82.5 160.5V171.2M84.5 169.4V183.9M140.5 152.1V169.3M142.5 169.2V182.6M152.5 169.0V190.2M156.5 178.6V187.0M171.5 158.9V184.6M205.5 162.2V185.3M209.5 163.2V185.5M211.5 167.7V171.4M223.5 145.3V194.8M227.5 171.5V189.9M240.5 162.3V185.0M244.5 163.5V179.2M251.5 168.1V183.0M289.5 162.8V174.8M322.5 164.9V202.3M340.5 149.3V167.0M341.5 180.5V198.6M346.5 154.2V162.4M354.5 156.5V178.2M356.5 151.7V191.5M360.5 145.0V194.0M377.5 152.7V170.2M397.5 173.2V186.0M399.5 159.6V193.1M426.5 176.5V196.5M441.5 161.1V171.4M445.5 170.9V190.1M456.5 146.5V198.1M459.5 156.0V169.6M477.5 162.3V194.4M501.5 170.4V186.1M502.5 165.8V188.1M505.5 149.5V166.3M514.5 145.3V168.9M518.5 172.1V199.5M529.5 148.5V166.5M538.5 140.1V183.5M585.5 157.6V164.2M598.5 148.5V199.6" stroke="#4DBEEE" stroke-opacity="0.85"/>
<path d="M33.5 159.0V181.2M72.5 160.3V176.5M77.5 181.9V192.2M113.5 155.6V194.7M119.5 154.0V166.3M132.5 166.1V175.0M151.5 162.8V177.7M160.5 161.2V181.7M167.5 161.3V181.8M172.5 178.0V180.7M180.5 155.3V194.9M185.5 163.6V171.1M194.5 161.9V184.9M210.5 169.2V173.7M220.5 143.7V174.9M255.5 154.5V190.1M272.5 150.4V165.8M292.5 148.4V170.6M293.5 144.9V201.3M312.5 150.9V180.3M316.5 156.8V160.6M328.5 184.3V196.6M330.5 139.7V164.0M333.5 158.3V183.7M337.5 140.3V180.6M345.5 173.8V199.1M352.5 161.5V173.8M373.5 168.6V189.4M374.5 144.9V188.7M379.5 160.4V192.7M383.5 178.9V190.2M390.5 169.3V195.8M394.5 161.6V188.7M400.5 175.8V195.8M410.5 155.6V197.0M419.5 154.2V176.5M429.5 161.6V186.3M433.5 151.7V199.7M458.5 163.7V190.3M469.5 167.4V191.9M517.5 160.5V191.8M521.5 172.2V198.2M549.5 153.5V188.2M555.5 163.0V191.9M556.5 172.5V192.4M557.5 170.7V190.5M576.5 180.1V201.2M584.5 145.1V174.1M596.5 155.5V169.1M610.5 158.2V196.4" stroke="#A2142F" stroke-opacity="0.85"/>
<path d="M29.5 160.9V190.4M35.5 158.4V188.6M39.5 160.6V187.2M44.5 161.1V174.2M48.5 168.3V179.1M53.5 177.6V188.7M54.5 163.5V183.4M63.5 150.9V197.0M70.5 167.8V209.2M71.5 148.7V206.0M75.5 157.2V164.1M100.5 163.1V182.3M121.5 168.2V197.9M130.5 160.5V184.0M141.5 160.7V179.0M145.5 159.6V172.1M149.5 158.0V179.8M151.5 166.8V176.3M156.5 162.5V183.8M158.5 158.9V188.2M164.5 167.0V194.8M176.5 172.7V184.5M177.5 161.7V186.7M186.5 166.1V168.8M190.5 158.6V183.0M201.5 160.2V177.9M211.5 165.1V184.3M219.5 177.8V184.9M225.5 141.8V184.0M229.5 150.9V169.9M234.5 152.7V172.7M238.5 162.0V171.2M240.5 173.2V186.1M249.5 173.8V179.8M261.5 163.2V181.5M267.5 165.5V198.5M269.5 183.6V199.3M272.5 162.3V170.6M286.5 167.4V179.5M288.5 178.8V184.3M289.5 165.0V178.9M291.5 163.3V173.6M293.5 164.8V200.9M305.5 157.3V169.7M317.5 156.6V198.4M326.5 145.5V192.9M327.5 174.2V191.8M342.5 155.3V177.2M344.5 189.8V197.7M348.5 160.0V175.2M350.5 144.3V196.1M356.5 151.8V181.7M360.5 157.3V197.5M364.5 156.9V168.0M368.5 146.4V166.5M379.5 152.7V174.3M383.5 147.7V160.7M384.5 150.3V172.6M394.5 159.4V187.8M403.5 159.4V181.8M406.5 177.6V187.0M409.5 150.7V198.0M412.5 164.3V183.9M414.5 155.4V199.0M421.5 146.0V186.0M426.5 180.6V201.1M428.5 162.4V167.1M440.5 161.8V188.3M441.5 158.2V167.0M449.5 158.6V175.2M454.5 162.6V167.2M458.5 160.1V186.4M460.5 158.0V177.3M466.5 158.5V186.3M467.5 166.4V191.8M469.5 162.7V193.1M476.5 168.3V191.4M491.5 161.4V183.2M492.5 175.0V186.1M500.5 173.2V199.5M501.5 175.6V198.1M513.5 150.7V190.7M514.5 176.5V186.5M524.5 169.3V191.6M528.5 147.1V193.9M533.5 173.5V194.5M537.5 149.0V178.3M542.5 179.9V195.2M543.5 173.1V196.6M548.5 154.5V191.1M549.5 140.7V184.6M558.5 163.4V169.7M559.5 162.4V179.3M563.5 159.1V189.3M567.5 151.4V182.6M570.5 156.0V167.0M574.5 166.2V198.7M588.5 154.3V189.2M590.5 164.9V199.2M592.5 145.4V201.1M597.5 176.9V190.5" stroke="#0072BD" stroke-opacity="0.85"/>
<path d="M25.5 158.8V167.4M36.5 156.5V178.1M50.5 173.8V186.6M56.5 159.6V187.2M73.5 142.6V191.0M82.5 173.1V182.9M91.5 160.2V184.6M92.5 158.9V184.2M97.5 172.2V184.6M99.5 165.4V189.6M109.5 157.9V198.5M114.5 143.5V194.1M115.5 151.5V192.2M129.5 163.7V182.8M131.5 161.4V185.6M133.5 167.1V185.4M135.5 159.2V182.3M142.5 168.0V182.9M161.5 158.1V186.5M171.5 173.5V179.9M174.5 176.5V178.2M184.5 158.6V178.0M187.5 177.5V185.6M197.5 159.9V169.6M204.5 158.5V180.7M209.5 161.1V185.8M212.5 162.8V171.3M215.5 151.8V185.1M221.5 142.4V186.5M222.5 145.1V158.2M231.5 148.5V194.1M233.5 142.3V176.7M236.5 171.5V186.0M242.5 172.3V182.2M247.5 158.6V173.7M248.5 159.1V172.6M260.5 186.1V188.0M262.5 151.9V186.7M273.5 155.0V204.6M278.5 152.3V197.3M290.5 162.8V186.0M295.5 151.6V204.6M296.5 156.4V189.1M299.5 149.4V201.0M310.5 160.5V192.2M312.5 155.3V177.2M316.5 158.1V186.8M319.5 167.7V201.1M336.5 163.2V203.3M338.5 150.3V173.0M341.5 155.3V201.0M351.5 180.2V197.0M353.5 160.4V205.2M362.5 166.0V200.1M366.5 144.9V160.7M367.5 145.2V197.5M378.5 151.1V201.2M380.5 163.7V171.6M388.5 174.6V186.5M389.5 153.5V190.5M395.5 174.5V180.7M410.5 159.9V192.8M423.5 143.6V187.1M435.5 160.6V170.0M447.5 157.6V180.3M451.5 162.3V170.9M453.5 179.9V192.7M463.5 177.1V185.0M468.5 168.1V196.2M474.5 180.5V192.1M478.5 150.6V174.8M545.5 151.0V184.4M547.5 164.7V168.2M551.5 145.7V173.0M554.5 158.7V191.6M555.5 153.2V192.2M572.5 145.9V190.8M577.5 150.3V197.8M596.5 172.4V195.8M608.5 171.8V194.5" stroke="#D95319" stroke-opacity="0.85"/>
<path d="M34.5 165.2V174.6M40.5 161.3V181.5M41.5 171.0V183.9M46.5 164.0V187.7M49.5 164.9V172.4M51.5 162.6V170.3M52.5 180.6V188.8M57.5 178.5V181.9M60.5 158.9V173.9M65.5 156.8V209.7M68.5 172.3V203.6M69.5 172.4V203.0M80.5 159.0V193.2M81.5 168.1V174.2M85.5 161.9V184.2M86.5 162.7V179.0M95.5 159.8V182.0M96.5 169.7V179.0M101.5 147.9V182.8M102.5 147.7V173.9M103.5 146.0V190.7M113.5 152.0V206.7M117.5 164.3V197.6M122.5 155.4V166.1M128.5 160.1V178.2M137.5 179.8V183.0M143.5 165.5V184.2M147.5 160.9V179.9M150.5 179.2V184.4M154.5 175.4V190.3M157.5 180.0V186.8M159.5 172.8V183.8M165.5 161.6V162.6M166.5 163.2V182.7M172.5 168.1V179.6M180.5 145.8V170.3M183.5 178.5V179.2M185.5 162.2V184.4M189.5 158.8V180.6M191.5 161.8V179.8M192.5 177.7V181.3M198.5 166.6V172.7M199.5 159.9V173.6M205.5 172.6V180.9M207.5 165.1V176.6M214.5 171.3V194.6M220.5 148.1V196.5M223.5 153.1V165.3M227.5 170.8V195.1M243.5 159.1V183.1M244.5 162.8V182.2M246.5 165.6V181.9M250.5 164.2V184.1M257.5 159.0V168.4M265.5 172.6V185.3M283.5 166.9V182.9M297.5 152.6V172.1M298.5 166.0V196.5M300.5 147.4V186.7M318.5 158.2V176.0M321.5 159.2V204.5M324.5 147.6V184.4M331.5 163.3V184.2M332.5 174.6V194.3M335.5 159.7V175.8M346.5 175.7V197.8M349.5 147.6V197.1M359.5 186.4V198.2M365.5 185.1V198.9M373.5 157.2V203.7M392.5 175.7V190.0M399.5 160.8V192.7M401.5 161.9V169.1M417.5 141.1V200.9M418.5 152.2V167.1M422.5 149.4V164.9M430.5 173.7V200.7M434.5 157.9V184.5M436.5 173.8V193.5M437.5 154.4V196.3M444.5 155.1V193.2M455.5 167.6V192.4M456.5 155.4V177.9M461.5 161.1V175.9M465.5 158.1V173.4M475.5 163.1V179.5M485.5 160.9V199.2M488.5 174.9V197.3M493.5 151.0V180.5M495.5 171.4V200.3M505.5 156.2V185.5M510.5 157.2V176.5M516.5 150.1V194.0M519.5 159.1V192.9M526.5 181.1V187.8M529.5 172.4V194.7M540.5 151.4V178.9M546.5 148.8V198.8M557.5 164.7V186.5M566.5 173.4V191.1M586.5 148.2V201.0M587.5 148.9V204.7M598.5 146.9V198.8M600.5 179.0V188.2M601.5 154.5V172.8M604.5 167.4V190.0M605.5 172.9V187.5M607.5 151.1V195.4" stroke="#EDB120" stroke-opacity="0.85"/>
<path d="M27.5 157.8V188.4M33.5 172.8V177.4M38.5 174.1V186.3M43.5 172.3V188.7M47.5 179.2V189.6M58.5 153.9V178.1M59.5 174.3V196.8M66.5 151.8V178.8M78.5 147.3V164.9M84.5 165.6V174.4M98.5 158.8V171.6M106.5 168.3V192.4M111.5 154.2V174.4M120.5 173.6V195.5M125.5 156.5V174.6M132.5 161.4V172.3M136.5 164.1V172.7M140.5 163.1V166.6M175.5 171.2V179.9M178.5 146.5V195.1M179.5 147.3V173.0M200.5 158.7V183.1M202.5 158.6V186.3M203.5 179.1V181.7M213.5 157.2V189.7M239.5 168.8V181.5M241.5 166.8V179.3M251.5 177.4V182.4M252.5 174.6V186.7M253.5 167.0V179.9M255.5 171.8V185.9M263.5 143.3V173.2M264.5 149.1V181.7M268.5 156.2V172.8M275.5 159.9V189.6M279.5 173.9V194.5M287.5 162.7V180.8M301.5 163.8V186.4M306.5 146.7V201.2M307.5 166.5V198.1M309.5 163.7V188.1M313.5 146.2V161.9M315.5 143.1V180.2M320.5 182.2V198.6M325.5 143.0V189.3M329.5 157.4V200.2M330.5 148.6V163.3M345.5 140.4V171.8M358.5 142.4V200.2M371.5 162.5V194.0M377.5 142.2V176.6M382.5 147.9V199.1M387.5 167.9V183.6M391.5 151.9V166.1M393.5 154.2V186.1M398.5 159.3V192.9M402.5 161.5V178.0M413.5 150.1V197.3M415.5 155.6V176.5M419.5 147.2V185.5M425.5 142.7V176.1M427.5 152.8V163.9M433.5 150.1V176.8M439.5 147.0V197.3M442.5 153.5V194.8M445.5 172.0V181.4M448.5 164.7V177.6M457.5 166.0V176.4M459.5 170.8V194.1M471.5 152.0V182.1M473.5 159.9V184.8M483.5 171.5V192.8M486.5 152.5V198.1M490.5 153.8V191.5M496.5 171.9V198.7M503.5 174.0V185.5M506.5 173.6V195.4M509.5 162.8V171.8M511.5 156.7V194.0M517.5 162.7V188.2M518.5 152.8V174.9M539.5 146.5V189.3M550.5 152.8V171.4M560.5 164.5V184.1M568.5 150.7V178.8M578.5 173.3V203.3M579.5 156.0V165.6M584.5 179.0V184.2M589.5 171.7V197.3M599.5 140.8V182.8M603.5 150.0V192.7M606.5 161.3V182.3M609.5 158.0V196.9" stroke="#7E2F8E" stroke-opacity="0.85"/>
<path d="M31.5 158.3V178.6M32.5 172.6V179.8M45.5 159.2V194.2M55.5 160.3V170.6M61.5 148.1V199.6M64.5 158.2V174.1M67.5 158.0V198.0M72.5 169.4V190.4M74.5 173.8V188.1M83.5 168.1V185.4M87.5 167.0V173.0M88.5 160.2V188.1M104.5 144.7V190.7M105.5 178.2V182.1M107.5 150.2V195.0M116.5 165.8V195.4M123.5 154.6V193.2M124.5 168.3V185.3M126.5 165.9V179.3M138.5 161.8V169.5M144.5 159.8V181.2M148.5 178.4V182.8M152.5 145.9V192.1M153.5 151.3V193.3M155.5 179.6V181.4M160.5 161.0V186.6M167.5 179.7V195.0M168.5 168.7V176.2M169.5 159.9V176.9M182.5 178.4V181.2M193.5 152.3V188.3M194.5 170.2V183.0M195.5 144.3V176.0M196.5 156.4V175.3M217.5 154.4V179.9M218.5 144.8V170.3M228.5 150.1V168.5M232.5 133.0V192.6M254.5 159.0V189.7M256.5 165.5V186.7M270.5 161.4V191.7M271.5 166.9V185.5M281.5 158.8V179.3M282.5 170.3V182.6M292.5 177.4V189.4M294.5 159.3V200.9M302.5 144.7V198.9M303.5 151.6V168.3M308.5 158.3V182.2M311.5 153.3V168.2M314.5 176.4V206.5M323.5 147.6V190.9M339.5 172.0V198.4M340.5 152.2V166.1M347.5 158.3V186.2M361.5 160.4V176.4M363.5 146.8V172.7M370.5 152.6V197.8M376.5 150.2V179.7M396.5 159.1V174.9M404.5 161.9V179.3M407.5 159.2V179.1M411.5 160.0V184.4M416.5 146.1V166.8M424.5 142.2V186.8M432.5 158.8V178.4M438.5 152.8V187.7M443.5 160.0V188.5M450.5 162.6V181.2M452.5 171.0V193.0M462.5 175.0V177.9M464.5 162.0V172.4M470.5 162.1V195.1M472.5 165.5V184.1M477.5 154.9V170.3M482.5 158.3V197.6M484.5 175.2V189.9M487.5 163.4V191.4M489.5 171.5V183.9M494.5 147.3V171.0M497.5 180.8V198.1M502.5 169.1V198.7M508.5 159.4V188.9M521.5 151.0V189.0M523.5 184.5V198.9M527.5 184.5V201.2M530.5 147.6V169.2M531.5 165.5V203.4M532.5 144.7V205.5M534.5 166.7V190.3M538.5 145.7V179.1M541.5 147.2V182.3M544.5 175.3V188.5M556.5 155.2V180.2M573.5 142.3V192.4M580.5 144.4V197.4M583.5 145.8V193.7M585.5 151.4V193.5M593.5 158.9V167.3M595.5 154.4V182.0M602.5 148.9V194.1" stroke="#77AC30" stroke-opacity="0.85"/>
<path d="M26.5 172.4V185.1M37.5 164.7V174.3M77.5 153.8V177.5M79.5 168.8V191.1M89.5 161.4V185.0M93.5 159.4V180.9M94.5 161.6V184.1M108.5 153.5V190.9M112.5 157.8V203.6M118.5 185.0V187.5M119.5 155.2V194.6M127.5 170.8V178.1M134.5 165.9V176.0M162.5 169.5V185.1M170.5 166.3V182.2M173.5 165.8V181.5M181.5 147.2V184.6M210.5 161.3V182.0M224.5 148.0V194.5M226.5 144.7V177.5M230.5 150.1V176.0M235.5 161.8V165.6M245.5 165.8V185.9M259.5 171.6V199.0M266.5 150.7V182.8M280.5 176.2V184.1M284.5 160.7V173.9M285.5 159.4V168.5M328.5 138.9V175.4M333.5 168.3V176.1M337.5 149.4V194.7M352.5 148.4V187.3M357.5 148.4V174.7M372.5 140.9V199.3M374.5 158.1V197.4M375.5 160.0V199.9M381.5 147.8V186.2M385.5 144.2V201.4M390.5 158.0V175.0M400.5 159.3V188.4M429.5 150.2V184.0M431.5 157.8V174.0M446.5 159.4V174.9M480.5 153.3V173.4M481.5 147.5V163.1M499.5 154.3V196.5M504.5 154.6V196.5M507.5 149.0V186.0M520.5 157.4V192.1M535.5 158.8V188.7M536.5 150.9V197.3M552.5 145.7V170.2M562.5 165.2V183.6M564.5 155.3V184.6M565.5 153.5V189.2M571.5 167.4V187.7M575.5 153.7V188.1M576.5 173.4V197.4M582.5 166.7V192.4M591.5 152.7V164.0M594.5 164.7V184.9M610.5 154.2V186.4" stroke="#4DBEEE" stroke-opacity="0.85"/>
<path d="M28.5 150.5V181.4M30.5 162.0V174.9M42.5 162.4V185.9M62.5 177.9V199.7M76.5 150.7V199.8M90.5 169.6V178.8M110.5 157.1V208.9M139.5 171.6V186.7M146.5 162.4V180.6M163.5 173.1V184.6M188.5 159.9V177.0M206.5 163.0V186.4M208.5 171.9V182.7M237.5 167.5V176.7M258.5 158.2V184.8M274.5 162.2V175.6M276.5 181.3V188.1M277.5 161.7V194.7M304.5 150.7V193.0M322.5 152.1V201.4M334.5 155.0V175.3M343.5 142.5V196.6M354.5 147.4V200.4M369.5 139.9V187.0M386.5 156.2V189.2M397.5 158.9V175.0M405.5 163.3V178.0M408.5 168.7V192.1M420.5 154.4V195.3M498.5 146.2V182.2M515.5 170.5V185.6M522.5 153.1V199.0M525.5 157.8V165.7M553.5 179.9V183.5M569.5 139.2V194.5" stroke="#A2142F" stroke-opacity="0.85"/>
<path d="M29.5 151.8V191.6M31.5 165.2V175.5M39.5 166.6V182.9M40.5 163.6V170.0M43.5 160.6V169.6M56.5 163.0V182.8M80.5 166.7V188.9M91.5 164.6V171.8M93.5 161.4V173.6M94.5 172.4V176.6M105.5 152.1V179.2M109.5 149.5V172.0M118.5 152.5V196.0M123.5 154.0V182.7M126.5 154.5V177.7M130.5 172.4V178.9M140.5 160.2V176.9M160.5 159.4V185.3M166.5 142.6V179.2M171.5 159.3V183.0M181.5 163.2V195.8M204.5 170.8V181.7M213.5 165.8V186.2M217.5 153.5V188.5M221.5 147.3V200.0M229.5 177.9V187.7M232.5 156.6V164.6M242.5 158.6V173.7M245.5 165.9V186.4M250.5 162.3V175.8M255.5 158.7V200.5M259.5 157.6V163.9M263.5 161.8V191.3M264.5 147.4V181.5M270.5 152.1V201.7M300.5 154.3V178.3M302.5 153.2V187.7M306.5 174.6V199.7M312.5 172.1V182.6M325.5 151.9V163.9M326.5 180.9V185.5M328.5 147.5V163.3M354.5 145.9V192.9M356.5 153.1V193.8M362.5 156.3V180.5M365.5 164.9V182.6M366.5 151.9V178.3M375.5 148.7V191.4M389.5 155.7V172.8M392.5 160.6V178.6M395.5 162.0V187.1M404.5 167.5V189.8M407.5 156.1V196.1M408.5 160.3V187.0M409.5 172.1V193.5M416.5 183.4V194.4M420.5 144.3V180.7M424.5 171.1V189.0M429.5 157.2V201.1M435.5 142.4V166.1M437.5 182.9V190.9M444.5 163.9V192.6M464.5 164.3V173.2M465.5 161.2V183.1M468.5 174.9V191.1M470.5 177.3V183.1M472.5 157.2V169.0M484.5 175.8V194.3M487.5 171.3V186.3M493.5 172.7V190.0M498.5 171.2V191.3M518.5 150.4V188.9M534.5 139.8V191.4M546.5 159.1V195.8M548.5 154.1V176.4M556.5 152.2V179.2M560.5 171.0V187.0M561.5 162.3V179.8M565.5 159.2V191.4M566.5 167.2V186.2M567.5 154.8V194.7M569.5 158.5V174.7M578.5 158.3V190.7M579.5 182.3V198.5M580.5 143.2V190.2M584.5 157.2V203.3M592.5 146.7V175.1M598.5 156.0V194.4M604.5 153.7V182.6M606.5 170.1V188.9M610.5 169.9V186.9" stroke="#0072BD" stroke-opacity="0.85"/>
<path d="M32.5 174.8V178.7M36.5 172.8V189.7M45.5 159.3V169.3M49.5 175.1V188.8M55.5 168.2V184.1M59.5 146.5V195.2M65.5 143.8V185.7M66.5 154.6V182.5M68.5 150.6V174.2M73.5 143.5V186.5M76.5 159.5V191.4M77.5 147.2V194.7M79.5 167.3V187.2M82.5 172.1V182.8M87.5 171.4V178.7M102.5 159.2V170.6M106.5 152.2V198.7M107.5 152.3V169.9M116.5 146.8V182.0M117.5 168.9V195.8M127.5 166.7V174.1M157.5 162.8V173.4M159.5 162.7V184.0M173.5 166.8V178.0M186.5 172.0V185.7M189.5 164.5V169.3M190.5 163.5V187.3M192.5 163.7V189.1M194.5 145.4V187.4M206.5 160.6V173.4M215.5 160.3V194.1M220.5 154.2V183.2M223.5 146.7V191.2M230.5 173.2V196.0M231.5 145.8V199.1M233.5 180.1V201.6M238.5 155.4V176.2M240.5 165.2V176.4M244.5 164.8V176.0M246.5 175.8V185.7M258.5 153.8V180.6M266.5 152.7V195.4M272.5 173.4V195.0M273.5 155.6V196.5M279.5 164.1V195.9M293.5 153.3V198.4M295.5 178.1V198.0M304.5 150.5V194.1M311.5 156.7V186.2M323.5 146.0V175.7M324.5 152.4V188.7M335.5 157.8V195.6M361.5 144.3V169.7M369.5 163.6V192.4M376.5 156.0V198.9M410.5 154.7V191.9M414.5 172.2V199.3M425.5 170.0V184.0M432.5 153.6V197.1M434.5 178.8V195.5M438.5 162.2V183.0M443.5 158.9V195.3M447.5 164.9V191.8M448.5 170.3V191.8M450.5 167.9V172.2M461.5 155.1V197.0M462.5 162.1V188.3M469.5 154.5V176.0M480.5 147.9V175.1M486.5 145.0V171.7M495.5 182.2V185.0M502.5 148.2V183.5M504.5 157.8V188.0M512.5 153.3V189.6M514.5 156.9V186.2M516.5 176.0V195.8M517.5 172.6V190.3M519.5 154.0V197.9M520.5 178.4V196.0M522.5 154.6V202.5M528.5 169.9V195.4M529.5 162.1V189.6M533.5 143.7V192.9M547.5 184.6V186.2M558.5 160.7V171.9M562.5 159.9V172.3M564.5 154.7V191.0M570.5 148.6V194.6M571.5 170.0V204.2M573.5 160.1V185.7M574.5 159.1V174.4M593.5 153.0V165.1M595.5 173.1V198.2M601.5 147.6V192.9M605.5 162.0V174.2" stroke="#D95319" stroke-opacity="0.85"/>
<path d="M30.5 153.2V194.3M33.5 155.3V181.5M37.5 163.1V174.3M47.5 176.9V192.0M58.5 155.5V182.6M60.5 171.5V190.7M67.5 145.9V182.6M72.5 153.9V169.2M84.5 164.3V175.8M95.5 164.3V174.6M100.5 160.2V173.5M104.5 159.4V174.9M110.5 159.5V195.7M121.5 168.0V184.3M131.5 170.9V181.5M132.5 166.1V175.2M137.5 154.0V191.1M139.5 170.0V198.4M158.5 158.4V180.7M170.5 161.8V177.9M175.5 161.7V184.5M176.5 172.3V182.7M178.5 153.8V181.1M180.5 182.4V188.5M200.5 166.4V186.8M208.5 162.9V184.0M209.5 159.4V181.5M210.5 159.6V183.3M212.5 160.7V183.5M216.5 150.3V171.8M227.5 149.2V204.3M234.5 165.2V184.8M236.5 167.9V192.2M248.5 174.7V181.3M288.5 160.7V178.9M289.5 160.0V178.4M294.5 166.9V199.9M309.5 145.6V179.0M317.5 149.9V167.3M329.5 154.3V194.7M330.5 146.5V176.1M345.5 152.5V180.8M349.5 155.1V203.5M351.5 148.3V170.9M357.5 148.6V202.4M358.5 142.0V200.0M364.5 178.2V186.5M367.5 151.1V191.5M368.5 155.6V166.6M372.5 171.7V191.9M374.5 146.5V196.7M378.5 146.2V174.3M379.5 164.6V203.0M383.5 169.6V196.6M387.5 178.8V194.0M401.5 160.3V182.9M422.5 178.1V193.8M431.5 149.0V191.2M433.5 185.4V188.1M442.5 154.5V166.7M451.5 158.5V176.2M454.5 161.6V189.4M457.5 165.8V190.5M458.5 171.6V181.2M463.5 156.8V187.4M467.5 178.4V195.1M471.5 168.1V190.9M479.5 164.3V194.3M481.5 179.4V196.2M494.5 176.2V195.4M500.5 166.6V178.8M508.5 156.8V178.3M509.5 158.3V167.3M510.5 169.4V190.7M521.5 152.9V176.9M524.5 183.3V186.8M532.5 145.8V178.8M535.5 150.8V175.1M537.5 153.2V175.6M539.5 151.3V181.7M542.5 176.6V200.4M544.5 164.1V176.6M551.5 154.4V185.6M552.5 175.8V185.8M563.5 156.1V189.4M568.5 184.7V199.4M572.5 150.5V167.5M577.5 184.4V205.8M585.5 155.9V169.3M589.5 156.8V188.2M591.5 156.8V204.2M596.5 147.9V177.1M600.5 169.4V196.1M602.5 151.0V193.1M603.5 186.1V195.8" stroke="#EDB120" stroke-opacity="0.85"/>
<path d="M25.5 162.0V189.4M26.5 150.4V190.2M46.5 166.2V186.3M51.5 159.2V169.7M61.5 164.0V195.8M62.5 147.1V176.3M75.5 146.2V197.4M78.5 171.2V195.0M86.5 158.6V184.3M90.5 160.6V172.8M92.5 169.0V177.9M96.5 163.7V184.8M101.5 150.9V196.5M108.5 146.7V174.0M113.5 146.4V167.6M114.5 155.4V177.1M115.5 149.6V170.1M120.5 166.0V193.6M124.5 155.8V172.1M128.5 164.8V183.2M133.5 165.0V184.9M143.5 167.5V189.4M144.5 159.1V173.8M151.5 160.7V174.6M152.5 155.2V188.0M153.5 163.7V177.3M162.5 171.4V187.5M164.5 138.0V175.6M165.5 175.7V181.8M168.5 175.3V179.4M174.5 160.9V182.9M182.5 163.7V182.1M183.5 165.3V169.7M201.5 161.6V186.1M207.5 157.4V185.7M214.5 154.5V176.6M218.5 175.8V190.2M224.5 154.3V177.2M226.5 160.1V200.9M235.5 152.4V183.5M237.5 172.8V186.4M239.5 155.5V182.0M247.5 174.9V186.2M249.5 160.0V185.8M252.5 157.6V170.2M256.5 150.1V186.6M260.5 162.9V202.8M261.5 149.2V209.8M267.5 152.7V202.8M274.5 166.7V184.7M281.5 159.4V178.6M291.5 152.0V175.8M292.5 188.8V199.5M301.5 153.1V181.3M305.5 163.2V199.3M316.5 148.2V168.4M321.5 156.2V179.1M322.5 153.4V200.2M327.5 171.5V188.0M331.5 168.5V186.9M334.5 148.7V187.6M336.5 159.2V177.6M340.5 145.6V199.7M348.5 143.3V194.5M353.5 160.7V168.8M355.5 140.6V165.7M359.5 141.7V162.7M360.5 181.4V204.4M363.5 146.0V199.3M370.5 148.8V174.5M380.5 150.0V181.0M386.5 152.8V194.7M391.5 177.9V193.3M394.5 157.0V182.5M397.5 173.8V185.5M403.5 161.3V190.7M405.5 160.6V175.7M412.5 163.5V178.4M421.5 141.4V197.5M427.5 154.9V193.6M449.5 167.4V191.2M452.5 170.0V188.6M453.5 167.5V177.9M466.5 171.8V193.2M478.5 147.5V177.8M499.5 171.8V195.0M503.5 168.6V188.1M507.5 157.5V196.0M515.5 162.2V176.0M525.5 171.1V196.8M527.5 154.3V174.7M549.5 146.2V174.0M582.5 146.8V202.6M583.5 164.2V206.1M590.5 147.6V199.9M609.5 150.9V176.0" stroke="#7E2F8E" stroke-opacity="0.85"/>
<path d="M28.5 158.1V192.6M35.5 176.7V187.4M38.5 170.1V188.5M42.5 161.1V189.1M48.5 172.0V189.5M52.5 178.7V182.4M53.5 178.3V183.0M63.5 178.0V198.7M81.5 158.2V169.7M85.5 173.6V175.9M89.5 166.6V185.6M98.5 156.3V185.6M112.5 151.9V174.3M119.5 157.9V192.1M129.5 162.5V183.7M134.5 163.4V172.2M136.5 166.1V183.1M145.5 175.8V188.3M146.5 159.8V180.9M148.5 174.2V183.3M149.5 164.4V173.1M156.5 165.2V176.0M161.5 156.3V187.3M163.5 164.8V183.1M177.5 174.9V182.5M185.5 170.3V180.3M187.5 171.6V187.1M195.5 164.2V196.3M198.5 157.9V182.2M211.5 170.5V185.6M219.5 152.6V170.2M225.5 151.6V188.0M262.5 175.1V205.4M269.5 154.9V188.4M276.5 149.7V175.7M280.5 158.6V194.8M285.5 162.5V178.9M286.5 162.7V185.1M290.5 158.8V175.8M297.5 177.1V199.0M307.5 159.4V195.7M308.5 156.9V193.6M313.5 154.4V179.6M318.5 145.1V178.5M333.5 175.8V194.5M337.5 143.6V174.1M338.5 153.2V164.3M342.5 153.6V178.8M346.5 173.7V192.8M377.5 158.8V164.0M381.5 157.9V169.7M384.5 179.7V192.6M385.5 167.0V178.3M388.5 166.1V175.0M390.5 177.7V193.8M393.5 171.0V179.4M398.5 157.0V186.0M399.5 164.2V175.9M400.5 166.3V181.1M402.5 173.2V183.0M406.5 175.6V191.4M411.5 151.6V191.5M413.5 160.5V170.8M417.5 148.8V194.5M419.5 159.5V187.5M423.5 171.6V199.5M426.5 178.4V192.7M428.5 152.0V193.1M441.5 164.1V197.2M445.5 159.3V188.7M456.5 180.6V181.9M459.5 165.2V185.6M460.5 156.5V191.1M474.5 176.7V193.5M477.5 152.6V168.1M485.5 142.3V179.5M489.5 146.9V190.3M491.5 174.4V197.4M496.5 151.5V169.4M511.5 158.6V182.8M523.5 149.1V167.4M536.5 164.6V190.0M545.5 166.7V191.9M550.5 152.9V184.0M553.5 153.0V194.4M554.5 169.5V197.6M575.5 147.8V179.4M576.5 144.4V168.5M581.5 147.2V195.0M586.5 162.9V199.5M587.5 175.2V203.1M594.5 150.3V188.0M599.5 148.2V193.0" stroke="#77AC30" stroke-opacity="0.85"/>
<path d="M27.5 156.3V165.9M34.5 160.6V178.9M44.5 165.8V190.7M50.5 163.4V185.6M54.5 166.2V182.9M69.5 147.0V180.0M70.5 161.9V190.8M83.5 172.8V183.5M88.5 162.1V175.4M99.5 177.1V186.6M122.5 150.7V185.8M125.5 156.8V181.1M135.5 160.3V181.4M138.5 177.5V198.6M141.5 175.7V184.4M147.5 176.4V180.0M154.5 152.7V190.8M167.5 171.6V193.5M172.5 159.1V182.3M179.5 145.6V181.8M184.5 174.5V181.6M188.5 165.7V187.4M191.5 164.2V185.9M193.5 145.1V172.4M196.5 153.2V179.2M199.5 164.8V175.3M203.5 162.0V168.2M222.5 150.1V204.5M228.5 187.6V204.0M241.5 179.4V183.0M253.5 172.2V188.7M257.5 145.8V192.5M265.5 186.4V193.4M268.5 149.1V193.6M271.5 145.9V200.3M277.5 156.9V190.9M278.5 156.7V190.9M283.5 167.2V176.6M287.5 170.4V181.4M296.5 169.8V190.9M299.5 179.6V199.9M344.5 145.4V193.8M373.5 139.8V192.4M418.5 150.9V167.9M436.5 150.3V171.6M439.5 168.8V198.4M440.5 148.1V195.6M455.5 156.8V182.8M483.5 174.2V193.3M488.5 168.4V197.8M513.5 158.8V197.4M526.5 147.7V198.9M530.5 148.2V175.9M543.5 174.2V194.9M555.5 151.6V196.8M557.5 169.4V183.3M559.5 162.7V172.9M588.5 160.2V178.5M597.5 155.5V166.5M608.5 173.7V182.9" stroke="#4DBEEE" stroke-opacity="0.85"/>
<path d="M41.5 166.3V188.2M57.5 161.7V178.8M64.5 155.4V183.7M71.5 154.8V200.3M74.5 176.1V189.9M97.5 168.3V188.0M103.5 169.0V190.3M111.5 184.5V196.5M142.5 165.4V167.6M155.5 173.8V180.3M169.5 161.9V178.1M197.5 157.7V183.5M202.5 163.8V170.3M205.5 162.0V183.6M243.5 157.7V172.8M251.5 159.6V183.7M254.5 165.7V177.8M275.5 151.4V185.0M282.5 162.3V186.3M284.5 161.9V186.2M298.5 164.7V200.1M303.5 157.0V183.6M310.5 160.7V188.5M314.5 171.9V200.9M315.5 148.8V185.3M319.5 146.1V173.0M320.5 165.2V195.3M332.5 143.9V199.7M339.5 171.9V198.7M341.5 179.6V204.8M347.5 157.0V175.0M350.5 146.8V204.6M371.5 161.8V190.8M396.5 177.4V192.3M415.5 145.1V187.1M430.5 148.7V201.0M446.5 164.4V189.6M475.5 159.4V180.2M476.5 154.4V187.0M482.5 154.1V200.1M490.5 155.0V165.8M492.5 183.3V188.3M497.5 146.5V197.7M501.5 156.3V195.0M505.5 175.1V198.4M506.5 146.3V185.2M531.5 165.4V184.2M538.5 143.6V183.7M540.5 149.9V192.4M541.5 152.4V195.2M607.5 170.2V189.2" stroke="#A2142F" stroke-opacity="0.85"/>
<path d="M27.5 160.6V189.8M28.5 180.1V188.4M37.5 164.1V185.5M46.5 168.5V181.9M54.5 169.8V183.3M58.5 162.8V189.6M72.5 143.1V196.6M77.5 154.1V193.0M83.5 161.0V180.9M92.5 159.7V169.1M95.5 167.1V182.7M98.5 159.9V173.9M99.5 178.2V189.1M103.5 173.8V196.9M110.5 157.6V172.0M111.5 170.1V203.0M126.5 175.6V185.5M128.5 160.3V186.2M129.5 171.7V188.8M137.5 147.8V203.5M140.5 168.9V184.8M143.5 169.6V179.2M146.5 180.6V185.2M152.5 143.0V188.1M155.5 175.2V181.0M159.5 175.5V185.6M160.5 164.6V182.1M175.5 164.9V184.5M177.5 178.3V180.0M186.5 167.3V184.4M188.5 170.3V178.6M192.5 177.5V186.7M197.5 160.5V176.9M199.5 165.6V183.1M206.5 159.0V174.7M208.5 168.0V183.2M217.5 141.7V192.4M233.5 167.5V195.1M239.5 155.0V187.0M245.5 157.1V174.9M252.5 169.8V186.7M253.5 166.1V175.3M265.5 145.0V191.2M268.5 143.3V198.6M272.5 173.8V193.0M273.5 144.2V191.9M275.5 180.6V194.0M283.5 166.9V178.7M286.5 164.8V168.4M288.5 170.7V187.9M294.5 153.7V196.8M297.5 162.1V190.2M302.5 149.8V178.1M306.5 150.8V167.8M307.5 165.0V190.6M311.5 171.5V192.5M319.5 146.3V178.6M321.5 180.5V198.5M324.5 156.8V168.6M335.5 182.3V199.9M340.5 167.7V188.3M343.5 142.5V163.4M346.5 150.4V188.1M347.5 156.3V171.4M364.5 155.9V169.5M371.5 142.9V162.9M375.5 155.6V199.6M380.5 178.4V186.3M382.5 165.0V203.2M390.5 171.9V185.0M396.5 155.7V171.1M399.5 180.9V189.3M427.5 143.5V185.1M436.5 157.2V179.3M438.5 155.8V188.5M440.5 146.9V198.8M450.5 164.9V190.4M462.5 156.6V178.2M466.5 152.9V192.2M475.5 156.7V173.4M480.5 154.8V170.3M491.5 149.5V197.9M499.5 172.0V195.3M501.5 148.7V196.7M512.5 155.1V187.4M513.5 153.4V186.4M516.5 158.1V191.8M533.5 162.1V191.9M537.5 157.2V179.3M539.5 149.8V192.5M579.5 139.6V194.0M587.5 181.7V206.1M601.5 152.9V186.4M602.5 154.9V194.5M605.5 155.3V197.8" stroke="#0072BD" stroke-opacity="0.85"/>
<path d="M34.5 183.2V192.0M38.5 178.2V186.2M39.5 178.4V186.9M40.5 173.6V185.9M43.5 163.8V169.9M48.5 172.1V187.6M57.5 166.1V183.8M60.5 153.9V189.0M74.5 154.5V177.4M81.5 168.3V172.9M86.5 172.1V184.2M88.5 161.6V174.4M91.5 162.0V181.5M97.5 161.6V168.8M125.5 160.6V175.6M145.5 160.0V171.2M147.5 156.9V179.1M153.5 147.9V166.6M165.5 157.2V177.3M170.5 168.7V174.7M183.5 165.4V174.9M195.5 147.7V170.0M224.5 174.7V194.1M228.5 148.3V201.4M229.5 150.0V165.1M241.5 154.2V168.3M243.5 164.4V173.4M256.5 158.6V175.4M269.5 145.5V186.7M271.5 153.5V179.8M278.5 146.9V181.9M310.5 152.3V176.2M320.5 143.0V193.1M330.5 156.2V193.4M334.5 149.2V193.6M344.5 170.0V189.0M349.5 167.7V198.9M350.5 171.4V200.7M381.5 166.3V190.4M385.5 172.0V195.1M386.5 154.0V171.2M398.5 171.9V188.3M400.5 156.3V183.6M405.5 163.4V172.8M406.5 158.3V178.2M414.5 184.5V202.0M416.5 143.8V189.5M420.5 163.5V193.5M422.5 156.0V181.3M426.5 147.7V194.2M429.5 157.1V186.3M431.5 149.4V185.9M435.5 177.8V185.8M437.5 166.4V196.4M441.5 160.9V194.0M451.5 178.3V192.4M452.5 164.1V167.5M455.5 156.3V175.7M464.5 161.1V168.0M470.5 158.1V195.6M484.5 171.0V196.4M487.5 156.5V177.9M498.5 154.9V165.2M502.5 144.6V166.5M515.5 156.1V193.7M517.5 153.3V192.4M520.5 186.2V188.0M526.5 157.6V178.8M544.5 162.0V186.1M553.5 152.9V165.7M566.5 156.5V181.7M576.5 160.4V202.6M583.5 149.8V176.7M584.5 165.3V194.6M585.5 170.7V200.2M594.5 174.3V188.5M599.5 150.2V200.8M600.5 146.8V169.9M606.5 165.5V172.4M609.5 170.3V188.4" stroke="#D95319" stroke-opacity="0.85"/>
<path d="M44.5 173.5V191.2M50.5 169.4V187.2M61.5 156.8V190.5M62.5 186.7V191.6M64.5 146.0V189.2M73.5 156.8V170.8M85.5 168.0V185.5M89.5 170.8V185.4M109.5 155.7V181.3M112.5 182.0V193.4M116.5 156.6V200.4M122.5 160.7V171.5M127.5 168.4V184.4M135.5 161.2V187.2M149.5 171.9V179.8M156.5 170.0V178.6M158.5 174.5V184.8M162.5 160.2V173.7M164.5 157.5V168.8M181.5 155.6V189.1M184.5 174.9V182.3M187.5 171.0V183.0M193.5 148.7V190.6M203.5 166.3V171.1M205.5 171.3V184.3M215.5 161.7V191.6M223.5 147.5V188.5M231.5 147.3V178.9M235.5 149.0V168.7M242.5 160.8V166.6M246.5 169.2V178.4M249.5 162.4V169.4M259.5 163.0V203.2M264.5 175.0V197.4M282.5 166.9V183.8M285.5 167.2V175.1M287.5 162.5V177.7M290.5 173.1V186.8M295.5 143.5V194.9M313.5 156.5V201.4M317.5 171.4V191.2M322.5 176.0V200.6M325.5 147.5V199.2M327.5 146.4V197.5M333.5 163.1V197.8M341.5 163.8V193.8M342.5 174.6V193.9M345.5 151.4V196.2M354.5 148.5V170.4M356.5 147.3V167.2M359.5 168.7V188.9M361.5 148.1V194.9M388.5 148.7V184.1M393.5 158.2V188.5M397.5 155.3V180.2M410.5 174.9V182.0M412.5 153.1V180.7M413.5 164.7V198.3M417.5 179.1V191.4M424.5 178.1V193.5M443.5 161.9V193.8M445.5 162.5V192.8M447.5 159.7V182.8M448.5 157.0V183.4M459.5 174.9V187.0M468.5 167.2V186.8M472.5 151.2V191.7M474.5 161.0V172.2M477.5 153.2V172.0M483.5 168.3V189.5M486.5 158.9V197.5M503.5 158.0V172.1M505.5 159.7V193.1M511.5 158.2V198.0M518.5 152.4V198.3M524.5 173.8V199.7M530.5 171.6V182.1M534.5 172.2V184.5M535.5 148.8V190.0M551.5 148.1V165.7M558.5 173.0V184.3M561.5 157.8V186.6M562.5 154.2V170.6M564.5 171.2V179.0M565.5 159.8V173.8M578.5 161.3V198.0M580.5 140.9V201.3M607.5 180.3V188.0M610.5 165.7V190.8" stroke="#EDB120" stroke-opacity="0.85"/>
<path d="M31.5 154.8V166.9M47.5 167.8V186.5M52.5 180.8V186.0M59.5 180.3V197.5M69.5 180.9V191.6M80.5 171.9V184.1M82.5 165.1V182.5M84.5 165.5V177.1M115.5 161.8V199.9M130.5 169.0V181.0M134.5 164.7V182.1M139.5 162.6V189.7M141.5 163.2V180.1M142.5 164.2V179.1M150.5 166.6V181.1M161.5 174.3V180.2M163.5 176.1V183.6M167.5 152.3V186.2M169.5 168.4V186.6M185.5 165.9V177.6M196.5 159.7V175.2M200.5 171.6V183.2M210.5 159.5V186.6M211.5 162.8V174.2M221.5 163.9V174.6M225.5 149.4V176.4M244.5 161.5V171.6M247.5 164.1V174.2M257.5 152.9V167.4M262.5 153.9V176.3M270.5 143.8V185.5M276.5 143.0V188.4M277.5 146.1V201.0M298.5 173.4V200.0M300.5 177.0V191.0M304.5 160.0V187.2M308.5 169.1V194.6M309.5 170.9V196.7M323.5 169.6V194.5M328.5 157.0V168.8M332.5 157.7V177.6M336.5 149.8V167.9M337.5 170.5V198.4M338.5 177.9V186.8M339.5 170.3V186.6M358.5 180.0V191.0M365.5 146.4V202.5M366.5 154.1V166.3M373.5 158.9V191.2M379.5 176.1V200.7M383.5 160.0V164.2M389.5 173.5V186.1M402.5 176.7V187.1M403.5 156.9V188.4M408.5 155.7V189.3M411.5 147.3V190.6M418.5 165.8V201.7M428.5 149.8V167.5M465.5 171.4V183.1M467.5 175.1V184.9M479.5 158.9V182.3M481.5 141.2V172.8M488.5 148.5V183.8M489.5 162.7V185.6M492.5 158.7V201.9M494.5 186.6V191.8M495.5 157.7V199.8M497.5 173.6V187.4M504.5 154.2V185.2M508.5 149.8V191.9M510.5 150.8V197.4M514.5 149.8V174.1M519.5 146.4V203.2M521.5 152.5V191.4M523.5 162.8V188.6M527.5 146.9V168.2M529.5 169.3V190.5M531.5 162.3V191.4M538.5 160.2V189.4M543.5 158.2V175.2M546.5 152.0V173.8M548.5 158.8V186.7M549.5 158.0V176.4M554.5 150.3V177.8M555.5 176.3V192.1M556.5 176.8V180.6M559.5 162.3V172.3M569.5 150.6V201.9M570.5 145.0V176.5M573.5 162.6V187.1M575.5 147.8V201.3M581.5 162.4V202.1M591.5 146.9V181.2M596.5 170.4V201.3M604.5 159.6V197.5M608.5 153.2V194.2" stroke="#7E2F8E" stroke-opacity="0.85"/>
<path d="M25.5 159.0V187.0M26.5 150.8V186.9M29.5 172.0V184.9M30.5 150.6V187.5M32.5 159.9V192.2M45.5 164.5V177.9M49.5 175.6V185.6M56.5 170.1V179.8M68.5 171.6V193.0M75.5 159.4V188.9M79.5 159.3V176.2M90.5 160.7V181.5M93.5 160.4V184.9M94.5 161.6V186.2M100.5 147.5V193.1M101.5 169.0V197.4M107.5 158.1V179.4M108.5 159.3V204.9M114.5 162.9V200.6M118.5 164.7V190.0M119.5 155.5V185.9M121.5 175.6V186.4M123.5 162.4V169.9M131.5 157.2V183.4M132.5 157.3V168.9M133.5 173.6V182.9M144.5 164.6V181.0M154.5 162.0V182.2M157.5 166.5V178.7M172.5 163.1V184.8M173.5 169.4V184.3M174.5 168.8V180.5M178.5 174.0V177.8M179.5 160.1V177.9M180.5 160.8V178.3M182.5 167.6V179.7M194.5 166.2V186.7M198.5 171.4V183.6M202.5 158.7V186.3M204.5 173.1V187.5M212.5 170.5V187.0M220.5 154.2V196.6M222.5 152.3V197.3M227.5 168.9V195.6M230.5 142.7V173.0M236.5 168.5V181.7M238.5 155.1V178.9M250.5 162.3V182.7M251.5 175.8V182.7M263.5 154.1V191.9M266.5 186.4V191.8M267.5 150.5V195.7M281.5 160.5V182.0M284.5 177.3V184.8M289.5 168.6V185.7M292.5 177.7V188.4M293.5 152.8V189.0M299.5 154.6V190.1M312.5 158.3V187.5M316.5 153.7V186.0M326.5 175.8V196.2M331.5 153.2V169.8M348.5 179.5V185.9M352.5 153.9V197.5M353.5 154.9V184.8M357.5 153.8V200.8M360.5 160.9V176.2M368.5 183.4V194.7M369.5 150.0V185.1M372.5 151.9V188.8M374.5 179.0V197.3M377.5 141.6V194.9M387.5 147.7V191.4M391.5 174.7V182.6M392.5 156.6V191.7M394.5 165.0V179.4M395.5 158.2V189.3M401.5 173.1V188.0M425.5 163.8V202.7M430.5 161.9V168.5M433.5 181.1V201.3M434.5 154.0V196.6M439.5 161.9V194.7M444.5 163.2V193.1M446.5 159.8V168.1M454.5 160.4V180.6M456.5 149.3V185.3M461.5 170.7V180.8M463.5 174.8V189.2M469.5 161.0V175.6M473.5 151.4V173.1M485.5 159.5V182.0M490.5 152.7V189.2M507.5 154.2V200.1M522.5 154.8V178.3M528.5 161.4V199.3M532.5 158.4V165.1M536.5 147.1V175.2M540.5 146.4V200.4M541.5 180.2V194.7M542.5 163.2V185.1M547.5 180.4V187.6M552.5 176.6V182.6M557.5 176.8V177.7M563.5 156.0V182.2M567.5 175.2V190.6M568.5 159.5V172.1M571.5 155.0V205.1M582.5 148.5V171.8M589.5 146.1V173.5M597.5 176.1V198.0M598.5 154.1V200.8" stroke="#77AC30" stroke-opacity="0.85"/>
<path d="M33.5 154.8V185.6M41.5 162.9V178.7M42.5 170.9V184.7M67.5 154.2V202.1M71.5 147.5V160.5M76.5 148.2V197.7M78.5 153.3V176.0M87.5 171.6V183.0M102.5 171.4V191.1M104.5 179.2V195.3M105.5 156.8V194.8M106.5 152.7V181.1M113.5 147.9V176.8M148.5 174.0V184.0M151.5 159.7V185.1M166.5 153.6V191.0M189.5 165.1V180.2M190.5 172.0V188.6M201.5 176.3V185.1M214.5 165.2V186.3M218.5 173.4V183.3M237.5 161.2V185.6M254.5 161.1V196.1M255.5 158.5V171.9M260.5 153.9V179.7M261.5 154.6V182.7M274.5 151.0V181.9M301.5 150.6V172.1M303.5 148.2V194.5M305.5 156.8V174.7M314.5 179.7V204.2M315.5 149.4V194.5M318.5 149.6V193.3M362.5 150.3V193.0M370.5 151.1V197.0M376.5 149.1V196.0M404.5 164.1V184.7M409.5 151.9V187.9M419.5 149.8V196.3M449.5 160.1V170.5M458.5 162.9V173.3M460.5 159.1V173.5M471.5 148.6V169.7M476.5 148.9V196.4M482.5 159.7V178.9M493.5 170.3V200.5M500.5 155.1V182.6M506.5 154.5V198.1M525.5 177.5V198.0M550.5 182.2V185.1M560.5 179.8V186.8M577.5 155.6V207.4M586.5 158.5V183.9M595.5 155.7V192.9" stroke="#4DBEEE" stroke-opacity="0.85"/>
<path d="M35.5 173.1V193.1M36.5 160.6V186.4M51.5 175.3V187.1M53.5 171.2V184.1M63.5 147.5V166.0M65.5 151.9V173.0M66.5 145.2V175.0M70.5 145.4V167.8M96.5 165.3V184.6M117.5 162.2V167.4M120.5 168.6V193.3M124.5 168.6V186.1M136.5 161.4V182.3M138.5 151.6V195.0M168.5 168.5V175.9M171.5 165.9V180.1M176.5 158.7V179.3M191.5 163.5V172.1M209.5 156.4V172.1M213.5 180.0V184.0M216.5 178.4V198.5M219.5 163.9V192.2M226.5 150.0V192.0M232.5 139.4V178.4M234.5 157.3V184.8M240.5 182.7V186.5M248.5 170.1V180.3M279.5 179.2V184.7M280.5 162.6V179.4M291.5 148.2V167.8M296.5 160.9V177.1M329.5 144.9V194.0M351.5 168.9V197.3M355.5 186.4V194.0M363.5 165.1V199.0M367.5 158.7V167.8M378.5 138.2V159.9M384.5 156.8V178.3M407.5 159.7V179.5M421.5 177.6V191.3M423.5 185.5V194.5M432.5 169.3V195.1M442.5 153.9V178.3M453.5 162.8V177.5M457.5 152.8V192.4M478.5 157.6V178.9M496.5 162.0V187.9M509.5 157.2V165.4M545.5 170.6V201.8M572.5 152.7V166.4M574.5 152.6V176.9M588.5 155.3V176.1M590.5 177.9V198.3M592.5 170.9V197.5M603.5 151.3V196.6" stroke="#A2142F" stroke-opacity="0.85"/>
<path d="M25.5 168.2V175.9M26.5 160.8V175.6M27.5 167.8V179.0M28.5 168.9V178.3M29.5 168.8V182.7M30.5 161.9V177.3M31.5 164.2V183.6M32.5 166.3V180.3M33.5 163.7V179.6M34.5 165.2V182.2M35.5 160.9V183.2M36.5 167.3V176.3M37.5 156.9V169.5M38.5 180.4V184.1M39.5 160.8V167.8M40.5 168.1V180.4M41.5 166.7V176.1M42.5 169.1V176.7M43.5 164.1V170.2M44.5 161.9V195.9M45.5 171.1V186.2M46.5 171.7V174.7M47.5 171.3V178.7M48.5 172.6V177.4M49.5 167.2V177.7M50.5 167.1V178.0M51.5 172.0V181.0M52.5 171.4V175.8M53.5 167.2V177.4M54.5 165.4V178.5M55.5 171.0V180.8M56.5 167.1V182.5M57.5 167.5V175.4M58.5 151.9V166.7M59.5 171.7V184.9M60.5 155.7V161.7M61.5 167.7V192.2M62.5 170.4V180.4M63.5 158.3V192.5M64.5 165.5V175.3M65.5 169.3V180.1M66.5 161.4V186.7M67.5 158.9V178.9M68.5 156.0V190.7M69.5 156.6V183.4M70.5 173.4V182.8M71.5 154.5V178.9M72.5 178.8V195.1M73.5 167.8V183.2M74.5 171.9V187.1M75.5 166.2V188.4M76.5 155.1V190.7M77.5 157.6V178.7M78.5 175.7V179.2M79.5 171.7V178.0M80.5 165.1V175.9M81.5 163.1V174.8M82.5 168.2V175.5M83.5 167.7V175.9M84.5 168.9V175.1M85.5 162.1V167.9M86.5 166.2V169.5M87.5 171.6V178.6M88.5 170.3V179.3M89.5 165.1V181.4M90.5 166.3V175.4M91.5 179.2V180.4M92.5 181.6V183.2M93.5 169.7V180.0M94.5 166.3V177.1M95.5 168.8V175.1M96.5 168.7V180.8M97.5 171.4V175.8M98.5 159.3V165.2M99.5 171.2V184.1M100.5 168.1V177.0M101.5 182.2V196.5M102.5 169.6V178.0M103.5 167.2V178.0M104.5 170.4V176.8M105.5 171.6V182.4M106.5 156.6V167.1M107.5 163.9V190.9M108.5 157.4V186.8M109.5 187.8V192.5M110.5 185.6V188.8M111.5 170.4V185.9M112.5 167.3V183.3M113.5 164.2V181.8M114.5 168.2V179.9M115.5 160.5V193.2M116.5 162.5V177.0M117.5 155.1V186.9M118.5 162.7V173.4M119.5 172.7V177.1M120.5 166.9V180.7M121.5 164.8V191.1M122.5 169.1V173.7M123.5 163.1V182.1M124.5 162.1V181.9M125.5 163.2V179.8M126.5 173.4V181.4M127.5 168.5V179.2M128.5 171.5V182.2M129.5 170.8V174.5M130.5 160.3V168.9M131.5 167.3V181.6M132.5 168.5V172.1M133.5 170.8V177.6M134.5 165.7V172.5M135.5 170.8V176.1M136.5 164.4V176.1M137.5 160.4V184.4M138.5 153.2V193.9M139.5 160.9V196.3M140.5 158.4V187.7M141.5 163.8V167.8M142.5 172.2V177.9M143.5 170.8V177.0M144.5 180.1V180.8M145.5 164.7V180.9M146.5 165.2V177.7M147.5 173.0V175.4M148.5 171.9V181.0M149.5 167.0V176.0M150.5 177.2V182.1M151.5 163.7V178.5M152.5 180.3V185.4M153.5 146.8V165.3M154.5 159.9V195.7M155.5 166.7V174.8M156.5 165.6V180.8M157.5 164.6V178.4M158.5 164.7V178.0M159.5 173.4V176.0M160.5 162.8V169.3M161.5 166.3V175.6M162.5 170.3V179.1M163.5 167.1V172.7M164.5 148.3V195.5M165.5 185.9V194.4M166.5 166.1V186.4M167.5 151.0V195.1M168.5 173.2V176.8M169.5 171.6V178.6M170.5 172.2V175.4M171.5 167.6V179.3M172.5 166.8V174.7M173.5 167.1V179.5M174.5 166.7V175.5M175.5 166.9V173.9M176.5 168.9V175.1M177.5 173.4V181.0M178.5 152.0V181.5M179.5 168.1V177.1M180.5 154.6V188.3M181.5 159.3V195.5M182.5 164.7V178.0M183.5 162.4V167.4M184.5 164.7V176.1M185.5 168.8V173.6M186.5 168.6V176.8M187.5 168.3V177.7M188.5 163.4V169.7M189.5 167.6V177.7M190.5 169.7V176.1M191.5 164.9V177.5M192.5 171.3V178.6M193.5 156.0V190.2M194.5 159.7V169.4M195.5 167.4V187.1M196.5 157.7V180.3M197.5 165.8V173.5M198.5 167.3V182.5M199.5 171.2V179.9M200.5 169.4V181.8M201.5 168.3V181.5M202.5 170.4V181.7M203.5 169.5V178.1M204.5 171.7V176.5M205.5 170.2V179.8M206.5 167.8V178.8M207.5 171.8V180.1M208.5 167.9V175.4M209.5 166.5V174.5M210.5 166.0V179.9M211.5 167.9V175.3M212.5 172.7V178.5M213.5 171.2V174.7M214.5 170.4V181.6M215.5 168.9V187.2M216.5 160.4V174.9M217.5 161.7V178.8M218.5 168.0V192.2M219.5 163.9V177.5M220.5 175.8V183.5M221.5 155.8V183.1M222.5 155.1V184.9M223.5 151.8V180.8M224.5 167.8V174.8M225.5 163.1V194.2M226.5 166.4V191.2M227.5 166.5V191.3M228.5 180.2V199.1M229.5 159.4V188.9M230.5 157.4V184.3M231.5 156.3V190.1M232.5 141.9V196.7M233.5 168.4V189.3M234.5 155.6V182.1M235.5 161.3V182.5M236.5 167.3V177.8M237.5 178.8V187.5M238.5 156.9V169.5M239.5 161.5V168.1M240.5 172.7V179.8M241.5 169.7V175.1M242.5 169.8V175.4M243.5 167.7V177.1M244.5 170.4V174.3M245.5 170.6V177.1M246.5 172.3V179.8M247.5 169.2V179.2M248.5 167.2V175.1M249.5 165.7V174.4M250.5 168.3V176.2M251.5 165.9V177.0M252.5 166.1V178.7M253.5 159.7V165.9M254.5 161.7V182.9M255.5 158.6V181.5M256.5 155.5V186.9M257.5 163.2V194.0M258.5 169.4V189.8M259.5 170.6V176.5M260.5 177.1V196.8M261.5 159.3V192.8M262.5 165.6V179.6M263.5 158.7V188.6M264.5 163.2V174.6M265.5 160.5V177.5M266.5 164.2V187.5M267.5 161.3V193.3M268.5 161.5V190.9M269.5 163.3V189.1M270.5 156.9V162.5M271.5 169.4V189.5M272.5 157.1V167.1M273.5 168.2V181.5M274.5 155.4V192.5M275.5 154.6V186.3M276.5 157.2V180.2M277.5 166.7V170.5M278.5 171.7V192.2M279.5 169.3V185.6M280.5 163.5V179.9M281.5 177.2V184.5M282.5 167.3V182.1M283.5 168.5V179.2M284.5 165.5V180.1M285.5 173.1V174.5M286.5 166.2V178.8M287.5 176.5V180.2M288.5 170.2V181.0M289.5 176.2V184.8M290.5 171.5V178.8M291.5 161.3V177.8M292.5 164.3V174.3M293.5 157.5V161.6M294.5 164.0V177.6M295.5 152.8V189.4M296.5 185.1V198.9M297.5 159.4V165.6M298.5 160.4V179.8M299.5 161.8V171.7M300.5 172.1V192.0M301.5 152.5V164.6M302.5 171.4V182.8M303.5 156.3V180.6M304.5 179.8V193.1M305.5 165.7V179.5M306.5 166.8V189.0M307.5 161.4V174.6M308.5 162.1V176.5M309.5 166.9V185.0M310.5 160.4V188.8M311.5 166.1V186.4M312.5 157.9V185.3M313.5 180.4V197.5M314.5 161.7V179.0M315.5 171.0V177.3M316.5 167.6V181.2M317.5 168.5V178.1M318.5 163.0V190.8M319.5 163.5V192.7M320.5 173.5V188.9M321.5 162.8V164.8M322.5 153.8V188.3M323.5 187.4V190.9M324.5 159.3V170.0M325.5 157.8V181.8M326.5 163.8V178.3M327.5 168.3V192.6M328.5 159.5V177.2M329.5 165.7V191.3M330.5 157.1V193.5M331.5 164.9V176.6M332.5 181.0V187.8M333.5 155.2V177.4M334.5 164.6V189.6M335.5 154.1V184.2M336.5 170.2V187.5M337.5 161.0V191.0M338.5 169.2V180.5M339.5 164.3V182.4M340.5 157.1V182.3M341.5 172.5V188.4M342.5 166.0V186.1M343.5 159.9V187.7M344.5 172.2V184.0M345.5 165.9V175.1M346.5 168.4V194.4M347.5 174.5V183.4M348.5 153.2V159.1M349.5 173.1V185.9M350.5 174.0V192.2M351.5 164.5V175.2M352.5 179.4V189.5M353.5 166.4V179.4M354.5 154.0V172.1M355.5 155.5V189.8M356.5 180.1V185.7M357.5 153.1V173.1M358.5 163.7V186.0M359.5 161.7V181.4M360.5 166.6V194.0M361.5 153.2V192.5M362.5 153.5V178.6M363.5 181.3V195.6M364.5 169.7V177.8M365.5 162.1V194.0M366.5 160.2V175.2M367.5 169.0V179.6M368.5 163.2V178.3M369.5 161.2V177.4M370.5 176.6V193.6M371.5 167.1V186.7M372.5 151.7V167.9M373.5 169.5V176.6M374.5 178.0V187.0M375.5 162.2V185.9M376.5 154.0V188.2M377.5 156.3V177.4M378.5 164.1V181.1M379.5 160.9V179.9M380.5 157.2V164.4M381.5 165.5V178.4M382.5 162.2V170.4M383.5 154.4V186.2M384.5 165.1V176.1M385.5 158.1V193.4M386.5 165.0V191.7M387.5 155.1V193.0M388.5 156.8V180.4M389.5 172.8V181.7M390.5 177.5V191.4M391.5 167.8V188.6M392.5 166.8V185.7M393.5 168.7V184.6M394.5 171.1V184.4M395.5 164.1V176.1M396.5 168.0V175.7M397.5 166.4V178.9M398.5 162.4V182.8M399.5 170.1V184.1M400.5 169.6V180.6M401.5 167.8V182.7M402.5 174.6V182.2M403.5 170.0V178.7M404.5 181.1V185.3M405.5 168.8V177.1M406.5 163.0V166.8M407.5 168.0V181.9M408.5 163.8V172.6M409.5 163.1V191.7M410.5 160.9V165.0M411.5 162.1V182.1M412.5 177.0V181.0M413.5 169.5V179.8M414.5 171.0V184.8M415.5 170.1V183.5M416.5 156.2V187.9M417.5 179.7V190.9M418.5 160.8V176.6M419.5 160.8V182.4M420.5 151.4V160.8M421.5 171.2V177.0M422.5 155.0V178.6M423.5 164.5V183.6M424.5 167.2V176.1M425.5 169.2V187.6M426.5 162.4V177.9M427.5 169.3V180.3M428.5 168.9V191.2M429.5 153.3V191.5M430.5 172.5V185.8M431.5 165.0V192.2M432.5 165.8V193.2M433.5 156.9V175.2M434.5 156.4V167.2M435.5 149.7V165.9M436.5 165.5V181.7M437.5 166.6V187.1M438.5 165.3V190.2M439.5 171.3V182.2M440.5 170.1V185.1M441.5 167.3V177.7M442.5 166.5V184.1M443.5 162.0V181.7M444.5 165.3V186.5M445.5 176.0V180.3M446.5 168.4V180.1M447.5 180.7V185.4M448.5 172.4V182.2M449.5 170.4V182.4M450.5 168.6V182.7M451.5 170.8V178.7M452.5 174.9V178.4M453.5 178.7V183.9M454.5 165.9V171.9M455.5 165.0V177.1M456.5 155.5V187.1M457.5 144.7V193.8M458.5 173.1V183.8M459.5 167.9V178.5M460.5 169.3V174.2M461.5 166.0V179.0M462.5 163.2V181.2M463.5 165.7V174.7M464.5 169.5V184.5M465.5 165.6V171.4M466.5 161.2V174.0M467.5 167.8V179.1M468.5 168.9V174.9M469.5 160.1V184.7M470.5 158.6V188.8M471.5 166.0V188.6M472.5 165.6V189.4M473.5 164.6V183.6M474.5 155.7V162.0M475.5 169.5V188.1M476.5 160.8V182.4M477.5 165.1V172.9M478.5 156.5V182.1M479.5 157.0V175.6M480.5 158.6V190.3M481.5 158.0V171.6M482.5 158.7V172.8M483.5 161.5V180.0M484.5 161.6V174.9M485.5 159.9V186.9M486.5 180.8V196.1M487.5 159.8V186.0M488.5 157.4V177.3M489.5 170.0V186.4M490.5 166.0V179.6M491.5 162.5V183.3M492.5 157.6V187.5M493.5 160.6V190.8M494.5 162.9V175.7M495.5 181.1V197.3M496.5 161.7V177.9M497.5 164.2V172.6M498.5 156.2V171.4M499.5 162.4V188.3M500.5 170.0V184.5M501.5 161.0V166.7M502.5 156.8V185.5M503.5 167.6V179.6M504.5 162.3V182.9M505.5 175.4V181.8M506.5 167.8V178.5M507.5 167.7V184.8M508.5 161.5V174.2M509.5 168.8V174.7M510.5 171.1V186.5M511.5 172.9V184.1M512.5 164.0V175.1M513.5 166.7V186.8M514.5 155.0V174.8M515.5 172.5V184.8M516.5 169.4V177.6M517.5 169.1V173.6M518.5 165.4V181.8M519.5 155.4V188.1M520.5 171.8V187.6M521.5 181.5V185.0M522.5 154.8V176.3M523.5 160.1V181.6M524.5 172.0V177.8M525.5 165.2V174.9M526.5 179.6V186.5M527.5 153.2V174.5M528.5 162.5V185.7M529.5 152.6V171.2M530.5 169.4V174.4M531.5 151.8V196.8M532.5 142.2V198.9M533.5 160.5V184.4M534.5 167.8V178.5M535.5 169.4V182.1M536.5 156.1V184.2M537.5 177.5V183.1M538.5 159.9V175.0M539.5 155.5V163.0M540.5 172.0V188.8M541.5 162.4V182.4M542.5 157.6V171.5M543.5 164.0V183.9M544.5 162.7V164.5M545.5 163.6V184.4M546.5 151.2V167.7M547.5 166.8V177.1M548.5 170.3V180.7M549.5 152.2V165.7M550.5 160.4V182.6M551.5 162.7V185.0M552.5 156.3V168.9M553.5 168.3V179.0M554.5 168.8V182.6M555.5 168.7V178.2M556.5 159.8V175.3M557.5 166.0V170.1M558.5 171.8V178.8M559.5 166.6V174.5M560.5 174.3V176.4M561.5 161.8V178.5M562.5 162.6V176.6M563.5 165.8V183.2M564.5 170.0V179.9M565.5 162.6V175.2M566.5 164.2V185.3M567.5 167.1V190.0M568.5 166.1V192.0M569.5 159.4V186.2M570.5 160.7V183.8M571.5 179.9V196.9M572.5 164.0V178.9M573.5 161.2V181.4M574.5 161.9V194.0M575.5 158.8V188.7M576.5 167.8V181.4M577.5 167.6V189.3M578.5 154.2V165.4M579.5 159.0V190.4M580.5 156.3V184.3M581.5 155.0V190.2M582.5 163.0V175.8M583.5 157.2V195.0M584.5 164.6V169.9M585.5 169.9V192.4M586.5 161.6V178.4M587.5 171.5V194.3M588.5 159.4V191.3M589.5 168.6V182.9M590.5 159.0V178.8M591.5 172.3V179.7M592.5 155.4V181.1M593.5 152.3V189.8M594.5 156.7V183.8M595.5 158.2V180.1M596.5 160.1V192.0M597.5 184.0V188.8M598.5 164.4V183.9M599.5 183.6V191.6M600.5 166.4V186.7M601.5 173.8V179.2M602.5 156.2V183.3M603.5 161.7V181.9M604.5 171.7V177.7M605.5 168.7V182.9M606.5 162.8V181.0M607.5 170.1V177.3M608.5 162.8V175.8M609.5 161.9V168.0M610.5 165.5V178.4" stroke="#4DBEEE"/>
</g>
<path d="M58 50.8H129" stroke="#4DBEEE" stroke-width="0.9"/>
</g>
<path d="M24.0 332.7 25.6 331.8 27.2 332.6 28.8 332.2 30.4 331.7 31.9 330.1 33.5 328.0 35.0 327.0 36.5 326.1 37.9 324.7 39.3 322.7 40.8 321.2 42.3 320.7 43.9 319.7 45.5 318.7 47.0 319.2 48.6 321.0 50.2 323.3 51.8 328.2 53.3 332.7 54.9 331.3 56.5 331.7 58.5 336.9 60.0 337.3 61.4 336.4 62.9 336.4 64.3 336.0 65.8 336.9 67.5 331.0 69.0 324.4 71.0 333.8 73.0 336.3 75.0 336.9 76.5 337.2 78.0 336.5 79.6 335.4 81.2 332.7 82.6 330.5 84.0 326.9 85.4 325.4 86.8 324.0 88.2 323.3 89.6 322.3 91.2 327.8 92.7 334.8 94.3 336.8 96.0 337.0 97.7 336.7 99.4 336.3 101.1 337.3 102.8 336.2 104.5 337.3 106.2 337.0 107.8 332.0 109.4 326.5 111.0 331.0 112.5 335.8 114.2 336.3 116.0 337.0 117.5 336.3 119.0 335.1 120.4 334.5 121.9 333.8 123.3 328.6 124.6 323.8 126.0 320.2 127.6 322.5 129.2 323.3 131.2 330.6 132.7 326.4 134.2 323.3 135.9 326.7 137.7 328.3 139.4 331.7 141.1 331.9 142.9 331.1 144.6 329.6 146.0 329.4 147.4 328.7 148.8 327.5 150.5 326.3 152.2 325.2 154.0 323.3 156.0 322.0 158.0 322.3 159.6 320.2 161.2 318.1 163.3 324.4 164.9 327.7 166.5 329.6 168.1 329.5 169.6 330.6 171.1 332.5 172.7 332.7 174.2 332.4 175.8 330.6 177.2 329.1 178.6 327.6 180.0 326.5 181.6 323.8 183.1 321.2 184.7 320.5 186.2 320.2 187.8 321.7 189.4 321.2 190.2 325.4 191.9 326.2 193.7 326.5 195.4 328.5 197.1 328.8 198.9 331.1 200.6 331.7 202.2 333.7 203.8 333.8 205.2 332.7 206.6 331.6 208.0 330.6 210.0 331.3 212.0 331.7 213.4 332.9 214.8 332.5 216.2 333.8 217.6 333.3 219.0 332.5 220.4 331.7 221.8 331.2 223.2 329.7 224.6 329.6 226.1 326.8 227.7 325.4 229.2 327.7 230.8 330.6 232.2 332.2 233.6 331.7 235.0 332.7 236.4 332.6 237.8 331.6 239.2 331.7 240.6 331.2 241.9 331.5 243.3 332.7 245.3 331.2 247.3 328.5 248.7 330.5 250.1 331.0 251.5 332.7 252.9 332.7 254.2 332.4 255.6 331.7 257.0 331.4 258.4 330.5 259.8 328.5 261.2 329.4 262.6 331.6 264.0 331.7 265.7 331.9 267.5 330.5 269.2 329.6 270.6 331.1 271.9 331.0 273.3 331.7 274.7 331.5 276.1 331.2 277.5 331.7 278.9 332.1 280.3 330.3 281.7 330.6 283.1 330.1 284.4 331.9 285.8 331.7 287.2 332.2 288.6 331.7 290.0 331.7 291.6 333.9 293.1 334.8 294.7 332.4 296.2 331.7 297.8 331.2 299.4 331.7 301.4 331.3 303.3 331.7 304.7 332.6 306.1 333.1 307.5 334.8 308.9 332.9 310.3 332.4 311.7 331.7 313.2 330.4 314.8 327.5 316.2 325.7 317.6 322.5 319.0 319.2 321.0 325.4 322.0 332.7 324.2 321.2 326.2 319.2 328.3 325.4 329.7 326.1 331.1 326.3 332.5 327.5 333.9 329.1 335.3 329.0 336.7 329.6 338.2 331.1 339.8 331.7 341.4 328.2 342.9 326.5 344.3 323.8 345.7 323.0 347.1 320.2 348.6 319.7 350.2 318.1 351.8 320.4 353.3 321.2 354.8 324.1 356.2 326.5 357.6 327.4 359.0 328.7 360.4 329.6 361.8 329.9 363.2 328.5 364.6 328.5 366.0 329.6 367.4 330.2 368.8 331.7 370.1 330.8 371.5 327.9 372.9 327.5 374.4 324.7 376.0 321.2 377.4 321.8 378.8 319.6 380.2 320.2 382.3 325.4 384.4 336.9 386.5 325.4 388.5 319.2 390.1 321.4 391.7 323.3 393.2 326.7 394.8 329.6 396.2 331.3 397.6 331.8 399.0 332.7 400.5 331.7 402.0 331.7 403.4 332.2 404.8 334.0 406.2 333.8 408.1 332.7 409.7 332.5 411.2 330.6 412.8 330.9 414.4 332.7 415.9 330.3 417.5 329.6 419.1 328.2 420.6 328.5 422.2 325.0 423.8 323.3 425.8 319.2 427.9 320.2 429.6 318.1 431.7 325.4 433.4 326.8 435.2 328.5 436.6 328.8 438.0 331.4 439.4 331.7 440.8 332.0 442.1 331.0 443.5 331.7 444.9 332.1 446.3 332.0 447.7 332.7 449.1 333.7 450.5 334.2 451.9 335.8 453.3 334.4 454.6 333.8 456.0 333.8 457.5 330.6 459.0 328.0 460.7 327.3 462.4 325.8 464.7 323.5 465.9 327.7 467.1 331.7 468.9 329.0 470.6 328.2 473.0 332.9 474.8 329.8 476.5 325.8 478.2 328.3 480.0 329.4 481.8 330.5 483.6 330.6 485.4 330.6 487.2 329.4 488.9 329.0 490.7 330.6 492.4 329.3 494.2 328.2 495.8 325.6 497.3 324.7 499.7 330.6 501.1 331.7 502.5 331.7 504.2 327.0 506.0 323.5 507.8 322.2 509.6 320.0 511.4 321.3 513.1 323.5 514.9 323.3 516.7 322.3 518.5 322.3 520.3 324.9 522.1 328.2 524.4 331.7 526.2 330.2 528.0 330.6 529.6 329.6 531.1 328.6 532.7 328.2 534.3 329.0 535.8 327.8 537.4 328.2 539.0 328.6 540.6 329.1 542.2 329.4 544.0 329.1 545.7 327.0 547.5 325.0 549.2 324.7 550.8 323.7 552.3 322.3 553.7 324.1 555.1 325.8 556.9 327.5 558.7 328.2 560.2 326.2 561.8 322.3 563.2 323.7 564.6 325.8 566.0 329.1 567.4 331.7 569.1 330.0 570.9 328.2 572.6 329.5 574.4 330.6 576.2 328.5 578.0 328.2 579.8 330.6 581.5 331.7 583.3 330.9 585.1 328.2 587.4 330.6 589.8 327.0 591.0 326.1 592.2 325.8 594.5 320.0 596.9 321.1 599.2 325.8 601.6 328.2 604.0 330.6 606.3 332.9 607.5 333.7 608.7 335.3" fill="none" stroke="#1414E6" stroke-width="1.7" stroke-linejoin="round"/>
<path d="M24.0 326.5 24.8 333.2 25.5 331.0 26.4 336.8 27.3 335.8 28.0 338.2 28.8 335.9 29.5 331.0 30.5 333.4 31.5 326.5 32.2 328.1 32.9 314.0 33.6 316.8 34.3 316.3 35.0 298.3 35.6 321.5 36.2 321.0 37.1 329.5 37.9 324.6 38.8 319.0 39.5 326.9 40.2 327.2 41.0 325.0 42.0 329.7 43.0 316.0 44.0 329.6 45.0 327.0 46.0 326.5 47.0 318.0 48.0 332.2 49.0 328.0 50.0 332.6 51.0 320.0 51.8 331.3 52.5 334.1 53.3 333.8 54.0 334.2 54.8 331.9 55.5 327.0 56.5 329.6 57.5 319.0 58.5 320.2 59.5 310.0 60.2 315.8 61.0 314.5 61.7 302.5 62.4 307.6 63.0 296.0 63.9 305.5 64.8 281.7 65.5 303.5 66.2 312.6 66.9 296.0 67.7 307.6 68.6 305.9 69.4 280.0 70.3 306.1 71.1 314.2 72.0 306.7 72.8 315.6 73.5 300.0 74.3 312.4 75.2 303.5 75.8 323.3 76.5 310.0 77.3 322.7 78.1 301.5 79.2 319.2 80.1 328.2 81.0 316.0 81.8 327.3 82.5 325.9 83.3 321.2 84.2 325.4 85.0 318.0 85.8 328.1 86.5 327.5 87.5 332.7 88.2 332.6 89.0 327.0 89.8 332.6 90.6 324.4 91.4 328.9 92.2 330.5 93.0 320.0 93.9 325.5 94.9 328.5 95.8 315.0 96.5 327.3 97.3 321.8 98.0 318.0 99.0 320.2 100.0 308.0 101.0 322.2 102.0 304.6 103.0 317.4 104.0 307.0 104.8 321.6 105.5 313.4 106.2 298.3 107.1 306.0 108.0 295.0 108.8 309.7 109.5 288.0 110.2 306.8 110.8 278.5 111.7 297.7 112.5 285.8 113.5 292.0 114.6 298.3 115.5 308.2 116.5 300.0 117.2 312.9 118.0 320.9 118.8 304.6 119.6 321.2 120.5 310.0 121.3 318.4 122.1 320.8 122.9 315.0 123.7 322.1 124.5 318.0 125.2 326.8 126.0 327.5 126.8 334.8 127.6 333.6 128.4 336.0 129.2 333.8 129.9 332.8 130.6 327.4 131.2 317.0 132.0 316.0 133.1 333.8 133.8 334.4 134.5 328.3 135.2 319.2 135.9 329.2 136.6 327.6 137.3 325.4 138.0 318.6 138.8 291.0 139.4 309.0 140.0 305.6 140.8 321.0 141.5 321.2 142.5 329.6 143.5 316.0 144.2 329.2 144.9 328.9 145.6 327.5 146.3 332.6 147.0 327.1 147.7 319.2 148.4 328.7 149.1 333.3 149.8 329.6 150.5 330.9 151.2 323.7 151.9 312.9 152.6 323.1 153.3 310.4 154.0 293.8 155.0 321.2 156.0 327.6 157.0 323.3 157.8 329.6 158.5 318.0 159.3 328.3 160.2 327.5 161.0 330.1 161.8 327.4 162.5 325.8 163.3 319.2 164.1 321.2 165.0 311.0 165.8 291.0 166.7 312.8 167.5 302.5 168.2 318.5 168.9 323.6 169.6 321.2 170.3 331.8 171.0 330.1 171.7 325.4 172.5 330.6 173.2 331.4 174.0 326.6 174.8 320.2 175.5 321.6 176.2 324.5 176.9 305.6 177.7 319.7 178.4 312.1 179.2 309.9 180.0 297.9 181.0 320.5 182.0 315.0 182.7 330.1 183.5 329.1 184.2 329.6 185.0 334.2 185.8 332.4 186.5 329.3 187.3 319.2 188.0 327.8 188.7 327.5 189.4 325.4 190.3 325.1 191.2 316.0 192.1 324.2 192.9 312.3 193.8 295.2 194.4 318.0 195.0 310.8 195.8 313.9 196.5 297.3 197.2 322.5 197.9 319.2 198.8 329.5 199.6 325.4 200.3 331.7 201.0 332.8 201.7 331.7 202.4 337.0 203.1 336.2 203.8 335.8 204.4 335.6 205.1 334.7 205.8 327.5 206.5 334.9 207.3 334.9 208.0 331.7 209.0 333.2 210.0 327.5 210.8 334.1 211.6 330.5 212.3 329.2 213.1 325.4 213.8 327.9 214.5 326.9 215.2 317.0 215.9 317.8 216.6 314.5 217.3 300.4 218.0 314.0 218.7 317.6 219.4 306.7 220.1 309.7 220.8 307.9 221.5 287.9 222.5 308.3 223.5 277.5 224.2 313.8 225.0 302.5 225.9 314.0 226.8 311.4 227.7 287.9 228.4 310.9 229.1 309.8 229.8 306.7 230.5 311.4 231.2 308.9 231.9 298.3 232.6 320.4 233.3 321.2 234.0 312.9 235.0 329.9 236.0 325.4 236.7 327.6 237.4 330.0 238.1 321.2 238.8 329.6 239.5 332.3 240.2 327.5 240.9 330.7 241.6 333.2 242.3 323.3 243.0 329.6 243.7 333.7 244.4 331.7 245.3 332.6 246.2 320.2 246.9 330.7 247.6 330.3 248.3 323.3 249.0 331.7 249.7 333.0 250.4 327.5 251.1 334.0 251.8 330.9 252.5 325.4 253.2 329.4 253.9 328.3 254.6 312.9 255.3 326.9 256.0 324.8 256.7 319.2 257.4 326.3 258.1 324.4 258.8 306.7 259.4 319.5 260.1 320.4 260.8 308.8 261.5 315.6 262.2 315.0 262.9 296.2 263.6 309.6 264.3 298.6 265.0 282.7 265.9 305.2 266.7 285.8 267.4 313.4 268.1 292.0 268.8 316.4 269.5 317.5 270.2 306.7 270.9 316.2 271.6 318.9 272.3 302.5 273.0 319.5 273.7 321.6 274.4 317.0 275.1 329.0 275.8 325.7 276.5 323.3 277.5 332.3 278.5 327.5 279.3 330.1 280.1 332.3 280.9 331.4 281.7 325.4 282.5 330.2 283.2 332.8 284.0 332.2 284.8 327.5 285.6 332.9 286.4 334.1 287.1 330.9 287.9 326.5 288.7 329.4 289.4 330.5 290.2 332.2 291.0 325.4 291.7 328.6 292.4 327.4 293.1 321.2 293.9 325.3 294.6 302.5 295.3 322.2 296.0 318.0 296.8 321.7 297.5 306.7 298.4 318.0 299.2 292.0 300.2 306.7 300.9 307.4 301.6 304.0 302.3 269.2 303.0 288.1 303.8 273.3 304.4 300.0 305.0 290.0 305.8 322.6 306.5 327.5 307.2 335.6 307.9 331.7 308.8 332.4 309.6 317.0 310.6 294.2 311.4 311.2 312.1 302.5 312.9 311.5 313.8 287.9 314.6 312.6 315.4 315.0 316.1 308.1 316.9 281.7 317.6 309.7 318.3 306.7 319.0 313.0 319.6 277.5 320.3 310.1 321.0 296.2 321.8 307.3 322.5 275.4 323.4 311.6 324.2 298.3 325.0 306.0 325.8 287.9 326.6 309.3 327.3 310.8 328.0 312.0 328.8 285.8 329.6 311.4 330.4 315.0 331.2 315.4 332.1 298.3 332.8 317.4 333.5 315.0 334.2 317.5 335.0 292.0 335.9 313.2 336.7 306.7 337.4 308.6 338.1 308.9 338.8 274.4 339.8 306.7 340.5 325.0 341.2 322.6 341.9 317.0 342.6 315.7 343.3 300.4 344.1 317.8 345.0 323.3 345.7 324.0 346.4 305.8 347.1 283.8 347.8 304.7 348.5 279.6 349.6 335.8 350.4 338.2 351.2 336.9 352.3 317.0 353.0 314.1 353.8 290.0 354.5 319.3 355.2 317.0 355.9 327.9 356.7 331.7 357.9 306.7 358.6 302.9 359.4 276.5 360.1 307.3 360.8 306.7 361.6 307.6 362.5 292.0 363.5 312.9 364.2 317.2 364.9 299.9 365.6 272.3 366.3 298.8 367.0 300.4 367.9 303.7 368.8 287.9 369.6 322.9 370.4 335.8 371.1 321.4 371.9 287.9 372.6 304.7 373.3 279.6 374.0 301.7 374.6 277.5 375.3 312.6 376.0 306.7 377.1 317.0 377.9 324.6 378.8 302.5 379.4 313.9 380.1 303.6 380.8 285.8 381.6 314.4 382.3 317.0 383.3 335.8 384.1 329.5 385.0 315.0 385.8 310.8 386.5 292.0 387.2 305.0 387.9 283.8 388.8 307.3 389.6 287.9 390.4 306.2 391.2 302.5 392.0 310.6 392.7 296.2 393.4 313.0 394.2 306.7 395.0 323.5 395.8 317.0 396.6 328.4 397.5 325.4 398.2 329.7 399.0 319.2 400.0 324.7 401.0 306.7 401.8 322.4 402.5 321.2 403.2 330.9 403.9 332.3 404.6 325.4 405.4 330.8 406.2 329.6 406.9 334.8 407.6 333.1 408.3 325.4 409.2 308.8 410.0 322.8 410.8 325.4 411.6 326.5 412.3 312.9 413.0 327.7 413.8 325.4 414.6 327.8 415.4 306.7 416.2 323.8 417.1 325.4 417.8 327.3 418.5 312.9 419.2 329.9 420.0 327.5 420.9 327.6 421.7 306.7 422.5 319.8 423.3 296.2 424.1 305.6 424.8 281.7 425.8 294.2 426.6 306.4 427.5 277.5 428.2 292.2 429.0 275.4 429.7 302.9 430.4 281.7 431.0 309.6 431.7 292.0 432.4 308.2 433.1 285.8 433.9 312.6 434.6 302.5 435.4 314.6 436.2 308.8 437.1 322.3 437.9 304.6 438.6 324.8 439.4 315.0 440.1 326.5 440.8 310.8 441.6 324.3 442.5 319.2 443.2 329.2 443.9 326.7 444.6 321.2 445.3 331.5 446.0 332.0 446.7 325.4 447.4 331.9 448.1 332.4 448.8 331.7 449.4 336.0 450.1 337.0 450.8 334.8 451.5 338.2 452.2 338.0 452.9 335.8 453.6 336.1 454.3 337.2 455.0 331.7 456.0 306.7 456.8 317.3 457.5 315.0 458.1 323.2 458.8 304.6 459.5 319.9 460.2 321.2 461.2 311.7 462.0 315.1 462.8 297.5 463.5 322.8 464.2 321.1 465.1 321.4 465.9 309.3 466.8 322.4 467.6 323.5 468.3 325.9 469.0 311.7 469.8 319.2 470.6 297.5 471.8 316.4 472.8 330.9 473.7 328.2 474.5 328.6 475.3 311.7 476.1 318.2 477.0 285.7 477.7 316.0 478.4 321.1 479.2 328.2 480.0 311.7 480.9 322.9 481.7 323.5 482.6 315.7 483.6 290.4 484.6 306.7 485.5 288.0 486.4 304.1 487.2 292.8 488.0 309.7 488.8 285.7 489.5 309.9 490.2 297.5 491.0 315.5 491.9 307.0 492.7 319.1 493.5 297.5 494.2 313.6 495.0 299.9 495.8 304.0 496.6 279.8 497.8 302.2 499.0 309.3 499.8 320.7 500.6 314.0 501.6 328.9 502.5 323.5 503.4 328.6 504.4 311.7 505.2 315.6 506.0 302.2 507.2 285.7 508.4 314.0 509.2 328.2 510.0 321.1 511.0 329.0 512.0 314.0 512.9 326.7 513.8 323.5 514.6 331.8 515.5 328.2 516.2 330.0 516.9 323.5 517.7 323.6 518.5 304.6 519.4 312.9 520.2 292.8 520.9 317.2 521.6 314.0 522.5 314.7 523.3 302.2 524.1 324.4 524.9 316.4 525.8 321.9 526.8 307.0 527.8 312.5 528.7 292.8 529.5 315.8 530.3 302.2 531.1 308.0 532.0 278.6 532.7 303.0 533.4 290.4 534.2 308.4 535.0 285.7 535.9 293.4 536.7 276.3 537.4 295.0 538.1 266.8 539.0 295.0 539.8 283.3 540.6 313.7 541.4 297.5 542.1 320.6 542.9 309.3 543.7 320.6 544.5 316.4 545.4 326.4 546.2 321.1 547.1 320.4 548.0 307.0 549.0 312.9 550.0 292.8 550.8 315.9 551.6 302.2 552.5 323.1 553.3 314.0 554.2 326.4 555.1 323.5 556.0 331.4 557.0 330.6 557.9 330.0 558.7 321.1 559.5 325.8 560.3 311.7 561.2 322.0 562.2 299.9 563.2 303.7 564.1 285.7 564.8 311.6 565.5 305.4 566.2 302.2 567.0 316.3 567.8 314.0 568.8 316.7 569.7 302.2 570.7 314.3 571.6 292.8 572.5 301.1 573.3 278.6 574.4 273.9 575.0 298.2 575.6 288.0 576.8 276.3 577.4 305.8 578.0 295.1 578.8 295.4 579.6 270.3 580.3 298.3 581.0 271.5 581.9 295.2 582.7 292.8 583.5 305.7 584.4 283.3 585.3 305.3 586.3 302.2 587.2 315.5 588.1 311.7 589.0 325.2 589.8 321.1 590.6 323.6 591.4 309.3 592.3 317.3 593.3 304.6 594.2 313.4 595.2 297.5 596.0 317.2 596.9 311.7 597.7 315.1 598.5 302.2 599.5 317.4 600.4 316.4 601.3 324.4 602.3 311.7 603.1 326.0 604.0 321.1 604.8 326.8 605.6 316.4 606.3 331.0 607.0 328.2 607.9 335.8 608.7 335.3" fill="none" stroke="#FF0000" stroke-width="1.7" stroke-linejoin="round"/>
<path d="M24.50 94.50V88.00M24.50 9.50V16.00M118.00 94.50V88.00M118.00 9.50V16.00M211.50 94.50V88.00M211.50 9.50V16.00M305.50 94.50V88.00M305.50 9.50V16.00M399.00 94.50V88.00M399.00 9.50V16.00M492.80 94.50V88.00M492.80 9.50V16.00M586.80 94.50V88.00M586.80 9.50V16.00M680.50 94.50V88.00M680.50 9.50V16.00M24.50 94.50H31.00M680.50 94.50H674.00M24.50 52.00H31.00M680.50 52.00H674.00M24.50 9.50H31.00M680.50 9.50H674.00" stroke="#858585" stroke-width="1" fill="none"/>
<rect x="24.50" y="9.50" width="656.00" height="85.00" fill="none" stroke="#858585" stroke-width="1"/>
<text x="24.80" y="104.40" font-size="6.6" fill="#3a3a3a" text-anchor="middle">0</text>
<text x="118.30" y="104.40" font-size="6.6" fill="#3a3a3a" text-anchor="middle">2</text>
<text x="211.80" y="104.40" font-size="6.6" fill="#3a3a3a" text-anchor="middle">4</text>
<text x="305.80" y="104.40" font-size="6.6" fill="#3a3a3a" text-anchor="middle">6</text>
<text x="399.30" y="104.40" font-size="6.6" fill="#3a3a3a" text-anchor="middle">8</text>
<text x="493.10" y="104.40" font-size="6.6" fill="#3a3a3a" text-anchor="middle">10</text>
<text x="587.10" y="104.40" font-size="6.6" fill="#3a3a3a" text-anchor="middle">12</text>
<text x="680.80" y="104.40" font-size="6.6" fill="#3a3a3a" text-anchor="middle">14</text>
<text x="664.4" y="115.10" font-size="6.8" fill="#aaa">&#215;</text>
<text x="669.4" y="115.40" font-size="6.8" fill="#3a3a3a">10</text>
<text x="677.5" y="112.20" font-size="4.4" fill="#3a3a3a">4</text>
<text x="21.4" y="96.90" font-size="6.6" fill="#3a3a3a" text-anchor="end">-5</text>
<text x="21.4" y="54.40" font-size="6.6" fill="#3a3a3a" text-anchor="end">0</text>
<text x="21.4" y="11.90" font-size="6.6" fill="#3a3a3a" text-anchor="end">5</text>
<path d="M24.50 216.50V210.00M24.50 131.50V138.00M118.00 216.50V210.00M118.00 131.50V138.00M211.50 216.50V210.00M211.50 131.50V138.00M305.50 216.50V210.00M305.50 131.50V138.00M399.00 216.50V210.00M399.00 131.50V138.00M492.80 216.50V210.00M492.80 131.50V138.00M586.80 216.50V210.00M586.80 131.50V138.00M680.50 216.50V210.00M680.50 131.50V138.00M24.50 216.50H31.00M680.50 216.50H674.00M24.50 195.25H31.00M680.50 195.25H674.00M24.50 174.00H31.00M680.50 174.00H674.00M24.50 152.75H31.00M680.50 152.75H674.00M24.50 131.50H31.00M680.50 131.50H674.00" stroke="#858585" stroke-width="1" fill="none"/>
<rect x="24.50" y="131.50" width="656.00" height="85.00" fill="none" stroke="#858585" stroke-width="1"/>
<text x="24.80" y="226.40" font-size="6.6" fill="#3a3a3a" text-anchor="middle">0</text>
<text x="118.30" y="226.40" font-size="6.6" fill="#3a3a3a" text-anchor="middle">2</text>
<text x="211.80" y="226.40" font-size="6.6" fill="#3a3a3a" text-anchor="middle">4</text>
<text x="305.80" y="226.40" font-size="6.6" fill="#3a3a3a" text-anchor="middle">6</text>
<text x="399.30" y="226.40" font-size="6.6" fill="#3a3a3a" text-anchor="middle">8</text>
<text x="493.10" y="226.40" font-size="6.6" fill="#3a3a3a" text-anchor="middle">10</text>
<text x="587.10" y="226.40" font-size="6.6" fill="#3a3a3a" text-anchor="middle">12</text>
<text x="680.80" y="226.40" font-size="6.6" fill="#3a3a3a" text-anchor="middle">14</text>
<text x="664.4" y="237.10" font-size="6.8" fill="#aaa">&#215;</text>
<text x="669.4" y="237.40" font-size="6.8" fill="#3a3a3a">10</text>
<text x="677.5" y="234.20" font-size="4.4" fill="#3a3a3a">4</text>
<text x="21.4" y="218.90" font-size="6.6" fill="#3a3a3a" text-anchor="end">-4</text>
<text x="21.4" y="197.65" font-size="6.6" fill="#3a3a3a" text-anchor="end">-2</text>
<text x="21.4" y="176.40" font-size="6.6" fill="#3a3a3a" text-anchor="end">0</text>
<text x="21.4" y="155.15" font-size="6.6" fill="#3a3a3a" text-anchor="end">2</text>
<text x="21.4" y="133.90" font-size="6.6" fill="#3a3a3a" text-anchor="end">4</text>
<path d="M24.50 338.50V332.00M24.50 253.00V259.50M118.00 338.50V332.00M118.00 253.00V259.50M211.50 338.50V332.00M211.50 253.00V259.50M305.50 338.50V332.00M305.50 253.00V259.50M399.00 338.50V332.00M399.00 253.00V259.50M492.80 338.50V332.00M492.80 253.00V259.50M586.80 338.50V332.00M586.80 253.00V259.50M680.50 338.50V332.00M680.50 253.00V259.50M24.50 338.50H31.00M680.50 338.50H674.00M24.50 310.00H31.00M680.50 310.00H674.00M24.50 281.50H31.00M680.50 281.50H674.00M24.50 253.00H31.00M680.50 253.00H674.00" stroke="#858585" stroke-width="1" fill="none"/>
<rect x="24.50" y="253.00" width="656.00" height="85.50" fill="none" stroke="#858585" stroke-width="1"/>
<text x="24.80" y="348.40" font-size="6.6" fill="#3a3a3a" text-anchor="middle">0</text>
<text x="118.30" y="348.40" font-size="6.6" fill="#3a3a3a" text-anchor="middle">2</text>
<text x="211.80" y="348.40" font-size="6.6" fill="#3a3a3a" text-anchor="middle">4</text>
<text x="305.80" y="348.40" font-size="6.6" fill="#3a3a3a" text-anchor="middle">6</text>
<text x="399.30" y="348.40" font-size="6.6" fill="#3a3a3a" text-anchor="middle">8</text>
<text x="493.10" y="348.40" font-size="6.6" fill="#3a3a3a" text-anchor="middle">10</text>
<text x="587.10" y="348.40" font-size="6.6" fill="#3a3a3a" text-anchor="middle">12</text>
<text x="680.80" y="348.40" font-size="6.6" fill="#3a3a3a" text-anchor="middle">14</text>
<text x="664.4" y="359.10" font-size="6.8" fill="#aaa">&#215;</text>
<text x="669.4" y="359.40" font-size="6.8" fill="#3a3a3a">10</text>
<text x="677.5" y="356.20" font-size="4.4" fill="#3a3a3a">4</text>
<text x="21.4" y="340.90" font-size="6.6" fill="#3a3a3a" text-anchor="end">0</text>
<text x="21.4" y="312.40" font-size="6.6" fill="#3a3a3a" text-anchor="end">100</text>
<text x="21.4" y="283.90" font-size="6.6" fill="#3a3a3a" text-anchor="end">200</text>
<text x="21.4" y="255.40" font-size="6.6" fill="#3a3a3a" text-anchor="end">300</text>
<text x="334.9" y="6.6" font-size="8.6" font-weight="bold" fill="#111" textLength="33.4" lengthAdjust="spacingAndGlyphs">Signal 1</text>
<text x="334.9" y="128.2" font-size="8.6" font-weight="bold" fill="#111" textLength="34" lengthAdjust="spacingAndGlyphs">Signal 2</text>
<text x="291.8" y="250.7" font-size="7.4" font-weight="bold" fill="#111" textLength="122" lengthAdjust="spacingAndGlyphs">Change of Amplitude over Period</text>
<text x="337" y="115.0" font-size="8.8" fill="#3a3a3a" textLength="30.6" lengthAdjust="spacingAndGlyphs">Packets</text>
<text x="336.0" y="237.2" font-size="8.8" fill="#3a3a3a" textLength="31.1" lengthAdjust="spacingAndGlyphs">Packets</text>
<text x="328" y="357.5" font-size="7.6" fill="#3a3a3a" textLength="48.3" lengthAdjust="spacingAndGlyphs">Window Index</text>
<text transform="translate(11.6 51.8) rotate(-90)" font-size="8.7" fill="#3a3a3a" text-anchor="middle">Amplitude</text>
<text transform="translate(11.4 173.1) rotate(-90)" font-size="8.7" fill="#3a3a3a" text-anchor="middle">Amplitude</text>
<text transform="translate(5.6 295.6) rotate(-90)" font-size="7.7" fill="#3a3a3a" text-anchor="middle">Amplitude Change</text>
<rect x="623.9" y="258.5" width="50.6" height="19" fill="#fff" stroke="#444" stroke-width="0.8"/>
<path d="M626 263.5H648" stroke="#1414E6" stroke-width="1.4"/>
<path d="M626 272.1H648" stroke="#FF0000" stroke-width="1.4"/>
<text x="650" y="266" font-size="6.2" fill="#111" textLength="22" lengthAdjust="spacingAndGlyphs">Signal 1</text>
<text x="650" y="274.4" font-size="6.2" fill="#111" textLength="22" lengthAdjust="spacingAndGlyphs">Signal 2</text>
<path d="M85.60 92.58L85.60 145.62" stroke="#4472C4" stroke-width="0.9"/><path d="M85.60 84.90L80.90 94.50L90.30 94.50Z" fill="#4472C4"/><path d="M85.60 153.30L80.90 143.70L90.30 143.70Z" fill="#4472C4"/>
<path d="M142.08 114.40L196.52 114.40" stroke="#4472C4" stroke-width="0.9"/><path d="M134.40 114.40L144.00 119.10L144.00 109.70Z" fill="#4472C4"/><path d="M204.20 114.40L194.60 119.10L194.60 109.70Z" fill="#4472C4"/>
<path d="M248.30 93.08L248.30 132.82" stroke="#4472C4" stroke-width="0.9"/><path d="M248.30 85.40L243.60 95.00L253.00 95.00Z" fill="#4472C4"/><path d="M248.30 140.50L243.60 130.90L253.00 130.90Z" fill="#4472C4"/>
<path d="M328.94 110.22L370.16 114.68" stroke="#4472C4" stroke-width="0.9"/><path d="M321.30 109.40L330.34 115.10L331.35 105.76Z" fill="#4472C4"/><path d="M377.80 115.50L367.75 119.14L368.76 109.80Z" fill="#4472C4"/>
<path d="M449.96 92.79L416.74 130.91" stroke="#4472C4" stroke-width="0.9"/><path d="M455.00 87.00L445.15 91.15L452.24 97.33Z" fill="#4472C4"/><path d="M411.70 136.70L414.46 126.37L421.55 132.55Z" fill="#4472C4"/>
<path d="M528.31 102.21L574.19 129.39" stroke="#4472C4" stroke-width="0.9"/><path d="M521.70 98.30L527.57 107.24L532.36 99.15Z" fill="#4472C4"/><path d="M580.80 133.30L570.14 132.45L574.93 124.36Z" fill="#4472C4"/>
<text x="35.2" y="116.2" font-size="18.6" fill="#000" textLength="63.2" lengthAdjust="spacingAndGlyphs">D1_1,2</text>
<text x="135.6" y="106.9" font-size="18.6" fill="#000" textLength="62.7" lengthAdjust="spacingAndGlyphs">D2_1,2</text>
<text x="217.5" y="115.6" font-size="18.6" fill="#000" textLength="63.2" lengthAdjust="spacingAndGlyphs">D3_1,2</text>
<text x="315.9" y="106.5" font-size="18.6" fill="#000" textLength="63.0" lengthAdjust="spacingAndGlyphs">D4_1,2</text>
<text x="400.6" y="116.7" font-size="18.6" fill="#000" textLength="62.6" lengthAdjust="spacingAndGlyphs">D5_1,2</text>
<text x="517.8" y="121.7" font-size="18.6" fill="#000" textLength="62.6" lengthAdjust="spacingAndGlyphs">D6_1,2</text>
</svg></body></html>
